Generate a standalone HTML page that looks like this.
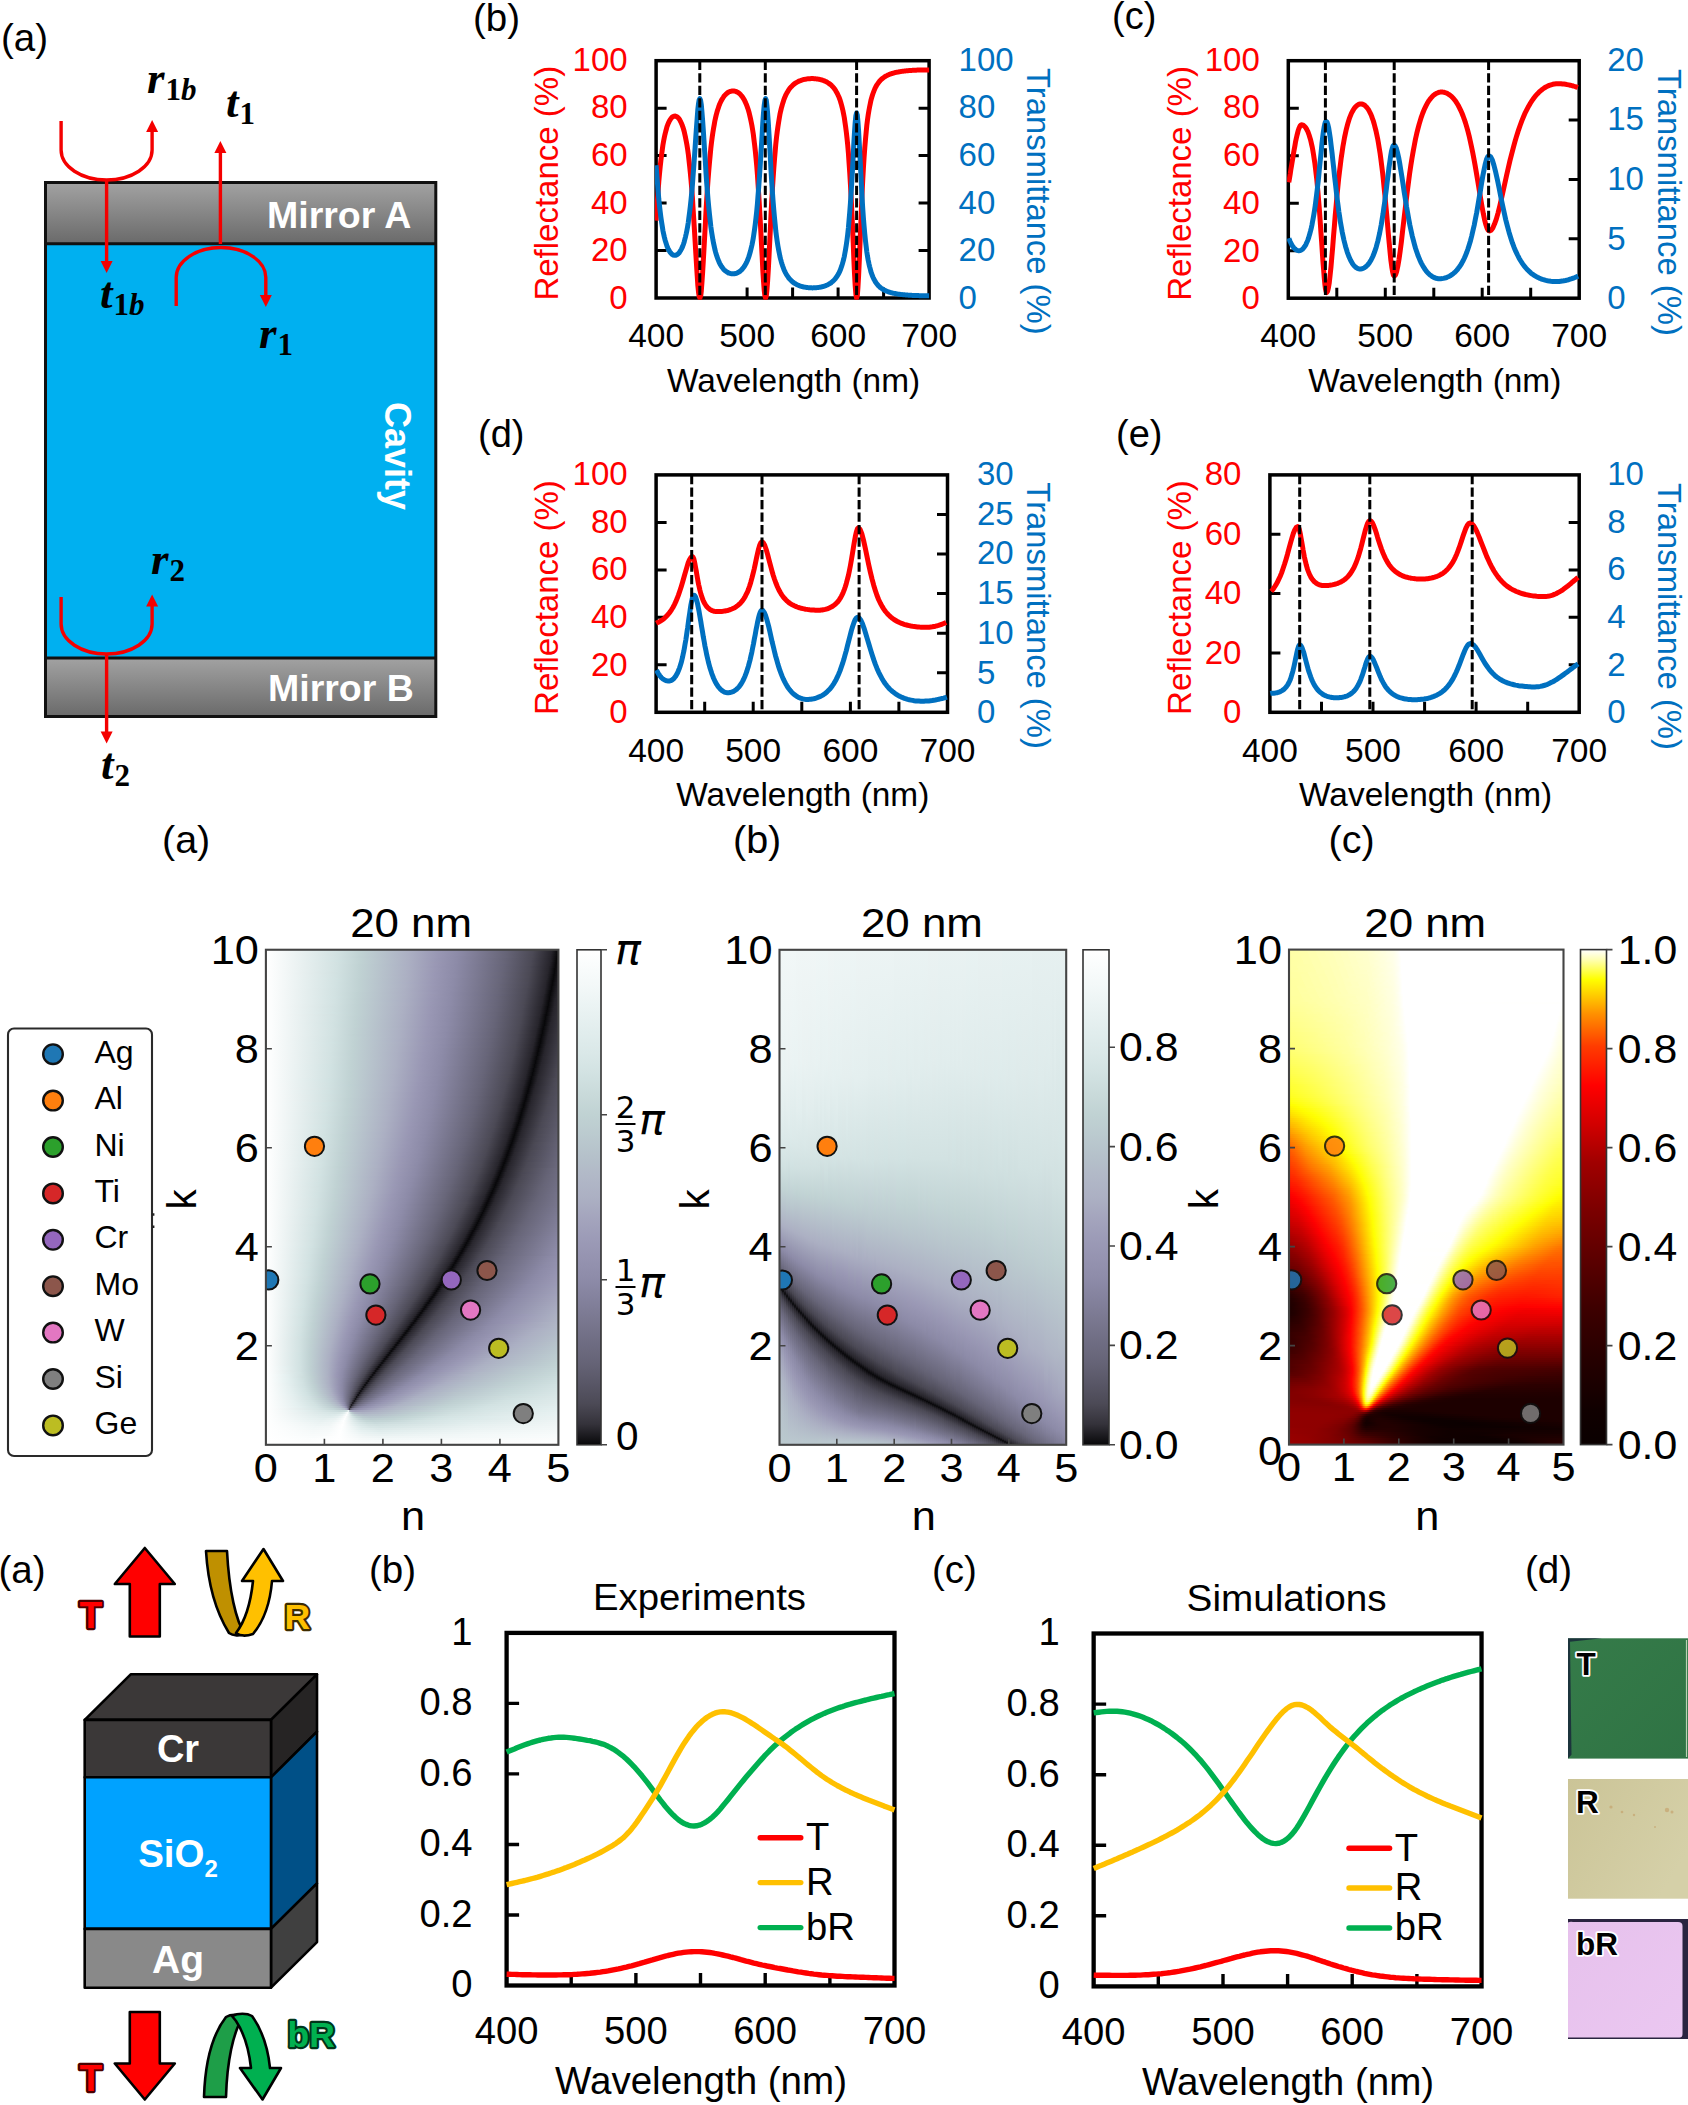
<!DOCTYPE html>
<html><head><meta charset="utf-8"><title>Figure</title>
<style>
html,body{margin:0;padding:0;background:#fff}
#pg{position:relative;width:1688px;height:2105px;overflow:hidden;background:#fff;font-family:"Liberation Sans", sans-serif}
#pg svg{position:absolute;left:0;top:0}
.hm{position:absolute;overflow:hidden}
.hm i{display:block;position:absolute}
.hr i{left:0;width:100%}
.vr i{top:0;height:100%}
svg text{font-family:"Liberation Sans", sans-serif}
</style></head><body><div id="pg">
<div class="hm hr" style="left:266px;top:950px;width:292px;height:495px"><i style="top:0px;height:2px;background:linear-gradient(90deg,#ffffff 0.2%,#d2e2e2 24.5%,#c0d2d3 32.4%,#acb0c3 48.8%,#9997b4 58.7%,#8d8ba8 65.6%,#676579 82%,#4b4954 91.6%,#27252c 97.8%,#0a090c 99.8%)"></i><i style="top:2px;height:2px;background:linear-gradient(90deg,#ffffff 0.2%,#d1e1e1 24.8%,#c0d2d3 32.4%,#acb0c3 48.8%,#9a99b5 58%,#8d8ba8 65.6%,#666477 82.4%,#4c4a56 91.3%,#26242b 97.8%,#08080a 99.8%)"></i><i style="top:4px;height:2px;background:linear-gradient(90deg,#ffffff 0.2%,#d0e0e0 25.2%,#c0d2d3 32.4%,#abafc3 49.1%,#9997b4 58.7%,#8d8ba8 65.6%,#676578 82%,#4b4955 91.3%,#28262d 97.4%,#08080a 99.8%)"></i><i style="top:6px;height:2px;background:linear-gradient(90deg,#ffffff 0.2%,#d2e2e2 24.1%,#c0d2d3 32%,#acb0c3 48.8%,#9997b4 58.7%,#8d8ba8 65.2%,#666477 82.4%,#4b4954 91.3%,#27252c 97.4%,#0a090c 99.5%,#08080a 99.8%)"></i><i style="top:8px;height:2px;background:linear-gradient(90deg,#ffffff 0.2%,#d2e2e2 24.1%,#c0d2d3 32.4%,#acb0c3 48.8%,#9997b4 58.4%,#8d8ba8 65.2%,#666477 82%,#4c4a56 90.9%,#26242b 97.4%,#08080a 99.5%,#0b0b0d 99.8%)"></i><i style="top:10px;height:2px;background:linear-gradient(90deg,#ffffff 0.2%,#d1e2e2 24.5%,#c0d2d3 32.4%,#acb0c3 48.5%,#9a99b5 57.7%,#8d8ba8 65.2%,#686679 81.3%,#4c4a57 90.6%,#2a2830 96.7%,#201f25 97.8%,#0b0b0d 99.1%,#08080a 99.5%,#0d0c0f 99.8%)"></i><i style="top:12px;height:2px;background:linear-gradient(90deg,#ffffff 0.2%,#d1e1e1 24.8%,#c0d2d3 32.4%,#acb0c3 48.5%,#9a98b4 58%,#8d8ba8 65.2%,#676578 81.7%,#4b4955 90.9%,#27252c 97.1%,#0a090c 99.1%,#08080a 99.5%,#0e0e11 99.8%)"></i><i style="top:14px;height:2px;background:linear-gradient(90deg,#ffffff 0.2%,#d2e2e2 24.1%,#c0d2d3 32%,#abafc3 48.8%,#9997b4 58.4%,#8d8ba8 64.9%,#676579 81.3%,#4c4a56 90.6%,#26242b 97.1%,#08080a 99.1%,#100f12 99.8%)"></i><i style="top:16px;height:2px;background:linear-gradient(90deg,#ffffff 0.2%,#d2e2e2 24.1%,#c0d2d3 32%,#acb0c3 48.5%,#9997b4 58%,#8d8ba8 64.9%,#686679 81%,#4c4a57 90.2%,#28262d 96.7%,#08080a 99.1%,#111114 99.8%)"></i><i style="top:18px;height:2px;background:linear-gradient(90deg,#ffffff 0.2%,#d2e2e2 24.1%,#c0d2d3 32%,#acb0c3 48.5%,#9997b4 58.4%,#8d8ba8 64.9%,#676578 81.3%,#4b4955 90.6%,#27252c 96.7%,#08080a 98.8%,#0a090c 99.1%,#141317 99.8%)"></i><i style="top:20px;height:2px;background:linear-gradient(90deg,#ffffff 0.2%,#d1e1e1 24.5%,#c0d2d3 32%,#acb0c3 48.1%,#9a98b4 57.7%,#8d8ba8 64.6%,#676579 81%,#4c4a56 90.2%,#26242b 96.7%,#08080a 98.8%,#141317 99.8%)"></i><i style="top:22px;height:2px;background:linear-gradient(90deg,#ffffff 0.2%,#d0e0e0 24.8%,#c0d2d3 32%,#acb0c3 48.1%,#9997b4 58%,#8c8aa7 64.9%,#69677a 80.3%,#4b4955 90.2%,#28262d 96.4%,#08080a 98.8%,#17161b 99.8%)"></i><i style="top:24px;height:2px;background:linear-gradient(90deg,#ffffff 0.2%,#d2e2e2 23.8%,#c0d2d3 32%,#abaec2 48.8%,#9a98b5 57.4%,#8d8ba8 64.6%,#676578 81%,#4b4954 90.2%,#29272e 96.1%,#1d1c21 97.1%,#08080a 98.5%,#0a090c 98.8%,#19181c 99.8%)"></i><i style="top:26px;height:2px;background:linear-gradient(90deg,#ffffff 0.2%,#d2e2e2 23.8%,#c0d2d3 32%,#acb0c3 48.1%,#9997b4 58%,#8d8ba8 64.6%,#676579 80.7%,#4c4a56 89.9%,#26242b 96.4%,#1a191e 97.1%,#08080a 98.5%,#1a191e 99.8%)"></i><i style="top:28px;height:2px;background:linear-gradient(90deg,#ffffff 0.2%,#d1e2e2 24.1%,#c0d2d3 31.7%,#abafc2 48.5%,#9a98b4 57.4%,#8d8ba8 64.2%,#69677a 80%,#4b4955 89.9%,#28262d 96.1%,#0e0e11 97.8%,#08080a 98.5%,#1d1c21 99.8%)"></i><i style="top:30px;height:2px;background:linear-gradient(90deg,#ffffff 0.2%,#d1e1e1 24.5%,#c0d2d3 31.7%,#acb0c3 47.8%,#9997b4 57.7%,#8d8ba8 64.2%,#676578 80.7%,#4b4954 89.9%,#29272e 95.7%,#1d1c21 96.7%,#08080a 98.1%,#0a090c 98.5%,#1f1d23 99.8%)"></i><i style="top:32px;height:2px;background:linear-gradient(90deg,#ffffff 0.2%,#d2e2e2 23.8%,#c0d2d3 31.7%,#abafc3 48.1%,#9a98b5 57%,#8d8ba8 64.2%,#68667a 80%,#4c4a56 89.6%,#28262d 95.7%,#08080a 98.1%,#201f25 99.8%)"></i><i style="top:34px;height:2px;background:linear-gradient(90deg,#ffffff 0.2%,#d2e2e2 23.8%,#c0d2d3 31.7%,#acb0c3 47.8%,#9997b4 57.7%,#8d8ba8 64.2%,#69677a 79.6%,#4b4955 89.6%,#27252c 95.7%,#0a090c 97.8%,#08080a 98.1%,#222026 99.8%)"></i><i style="top:36px;height:2px;background:linear-gradient(90deg,#ffffff 0.2%,#d2e2e2 23.8%,#c0d2d3 31.7%,#acb0c3 47.8%,#9a98b4 57%,#8d8ba8 63.9%,#676578 80.3%,#4b4954 89.6%,#26242b 95.7%,#08080a 97.8%,#232228 99.8%)"></i><i style="top:38px;height:2px;background:linear-gradient(90deg,#ffffff 0.2%,#d1e1e1 24.1%,#c0d2d3 31.7%,#acb0c3 47.4%,#9997b4 57.4%,#8e8ca9 63.5%,#68667a 79.6%,#4b4955 89.2%,#28262d 95.4%,#08080a 97.8%,#26242b 99.8%)"></i><i style="top:40px;height:2px;background:linear-gradient(90deg,#ffffff 0.2%,#d2e2e2 23.5%,#c0d2d3 31.7%,#acb0c3 47.4%,#9997b4 57%,#8d8ba8 63.9%,#69677a 79.3%,#4b4955 89.2%,#27252c 95.4%,#08080a 97.4%,#0a090c 97.8%,#27252c 99.8%)"></i><i style="top:42px;height:2px;background:linear-gradient(90deg,#ffffff 0.2%,#d2e2e2 23.5%,#c0d2d3 31.3%,#abaec2 48.1%,#9997b4 57.4%,#8d8ba8 63.5%,#676578 80%,#4c4a56 88.9%,#26242b 95.4%,#0b0b0d 97.1%,#08080a 97.4%,#28262d 99.8%)"></i><i style="top:44px;height:2px;background:linear-gradient(90deg,#ffffff 0.2%,#d2e2e2 23.5%,#c0d2d3 31.3%,#acb0c3 47.4%,#9a98b4 56.7%,#8d8ba8 63.5%,#676579 79.6%,#4b4955 88.9%,#28262d 95%,#0e0e11 96.7%,#08080a 97.4%,#1d1c21 98.8%,#29272e 99.8%)"></i><i style="top:46px;height:2px;background:linear-gradient(90deg,#ffffff 0.2%,#d1e2e2 23.8%,#c0d2d3 31.3%,#abafc2 47.8%,#9997b4 57%,#8e8ca9 63.2%,#69677a 78.9%,#4b4955 88.9%,#26242b 95%,#08080a 97.1%,#28262d 99.5%,#2a282f 99.8%)"></i><i style="top:48px;height:2px;background:linear-gradient(90deg,#ffffff 0.2%,#d2e2e2 23.5%,#c0d2d3 31%,#acb0c3 47.1%,#9997b4 56.7%,#8d8ba8 63.5%,#676578 79.6%,#4c4a56 88.5%,#28262d 94.7%,#08080a 97.1%,#26242b 99.1%,#2a2830 99.8%)"></i><i style="top:50px;height:2px;background:linear-gradient(90deg,#ffffff 0.2%,#d2e2e2 23.5%,#c0d2d3 31.3%,#abafc3 47.4%,#9a99b5 56%,#8d8ba8 63.2%,#676579 79.3%,#4b4955 88.5%,#27252c 94.7%,#0a090c 96.7%,#0a090c 97.1%,#232228 98.8%,#2b2931 99.8%)"></i><i style="top:52px;height:2px;background:linear-gradient(90deg,#ffffff 0.2%,#d2e2e2 23.5%,#c0d2d3 31.3%,#acb0c3 47.1%,#9997b4 56.7%,#8d8ba8 63.2%,#666477 79.6%,#4b4954 88.5%,#26242b 94.7%,#08080a 96.7%,#25232a 98.8%,#2c2a32 99.8%)"></i><i style="top:54px;height:2px;background:linear-gradient(90deg,#ffffff 0.2%,#d1e1e1 23.8%,#c0d2d3 31%,#acb0c3 47.1%,#9998b4 56.3%,#8d8ba8 63.2%,#676578 79.3%,#4b4955 88.2%,#28262d 94.3%,#08080a 96.7%,#26242b 98.8%,#2d2b32 99.8%)"></i><i style="top:56px;height:2px;background:linear-gradient(90deg,#ffffff 0.2%,#d0e0e0 24.1%,#c0d2d3 31%,#acb0c3 46.7%,#9997b4 56.3%,#8d8ba8 62.8%,#676579 78.9%,#4b4955 88.2%,#26242b 94.3%,#08080a 96.4%,#0a090c 96.7%,#28262d 98.8%,#2e2c34 99.8%)"></i><i style="top:58px;height:2px;background:linear-gradient(90deg,#ffffff 0.2%,#d2e2e2 23.1%,#c0d2d3 31%,#acb0c3 46.7%,#9997b4 56.3%,#8d8ba8 62.8%,#686679 78.6%,#4c4a56 87.8%,#28262d 94%,#08080a 96.4%,#26242b 98.5%,#2e2c34 99.8%)"></i><i style="top:60px;height:2px;background:linear-gradient(90deg,#ffffff 0.2%,#d2e2e2 23.1%,#c0d2d3 31%,#acb0c3 46.7%,#9997b4 56.3%,#8d8ba8 62.8%,#666477 79.3%,#4b4955 87.8%,#27252c 94%,#0a090c 96.1%,#0a090c 96.4%,#27252c 98.5%,#2f2d35 99.8%)"></i><i style="top:62px;height:2px;background:linear-gradient(90deg,#ffffff 0.2%,#d1e2e2 23.5%,#c0d2d3 31%,#acb0c3 46.7%,#9997b4 56.3%,#8d8ba8 62.5%,#666477 78.9%,#4b4955 87.8%,#26242b 94%,#08080a 96.1%,#25232a 98.1%,#302e36 99.8%)"></i><i style="top:64px;height:2px;background:linear-gradient(90deg,#ffffff 0.2%,#d0e0e0 24.1%,#c0d2d3 31%,#acb0c3 46.4%,#9997b4 56%,#8c8aa7 62.8%,#676578 78.6%,#4c4a56 87.5%,#28262d 93.7%,#0a090c 95.7%,#08080a 96.1%,#26242b 98.1%,#312f37 99.8%)"></i><i style="top:66px;height:2px;background:linear-gradient(90deg,#ffffff 0.2%,#d2e2e2 23.1%,#c0d2d3 30.7%,#acb0c3 46.4%,#9997b4 56%,#8d8ba8 62.5%,#676579 78.3%,#4b4955 87.5%,#26242b 93.7%,#08080a 95.7%,#28262d 98.1%,#323038 99.8%)"></i><i style="top:68px;height:2px;background:linear-gradient(90deg,#ffffff 0.2%,#d2e2e2 23.1%,#c0d2d3 30.7%,#abafc2 46.7%,#9997b4 56%,#8d8ba8 62.2%,#676578 78.3%,#4b4954 87.5%,#28262d 93.3%,#08080a 95.7%,#26242b 97.8%,#323039 99.8%)"></i><i style="top:70px;height:2px;background:linear-gradient(90deg,#ffffff 0.2%,#d1e1e1 23.5%,#c0d2d3 30.7%,#acb0c3 46.4%,#9997b4 55.7%,#8c8aa7 62.5%,#676578 78.3%,#4b4955 87.2%,#27252c 93.3%,#08080a 95.4%,#0a090c 95.7%,#27252c 97.8%,#34323a 99.8%)"></i><i style="top:72px;height:2px;background:linear-gradient(90deg,#ffffff 0.2%,#cfe0e0 24.1%,#c0d2d3 30.7%,#acb0c3 46.1%,#9997b4 55.7%,#8d8ba8 62.2%,#676579 77.9%,#4b4955 87.2%,#26242b 93.3%,#1a191e 94%,#08080a 95.4%,#0b0b0d 95.7%,#26242b 97.4%,#34323b 99.8%)"></i><i style="top:74px;height:2px;background:linear-gradient(90deg,#ffffff 0.2%,#d2e2e2 22.8%,#c0d2d3 30.7%,#acb0c3 46.1%,#9997b4 55.7%,#8d8ba8 62.2%,#666477 78.3%,#4c4a56 86.8%,#28262d 93%,#0e0e11 94.7%,#08080a 95.4%,#27252c 97.4%,#35333c 99.8%)"></i><i style="top:76px;height:2px;background:linear-gradient(90deg,#ffffff 0.2%,#d2e2e2 22.8%,#c0d2d3 30.7%,#abafc2 46.4%,#9997b4 55.3%,#8c8aa7 62.2%,#666477 78.3%,#4b4955 86.8%,#26242b 93%,#08080a 95%,#25232a 97.1%,#36343d 99.8%)"></i><i style="top:78px;height:2px;background:linear-gradient(90deg,#ffffff 0.2%,#d1e1e1 23.5%,#c0d1d3 30.7%,#acb0c3 46.1%,#9a98b5 55%,#8d8ba8 61.8%,#666477 77.9%,#4c4a56 86.5%,#28262d 92.6%,#0a090c 94.7%,#08080a 95%,#26242b 97.1%,#37353e 99.8%)"></i><i style="top:80px;height:2px;background:linear-gradient(90deg,#ffffff 0.2%,#d2e2e2 22.8%,#c0d2d3 30.3%,#acb0c3 45.7%,#9997b4 55.3%,#8d8ba8 61.8%,#676578 77.6%,#4b4955 86.5%,#26242b 92.6%,#08080a 94.7%,#28262d 97.1%,#38363f 99.8%)"></i><i style="top:82px;height:2px;background:linear-gradient(90deg,#ffffff 0.2%,#d2e2e2 22.8%,#c0d2d3 30.3%,#acb0c3 45.7%,#9a98b5 54.6%,#8c8aa7 61.8%,#676579 77.2%,#4b4954 86.5%,#28262d 92.3%,#08080a 94.7%,#26242b 96.7%,#393740 99.8%)"></i><i style="top:84px;height:2px;background:linear-gradient(90deg,#ffffff 0.2%,#d2e2e2 22.8%,#c0d2d3 30%,#acb0c3 45.7%,#9997b4 55%,#8d8ba8 61.5%,#656376 77.9%,#4b4955 86.1%,#27252c 92.3%,#08080a 94.3%,#0e0e11 95%,#28262d 96.7%,#3a3841 99.8%)"></i><i style="top:86px;height:2px;background:linear-gradient(90deg,#ffffff 0.2%,#d1e1e1 23.1%,#c0d2d3 30.3%,#acb0c3 45.7%,#9a98b4 54.6%,#8d8ba8 61.5%,#666477 77.6%,#4b4955 86.1%,#29272e 92%,#08080a 94.3%,#26242b 96.4%,#3b3942 99.8%)"></i><i style="top:88px;height:2px;background:linear-gradient(90deg,#ffffff 0.2%,#d2e2e2 22.4%,#c0d2d3 30.3%,#acb0c3 45.4%,#9998b4 54.6%,#8c8aa7 61.5%,#666477 77.2%,#4c4a56 85.8%,#27252c 92%,#08080a 94%,#0a090c 94.3%,#27252c 96.4%,#3b3943 99.8%)"></i><i style="top:90px;height:2px;background:linear-gradient(90deg,#ffffff 0.2%,#d2e2e2 22.4%,#c0d2d3 30%,#abafc3 45.7%,#9997b4 54.6%,#8d8ba8 61.1%,#676578 76.9%,#4b4955 85.8%,#26242b 92%,#0b0b0d 93.7%,#08080a 94%,#0b0b0d 94.3%,#26242b 96.1%,#3c3a44 99.8%)"></i><i style="top:92px;height:2px;background:linear-gradient(90deg,#ffffff 0.2%,#d1e2e2 22.8%,#c0d2d3 30%,#acb0c3 45.4%,#9a98b4 54.3%,#8d8ba8 61.1%,#676579 76.5%,#4c4a56 85.4%,#28262d 91.6%,#0e0e11 93.3%,#08080a 94%,#27252c 96.1%,#3d3b45 99.8%)"></i><i style="top:94px;height:2px;background:linear-gradient(90deg,#ffffff 0.2%,#d2e2e2 22.4%,#c0d2d3 30%,#abafc2 45.7%,#9997b4 54.6%,#8c8aa7 61.1%,#666477 76.9%,#4b4955 85.4%,#26242b 91.6%,#08080a 93.7%,#29272e 96.1%,#3e3c46 99.8%)"></i><i style="top:96px;height:2px;background:linear-gradient(90deg,#ffffff 0.2%,#d2e2e2 22.4%,#c0d2d3 30%,#acb0c3 45%,#9997b4 54.3%,#8d8ba8 60.8%,#676578 76.5%,#4b4954 85.4%,#28262d 91.3%,#0a090c 93.3%,#08080a 93.7%,#27252c 95.7%,#3f3d48 99.8%)"></i><i style="top:98px;height:2px;background:linear-gradient(90deg,#ffffff 0.2%,#d2e2e2 22.4%,#c0d2d3 30%,#acb0c3 45%,#9997b4 54.3%,#8d8ba8 60.4%,#666477 76.5%,#4a4854 85.4%,#26242b 91.3%,#08080a 93.3%,#28262d 95.7%,#403e48 99.8%)"></i><i style="top:100px;height:2px;background:linear-gradient(90deg,#ffffff 0.2%,#d2e2e2 22.4%,#c0d2d3 29.6%,#acb0c3 45%,#9997b4 54.3%,#8d8ba8 60.4%,#676578 76.2%,#4c4a56 84.8%,#28262d 90.9%,#25232a 91.3%,#0a090c 93%,#08080a 93.3%,#27252c 95.4%,#413f4a 99.8%)"></i><i style="top:102px;height:2px;background:linear-gradient(90deg,#ffffff 0.2%,#d2e2e2 22.1%,#c0d2d3 29.6%,#acb0c3 44.7%,#9997b4 53.9%,#8d8ba8 60.4%,#676579 75.9%,#4a4854 85.1%,#26242b 90.9%,#08080a 93%,#28262d 95.4%,#42404b 99.8%)"></i><i style="top:104px;height:2px;background:linear-gradient(90deg,#ffffff 0.2%,#d2e2e2 22.1%,#c0d2d3 29.6%,#acb0c3 44.7%,#9997b4 53.9%,#8d8ba8 60.1%,#676578 75.9%,#4b4955 84.8%,#28262d 90.6%,#08080a 93%,#26242b 95%,#43414c 99.8%)"></i><i style="top:106px;height:2px;background:linear-gradient(90deg,#ffffff 0.2%,#d1e1e1 22.8%,#c0d2d3 29.6%,#acb0c3 44.7%,#9997b4 53.9%,#8c8aa7 60.4%,#676579 75.5%,#4c4a56 84.4%,#27252c 90.6%,#08080a 92.6%,#28262d 95%,#44424d 99.8%)"></i><i style="top:108px;height:2px;background:linear-gradient(90deg,#ffffff 0.2%,#d2e2e2 22.1%,#c0d2d3 29.6%,#acb0c3 44.7%,#9997b4 53.6%,#8c8aa7 60.4%,#666477 75.9%,#4b4955 84.4%,#28262d 90.2%,#08080a 92.6%,#26242b 94.7%,#45434e 99.8%)"></i><i style="top:110px;height:2px;background:linear-gradient(90deg,#ffffff 0.2%,#d2e2e2 22.1%,#c0d2d3 29.3%,#acb0c3 44.3%,#9997b4 53.6%,#8d8ba8 59.8%,#676578 75.5%,#4c4a56 84.1%,#27252c 90.2%,#08080a 92.3%,#28262d 94.7%,#464450 99.8%)"></i><i style="top:112px;height:2px;background:linear-gradient(90deg,#ffffff 0.2%,#d2e2e2 22.1%,#c0d2d3 29.3%,#acb0c3 44.3%,#9997b4 53.6%,#8d8ba8 59.8%,#676578 75.2%,#4b4955 84.1%,#28262d 89.9%,#08080a 92.3%,#26242b 94.3%,#474550 99.8%)"></i><i style="top:114px;height:2px;background:linear-gradient(90deg,#ffffff 0.2%,#d1e2e2 22.1%,#c0d2d3 29.3%,#acb0c3 44.3%,#9997b4 53.3%,#8d8ba8 59.8%,#686679 74.8%,#4c4a56 83.7%,#27252c 89.9%,#08080a 92%,#28262d 94.3%,#484652 99.8%)"></i><i style="top:116px;height:2px;background:linear-gradient(90deg,#ffffff 0.2%,#d1e2e2 22.1%,#c0d2d3 29.3%,#abafc2 44.7%,#9997b4 53.3%,#8d8ba8 59.4%,#666477 75.2%,#4b4955 83.7%,#28262d 89.6%,#08080a 92%,#27252c 94%,#494753 99.8%)"></i><i style="top:118px;height:2px;background:linear-gradient(90deg,#ffffff 0.2%,#d1e2e2 22.1%,#c0d2d3 29.3%,#acb0c3 44%,#9997b4 53.3%,#8d8ba8 59.4%,#676578 74.8%,#4c4a56 83.4%,#27252c 89.6%,#08080a 91.6%,#28262d 94%,#4b4954 99.8%)"></i><i style="top:120px;height:2px;background:linear-gradient(90deg,#ffffff 0.2%,#d2e2e2 21.7%,#c0d2d3 28.9%,#acb0c3 44%,#9997b4 52.9%,#8d8ba8 59.1%,#676579 74.5%,#4b4955 83.4%,#28262d 89.2%,#08080a 91.6%,#27252c 93.7%,#4b4955 99.8%)"></i><i style="top:122px;height:2px;background:linear-gradient(90deg,#ffffff 0.2%,#d2e2e2 21.7%,#c0d2d3 28.9%,#acb0c3 44%,#9a98b4 52.6%,#8c8aa7 59.4%,#676578 74.5%,#4b4954 83.4%,#27252c 89.2%,#08080a 91.3%,#28262d 93.7%,#4c4a56 99.8%)"></i><i style="top:124px;height:2px;background:linear-gradient(90deg,#ffffff 0.2%,#d2e2e2 21.7%,#c0d2d3 28.9%,#acb0c3 43.7%,#9998b4 52.6%,#8d8ba8 59.1%,#676579 74.1%,#4b4955 83%,#28262d 88.9%,#08080a 91.3%,#27252c 93.3%,#4c4a57 99.8%)"></i><i style="top:126px;height:2px;background:linear-gradient(90deg,#ffffff 0.2%,#d2e2e2 21.7%,#c0d2d3 28.9%,#acb0c3 43.7%,#9997b4 52.6%,#8c8aa7 59.1%,#676578 74.1%,#4b4954 83%,#27252c 88.9%,#08080a 90.9%,#29272e 93.3%,#4d4b57 99.8%)"></i><i style="top:128px;height:2px;background:linear-gradient(90deg,#ffffff 0.2%,#d1e2e2 21.7%,#c0d2d3 28.9%,#acb0c3 43.7%,#9997b4 52.6%,#8d8ba8 58.7%,#676579 73.8%,#4b4955 82.7%,#28262d 88.5%,#25232a 88.9%,#0a090c 90.6%,#08080a 90.9%,#27252c 93%,#4a4854 98.8%,#4e4c58 99.8%)"></i><i style="top:130px;height:2px;background:linear-gradient(90deg,#ffffff 0.2%,#d1e2e2 21.7%,#c0d2d3 28.6%,#acb0c3 43.3%,#9997b4 52.6%,#8d8ba8 58.4%,#666477 74.1%,#4b4954 82.7%,#26242b 88.5%,#08080a 90.6%,#29272e 93%,#474550 98.1%,#4e4c59 99.8%)"></i><i style="top:132px;height:2px;background:linear-gradient(90deg,#ffffff 0.2%,#d2e2e2 21.4%,#c0d2d3 28.6%,#acb0c3 43.3%,#9997b4 52.2%,#8c8aa7 58.7%,#676578 73.8%,#4b4955 82.4%,#28262d 88.2%,#25232a 88.5%,#0e0e11 89.9%,#08080a 90.6%,#27252c 92.6%,#4a4854 98.5%,#4f4d5a 99.8%)"></i><i style="top:134px;height:2px;background:linear-gradient(90deg,#ffffff 0.2%,#d2e2e2 21.4%,#bfd1d3 28.9%,#acb0c3 43.3%,#9997b4 52.2%,#8d8ba8 58.4%,#676578 73.5%,#4c4a56 82%,#26242b 88.2%,#08080a 90.2%,#0b0b0d 90.6%,#26242b 92.3%,#4b4955 98.5%,#4f4d5a 99.8%)"></i><i style="top:136px;height:2px;background:linear-gradient(90deg,#ffffff 0.2%,#d2e2e2 21.4%,#c0d2d3 28.6%,#acb0c3 43%,#9997b4 51.9%,#8c8aa7 58.4%,#676578 73.5%,#4b4955 82%,#28262d 87.8%,#0a090c 89.9%,#0a090c 90.2%,#28262d 92.3%,#464450 97.4%,#504e5b 99.8%)"></i><i style="top:138px;height:2px;background:linear-gradient(90deg,#ffffff 0.2%,#d3e2e2 21.1%,#c0d2d3 28.6%,#acb0c3 43%,#9997b4 51.9%,#8d8ba8 58%,#676578 73.1%,#4c4a56 81.7%,#26242b 87.8%,#0b0b0d 89.6%,#08080a 89.9%,#222026 91.6%,#29272e 92.3%,#494753 97.8%,#504e5c 99.8%)"></i><i style="top:140px;height:2px;background:linear-gradient(90deg,#ffffff 0.2%,#d1e2e2 21.4%,#c0d2d3 28.3%,#acb0c3 43%,#9997b4 51.9%,#8d8ba8 57.7%,#676578 73.1%,#4b4955 81.7%,#27252c 87.5%,#08080a 89.6%,#0a090c 89.9%,#25232a 91.6%,#28262d 92%,#4b4954 97.8%,#514f5c 99.8%)"></i><i style="top:142px;height:2px;background:linear-gradient(90deg,#ffffff 0.2%,#d1e2e2 21.4%,#c0d2d3 28.3%,#acb0c3 42.6%,#9997b4 51.5%,#8d8ba8 57.7%,#676578 72.8%,#4c4a56 81.3%,#26242b 87.5%,#100f12 88.9%,#08080a 89.6%,#27252c 91.6%,#4b4955 97.8%,#514f5d 99.8%)"></i><i style="top:144px;height:2px;background:linear-gradient(90deg,#ffffff 0.2%,#d2e2e2 21.1%,#c0d2d3 28.3%,#acb0c3 42.6%,#9997b4 51.5%,#8d8ba8 57.7%,#676578 72.8%,#4b4955 81.3%,#27252c 87.2%,#08080a 89.2%,#29272e 91.6%,#494752 97.1%,#52505e 99.8%)"></i><i style="top:146px;height:2px;background:linear-gradient(90deg,#ffffff 0.2%,#d2e2e2 21.1%,#c0d2d3 28.3%,#acb0c3 42.6%,#9997b4 51.5%,#8d8ba8 57.4%,#676578 72.4%,#4a4854 81.3%,#29272e 86.8%,#201f25 87.5%,#0a090c 88.9%,#08080a 89.2%,#232228 90.9%,#2a282f 91.6%,#4a4854 97.1%,#53515f 99.8%)"></i><i style="top:148px;height:2px;background:linear-gradient(90deg,#ffffff 0.2%,#d2e2e2 21.1%,#c0d2d3 27.9%,#acb0c3 42.3%,#9997b4 51.2%,#8d8ba8 57.4%,#676578 72.4%,#4c4a56 80.7%,#27252c 86.8%,#08080a 88.9%,#0b0b0d 89.2%,#26242b 90.9%,#494753 96.7%,#53515f 99.8%)"></i><i style="top:150px;height:2px;background:linear-gradient(90deg,#ffffff 0.2%,#d3e2e2 20.7%,#c0d2d3 27.9%,#acb0c3 42.3%,#9997b4 51.2%,#8d8ba8 57%,#676578 72.1%,#4b4955 80.7%,#28262d 86.5%,#25232a 86.8%,#0a090c 88.5%,#0a090c 88.9%,#28262d 90.9%,#4b4954 96.7%,#545261 99.8%)"></i><i style="top:152px;height:2px;background:linear-gradient(90deg,#ffffff 0.2%,#d1e2e2 21.1%,#c0d2d3 27.9%,#acb0c3 42.3%,#9997b4 50.9%,#8d8ba8 57%,#676578 72.1%,#4c4a56 80.3%,#26242b 86.5%,#0b0b0d 88.2%,#08080a 88.5%,#222026 90.2%,#29272e 90.9%,#4b4955 96.7%,#555361 99.8%)"></i><i style="top:154px;height:2px;background:linear-gradient(90deg,#ffffff 0.2%,#d1e2e2 21.1%,#c0d2d3 27.9%,#acb0c3 42%,#9997b4 50.9%,#8d8ba8 56.7%,#666477 72.1%,#4b4955 80.3%,#27252c 86.1%,#08080a 88.2%,#0a090c 88.5%,#25232a 90.2%,#2a2830 90.9%,#4b4954 96.4%,#555362 99.8%)"></i><i style="top:156px;height:2px;background:linear-gradient(90deg,#ffffff 0.2%,#d2e2e2 20.7%,#c0d2d3 27.9%,#acb0c3 42%,#9998b4 50.5%,#8d8ba8 56.7%,#676579 71.4%,#4b4954 80.3%,#29272e 85.8%,#08080a 88.2%,#27252c 90.2%,#2a282f 90.6%,#4c4a56 96.4%,#565463 99.8%)"></i><i style="top:158px;height:2px;background:linear-gradient(90deg,#ffffff 0.2%,#d2e2e2 20.7%,#c0d2d3 27.6%,#acb0c3 42%,#9997b4 50.5%,#8c8aa6 57%,#676578 71.4%,#4b4955 80%,#27252c 85.8%,#08080a 87.8%,#100f12 88.5%,#26242b 89.9%,#2b2930 90.6%,#4b4955 96.1%,#575564 99.8%)"></i><i style="top:160px;height:2px;background:linear-gradient(90deg,#ffffff 0.2%,#d2e2e2 20.7%,#c0d2d3 27.6%,#acb0c3 41.6%,#9997b4 50.5%,#8d8ba8 56.3%,#676579 71.1%,#4c4a56 79.6%,#28262d 85.4%,#25232a 85.8%,#0a090c 87.5%,#0a090c 87.8%,#28262d 89.9%,#4b4954 95.7%,#575564 99.8%)"></i><i style="top:162px;height:2px;background:linear-gradient(90deg,#ffffff 0.2%,#d2e2e2 20.4%,#c0d2d3 27.6%,#acb0c3 41.6%,#9997b4 50.2%,#8d8ba8 56.3%,#676578 71.1%,#4c4a56 79.3%,#26242b 85.4%,#0b0b0d 87.2%,#08080a 87.5%,#222026 89.2%,#29272e 89.9%,#4a4854 95.4%,#585665 99.8%)"></i><i style="top:164px;height:2px;background:linear-gradient(90deg,#ffffff 0.2%,#d1e2e2 20.7%,#c0d2d3 27.6%,#acb0c3 41.6%,#9997b4 50.2%,#8d8ba8 56%,#676579 70.7%,#4b4955 79.3%,#27252c 85.1%,#08080a 87.2%,#0a090c 87.5%,#201f25 88.9%,#29272e 89.6%,#4b4955 95.4%,#595766 99.8%)"></i><i style="top:166px;height:2px;background:linear-gradient(90deg,#ffffff 0.2%,#d2e2e2 20.4%,#c0d2d3 27.2%,#acb0c3 41.3%,#9998b4 49.8%,#8d8ba8 56%,#666477 71.1%,#4c4a56 78.9%,#29272e 84.8%,#201f25 85.4%,#0a090c 86.8%,#08080a 87.2%,#232228 88.9%,#2a282f 89.6%,#4b4954 95%,#595767 99.8%)"></i><i style="top:168px;height:2px;background:linear-gradient(90deg,#ffffff 0.2%,#d2e2e2 20.4%,#c0d2d3 27.2%,#acb0c3 41.3%,#9997b4 49.8%,#8d8ba8 55.7%,#676578 70.4%,#4b4955 78.9%,#27252c 84.8%,#08080a 86.8%,#0b0b0d 87.2%,#222026 88.5%,#29272e 89.2%,#4a4854 94.7%,#5a5868 99.8%)"></i><i style="top:170px;height:2px;background:linear-gradient(90deg,#ffffff 0.2%,#d2e2e2 20.4%,#c0d2d3 27.2%,#acb0c3 41.3%,#9998b4 49.5%,#8d8ba8 55.7%,#676578 70.4%,#4c4a56 78.6%,#28262d 84.4%,#25232a 84.8%,#0a090c 86.5%,#0a090c 86.8%,#25232a 88.5%,#312f37 90.2%,#4b4955 94.7%,#5b5968 99.8%)"></i><i style="top:172px;height:2px;background:linear-gradient(90deg,#ffffff 0.2%,#d3e2e2 20%,#c0d2d3 27.2%,#acb0c3 40.9%,#9997b4 49.5%,#8d8ba8 55.3%,#676578 70%,#4c4a56 78.3%,#26242b 84.4%,#100f12 85.8%,#08080a 86.5%,#27252c 88.5%,#2a282f 88.9%,#4b4954 94.3%,#5c5a6a 99.8%)"></i><i style="top:174px;height:2px;background:linear-gradient(90deg,#ffffff 0.2%,#d1e2e2 20.4%,#c0d1d3 27.2%,#acb0c3 40.9%,#9997b4 49.5%,#8d8ba8 55.3%,#676578 70%,#4b4955 78.3%,#27252c 84.1%,#08080a 86.1%,#0b0b0d 86.5%,#26242b 88.2%,#2d2b33 89.2%,#4b4955 94.3%,#5c5a6a 99.8%)"></i><i style="top:176px;height:2px;background:linear-gradient(90deg,#ffffff 0.2%,#d1e2e2 20.4%,#c0d2d3 26.9%,#acb0c3 40.9%,#9997b4 49.1%,#8d8ba8 55%,#676578 69.7%,#4b4954 78.3%,#28262d 83.7%,#25232a 84.1%,#0a090c 85.8%,#0a090c 86.1%,#25232a 87.8%,#28262d 88.2%,#494753 93.7%,#5d5b6b 99.8%)"></i><i style="top:178px;height:2px;background:linear-gradient(90deg,#ffffff 0.2%,#d2e2e2 20%,#c0d2d3 26.9%,#acb0c3 40.6%,#9997b4 49.1%,#8d8ba8 55%,#676579 69.3%,#4b4955 77.9%,#26242b 83.7%,#0b0b0d 85.4%,#08080a 85.8%,#27252c 87.8%,#2a282f 88.2%,#4b4954 93.7%,#5e5c6c 99.8%)"></i><i style="top:180px;height:2px;background:linear-gradient(90deg,#ffffff 0.2%,#d2e2e2 20%,#c0d2d3 26.9%,#acb0c3 40.6%,#9997b4 49.1%,#8c8aa7 55%,#666477 69.7%,#4a4854 77.9%,#27252c 83.4%,#08080a 85.4%,#100f12 86.1%,#26242b 87.5%,#2d2b33 88.5%,#4a4854 93.3%,#5e5c6d 99.8%)"></i><i style="top:182px;height:2px;background:linear-gradient(90deg,#ffffff 0.2%,#d2e2e2 20%,#c0d1d3 26.9%,#abafc3 40.6%,#9997b4 48.8%,#8d8ba8 54.6%,#676578 69%,#4c4a56 77.2%,#29272e 83%,#0a090c 85.1%,#0a090c 85.4%,#25232a 87.2%,#28262d 87.5%,#494753 93%,#5f5d6e 99.8%)"></i><i style="top:184px;height:2px;background:linear-gradient(90deg,#ffffff 0.2%,#d2e2e2 19.7%,#c0d2d3 26.5%,#acb0c3 40.2%,#9998b4 48.5%,#8c8aa7 54.6%,#676578 69%,#4b4955 77.2%,#26242b 83%,#100f12 84.4%,#08080a 85.1%,#27252c 87.2%,#34323b 89.2%,#4c4a56 93.3%,#605e6f 99.8%)"></i><i style="top:186px;height:2px;background:linear-gradient(90deg,#ffffff 0.2%,#d1e2e2 20%,#c0d2d3 26.5%,#acb0c3 40.2%,#9997b4 48.5%,#8d8ba8 54.3%,#666477 69%,#4c4a56 76.9%,#27252c 82.7%,#08080a 84.8%,#0b0b0d 85.1%,#26242b 86.8%,#484652 92.3%,#615f70 99.8%)"></i><i style="top:188px;height:2px;background:linear-gradient(90deg,#ffffff 0.2%,#d2e2e2 19.7%,#c0d2d3 26.5%,#abafc3 40.2%,#9998b4 48.1%,#8c8aa7 54.3%,#676579 68.3%,#4c4a56 76.5%,#29272e 82.4%,#0a090c 84.4%,#0a090c 84.8%,#29272e 86.8%,#4b4955 92.6%,#615f71 99.8%)"></i><i style="top:190px;height:2px;background:linear-gradient(90deg,#ffffff 0.2%,#d2e2e2 19.7%,#c0d2d3 26.2%,#acb0c3 39.9%,#9896b3 48.5%,#8d8ba8 53.9%,#666477 68.7%,#4b4955 76.5%,#26242b 82.4%,#100f12 83.7%,#08080a 84.4%,#27252c 86.5%,#474550 91.6%,#626072 99.8%)"></i><i style="top:192px;height:2px;background:linear-gradient(90deg,#ffffff 0.2%,#d2e2e2 19.7%,#c0d2d3 26.2%,#acb0c3 39.6%,#9997b4 48.1%,#8c8aa7 53.9%,#676578 68%,#4c4a56 76.2%,#27252c 82%,#08080a 84.1%,#0b0b0d 84.4%,#27252c 86.1%,#4b4954 92%,#636173 99.8%)"></i><i style="top:194px;height:2px;background:linear-gradient(90deg,#ffffff 0.2%,#d2e2e2 19.3%,#c0d2d3 26.2%,#acb0c3 39.6%,#9997b4 47.8%,#8d8ba8 53.6%,#676578 68%,#4b4954 76.2%,#28262d 81.7%,#25232a 82%,#08080a 83.7%,#0a090c 84.1%,#201f25 85.4%,#29272e 86.1%,#4a4854 91.6%,#646274 99.8%)"></i><i style="top:196px;height:2px;background:linear-gradient(90deg,#ffffff 0.2%,#d1e2e2 19.7%,#c0d1d3 26.2%,#acb1c3 39.2%,#9997b4 47.8%,#8d8ba8 53.3%,#676578 67.6%,#4b4955 75.9%,#29272e 81.3%,#201f25 82%,#0a090c 83.4%,#08080a 83.7%,#28262d 85.8%,#494753 91.3%,#646275 99.8%)"></i><i style="top:198px;height:2px;background:linear-gradient(90deg,#ffffff 0.2%,#d2e2e2 19.3%,#c0d2d3 25.9%,#abafc3 39.6%,#9997b4 47.4%,#8e8ca9 52.9%,#666477 67.6%,#4c4a56 75.5%,#27252c 81.3%,#08080a 83.4%,#27252c 85.4%,#474550 90.6%,#656376 99.8%)"></i><i style="top:200px;height:2px;background:linear-gradient(90deg,#ffffff 0.2%,#d2e2e2 19.3%,#c0d2d3 25.9%,#acb0c3 39.2%,#9997b4 47.4%,#8d8ba8 52.9%,#676578 67.3%,#4b4954 75.5%,#28262d 81%,#08080a 83%,#100f12 83.7%,#26242b 85.1%,#4b4954 90.9%,#666477 99.8%)"></i><i style="top:202px;height:2px;background:linear-gradient(90deg,#ffffff 0.2%,#d2e2e2 19.3%,#c0d2d3 25.5%,#acb0c3 38.9%,#9997b4 47.1%,#8d8ba8 52.9%,#676578 67%,#4b4955 75.2%,#29272e 80.7%,#0a090c 82.7%,#0a090c 83%,#29272e 85.1%,#4a4854 90.6%,#676578 99.8%)"></i><i style="top:204px;height:2px;background:linear-gradient(90deg,#ffffff 0.2%,#d2e2e2 19%,#c0d1d3 25.9%,#acb0c3 38.9%,#9997b4 47.1%,#8d8ba8 52.6%,#676579 66.6%,#4a4854 75.2%,#26242b 80.7%,#0a090c 82.4%,#08080a 82.7%,#28262d 84.8%,#4b4955 90.6%,#676579 99.8%)"></i><i style="top:206px;height:2px;background:linear-gradient(90deg,#ffffff 0.2%,#d1e2e2 19.3%,#c0d2d3 25.5%,#acb1c3 38.5%,#9997b4 46.7%,#8d8ba8 52.6%,#676578 66.6%,#4b4954 74.8%,#27252c 80.3%,#08080a 82.4%,#27252c 84.4%,#4b4955 90.2%,#686679 99.8%)"></i><i style="top:208px;height:2px;background:linear-gradient(90deg,#ffffff 0.2%,#d2e2e2 19%,#c0d2d3 25.5%,#acb0c3 38.5%,#9a98b4 46.4%,#8d8ba8 52.2%,#676578 66.3%,#4b4955 74.5%,#28262d 80%,#08080a 82%,#100f12 82.7%,#26242b 84.1%,#4b4954 89.9%,#69677a 99.8%)"></i><i style="top:210px;height:2px;background:linear-gradient(90deg,#ffffff 0.2%,#d1e1e1 19.3%,#c0d1d3 25.5%,#acb0c3 38.5%,#9997b4 46.4%,#8d8ba8 52.2%,#676579 65.9%,#4b4955 74.1%,#29272e 79.6%,#0a090c 81.7%,#0a090c 82%,#29272e 84.1%,#484652 89.2%,#69677b 99.8%)"></i><i style="top:212px;height:2px;background:linear-gradient(90deg,#ffffff 0.2%,#d2e2e2 19%,#c0d2d3 25.2%,#abafc3 38.5%,#9a98b4 46.1%,#8d8ba8 51.9%,#676578 65.9%,#4c4a56 73.8%,#26242b 79.6%,#0a090c 81.3%,#08080a 81.7%,#25232a 83.4%,#46444f 88.5%,#4d4b57 89.9%,#6a687c 99.8%)"></i><i style="top:214px;height:2px;background:linear-gradient(90deg,#ffffff 0.2%,#d1e1e1 19.3%,#c0d2d3 25.2%,#acb0c3 38.2%,#9997b4 46.1%,#8c8aa7 51.9%,#676578 65.6%,#4b4954 73.8%,#27252c 79.3%,#08080a 81.3%,#27252c 83.4%,#4b4955 89.2%,#6a687c 99.8%)"></i><i style="top:216px;height:2px;background:linear-gradient(90deg,#ffffff 0.2%,#d2e2e2 18.7%,#c0d2d3 24.8%,#acb0c3 38.2%,#9a98b4 45.7%,#8d8ba8 51.5%,#676579 65.2%,#4b4955 73.5%,#28262d 78.9%,#08080a 81%,#0b0b0d 81.3%,#27252c 83%,#4b4955 88.9%,#6b697d 99.8%)"></i><i style="top:218px;height:2px;background:linear-gradient(90deg,#ffffff 0.2%,#d0e0e0 19.3%,#c0d1d3 25.2%,#abafc2 38.2%,#9997b4 45.7%,#8d8ba8 51.2%,#676578 65.2%,#4b4955 73.1%,#29272e 78.6%,#0a090c 80.7%,#0a090c 81%,#26242b 82.7%,#4b4954 88.5%,#666476 97.1%,#6c6a7e 99.8%)"></i><i style="top:220px;height:2px;background:linear-gradient(90deg,#ffffff 0.2%,#d2e2e2 18.7%,#c0d2d3 24.8%,#acb0c3 37.8%,#9a98b4 45.4%,#8d8ba8 51.2%,#676578 64.9%,#4b4954 73.1%,#29272e 78.3%,#201f25 78.9%,#0a090c 80.3%,#0a090c 80.7%,#29272e 82.7%,#4b4954 88.2%,#646275 96.4%,#6d6b7f 99.8%)"></i><i style="top:222px;height:2px;background:linear-gradient(90deg,#ffffff 0.2%,#d1e1e1 19%,#c0d2d3 24.8%,#acb0c3 37.5%,#9997b4 45.4%,#8d8ba8 50.9%,#676578 64.6%,#4b4954 72.8%,#27252c 78.3%,#100f12 79.6%,#08080a 80.3%,#25232a 82%,#28262d 82.4%,#484652 87.5%,#636173 95.7%,#6d6b80 99.8%)"></i><i style="top:224px;height:2px;background:linear-gradient(90deg,#ffffff 0.2%,#d1e2e2 18.7%,#c0d1d3 24.8%,#acb0c3 37.5%,#9a98b4 45%,#8d8ba8 50.9%,#676578 64.6%,#4b4955 72.4%,#27252c 77.9%,#08080a 80%,#27252c 82%,#4b4955 87.8%,#666477 96.4%,#6e6c81 99.8%)"></i><i style="top:226px;height:2px;background:linear-gradient(90deg,#ffffff 0.2%,#d2e2e2 18.3%,#c0d2d3 24.5%,#abafc3 37.5%,#9896b3 45.4%,#8d8ba8 50.5%,#676578 64.2%,#4b4955 72.1%,#28262d 77.6%,#08080a 79.6%,#161519 80.7%,#27252c 81.7%,#4b4955 87.5%,#656375 95.7%,#6e6c81 99.8%)"></i><i style="top:228px;height:2px;background:linear-gradient(90deg,#ffffff 0.2%,#d1e1e1 18.7%,#c0d2d3 24.5%,#acb0c3 37.2%,#9997b4 45%,#8c8aa7 50.5%,#676578 63.9%,#4c4a56 71.7%,#29272e 77.2%,#08080a 79.3%,#0a090c 79.6%,#27252c 81.3%,#494753 86.8%,#656375 95.4%,#6f6d82 99.8%)"></i><i style="top:230px;height:2px;background:linear-gradient(90deg,#ffffff 0.2%,#d2e2e2 18.3%,#c0d2d3 24.1%,#acb0c3 36.8%,#9997b4 44.7%,#8d8ba8 50.2%,#666477 63.9%,#4b4954 71.7%,#29272e 76.9%,#0a090c 78.9%,#0a090c 79.3%,#1c1a20 80.3%,#29272e 81.3%,#4b4954 86.8%,#676578 95.7%,#706e83 99.8%)"></i><i style="top:232px;height:2px;background:linear-gradient(90deg,#ffffff 0.2%,#d1e2e2 18.3%,#c0d2d3 24.1%,#acb0c3 36.8%,#9998b4 44.3%,#8d8ba8 49.8%,#676578 63.5%,#4b4954 71.4%,#26242b 76.9%,#0a090c 78.6%,#0a090c 78.9%,#29272e 81%,#4b4954 86.5%,#676578 95.4%,#716f84 99.8%)"></i><i style="top:234px;height:2px;background:linear-gradient(90deg,#ffffff 0.2%,#d2e2e2 18%,#c0d2d3 24.1%,#acb0c3 36.8%,#9a98b5 44%,#8d8ba8 49.8%,#686679 62.8%,#4b4955 71.1%,#27252c 76.5%,#100f12 77.9%,#08080a 78.6%,#29272e 80.7%,#4b4954 86.1%,#676578 95%,#716f85 99.8%)"></i><i style="top:236px;height:2px;background:linear-gradient(90deg,#ffffff 0.2%,#d1e1e1 18.3%,#c0d2d3 24.1%,#acb0c3 36.5%,#9998b4 44%,#8d8ba8 49.5%,#676578 62.8%,#4b4955 70.7%,#27252c 76.2%,#08080a 78.3%,#28262d 80.3%,#4b4954 85.8%,#666476 94.3%,#727086 99.8%)"></i><i style="top:238px;height:2px;background:linear-gradient(90deg,#ffffff 0.2%,#d2e2e2 18%,#c0d2d3 23.8%,#acb0c3 36.5%,#9a98b5 43.7%,#8d8ba8 49.1%,#686679 62.5%,#4c4a56 70.4%,#28262d 75.9%,#08080a 77.9%,#27252c 80%,#4a4854 85.4%,#666476 94%,#737187 99.8%)"></i><i style="top:240px;height:2px;background:linear-gradient(90deg,#ffffff 0.2%,#d1e1e1 18.3%,#c0d2d3 23.8%,#abafc2 36.5%,#9997b4 44%,#8d8ba8 49.1%,#676578 62.5%,#4b4954 70.4%,#29272e 75.5%,#08080a 77.6%,#161519 78.6%,#27252c 79.6%,#4a4854 85.1%,#666476 93.7%,#737188 99.8%)"></i><i style="top:242px;height:2px;background:linear-gradient(90deg,#ffffff 0.2%,#d2e2e2 17.6%,#c0d2d3 23.8%,#abafc2 36.5%,#9997b4 43.7%,#8c8aa7 49.1%,#686679 61.8%,#4b4954 70%,#29272e 75.2%,#08080a 77.2%,#0a090c 77.6%,#27252c 79.3%,#4b4955 85.1%,#676578 94%,#747289 99.8%)"></i><i style="top:244px;height:2px;background:linear-gradient(90deg,#ffffff 0.2%,#d2e2e2 17.6%,#c0d1d3 23.8%,#acb0c3 35.8%,#9997b4 43.3%,#8d8ba8 48.5%,#676578 61.8%,#4b4955 69.7%,#29272e 74.8%,#0a090c 76.9%,#0a090c 77.2%,#27252c 78.9%,#4b4955 84.8%,#676578 93.7%,#75738a 99.8%)"></i><i style="top:246px;height:2px;background:linear-gradient(90deg,#ffffff 0.2%,#d2e2e2 17.6%,#c0d2d3 23.5%,#abafc2 36.1%,#9997b4 43.3%,#8d8ba8 48.5%,#69677a 61.1%,#4b4955 69.3%,#26242b 74.8%,#0a090c 76.5%,#0a090c 76.9%,#26242b 78.6%,#4b4955 84.4%,#676578 93.3%,#75738a 99.8%)"></i><i style="top:248px;height:2px;background:linear-gradient(90deg,#ffffff 0.2%,#d3e2e2 17.3%,#c0d2d3 23.5%,#acb0c3 35.4%,#9997b4 43%,#8c8aa7 48.5%,#676578 61.5%,#4b4955 69%,#27252c 74.5%,#0a090c 76.2%,#0a090c 76.5%,#1c1a20 77.6%,#29272e 78.6%,#4b4955 84.1%,#676578 93%,#76748b 99.8%)"></i><i style="top:250px;height:2px;background:linear-gradient(90deg,#ffffff 0.2%,#d2e2e2 17.3%,#c0d1d3 23.5%,#abafc2 35.8%,#9998b4 42.6%,#8d8ba8 48.1%,#686679 60.8%,#4b4955 68.7%,#27252c 74.1%,#0a090c 75.9%,#0a090c 76.2%,#29272e 78.3%,#4b4955 83.7%,#676578 92.6%,#77758c 99.8%)"></i><i style="top:252px;height:2px;background:linear-gradient(90deg,#ffffff 0.2%,#d2e2e2 17.3%,#c0d2d3 23.1%,#acb0c3 35.1%,#9a98b5 42.3%,#8d8ba8 47.8%,#676578 60.8%,#4b4954 68.7%,#27252c 73.8%,#0a090c 75.5%,#0a090c 75.9%,#29272e 77.9%,#4b4955 83.4%,#666476 91.6%,#78768d 99.8%)"></i><i style="top:254px;height:2px;background:linear-gradient(90deg,#ffffff 0.2%,#d2e2e2 17.3%,#c0d2d3 23.1%,#acb0c3 35.1%,#9a99b5 42%,#8d8ba8 47.4%,#676578 60.4%,#4b4954 68.3%,#27252c 73.5%,#100f12 74.8%,#08080a 75.5%,#29272e 77.6%,#4b4955 83%,#666476 91.3%,#78768e 99.8%)"></i><i style="top:256px;height:2px;background:linear-gradient(90deg,#ffffff 0.2%,#d1e1e1 17.6%,#c0d1d3 23.1%,#acb0c3 34.8%,#9997b4 42.3%,#8d8ba8 47.4%,#686679 60.1%,#4b4954 68%,#27252c 73.1%,#161519 74.1%,#08080a 75.2%,#29272e 77.2%,#4b4955 82.7%,#666476 90.9%,#79778f 99.8%)"></i><i style="top:258px;height:2px;background:linear-gradient(90deg,#ffffff 0.2%,#d1e2e2 17.3%,#c0d2d3 22.8%,#acb0c3 34.8%,#9997b4 42%,#8d8ba8 47.1%,#676578 60.1%,#4b4954 67.6%,#27252c 72.8%,#08080a 74.8%,#29272e 76.9%,#4b4955 82.4%,#666476 90.6%,#7a7891 99.8%)"></i><i style="top:260px;height:2px;background:linear-gradient(90deg,#ffffff 0.2%,#d2e2e2 17%,#c0d2d3 22.8%,#acb0c3 34.4%,#9998b4 41.6%,#8d8ba8 46.7%,#676578 59.8%,#4b4955 67.3%,#25232a 72.8%,#08080a 74.5%,#29272e 76.5%,#4b4955 82%,#676578 90.6%,#7b7991 99.8%)"></i><i style="top:262px;height:2px;background:linear-gradient(90deg,#ffffff 0.2%,#d2e2e2 17%,#c0d1d3 22.8%,#acb0c3 34.4%,#9a98b5 41.3%,#8d8ba8 46.7%,#676578 59.4%,#4b4955 67%,#29272e 72.1%,#08080a 74.1%,#29272e 76.2%,#4b4955 81.7%,#676578 90.2%,#7c7a92 99.8%)"></i><i style="top:264px;height:2px;background:linear-gradient(90deg,#ffffff 0.2%,#d1e1e1 17.3%,#c0d2d3 22.4%,#acb0c3 34.1%,#9a99b5 40.9%,#8d8ba8 46.4%,#666477 59.4%,#4b4955 66.6%,#29272e 71.7%,#08080a 73.8%,#29272e 75.9%,#4b4955 81.3%,#686679 90.2%,#7d7b94 99.8%)"></i><i style="top:266px;height:2px;background:linear-gradient(90deg,#ffffff 0.2%,#d1e1e1 17%,#c0d2d3 22.4%,#acb0c3 34.1%,#9997b4 41.3%,#8d8ba8 46.1%,#666477 59.1%,#4b4955 66.3%,#29272e 71.4%,#08080a 73.5%,#29272e 75.5%,#4b4955 81%,#686679 89.9%,#7e7c95 99.8%)"></i><i style="top:268px;height:2px;background:linear-gradient(90deg,#ffffff 0.2%,#d2e2e2 16.6%,#c0d1d3 22.4%,#acb0c3 33.7%,#9997b4 40.9%,#8d8ba8 46.1%,#686679 58.4%,#4b4955 65.9%,#29272e 71.1%,#08080a 73.1%,#29272e 75.2%,#4b4955 80.7%,#666477 88.9%,#7f7d96 99.8%)"></i><i style="top:270px;height:2px;background:linear-gradient(90deg,#ffffff 0.2%,#d2e2e2 16.6%,#c0d2d3 22.1%,#abafc2 34.1%,#9998b4 40.6%,#8d8ba8 45.7%,#676578 58.4%,#4b4955 65.6%,#29272e 70.7%,#08080a 72.8%,#29272e 74.8%,#4b4955 80.3%,#676578 88.9%,#7f7d97 99.8%)"></i><i style="top:272px;height:2px;background:linear-gradient(90deg,#ffffff 0.2%,#d3e2e2 16.3%,#c0d2d3 22.1%,#acb0c3 33.4%,#9a98b5 40.2%,#8c8aa7 45.7%,#676578 58%,#4b4955 65.2%,#29272e 70.4%,#08080a 72.4%,#29272e 74.5%,#4b4954 79.6%,#676578 88.5%,#807e98 99.8%)"></i><i style="top:274px;height:2px;background:linear-gradient(90deg,#ffffff 0.2%,#d1e1e1 16.6%,#c0d1d3 22.1%,#abafc2 33.7%,#9896b3 40.6%,#8d8ba8 45.4%,#686679 57.4%,#4d4b58 64.6%,#29272e 70%,#08080a 72.1%,#29272e 74.1%,#4c4a56 79.6%,#666476 87.5%,#817f99 99.8%)"></i><i style="top:276px;height:2px;background:linear-gradient(90deg,#ffffff 0.2%,#d2e2e2 16.3%,#c0d2d3 21.7%,#acb0c3 33%,#9997b4 40.2%,#8e8ca9 44.7%,#676578 57.4%,#4c4a56 64.6%,#29272e 69.7%,#08080a 71.7%,#29272e 73.8%,#4c4a56 79.3%,#676578 87.5%,#82809a 99.8%)"></i><i style="top:278px;height:2px;background:linear-gradient(90deg,#ffffff 0.2%,#d2e2e2 16.3%,#c0d2d3 21.7%,#acb0c3 33%,#9997b4 39.9%,#8c8aa7 45%,#666477 57.4%,#4c4a56 64.2%,#29272e 69.3%,#08080a 71.4%,#29272e 73.5%,#4c4a56 78.9%,#686679 87.5%,#83819b 99.8%)"></i><i style="top:280px;height:2px;background:linear-gradient(90deg,#ffffff 0.2%,#d3e2e2 15.9%,#c0d2d3 21.4%,#abafc2 33%,#9998b4 39.6%,#8d8ba8 44.3%,#666477 57%,#4c4a56 63.9%,#28262d 69%,#0a090c 70.7%,#0a090c 71.1%,#1c1a20 72.1%,#29272e 73.1%,#494753 77.9%,#686679 87.2%,#84829c 99.8%)"></i><i style="top:282px;height:2px;background:linear-gradient(90deg,#ffffff 0.2%,#d1e1e1 16.3%,#c0d2d3 21.4%,#acb0c3 32.7%,#9997b4 39.6%,#8c8aa6 44.7%,#69677a 56%,#4c4a56 63.5%,#27252c 68.7%,#0a090c 70.4%,#0a090c 70.7%,#27252c 72.4%,#4b4955 77.9%,#676578 86.5%,#85839e 99.8%)"></i><i style="top:284px;height:2px;background:linear-gradient(90deg,#ffffff 0.2%,#d1e1e1 16.3%,#c0d2d3 21.4%,#acb0c3 32.4%,#9997b4 39.2%,#8d8ba8 44%,#686679 56%,#4c4a56 63.2%,#27252c 68.3%,#0a090c 70%,#0a090c 70.4%,#27252c 72.1%,#4b4955 77.6%,#676578 86.1%,#86849f 99.8%)"></i><i style="top:286px;height:2px;background:linear-gradient(90deg,#ffffff 0.2%,#d2e2e2 15.9%,#c0d1d3 21.4%,#acb0c3 32.4%,#9998b4 38.9%,#8c8aa7 44%,#676578 56%,#4c4a56 62.8%,#27252c 68%,#0a090c 69.7%,#0a090c 70%,#27252c 71.7%,#4b4955 77.2%,#676578 85.4%,#8785a1 99.8%)"></i><i style="top:288px;height:2px;background:linear-gradient(90deg,#ffffff 0.2%,#d3e2e2 15.6%,#c0d2d3 21.1%,#acb0c3 32%,#9997b4 38.9%,#8d8ba8 43.7%,#676578 55.7%,#4c4a56 62.5%,#27252c 67.6%,#0a090c 69.3%,#0a090c 69.7%,#27252c 71.4%,#4c4a56 76.9%,#686679 85.4%,#8886a2 99.8%)"></i><i style="top:290px;height:2px;background:linear-gradient(90deg,#ffffff 0.2%,#d1e1e1 15.9%,#c0d2d3 21.1%,#abafc3 32%,#9997b4 38.5%,#8c8aa6 43.7%,#676578 55.3%,#4c4a56 62.2%,#27252c 67.3%,#0a090c 69%,#0b0b0d 69.3%,#25232a 70.7%,#29272e 71.1%,#4c4a56 76.5%,#666477 84.4%,#8987a3 99.8%)"></i><i style="top:292px;height:2px;background:linear-gradient(90deg,#ffffff 0.2%,#d2e2e2 15.6%,#c0d1d3 21.1%,#acb0c3 31.7%,#9998b4 38.2%,#8d8ba8 43%,#676578 55%,#4c4a56 61.8%,#27252c 67%,#131216 68%,#08080a 68.7%,#29272e 70.7%,#4c4a57 76.2%,#69677b 85.1%,#8a88a4 99.8%)"></i><i style="top:294px;height:2px;background:linear-gradient(90deg,#ffffff 0.2%,#d2e2e2 15.6%,#c0d2d3 20.7%,#acb0c3 31.3%,#9997b4 38.2%,#8d8ba8 42.6%,#686679 54.3%,#4d4b58 61.1%,#29272e 66.3%,#08080a 68.3%,#29272e 70.4%,#4b4955 75.5%,#676578 83.7%,#8b89a5 99.8%)"></i><i style="top:296px;height:2px;background:linear-gradient(90deg,#ffffff 0.2%,#d1e2e2 15.6%,#c0d2d3 20.7%,#acb0c3 31.3%,#9997b4 37.8%,#8d8ba8 42.6%,#686679 53.9%,#4b4955 61.1%,#29272e 65.9%,#08080a 68%,#201f25 69.3%,#29272e 70%,#4b4955 75.2%,#69677b 84.4%,#8c8aa6 99.8%)"></i><i style="top:298px;height:2px;background:linear-gradient(90deg,#ffffff 0.2%,#d2e2e2 15.2%,#c0d2d3 20.4%,#acb0c3 31%,#9998b4 37.5%,#8c8aa6 42.6%,#676578 53.9%,#4b4955 60.8%,#29272e 65.6%,#25232a 65.9%,#0b0b0d 67.3%,#0a090c 67.6%,#27252c 69.3%,#4c4a56 74.8%,#686679 83.4%,#8d8ba8 99.8%)"></i><i style="top:300px;height:2px;background:linear-gradient(90deg,#ffffff 0.2%,#d1e1e1 15.6%,#c0d2d3 20.4%,#acb0c3 31%,#9997b4 37.5%,#8d8ba8 42%,#676578 53.6%,#4b4955 60.4%,#29272e 65.2%,#0a090c 67%,#0a090c 67.3%,#27252c 69%,#4c4a56 74.5%,#676578 82.4%,#8e8ca9 99.8%)"></i><i style="top:302px;height:2px;background:linear-gradient(90deg,#ffffff 0.2%,#d2e2e2 15.2%,#c0d1d3 20.4%,#abafc2 31%,#9997b4 37.2%,#8c8aa7 42%,#676578 53.3%,#4b4955 60.1%,#27252c 64.9%,#0a090c 66.6%,#0a090c 67%,#25232a 68.3%,#29272e 68.7%,#4b4955 73.8%,#69677b 83%,#8f8daa 99.8%)"></i><i style="top:304px;height:2px;background:linear-gradient(90deg,#ffffff 0.2%,#d2e2e2 14.9%,#c0d2d3 20%,#acb0c3 30.7%,#9998b4 36.8%,#8d8ba8 41.6%,#676578 52.9%,#4b4955 59.8%,#27252c 64.6%,#0a090c 66.3%,#0d0c0f 66.6%,#25232a 68%,#29272e 68.3%,#4c4a56 73.5%,#686679 82%,#8f8daa 99.8%)"></i><i style="top:306px;height:2px;background:linear-gradient(90deg,#ffffff 0.2%,#d2e2e2 14.9%,#c0d2d3 20%,#acb0c3 30.3%,#9997b4 36.8%,#8c8aa6 41.6%,#676578 52.6%,#4b4955 59.4%,#27252c 64.2%,#19181c 64.9%,#08080a 65.9%,#201f25 67.3%,#29272e 68%,#4c4a56 73.1%,#676578 81%,#8a88a4 96.4%,#908eab 99.8%)"></i><i style="top:308px;height:2px;background:linear-gradient(90deg,#ffffff 0.2%,#d2e2e2 14.9%,#c0d2d3 19.7%,#abafc3 30.3%,#9997b4 36.5%,#8d8ba8 40.9%,#676578 52.2%,#4b4954 59.1%,#29272e 63.5%,#0d0c0f 65.2%,#0a090c 65.6%,#27252c 67.3%,#4c4a57 72.8%,#666477 80.3%,#8c8aa6 96.7%,#918fac 99.8%)"></i><i style="top:310px;height:2px;background:linear-gradient(90deg,#ffffff 0.2%,#d1e2e2 14.9%,#c0d2d3 19.7%,#acb0c3 30%,#9896b3 36.5%,#8c8aa7 40.9%,#676578 51.9%,#4b4954 58.7%,#29272e 63.2%,#1f1d23 63.9%,#0a090c 64.9%,#0a090c 65.2%,#28262d 67%,#4b4955 72.1%,#6a687c 81.3%,#8a88a4 95.4%,#9290ad 99.8%)"></i><i style="top:312px;height:2px;background:linear-gradient(90deg,#ffffff 0.2%,#d1e1e1 14.9%,#c0d2d3 19.7%,#acb0c3 29.6%,#9997b4 36.1%,#8d8ba8 40.2%,#676578 51.5%,#4b4954 58.4%,#28262d 62.8%,#0a090c 64.6%,#0b0b0d 64.9%,#25232a 66.3%,#29272e 66.6%,#4c4a56 71.7%,#69677b 80.7%,#8c8aa6 95.7%,#9391ae 99.8%)"></i><i style="top:314px;height:2px;background:linear-gradient(90deg,#ffffff 0.2%,#d2e2e2 14.6%,#c0d1d3 19.7%,#acb0c3 29.6%,#9997b4 35.8%,#8d8ba8 40.2%,#676578 51.2%,#4c4a56 57.7%,#27252c 62.5%,#08080a 64.2%,#201f25 65.6%,#29272e 66.3%,#4c4a57 71.4%,#69677b 80%,#8c8aa7 95.4%,#9391ae 99.8%)"></i><i style="top:316px;height:2px;background:linear-gradient(90deg,#ffffff 0.2%,#d2e2e2 14.6%,#c0d2d3 19.3%,#acb0c3 29.3%,#9998b4 35.4%,#8c8aa6 40.2%,#676578 50.9%,#4c4a56 57.4%,#2a282f 61.8%,#08080a 63.9%,#27252c 65.6%,#4b4955 70.7%,#69677a 79.3%,#8a88a5 94%,#9492af 99.8%)"></i><i style="top:318px;height:2px;background:linear-gradient(90deg,#ffffff 0.2%,#d1e2e2 14.6%,#c0d2d3 19.3%,#acb0c3 29.3%,#9997b4 35.4%,#8d8ba8 39.6%,#676578 50.5%,#4b4955 57%,#29272e 61.5%,#0b0b0d 63.2%,#0a090c 63.5%,#28262d 65.2%,#4c4a56 70.4%,#686679 78.6%,#8c8aa7 94.3%,#9593b0 99.8%)"></i><i style="top:320px;height:2px;background:linear-gradient(90deg,#ffffff 0.2%,#d2e2e2 14.2%,#c0d2d3 19%,#acb0c3 28.9%,#9b99b5 34.4%,#8c8aa7 39.6%,#676578 50.2%,#4b4955 56.7%,#29272e 61.1%,#0a090c 62.8%,#0b0b0d 63.2%,#29272e 64.9%,#4b4955 69.7%,#676578 77.6%,#6d6b80 80.3%,#8d8ba8 94%,#9694b1 99.8%)"></i><i style="top:322px;height:2px;background:linear-gradient(90deg,#ffffff 0.2%,#d2e2e2 14.2%,#c0d2d3 19%,#acb0c3 28.9%,#9a99b5 34.4%,#8b89a6 39.6%,#676578 49.8%,#4b4954 56.3%,#27252c 60.8%,#08080a 62.5%,#27252c 64.2%,#4a4854 69%,#52505e 71.1%,#676578 77.2%,#7f7d96 87.2%,#8d8ba8 93.7%,#9795b2 99.8%)"></i><i style="top:324px;height:2px;background:linear-gradient(90deg,#ffffff 0.2%,#d2e2e2 14.2%,#c0d1d3 19%,#acb0c3 28.6%,#9998b4 34.4%,#8d8ba8 38.9%,#676578 49.5%,#4b4954 56%,#2a282f 60.1%,#201f25 60.8%,#0b0b0d 61.8%,#0a090c 62.2%,#28262d 63.9%,#4b4955 68.7%,#615f70 74.8%,#6b697d 78.3%,#8c8aa7 92.6%,#9896b3 99.8%)"></i><i style="top:326px;height:2px;background:linear-gradient(90deg,#ffffff 0.2%,#d3e2e2 13.9%,#c0d2d3 18.7%,#abafc2 28.6%,#9997b4 34.4%,#8c8aa6 38.9%,#676578 49.1%,#4c4a56 55.3%,#29272e 59.8%,#1f1d23 60.4%,#0a090c 61.5%,#0a090c 61.8%,#1f1d23 62.8%,#29272e 63.5%,#494753 68%,#636173 74.8%,#8b89a6 91.6%,#9997b4 99.8%)"></i><i style="top:328px;height:2px;background:linear-gradient(90deg,#ffffff 0.2%,#d1e1e1 14.2%,#c0d2d3 18.7%,#acb0c3 28.3%,#9997b4 34.1%,#8d8ba8 38.2%,#666476 49.1%,#4c4a56 55%,#28262d 59.4%,#0a090c 61.1%,#0d0c0f 61.5%,#27252c 62.8%,#484652 67.3%,#636174 74.5%,#8c8aa7 91.6%,#9a98b4 99.8%)"></i><i style="top:330px;height:2px;background:linear-gradient(90deg,#ffffff 0.2%,#d2e2e2 13.9%,#c0d1d3 18.7%,#abafc2 28.3%,#9998b4 33.7%,#8c8aa7 38.2%,#686679 48.1%,#4b4955 54.6%,#27252c 59.1%,#0d0c0f 60.4%,#0a090c 60.8%,#28262d 62.5%,#494753 67%,#656376 74.5%,#8c8aa7 90.9%,#9b99b5 99.8%)"></i><i style="top:332px;height:2px;background:linear-gradient(90deg,#ffffff 0.2%,#d2e2e2 13.9%,#c0d2d3 18.3%,#acb0c3 27.9%,#9997b4 33.7%,#8d8ba8 37.5%,#676578 48.1%,#4b4955 54.3%,#26242a 58.7%,#0a090c 60.1%,#0a090c 60.4%,#1f1d23 61.5%,#29272e 62.2%,#4b4954 66.6%,#666477 74.1%,#8d8ba8 90.9%,#9c9ab6 99.8%)"></i><i style="top:334px;height:2px;background:linear-gradient(90deg,#ffffff 0.2%,#d1e1e1 13.9%,#c0d2d3 18.3%,#acb0c3 27.6%,#9997b4 33.4%,#8d8ba8 37.5%,#676578 47.8%,#4b4954 53.9%,#29272e 58%,#0a090c 59.8%,#0d0c0f 60.1%,#27252c 61.5%,#494752 65.9%,#666477 73.8%,#8d8ba8 89.9%,#9c9bb7 99.8%)"></i><i style="top:336px;height:2px;background:linear-gradient(90deg,#ffffff 0.2%,#d2e2e2 13.5%,#c0d2d3 18%,#acb1c3 27.2%,#9998b4 33%,#8d8ba8 37.2%,#666477 47.4%,#4c4a56 53.3%,#28262d 57.7%,#0d0c0f 59.1%,#0a090c 59.4%,#29272e 61.1%,#45434e 64.9%,#4c4a56 65.9%,#666477 73.1%,#8c8aa7 89.2%,#9d9db8 99.8%)"></i><i style="top:338px;height:2px;background:linear-gradient(90deg,#ffffff 0.2%,#d2e2e2 13.5%,#c0d2d3 18%,#acb0c3 27.2%,#9997b4 33%,#8d8ba8 36.8%,#666477 47.1%,#4c4a56 52.9%,#2a282f 57%,#26242a 57.4%,#0a090c 58.7%,#0b0b0d 59.1%,#201f25 60.1%,#2a282f 60.8%,#494752 64.9%,#676578 72.8%,#8c8aa7 88.5%,#9f9eb8 99.8%)"></i><i style="top:340px;height:2px;background:linear-gradient(90deg,#ffffff 0.2%,#d1e2e2 13.5%,#c0d2d3 18%,#abafc2 27.2%,#9997b4 32.7%,#8d8ba8 36.5%,#686679 46.4%,#4b4955 52.6%,#29272e 56.7%,#08080a 58.4%,#232228 59.8%,#28262d 60.1%,#45434e 63.9%,#4c4a56 64.9%,#666477 72.1%,#8c8aa7 87.8%,#a0a0b9 99.8%)"></i><i style="top:342px;height:2px;background:linear-gradient(90deg,#ffffff 0.2%,#d2e2e2 13.2%,#bfd1d3 18%,#acb0c3 26.9%,#9997b4 32.4%,#8d8ba8 36.1%,#666477 46.4%,#4b4954 52.2%,#28262d 56.3%,#0b0b0d 57.7%,#0a090c 58%,#26242a 59.4%,#44424d 63.2%,#4e4c59 64.9%,#666477 71.4%,#8c8aa7 87.2%,#a0a1ba 99.8%)"></i><i style="top:344px;height:2px;background:linear-gradient(90deg,#ffffff 0.2%,#d1e1e1 13.5%,#c0d2d3 17.6%,#acb0c3 26.5%,#9998b4 32%,#8c8aa7 36.1%,#676579 45.7%,#4a4854 51.9%,#26242a 56%,#0a090c 57.4%,#0b0b0d 57.7%,#28262d 59.1%,#45434e 62.8%,#4e4c58 64.2%,#676578 71.1%,#8d8ba8 86.8%,#a2a2bb 99.8%)"></i><i style="top:346px;height:2px;background:linear-gradient(90deg,#ffffff 0.2%,#d2e2e2 13.2%,#c0d1d3 17.6%,#acb0c3 26.5%,#9a98b5 31.7%,#8d8ba8 35.8%,#666477 45.7%,#4c4a56 51.2%,#29272e 55.3%,#0d0c0f 56.7%,#0a090c 57%,#0e0e11 57.4%,#25232a 58.4%,#29272e 58.7%,#4b4955 63.2%,#666477 70.4%,#8d8ba8 86.5%,#a3a4bc 99.8%)"></i><i style="top:348px;height:2px;background:linear-gradient(90deg,#ffffff 0.2%,#d1e2e2 13.2%,#c0d2d3 17.3%,#acb0c3 26.2%,#9997b4 31.7%,#8d8ba8 35.4%,#666476 45.4%,#4b4955 50.9%,#27252c 55%,#0a090c 56.3%,#0b0b0d 56.7%,#27252c 58%,#4b4954 62.5%,#676578 70%,#8d8ba8 85.4%,#a4a5bc 99.8%)"></i><i style="top:350px;height:2px;background:linear-gradient(90deg,#ffffff 0.2%,#d2e2e2 12.8%,#c0d2d3 17.3%,#acb1c3 25.9%,#9998b4 31.3%,#8d8ba8 35.1%,#676578 44.7%,#4b4954 50.5%,#29272e 54.3%,#25232a 54.6%,#08080a 56%,#29272e 57.7%,#494753 61.8%,#676578 69.3%,#8d8ba8 84.8%,#a5a6bd 99.8%)"></i><i style="top:352px;height:2px;background:linear-gradient(90deg,#ffffff 0.2%,#d2e2e2 12.8%,#c0d1d3 17.3%,#acb0c3 25.9%,#9896b3 31.3%,#8d8ba8 34.8%,#676578 44.3%,#4c4a56 49.8%,#28262d 53.9%,#0b0b0d 55.3%,#0a090c 55.7%,#201f25 56.7%,#2a2830 57.4%,#494752 61.1%,#686679 69%,#8d8ba8 84.1%,#a6a8be 99.8%)"></i><i style="top:354px;height:2px;background:linear-gradient(90deg,#ffffff 0.2%,#d2e2e2 12.8%,#c0d2d3 17%,#abafc2 25.9%,#9997b4 31%,#8c8aa7 34.8%,#656375 44.3%,#4b4955 49.5%,#26242a 53.6%,#0e0e11 54.6%,#0a090c 55%,#29272e 56.7%,#484651 60.4%,#666477 68%,#8d8ba8 83.4%,#a7a9bf 99.8%)"></i><i style="top:356px;height:2px;background:linear-gradient(90deg,#ffffff 0.2%,#d1e2e2 12.8%,#c0d2d3 17%,#acb0c3 25.5%,#9997b4 30.7%,#8c8aa7 34.4%,#666477 43.7%,#4b4955 49.1%,#29272e 52.9%,#232228 53.3%,#0b0b0d 54.3%,#0a090c 54.6%,#201f25 55.7%,#2a2830 56.3%,#464450 59.8%,#514f5d 61.8%,#68667a 68%,#8d8ba8 82.7%,#a8abc0 99.8%)"></i><i style="top:358px;height:2px;background:linear-gradient(90deg,#ffffff 0.2%,#d1e1e1 12.8%,#c0d1d3 17%,#acb0c3 25.2%,#9998b4 30.3%,#8d8ba8 34.1%,#686679 43%,#4c4a57 48.5%,#27252c 52.6%,#0a090c 53.9%,#0d0c0f 54.3%,#29272e 55.7%,#4b4954 59.8%,#676578 67%,#8d8ba8 82%,#a9acc1 99.8%)"></i><i style="top:360px;height:2px;background:linear-gradient(90deg,#ffffff 0.2%,#d2e2e2 12.5%,#c0d2d3 16.6%,#acb0c3 25.2%,#9a98b5 30%,#8d8ba8 33.7%,#676579 42.6%,#4c4a56 48.1%,#29272e 51.9%,#1d1c21 52.6%,#0d0c0f 53.3%,#0a090c 53.6%,#201f25 54.6%,#2a2830 55.3%,#4a4854 59.1%,#676578 66.3%,#8e8ca9 81.7%,#aaaec2 99.8%)"></i><i style="top:362px;height:2px;background:linear-gradient(90deg,#ffffff 0.2%,#d2e2e2 12.5%,#c0d2d3 16.6%,#acb0c3 24.8%,#9a99b5 29.6%,#8d8ba8 33.4%,#676579 42.3%,#4b4955 47.8%,#28262d 51.5%,#0a090c 52.9%,#0b0b0d 53.3%,#1d1c21 53.9%,#29272e 54.6%,#494752 58.4%,#686679 65.9%,#8e8ca9 81%,#abafc3 99.8%)"></i><i style="top:364px;height:2px;background:linear-gradient(90deg,#ffffff 0.2%,#d1e2e2 12.5%,#c0d1d3 16.6%,#acb0c3 24.8%,#9896b3 30%,#8d8ba8 33%,#676578 42%,#4c4a57 47.1%,#26242a 51.2%,#141317 51.9%,#0a090c 52.6%,#201f25 53.6%,#2a2830 54.3%,#45434e 57.4%,#4f4d5a 59.1%,#666477 64.9%,#8d8ba8 80%,#9b9ab6 88.5%,#acb1c3 99.8%)"></i><i style="top:366px;height:2px;background:linear-gradient(90deg,#ffffff 0.2%,#d1e1e1 12.5%,#c0d2d3 16.3%,#abafc2 24.8%,#9b99b5 28.9%,#8e8ca9 32.7%,#676578 41.6%,#4c4a56 46.7%,#28262d 50.5%,#0a090c 51.9%,#0b0b0d 52.2%,#1d1c21 52.9%,#29272e 53.6%,#4a4854 57.4%,#666477 64.2%,#8d8ba8 79.3%,#9b9ab6 87.5%,#adb2c4 99.8%)"></i><i style="top:368px;height:2px;background:linear-gradient(90deg,#ffffff 0.2%,#d2e2e2 12.2%,#c0d2d3 16.3%,#aaaec2 24.8%,#9997b4 29.3%,#8c8aa7 32.7%,#676578 41.3%,#4b4955 46.4%,#2a2830 49.8%,#26242a 50.2%,#141317 50.9%,#0a090c 51.5%,#28262d 52.9%,#494752 56.7%,#676579 63.9%,#8d8ba8 78.3%,#9b99b5 86.5%,#aeb3c4 99.8%)"></i><i style="top:370px;height:2px;background:linear-gradient(90deg,#ffffff 0.2%,#d2e2e2 12.2%,#c0d1d3 16.3%,#acb0c3 24.1%,#9997b4 28.9%,#8d8ba8 32.4%,#666477 40.9%,#4a4854 46.1%,#232228 49.8%,#0a090c 50.9%,#0b0b0d 51.2%,#26242a 52.2%,#4a4854 56.3%,#68667a 63.5%,#8e8ca9 77.9%,#9a99b5 85.4%,#aeb4c5 99.8%)"></i><i style="top:372px;height:2px;background:linear-gradient(90deg,#ffffff 0.2%,#d2e2e2 12.2%,#c0d2d3 15.9%,#acb1c3 23.8%,#9896b3 28.9%,#8d8ba8 32%,#666477 40.6%,#4c4a56 45.4%,#2a2830 48.8%,#26242a 49.1%,#141317 49.8%,#0a090c 50.5%,#28262d 51.9%,#4a4854 55.7%,#68667a 62.8%,#8c8aa7 76.5%,#9a98b5 84.4%,#abafc2 95.4%,#afb5c5 99.8%)"></i><i style="top:374px;height:2px;background:linear-gradient(90deg,#ffffff 0.2%,#d1e2e2 12.2%,#c0d2d3 15.9%,#acb0c3 23.8%,#9997b4 28.6%,#8d8ba8 31.7%,#686679 39.9%,#4b4955 45%,#28262d 48.5%,#232228 48.8%,#0a090c 49.8%,#0e0e11 50.2%,#26242a 51.2%,#2a2830 51.5%,#4c4a56 55.3%,#69677b 62.5%,#8e8ca9 76.5%,#a1a2ba 87.8%,#b0b7c6 99.8%)"></i><i style="top:376px;height:2px;background:linear-gradient(90deg,#ffffff 0.2%,#d3e2e2 11.8%,#c0d2d3 15.9%,#abafc2 23.8%,#9997b4 28.3%,#8c8aa7 31.7%,#666477 39.9%,#4a4854 44.7%,#2a2830 47.8%,#26242a 48.1%,#0d0c0f 49.1%,#0a090c 49.5%,#232228 50.5%,#28262d 50.9%,#4b4955 54.6%,#69677b 61.8%,#8e8ca9 75.5%,#a4a5bd 88.9%,#b1b8c7 99.8%)"></i><i style="top:378px;height:2px;background:linear-gradient(90deg,#ffffff 0.2%,#d1e1e1 12.2%,#c0d1d3 15.9%,#acb0c3 23.5%,#9896b3 28.3%,#8c8aa7 31.3%,#676579 39.2%,#4c4a56 44%,#29272e 47.4%,#232228 47.8%,#0a090c 48.8%,#0e0e11 49.1%,#26242b 50.2%,#484651 53.6%,#626071 59.1%,#6d6b80 62.5%,#8f8daa 75.5%,#abafc3 93%,#b1b9c7 99.8%)"></i><i style="top:380px;height:2px;background:linear-gradient(90deg,#ffffff 0.2%,#d1e1e1 12.2%,#bfd1d2 15.9%,#abafc2 23.5%,#9997b4 27.9%,#8d8ba8 31%,#69677a 38.5%,#4b4955 43.7%,#26242a 47.1%,#0b0b0d 48.1%,#0b0b0d 48.5%,#29272e 49.8%,#4c4a56 53.6%,#666477 59.4%,#716f85 63.2%,#8f8daa 74.5%,#acb0c3 92.3%,#b2bbc8 99.8%)"></i><i style="top:382px;height:2px;background:linear-gradient(90deg,#ffffff 0.2%,#d2e2e2 11.8%,#c0d2d3 15.6%,#acb0c3 23.1%,#9997b4 27.6%,#8d8ba8 30.7%,#676578 38.5%,#4a4854 43.3%,#29272e 46.4%,#232228 46.7%,#100f12 47.4%,#0a090c 47.8%,#0e0e11 48.1%,#28262d 49.1%,#494752 52.6%,#636173 58%,#706e84 62.2%,#8b89a5 71.7%,#918fac 75.2%,#acb0c3 91.3%,#b3bcc8 99.8%)"></i><i style="top:384px;height:2px;background:linear-gradient(90deg,#ffffff 0.2%,#d1e2e2 11.8%,#c0d2d3 15.6%,#abafc2 23.1%,#9896b3 27.6%,#8d8ba8 30.3%,#68667a 37.8%,#4c4a56 42.6%,#26242a 46.1%,#0b0b0d 47.1%,#0b0b0d 47.4%,#26242a 48.5%,#2a2830 48.8%,#4d4b57 52.6%,#676578 58.4%,#7a7890 64.9%,#8d8ba8 72.1%,#9997b4 78.6%,#acb0c3 90.6%,#b3bdc9 99.8%)"></i><i style="top:386px;height:2px;background:linear-gradient(90deg,#ffffff 0.2%,#d0e0e0 12.2%,#c0d1d3 15.6%,#acb0c3 22.8%,#9a99b5 26.9%,#8e8ca9 30%,#666477 37.8%,#4b4955 42.3%,#29272e 45.4%,#100f12 46.4%,#0a090c 46.7%,#232228 47.8%,#29272e 48.1%,#4a4854 51.5%,#676578 57.7%,#7e7c96 65.6%,#8d8ba8 71.1%,#9997b4 77.9%,#abafc2 88.9%,#b4bfc9 99.8%)"></i><i style="top:388px;height:2px;background:linear-gradient(90deg,#ffffff 0.2%,#d1e1e1 11.8%,#bfd1d2 15.6%,#abafc2 22.8%,#9998b4 26.9%,#8d8ba8 30%,#686679 37.2%,#4c4a57 41.6%,#26242a 45%,#0b0b0d 46.1%,#0d0c0f 46.4%,#1f1d23 47.1%,#2b2930 47.8%,#4a4854 50.9%,#676578 57%,#7e7c95 64.6%,#8d8ba8 70.4%,#9997b4 76.5%,#abafc3 88.2%,#b5c0ca 99.8%)"></i><i style="top:390px;height:2px;background:linear-gradient(90deg,#ffffff 0.2%,#d2e2e2 11.5%,#c0d2d3 15.2%,#abafc2 22.8%,#9a98b5 26.5%,#8d8ba8 29.6%,#686679 36.8%,#4c4a56 41.3%,#28262d 44.3%,#222026 44.7%,#0e0e11 45.4%,#0a090c 45.7%,#242229 46.7%,#2a282f 47.1%,#4c4a56 50.5%,#676578 56.3%,#807e98 64.6%,#8e8ca9 69.7%,#9b99b5 76.9%,#abafc3 87.2%,#b6c1cb 99.8%)"></i><i style="top:392px;height:2px;background:linear-gradient(90deg,#ffffff 0.2%,#d2e2e2 11.5%,#c0d2d3 15.2%,#acb0c3 22.4%,#9997b4 26.5%,#8d8ba8 29.3%,#676579 36.5%,#4a4854 40.9%,#26242a 44%,#0a090c 45%,#0e0e11 45.4%,#222026 46.1%,#28262d 46.4%,#42404a 48.8%,#4d4b58 50.2%,#69677a 56%,#817f99 64.2%,#8d8ba8 68.3%,#9c9bb6 76.5%,#abafc3 86.1%,#b7c3cb 99.8%)"></i><i style="top:394px;height:2px;background:linear-gradient(90deg,#ffffff 0.2%,#d2e2e2 11.5%,#c0d1d3 15.2%,#acb1c3 22.1%,#9a98b5 26.2%,#8c8aa7 29.3%,#676579 36.1%,#4c4a57 40.2%,#28262d 43.3%,#222026 43.7%,#0d0c0f 44.3%,#0b0b0d 44.7%,#26242b 45.7%,#4b4955 49.1%,#676579 55%,#82809a 63.5%,#8e8ca9 68%,#9d9cb7 76.2%,#abafc3 85.1%,#b8c4cc 99.8%)"></i><i style="top:396px;height:2px;background:linear-gradient(90deg,#ffffff 0.2%,#d2e2e2 11.5%,#c0d1d3 15.2%,#acb0c3 22.1%,#9997b4 26.2%,#8d8ba8 28.9%,#656375 36.1%,#4b4955 39.9%,#26242a 43%,#111114 43.7%,#0b0b0d 44%,#100f12 44.3%,#242229 45%,#2a282f 45.4%,#4d4b57 48.8%,#686679 54.3%,#8c8aa6 66.3%,#9997b4 72.8%,#abafc3 84.1%,#b8c6cd 99.8%)"></i><i style="top:398px;height:2px;background:linear-gradient(90deg,#ffffff 0.2%,#d2e2e2 11.5%,#bfd1d3 15.2%,#abafc2 22.1%,#9998b4 25.9%,#8d8ba8 28.6%,#676578 35.4%,#4a4854 39.6%,#28262d 42.3%,#0b0b0d 43.3%,#0d0c0f 43.7%,#28262d 44.7%,#4d4b57 48.1%,#69677b 53.9%,#8c8aa7 65.6%,#9997b4 72.1%,#abafc2 82.7%,#b9c7ce 99.8%)"></i><i style="top:400px;height:2px;background:linear-gradient(90deg,#ffffff 0.2%,#d2e2e2 11.5%,#c0d2d3 14.9%,#abafc2 22.1%,#9997b4 25.9%,#8e8ca9 28.3%,#676578 35.1%,#4c4a57 38.9%,#2b2930 41.6%,#242229 42%,#100f12 42.6%,#0a090c 43%,#26242b 44%,#4c4a56 47.4%,#676578 52.6%,#8c8aa7 64.6%,#9a98b4 71.4%,#acb0c3 82.4%,#bac9ce 99.8%)"></i><i style="top:402px;height:2px;background:linear-gradient(90deg,#ffffff 0.2%,#d1e2e2 11.5%,#c0d2d3 14.9%,#acb0c3 21.7%,#9998b4 25.5%,#8d8ba8 28.3%,#666477 34.8%,#4b4955 38.5%,#28262d 41.3%,#0b0b0d 42.3%,#0e0e11 42.6%,#232228 43.3%,#2a282f 43.7%,#4c4a56 46.7%,#69677b 52.6%,#8c8aa6 63.5%,#9896b3 69.7%,#acb0c3 81.3%,#bbcacf 99.8%)"></i><i style="top:404px;height:2px;background:linear-gradient(90deg,#ffffff 0.2%,#d1e2e2 11.5%,#c0d2d3 14.9%,#abafc3 21.7%,#9997b4 25.5%,#8d8ba8 27.9%,#666477 34.4%,#4a4854 38.2%,#2b2930 40.6%,#242229 40.9%,#100f12 41.6%,#0b0b0d 42%,#28262d 43%,#45434e 45.4%,#504e5b 46.7%,#676578 51.2%,#8c8aa6 62.5%,#9896b3 68.7%,#acb0c3 80%,#bcccd0 99.8%)"></i><i style="top:406px;height:2px;background:linear-gradient(90deg,#ffffff 0.2%,#d1e2e2 11.5%,#c0d2d3 14.9%,#abafc2 21.7%,#9998b4 25.2%,#8c8aa7 27.9%,#666477 34.1%,#4c4a57 37.5%,#28262d 40.2%,#0a090c 41.3%,#100f12 41.6%,#26242b 42.3%,#4b4955 45.4%,#514f5d 46.4%,#6b697d 51.5%,#8c8aa7 61.8%,#9896b3 67.6%,#acb1c3 79.3%,#bdcdd1 99.8%)"></i><i style="top:408px;height:2px;background:linear-gradient(90deg,#ffffff 0.2%,#d1e2e2 11.5%,#c0d2d3 14.9%,#acb0c3 21.4%,#9997b4 25.2%,#8d8ba8 27.6%,#666477 33.7%,#4b4955 37.2%,#2b2930 39.6%,#242229 39.9%,#0d0c0f 40.6%,#0d0c0f 40.9%,#2a282f 42%,#4d4b58 45%,#686679 49.8%,#8c8aa7 60.8%,#9997b4 67%,#acb0c3 77.6%,#beced1 99.8%)"></i><i style="top:410px;height:2px;background:linear-gradient(90deg,#ffffff 0.2%,#d2e2e2 11.5%,#c0d2d3 14.9%,#acb0c3 21.4%,#9a98b5 24.8%,#8e8ca9 27.2%,#666477 33.4%,#4a4854 36.8%,#28262d 39.2%,#131216 39.9%,#0b0b0d 40.2%,#131216 40.6%,#28262d 41.3%,#4a4854 44%,#4f4d5a 44.7%,#686679 49.1%,#8d8ba8 60.1%,#9a98b5 66.3%,#acb1c3 76.9%,#bfd0d2 99.8%)"></i><i style="top:412px;height:2px;background:linear-gradient(90deg,#ffffff 0.2%,#d2e2e2 11.5%,#c0d2d3 14.9%,#abafc3 21.4%,#9997b4 24.8%,#8d8ba8 27.2%,#68667a 32.7%,#494753 36.5%,#242229 38.9%,#0d0c0f 39.6%,#0e0e11 39.9%,#242229 40.6%,#2b2930 40.9%,#4d4b57 43.7%,#686679 48.5%,#8c8aa6 58.7%,#9b9ab6 65.9%,#acb0c3 75.5%,#c0d2d3 99.8%)"></i><i style="top:414px;height:2px;background:linear-gradient(90deg,#ffffff 0.2%,#d2e2e2 11.5%,#c0d2d3 14.9%,#abafc2 21.4%,#9896b3 24.8%,#8e8ca9 26.9%,#68667a 32.4%,#4c4a56 35.8%,#28262d 38.2%,#1f1d23 38.5%,#111114 38.9%,#0b0b0d 39.2%,#222026 39.9%,#2a282f 40.2%,#494753 42.6%,#514f5c 43.7%,#6a687c 48.1%,#8c8aa6 57.7%,#9a98b5 64.2%,#acb1c3 74.5%,#c1d3d4 99.8%)"></i><i style="top:416px;height:2px;background:linear-gradient(90deg,#ffffff 0.2%,#e4efef 7%,#d1e1e1 11.8%,#bfd0d2 15.2%,#abafc2 21.4%,#9a98b5 24.5%,#8d8ba8 26.9%,#666477 32.4%,#4b4955 35.4%,#242229 37.8%,#0b0b0d 38.5%,#100f12 38.9%,#1d1c21 39.2%,#2d2b32 39.9%,#494752 42%,#4e4c59 42.6%,#676579 46.7%,#8d8ba8 57%,#9a99b5 63.2%,#acb0c3 72.8%,#b8c5cd 86.8%,#c3d4d5 99.8%)"></i><i style="top:418px;height:2px;background:linear-gradient(90deg,#ffffff 0.2%,#e5efef 7%,#d1e1e1 11.8%,#c0d2d3 14.9%,#acb1c3 21.1%,#9997b4 24.5%,#8e8ca9 26.5%,#69677a 31.7%,#4d4b58 34.8%,#28262d 37.2%,#100f12 37.8%,#0d0c0f 38.2%,#242229 38.9%,#2b2931 39.2%,#44424c 40.9%,#514f5c 42.3%,#686679 46.1%,#8d8ba8 56.3%,#9a99b5 62.2%,#acb0c3 71.7%,#b8c5cc 85.1%,#c4d6d7 99.8%)"></i><i style="top:420px;height:2px;background:linear-gradient(90deg,#ffffff 0.2%,#d1e1e1 11.8%,#bfd1d3 15.2%,#acb1c3 21.1%,#9997b4 24.5%,#8f8daa 26.2%,#666477 31.7%,#4d4b57 34.4%,#2b2931 36.5%,#242229 36.8%,#0d0c0f 37.5%,#131216 37.8%,#201f25 38.2%,#29272e 38.5%,#484651 40.6%,#514f5c 41.6%,#68667a 45.4%,#8d8ba8 55.3%,#9a98b5 60.8%,#acafc3 70%,#bac8ce 85.8%,#c6d7d8 99.8%)"></i><i style="top:422px;height:2px;background:linear-gradient(90deg,#ffffff 0.2%,#d2e2e2 11.8%,#c0d1d3 15.2%,#acb1c3 21.1%,#9896b3 24.5%,#8e8ca9 26.2%,#676578 31.3%,#4c4a56 34.1%,#29272e 36.1%,#100f12 36.8%,#0d0c0f 37.2%,#27252c 37.8%,#42404a 39.6%,#4e4c58 40.6%,#69677a 44.7%,#8d8ba8 54.3%,#a2a3bb 63.5%,#b0b7c6 72.8%,#bbcacf 86.5%,#c8d9d9 99.8%)"></i><i style="top:424px;height:2px;background:linear-gradient(90deg,#ffffff 0.2%,#e5f0f0 7%,#cfdfdf 12.5%,#c0d2d3 15.2%,#acb1c3 21.1%,#9a98b5 24.1%,#8d8ba8 26.2%,#676578 31%,#4b4955 33.7%,#2d2b32 35.4%,#252329 35.8%,#0d0c0f 36.5%,#141317 36.8%,#232127 37.2%,#2b2931 37.5%,#4b4955 39.6%,#555362 40.9%,#69677b 44%,#8e8ca9 53.3%,#a0a1ba 61.5%,#acb0c3 67.6%,#b0b7c6 71.4%,#bccbcf 85.4%,#c9dadb 99.8%)"></i><i style="top:426px;height:2px;background:linear-gradient(90deg,#ffffff 0.2%,#e3eeee 7.7%,#cadbdb 13.5%,#bfd1d2 15.6%,#adb1c3 21.1%,#9a98b4 24.1%,#8d8ba8 26.2%,#676579 30.7%,#4a4854 33.4%,#2a2830 35.1%,#1f1d23 35.4%,#0e0e11 35.8%,#0e0e11 36.1%,#29272e 36.8%,#45434e 38.5%,#4e4c58 39.2%,#585665 40.6%,#6a687b 43.3%,#8e8ca9 52.2%,#a5a7bd 62.5%,#b1b9c7 71.4%,#becfd1 86.8%,#cbdcdc 99.8%)"></i><i style="top:428px;height:2px;background:linear-gradient(90deg,#ffffff 0.2%,#e3efef 7.7%,#cedfdf 12.8%,#c0d1d3 15.6%,#abafc2 21.4%,#8e8ca9 25.9%,#686679 30.3%,#494753 33%,#27252c 34.8%,#17161b 35.1%,#0d0c0f 35.4%,#252329 36.1%,#2d2b32 36.5%,#44424d 37.8%,#504e5b 38.9%,#69677a 42.3%,#8d8ba8 50.9%,#9a99b5 56.3%,#a7a9bf 62.2%,#b2bbc8 71.4%,#bdccd0 83.4%,#cdddde 99.8%)"></i><i style="top:430px;height:2px;background:linear-gradient(90deg,#ffffff 0.2%,#e5f0f0 7.4%,#d1e1e1 12.5%,#c0d2d3 15.6%,#b1b9c7 20%,#acb0c3 21.4%,#9593b0 24.8%,#8b89a6 26.2%,#69677a 30%,#4d4b58 32.4%,#2b2931 34.1%,#201f25 34.4%,#100f12 34.8%,#0e0e11 35.1%,#1f1d23 35.4%,#2a2830 35.8%,#494752 37.5%,#53515f 38.5%,#656375 40.9%,#6e6c81 42.6%,#8e8ca9 50.2%,#9a98b5 55%,#abaec2 62.8%,#b3bcc8 70.4%,#c0d1d3 85.8%,#cedfdf 99.8%)"></i><i style="top:432px;height:2px;background:linear-gradient(90deg,#ffffff 0.2%,#e4efef 7.7%,#d2e2e2 12.5%,#c0d1d3 15.9%,#b1b9c7 20%,#acb0c3 21.4%,#9593b0 24.8%,#8d8ba8 25.9%,#69677b 29.6%,#4d4b57 32%,#29272e 33.7%,#0d0c0f 34.4%,#17161b 34.8%,#27252c 35.1%,#2e2c34 35.4%,#484651 36.8%,#53515f 37.8%,#686679 40.6%,#7e7c95 45%,#8e8ca9 49.1%,#9a98b4 53.6%,#abafc3 61.8%,#b3bdc9 69.3%,#c0d2d3 84.4%,#d0e0e0 99.8%)"></i><i style="top:434px;height:2px;background:linear-gradient(90deg,#ffffff 0.2%,#e5efef 7.7%,#d1e1e1 12.8%,#bfd1d2 16.3%,#b1b8c7 20.4%,#abafc2 21.7%,#9795b2 24.5%,#8a88a4 26.2%,#676578 29.6%,#4d4b57 31.7%,#2e2c34 33%,#232128 33.4%,#111114 33.7%,#0e0e11 34.1%,#211f26 34.4%,#2c2a32 34.8%,#33313a 35.1%,#474550 36.1%,#595766 37.8%,#676578 39.6%,#747288 42%,#8e8ca9 48.1%,#9997b4 52.2%,#a9acc1 59.1%,#b2bbc8 66.6%,#c0d1d3 82.4%,#d2e2e2 99.8%)"></i><i style="top:436px;height:2px;background:linear-gradient(90deg,#ffffff 0.2%,#e6f0f0 7.7%,#d0e1e1 13.2%,#c0d2d3 16.3%,#b0b7c6 20.7%,#acb0c3 21.7%,#9896b3 24.5%,#8a88a4 26.2%,#646275 29.6%,#4c4a57 31.3%,#2b2931 32.7%,#1f1d23 33%,#0e0e11 33.4%,#19181c 33.7%,#27252c 34.1%,#38363f 34.8%,#4b4955 35.8%,#565462 36.8%,#656375 38.5%,#6d6b80 39.9%,#84829c 44.3%,#8f8daa 47.1%,#9b99b5 51.5%,#abafc2 58.7%,#b6c2cb 69.3%,#c5d6d7 85.1%,#d3e3e3 99.8%)"></i><i style="top:438px;height:2px;background:linear-gradient(90deg,#ffffff 0.2%,#e4efef 8.4%,#d2e2e2 13.2%,#c0d2d3 16.6%,#b1b9c7 20.7%,#abafc2 22.1%,#9896b3 24.5%,#8a88a4 26.2%,#666477 29.3%,#4c4a57 31%,#29272e 32.4%,#161519 32.7%,#0e0e11 33%,#211f26 33.4%,#2d2b33 33.7%,#44424d 34.8%,#4f4d5a 35.4%,#605e6f 37.2%,#68667a 38.2%,#747289 40.2%,#8e8ca9 45.7%,#9b99b5 50.2%,#abafc2 57.4%,#b6c1ca 67%,#c2d4d5 80.7%,#d5e4e4 99.8%)"></i><i style="top:440px;height:2px;background:linear-gradient(90deg,#ffffff 0.2%,#e4efef 8.4%,#d1e2e2 13.5%,#c0d1d3 17%,#b3bdc9 20.4%,#acb1c3 22.1%,#9998b4 24.5%,#8a88a4 26.2%,#686679 28.9%,#4d4b57 30.7%,#302e36 31.7%,#232128 32%,#100f12 32.4%,#17161b 32.7%,#28262d 33%,#323038 33.4%,#494753 34.4%,#646274 36.8%,#6e6c81 38.2%,#7f7d96 41.3%,#908eab 45%,#9b9ab6 49.1%,#abafc3 56%,#b8c5cd 68%,#c7d8d9 83%,#d6e5e5 99.8%)"></i><i style="top:442px;height:2px;background:linear-gradient(90deg,#ffffff 0.2%,#e4efef 8.7%,#d1e2e2 13.9%,#c0d2d3 17.3%,#b0b8c6 21.4%,#acb0c3 22.4%,#9896b3 24.8%,#8a88a5 26.2%,#6a687c 28.6%,#4d4b57 30.3%,#2e2c34 31.3%,#100f12 32%,#2e2c34 32.7%,#484652 33.7%,#656375 36.1%,#7b7992 39.6%,#8f8daa 43.7%,#9d9cb7 48.5%,#abafc2 54.3%,#b7c3cb 64.6%,#c7d8d9 81%,#d8e6e6 99.8%)"></i><i style="top:444px;height:2px;background:linear-gradient(90deg,#ffffff 0.2%,#e4efef 9.1%,#d1e2e2 14.2%,#bfd0d2 18%,#b6c1cb 20.4%,#acafc3 22.8%,#9d9cb7 24.5%,#8b89a6 26.2%,#686679 28.6%,#4e4c59 30%,#2c2a32 31%,#17161b 31.3%,#131216 31.7%,#29272e 32%,#474550 33%,#4e4c59 33.4%,#5f5d6e 34.8%,#69677b 35.8%,#75738a 37.5%,#8a88a4 41.3%,#908eab 42.6%,#9a99b5 46.1%,#abafc3 52.9%,#bac8ce 66.3%,#cddede 84.8%,#d9e7e7 99.8%)"></i><i style="top:446px;height:2px;background:linear-gradient(90deg,#ffffff 0.2%,#e5efef 9.1%,#d2e2e2 14.6%,#b9c7cd 20%,#afb6c5 22.4%,#a6a8be 23.8%,#8d8ba8 26.2%,#666476 28.6%,#4f4d5a 29.6%,#45434e 30%,#2a282f 30.7%,#100f12 31%,#302e36 31.7%,#45434e 32.4%,#52505e 33%,#686679 34.8%,#84829c 38.9%,#8b89a6 40.2%,#9391ae 42.3%,#abafc2 51.2%,#bbc9cf 64.9%,#cddddd 81.7%,#dbe8e8 99.8%)"></i><i style="top:448px;height:2px;background:linear-gradient(90deg,#ffffff 0.2%,#e5efef 9.4%,#d2e2e2 14.9%,#c2d4d4 18.3%,#b8c6cd 20.7%,#b0b7c6 22.8%,#a6a8be 24.1%,#8f8daa 26.2%,#6a687c 28.3%,#464450 29.6%,#37353e 30%,#131216 30.7%,#27252c 31%,#36343d 31.3%,#4c4a56 32%,#666477 33.7%,#747289 35.4%,#8785a0 38.2%,#8e8ca9 39.6%,#9795b2 42.3%,#adb2c4 50.5%,#bdcdd1 65.6%,#d1e1e1 84.1%,#dce9e9 99.8%)"></i><i style="top:450px;height:2px;background:linear-gradient(90deg,#ffffff 0.2%,#e7f1f1 9.1%,#d2e2e2 15.6%,#bbcacf 20.7%,#abafc2 24.1%,#9b9ab6 25.5%,#8d8ba8 26.5%,#78768d 27.6%,#69677a 28.3%,#494753 29.3%,#38363f 29.6%,#211f25 30%,#161519 30.3%,#302e36 30.7%,#4b4955 31.3%,#585666 32%,#686679 33%,#7a7890 35.1%,#8a88a4 37.5%,#9896b3 40.9%,#adb2c4 49.1%,#becfd1 64.6%,#d2e2e2 82%,#deeaea 99.8%)"></i><i style="top:452px;height:2px;background:linear-gradient(90deg,#ffffff 0.2%,#e5f0f0 10.1%,#d2e2e2 16.3%,#bbcacf 21.4%,#b2bbc8 23.5%,#aaadc1 24.8%,#9795b2 26.2%,#8c8aa6 26.9%,#716f85 27.9%,#676579 28.3%,#4e4c59 28.9%,#3a3841 29.3%,#1c1a20 29.6%,#201f25 30%,#383640 30.3%,#494752 30.7%,#53515f 31%,#615f70 31.7%,#6b697d 32.4%,#79778e 33.7%,#8a88a4 36.1%,#9998b4 39.9%,#adb3c4 47.4%,#bfd0d2 63.5%,#d2e2e2 80%,#dfebeb 99.8%)"></i><i style="top:454px;height:2px;background:linear-gradient(90deg,#ffffff 0.2%,#e5f0f0 10.4%,#d2e2e2 17%,#bcccd0 22.1%,#b5bfca 23.8%,#adb2c4 25.2%,#9998b4 26.5%,#8a88a5 27.2%,#666477 28.3%,#555362 28.6%,#3e3c46 28.9%,#19181d 29.3%,#2e2c34 29.6%,#45434f 30%,#53515f 30.3%,#656375 31%,#6b697d 31.3%,#7b7991 32.7%,#8b89a6 34.8%,#9897b3 37.8%,#adb2c4 45.4%,#c0d1d3 61.8%,#d2e2e2 76.9%,#e1ecec 99.8%)"></i><i style="top:456px;height:2px;background:linear-gradient(90deg,#ffffff 0.2%,#e5f0f0 11.1%,#d3e3e3 17.6%,#beced1 22.8%,#b5c0ca 24.8%,#afb5c5 25.9%,#9f9fb9 26.9%,#9694b1 27.2%,#8b89a5 27.6%,#666477 28.3%,#4a4854 28.6%,#252329 28.9%,#3f3d48 29.3%,#555362 29.6%,#6b697d 30.3%,#77758c 31%,#83819b 32%,#8d8ba8 33.4%,#9a99b5 36.5%,#abaec2 42%,#afb5c5 44.3%,#b8c5cc 51.9%,#c2d4d5 61.5%,#d3e3e3 75.5%,#e2eeee 99.8%)"></i><i style="top:458px;height:2px;background:linear-gradient(90deg,#ffffff 0.2%,#d5e4e4 18%,#c3d5d6 23.1%,#bac8ce 25.5%,#b2bac7 26.9%,#acb2c3 27.2%,#a4a6bd 27.6%,#9392ad 27.9%,#6c6a7f 28.3%,#3a3842 28.6%,#5e5c6c 28.9%,#706e83 29.3%,#7a7890 29.6%,#86849f 30.3%,#9290ad 32%,#9f9fb9 35.4%,#abafc2 39.9%,#b2bac8 44.7%,#c4d6d7 60.4%,#d3e3e3 73.1%,#e4efef 99.8%)"></i><i style="top:460px;height:2px;background:linear-gradient(90deg,#ffffff 0.2%,#e2eeee 13.9%,#c8d9da 25.5%,#c9dadb 26.9%,#d0dfdf 27.6%,#dae6e6 27.9%,#ebf3f3 28.3%,#b5becb 28.6%,#a8adc0 28.9%,#a2a3bb 29.6%,#a0a0b9 30.7%,#adb2c4 38.5%,#b8c4cc 47.1%,#cbdbdc 62.5%,#d7e6e6 75.5%,#e5f0f0 99.8%)"></i><i style="top:462px;height:2px;background:linear-gradient(90deg,#ffffff 0.2%,#dce9e9 18%,#d5e4e4 23.5%,#d7e5e5 25.2%,#dce9e9 26.2%,#e4efef 26.9%,#fcfdfd 27.9%,#edf4f4 28.3%,#cbdbdc 28.9%,#bfcfd2 29.3%,#b9c7cd 29.6%,#b3bcc8 30.3%,#b0b7c6 31%,#adb2c4 33%,#b1b8c7 38.2%,#c0d2d3 52.6%,#d0e0e0 64.2%,#dce9e9 78.9%,#e7f1f1 99.8%)"></i><i style="top:464px;height:2px;background:linear-gradient(90deg,#ffffff 0.2%,#e2eded 16.3%,#dbe9e9 21.7%,#ddeaea 23.8%,#e1eded 25.2%,#e9f2f2 26.2%,#fdfefe 27.6%,#ecf4f4 28.3%,#c9dada 29.6%,#becfd2 30.3%,#b7c3cb 31.7%,#b3bdc9 33.7%,#b5bfca 38.2%,#bfd0d2 48.5%,#d3e2e2 63.5%,#dfebeb 80.7%,#e8f2f2 99.8%)"></i><i style="top:466px;height:2px;background:linear-gradient(90deg,#ffffff 0.2%,#e6f0f0 15.2%,#e0ecec 20.4%,#e1eded 22.8%,#e6f0f0 24.5%,#eff6f6 25.9%,#fefefe 27.2%,#d5e4e4 29.6%,#c3d5d5 31%,#bac9ce 33%,#b8c5cd 35.4%,#b9c7ce 38.9%,#c0d2d3 46.4%,#d3e3e3 60.4%,#dfecec 77.6%,#eaf2f2 99.8%)"></i><i style="top:468px;height:2px;background:linear-gradient(90deg,#ffffff 0.2%,#e9f2f2 14.6%,#e4efef 19.7%,#eaf2f2 23.8%,#f3f8f8 25.5%,#feffff 26.9%,#dce9e9 29.6%,#c8d9da 31.7%,#c0d1d3 33.4%,#bdcdd1 36.1%,#c1d3d4 43.7%,#d1e1e1 55.3%,#d8e7e7 63.2%,#ebf3f3 99.8%)"></i><i style="top:470px;height:2px;background:linear-gradient(90deg,#ffffff 0.2%,#ecf4f4 14.2%,#e8f1f1 19%,#ecf4f4 23.1%,#f3f8f8 24.8%,#feffff 26.5%,#dbe8e8 30.3%,#cdddde 32.4%,#c5d7d7 34.4%,#c2d4d5 36.8%,#c5d6d7 42%,#d2e2e2 52.2%,#ddeaea 65.9%,#edf4f4 99.8%)"></i><i style="top:472px;height:2px;background:linear-gradient(90deg,#ffffff 0.2%,#ebf3f3 18%,#eff5f5 22.4%,#fefefe 26.5%,#e5efef 29.6%,#d6e5e5 32%,#cddede 34.4%,#c9dadb 37.5%,#e1eded 68.3%,#eff5f5 99.8%)"></i><i style="top:474px;height:2px;background:linear-gradient(90deg,#ffffff 0.2%,#eef5f5 17.6%,#f0f6f6 21.7%,#ffffff 26.2%,#e4efef 30.3%,#dae8e8 32.4%,#d3e2e2 35.1%,#d0e0e0 38.2%,#e6f0f0 71.4%,#f0f6f6 99.8%)"></i><i style="top:476px;height:2px;background:linear-gradient(90deg,#ffffff 0.2%,#f1f7f7 16.6%,#f4f8f8 22.1%,#ffffff 25.9%,#deebeb 32.7%,#d8e6e6 35.4%,#d5e4e4 39.2%,#e8f1f1 69.7%,#f2f7f7 99.8%)"></i><i style="top:478px;height:2px;background:linear-gradient(90deg,#ffffff 0.2%,#f3f8f8 16.3%,#f5f9f9 21.4%,#feffff 25.9%,#e2eeee 32.7%,#dbe8e8 38.5%,#ebf3f3 71.1%,#f3f8f8 99.8%)"></i><i style="top:480px;height:2px;background:linear-gradient(90deg,#ffffff 0.2%,#f5f9f9 16.3%,#f7fafa 21.7%,#ffffff 25.5%,#e7f1f1 32.7%,#dfecec 38.5%,#eef5f5 71.7%,#f5f9f9 99.8%)"></i><i style="top:482px;height:2px;background:linear-gradient(90deg,#ffffff 0.2%,#f6fafa 16.3%,#f8fbfb 21.1%,#ffffff 25.5%,#eaf3f3 33%,#e4efef 39.6%,#f1f7f7 72.8%,#f6fafa 99.8%)"></i><i style="top:484px;height:2px;background:linear-gradient(90deg,#ffffff 0.2%,#f8fbfb 15.2%,#f9fbfb 20.4%,#ffffff 25.2%,#edf4f4 34.1%,#e9f2f2 39.2%,#f3f8f8 71.1%,#f8fbfb 99.8%)"></i><i style="top:486px;height:2px;background:linear-gradient(90deg,#ffffff 0.2%,#f9fcfc 16.3%,#ffffff 25.2%,#f2f7f7 33%,#eef5f5 39.2%,#f9fcfc 99.8%)"></i><i style="top:488px;height:2px;background:linear-gradient(90deg,#ffffff 0.2%,#fbfdfd 14.2%,#ffffff 25.2%,#f5f9f9 33.4%,#f2f8f8 40.6%,#fbfcfc 99.8%)"></i><i style="top:490px;height:2px;background:linear-gradient(90deg,#ffffff 0.2%,#fcfdfd 14.6%,#ffffff 25.2%,#f8fbfb 33.4%,#f7fafa 40.9%,#fcfdfd 99.8%)"></i><i style="top:492px;height:2px;background:linear-gradient(90deg,#ffffff 0.2%,#ffffff 25.5%,#fbfdfd 37.5%,#fefefe 99.8%)"></i><i style="top:494px;height:1px;background:linear-gradient(90deg,#ffffff 0.2%,#ffffff 99.8%)"></i></div>
<div class="hm vr" style="left:780px;top:950px;width:287px;height:495px"><i style="left:0px;width:2px;background:linear-gradient(180deg,#f1f7f7 0.1%,#eaf2f2 25.8%,#e1eded 34.6%,#d8e7e7 40.5%,#d1e2e2 43.5%,#c4d5d6 47.6%,#b9c6cd 51.2%,#acb1c3 55.3%,#9a99b5 58.3%,#8d8ba8 60.3%,#676578 64.3%,#484652 66.6%,#2e2c34 67.6%,#1d1c21 68%,#100f12 68.2%,#100f12 68.4%,#2d2b32 69%,#464450 70%,#53515f 70.8%,#69677b 72.6%,#8f8daa 77.3%,#a5a7be 82.1%,#b0b8c6 86.4%,#b8c5cc 93.2%,#bbc9cf 99.9%)"></i><i style="left:2px;width:2px;background:linear-gradient(180deg,#f1f7f7 0.1%,#eaf3f3 24.9%,#e3eeee 33%,#d8e7e7 40.5%,#d1e1e1 43.7%,#c1d3d4 48.4%,#acb0c3 55.7%,#8e8ca9 60.5%,#676579 64.7%,#4a4854 67%,#2b2931 68.2%,#100f12 68.8%,#100f12 69%,#1d1c21 69.2%,#323039 69.8%,#464450 70.6%,#504e5c 71.2%,#6a687c 73.4%,#8e8ca9 78.1%,#a3a4bc 82.5%,#afb5c5 87%,#b7c2cb 93.2%,#bac9ce 99.9%)"></i><i style="left:4px;width:2px;background:linear-gradient(180deg,#f1f7f7 0.1%,#e9f2f2 26.4%,#d9e7e7 40.3%,#d1e1e1 43.9%,#c1d3d4 48.4%,#acb0c3 55.9%,#8d8ba8 60.9%,#686679 65.2%,#484651 67.6%,#29272f 68.8%,#141317 69.2%,#100f12 69.4%,#131216 69.6%,#201e24 69.8%,#2e2c34 70.2%,#464450 71.2%,#4e4c58 71.6%,#676578 73.8%,#8d8ba8 78.9%,#9b9ab6 81.9%,#adb2c4 87%,#b5c0ca 93.4%,#bac9ce 99.9%)"></i><i style="left:6px;width:2px;background:linear-gradient(180deg,#f1f7f7 0.1%,#ebf3f3 23.1%,#e5efef 31.4%,#d9e7e7 39.9%,#d2e2e2 43.3%,#c2d4d4 48.4%,#b7c4cc 52.2%,#acb0c3 56.1%,#8e8ca9 61.1%,#686679 65.6%,#494753 68%,#2c2a32 69.2%,#25232a 69.4%,#100f12 69.8%,#0e0e11 70%,#2a282f 70.6%,#4e4c58 72.2%,#676578 74.4%,#8d8ba8 79.7%,#9a98b5 82.5%,#acb0c3 87.8%,#b4bfc9 93.6%,#bac9ce 99.9%)"></i><i style="left:8px;width:2px;background:linear-gradient(180deg,#f1f7f7 0.1%,#eaf2f2 24.7%,#e1eded 34.8%,#d5e4e4 41.9%,#bfd1d3 49.2%,#acb0c3 56.3%,#8e8ca9 61.5%,#686679 66%,#464450 68.6%,#29272f 69.8%,#0e0e11 70.4%,#100f12 70.6%,#25232a 71%,#2c2a32 71.2%,#4e4c59 72.8%,#6a687b 75.5%,#8c8aa6 80.3%,#9b99b5 83.7%,#abafc3 88.6%,#bbc9cf 99.9%)"></i><i style="left:10px;width:2px;background:linear-gradient(180deg,#f1f7f7 0.1%,#ebf3f3 22.5%,#dceaea 37.9%,#d1e2e2 43.7%,#c7d8d9 47.2%,#bac8ce 51.6%,#acb0c3 56.5%,#8d8ba8 61.9%,#686679 66.4%,#484651 69%,#2c2a32 70.2%,#25232a 70.4%,#100f12 70.8%,#0e0e11 71%,#27252c 71.6%,#2d2b33 71.8%,#4c4a56 73.2%,#686679 75.9%,#8c8aa6 81.1%,#9896b3 83.9%,#abafc3 89.6%,#bbc9cf 99.9%)"></i><i style="left:12px;width:2px;background:linear-gradient(180deg,#f1f7f7 0.1%,#eaf3f3 23.5%,#dce9e9 38.3%,#d1e2e2 43.7%,#c6d8d8 47.4%,#b8c6cd 52.2%,#acb0c3 56.7%,#8e8ca9 62.1%,#686679 66.8%,#494752 69.4%,#29272f 70.8%,#0e0e11 71.4%,#0e0e11 71.6%,#232128 72%,#2b2930 72.2%,#494753 73.6%,#514f5c 74.2%,#686679 76.5%,#8d8ba8 82.1%,#9997b4 85.2%,#acb0c3 90.8%,#bbc9cf 99.9%)"></i><i style="left:14px;width:2px;background:linear-gradient(180deg,#f1f7f7 0.1%,#eaf3f3 22.5%,#dbe9e9 38.7%,#d1e1e1 43.9%,#c1d3d4 49%,#abafc2 57.1%,#8d8ba8 62.5%,#666477 67.4%,#4a4854 69.8%,#2b2930 71.2%,#252329 71.4%,#100f12 71.8%,#0e0e11 72%,#141317 72.2%,#201f25 72.4%,#2d2b32 72.8%,#4d4b57 74.4%,#69677b 77.3%,#8c8aa7 82.7%,#9b99b5 86.4%,#acb0c3 91.6%,#bbc9cf 99.9%)"></i><i style="left:16px;width:2px;background:linear-gradient(180deg,#f0f6f6 0.1%,#eaf3f3 22.9%,#e3eeee 32.4%,#dae8e8 39.3%,#d1e1e1 43.9%,#c0d2d3 49.2%,#abafc2 57.3%,#8c8aa7 62.9%,#686679 67.6%,#4b4955 70.2%,#2d2b32 71.6%,#27252c 71.8%,#0d0c0f 72.4%,#100f12 72.6%,#252329 73%,#2b2930 73.2%,#4e4c58 75.1%,#676579 77.7%,#8a88a4 83.1%,#9997b4 86.8%,#abafc2 91.8%,#bbc9cf 99.9%)"></i><i style="left:18px;width:2px;background:linear-gradient(180deg,#f0f6f6 0.1%,#eaf2f2 23.3%,#e2eeee 32.6%,#d9e7e7 39.9%,#d1e1e1 43.9%,#c0d2d3 49.4%,#abafc2 57.5%,#8d8ba8 63.1%,#666476 68.2%,#4d4b58 70.4%,#43414c 71%,#29272e 72.2%,#0d0c0f 72.8%,#0d0c0f 73%,#29272e 73.6%,#4c4a57 75.5%,#676579 78.3%,#8b89a5 83.9%,#9896b3 87.2%,#a9adc1 92%,#bbc9cf 99.9%)"></i><i style="left:20px;width:2px;background:linear-gradient(180deg,#f0f6f6 0.1%,#eaf3f3 22.3%,#e2eeee 32.8%,#d8e6e6 40.3%,#d1e1e1 44.1%,#c0d2d3 49.6%,#acb0c3 57.5%,#8d8ba8 63.3%,#676578 68.4%,#474550 71.2%,#2a2830 72.6%,#1a191e 73%,#0e0e11 73.2%,#0d0c0f 73.4%,#27252c 74%,#484651 75.7%,#4f4d5a 76.3%,#686679 78.9%,#8785a0 83.9%,#8f8daa 85.6%,#9b99b5 88.6%,#acb0c3 93.4%,#bbc9cf 99.9%)"></i><i style="left:22px;width:2px;background:linear-gradient(180deg,#f0f6f6 0.1%,#eaf2f2 22.7%,#dae8e8 38.9%,#d1e1e1 44.1%,#c3d5d6 48.6%,#b7c2cb 53.6%,#acb0c3 57.7%,#8e8ca9 63.5%,#676578 68.8%,#484651 71.6%,#2b2930 73%,#252329 73.2%,#111114 73.6%,#0d0c0f 73.8%,#111114 74%,#252329 74.4%,#2a2830 74.6%,#4c4a57 76.5%,#686679 79.5%,#817f99 83.5%,#8e8ca9 86%,#9997b4 88.8%,#acb0c3 93.8%,#bbcacf 99.9%)"></i><i style="left:24px;width:2px;background:linear-gradient(180deg,#f0f6f6 0.1%,#e9f2f2 23.7%,#dae8e8 39.3%,#d1e1e1 44.1%,#c1d3d4 49.4%,#acb0c3 57.9%,#8e8ca9 63.7%,#666477 69.2%,#4d4b58 71.6%,#44424c 72.2%,#26242b 73.6%,#0b0b0d 74.2%,#0e0e11 74.4%,#232127 74.8%,#29272e 75.1%,#4b4955 76.9%,#656376 79.7%,#706e83 81.3%,#8f8daa 86.8%,#9a99b5 89.8%,#abafc3 94%,#bbcacf 99.9%)"></i><i style="left:26px;width:2px;background:linear-gradient(180deg,#f0f6f6 0.1%,#eaf2f2 22.1%,#e2eeee 32.4%,#d9e7e7 39.7%,#d1e1e1 44.1%,#c2d4d4 49.2%,#acb0c3 58.1%,#8d8ba8 64.1%,#676579 69.4%,#4d4b58 72%,#44424c 72.6%,#27252c 74%,#0d0c0f 74.6%,#0d0c0f 74.8%,#201f25 75.3%,#2c2a32 75.7%,#4a4854 77.3%,#666477 80.3%,#6e6c81 81.5%,#8f8daa 87.4%,#9997b4 90%,#abaec2 94.2%,#bbcacf 99.9%)"></i><i style="left:28px;width:2px;background:linear-gradient(180deg,#f0f6f6 0.1%,#e9f2f2 22.5%,#e2eded 32.6%,#d8e6e6 40.3%,#d1e1e1 44.1%,#c1d3d4 49.4%,#abafc2 58.5%,#8c8aa7 64.5%,#656375 70%,#4d4b57 72.4%,#44424c 73%,#27252c 74.4%,#0d0c0f 75.1%,#0d0c0f 75.3%,#1f1d23 75.7%,#2b2931 76.1%,#494752 77.7%,#686679 81.1%,#8e8ca9 87.8%,#9997b4 90.6%,#abafc2 94.6%,#bbcacf 99.9%)"></i><i style="left:30px;width:2px;background:linear-gradient(180deg,#f0f6f6 0.1%,#e8f1f1 24.7%,#e0ecec 33.8%,#d7e5e5 40.9%,#d1e1e1 44.1%,#bfd1d2 50.2%,#acb0c3 58.5%,#8d8ba8 64.7%,#686679 70%,#474550 73.2%,#28262d 74.8%,#0d0c0f 75.5%,#0b0b0d 75.7%,#26242b 76.3%,#484651 78.1%,#68667a 81.7%,#8e8ca9 88.4%,#9b99b5 91.4%,#abafc3 95.1%,#bbcacf 99.9%)"></i><i style="left:32px;width:2px;background:linear-gradient(180deg,#f0f6f6 0.1%,#e9f2f2 21.9%,#e3eeee 30.8%,#d9e7e7 39.3%,#d1e1e1 44.1%,#c2d4d4 49.4%,#acb0c3 58.5%,#8d8ba8 64.9%,#666476 70.6%,#494753 73.4%,#28262d 75.3%,#0d0c0f 75.9%,#0b0b0d 76.1%,#2a2830 76.9%,#4a4854 78.7%,#69677b 82.3%,#8f8daa 89%,#9a98b4 91.6%,#acb0c3 95.5%,#bbcacf 99.9%)"></i><i style="left:34px;width:2px;background:linear-gradient(180deg,#f0f6f6 0.1%,#e9f2f2 22.9%,#d9e7e7 39.7%,#d1e1e1 44.1%,#c0d2d3 49.8%,#abaec2 59.1%,#8c8aa7 65.4%,#676578 70.8%,#494753 73.8%,#28262d 75.7%,#0d0c0f 76.3%,#0b0b0d 76.5%,#242229 77.1%,#2a282f 77.3%,#494753 79.1%,#676578 82.5%,#8e8ca9 89.4%,#9a98b4 92%,#acb0c3 95.7%,#bbcacf 99.9%)"></i><i style="left:36px;width:2px;background:linear-gradient(180deg,#eff6f6 0.1%,#e8f2f2 23.3%,#d8e6e6 40.1%,#d1e1e1 43.9%,#c0d2d3 50%,#acb0c3 58.9%,#8e8ca9 65.4%,#676579 71%,#484652 74.2%,#26242b 76.1%,#0d0c0f 76.7%,#0b0b0d 76.9%,#242229 77.5%,#2a282f 77.7%,#494753 79.5%,#676578 82.9%,#8d8ba8 89.6%,#9b99b5 92.6%,#acb0c3 95.9%,#bbcacf 99.9%)"></i><i style="left:38px;width:2px;background:linear-gradient(180deg,#eff6f6 0.1%,#e9f2f2 21.7%,#e1eded 32.2%,#d7e5e5 40.7%,#d1e1e1 43.9%,#c0d2d3 50.2%,#aaaec2 59.5%,#8d8ba8 65.8%,#676578 71.4%,#4b4955 74.4%,#2b2930 76.3%,#1f1d23 76.7%,#0d0c0f 77.1%,#0b0b0d 77.3%,#242229 77.9%,#2a282f 78.1%,#484652 79.9%,#686679 83.5%,#8e8ca9 90.2%,#9b9ab6 93%,#acb0c3 96.1%,#bccbcf 99.9%)"></i><i style="left:40px;width:2px;background:linear-gradient(180deg,#eff6f6 0.1%,#e6f0f0 25.8%,#d6e5e5 41.1%,#c2d4d4 49.6%,#acb0c3 59.3%,#8d8ba8 66%,#666477 71.8%,#4a4854 74.8%,#2a2830 76.7%,#26242a 76.9%,#0d0c0f 77.5%,#0b0b0d 77.7%,#242229 78.3%,#2a282f 78.5%,#484652 80.3%,#676578 83.9%,#8e8ca9 90.6%,#9a98b4 93%,#abafc2 96.1%,#bccbcf 99.9%)"></i><i style="left:42px;width:2px;background:linear-gradient(180deg,#eff6f6 0.1%,#e7f1f1 24.9%,#dfecec 34%,#d5e4e4 41.9%,#becfd1 51.2%,#abaec2 59.7%,#8d8ba8 66.2%,#676578 72%,#494753 75.3%,#2a282f 77.1%,#242229 77.3%,#0b0b0d 77.9%,#0d0c0f 78.1%,#1d1c21 78.5%,#2a282f 78.9%,#484652 80.7%,#666476 84.1%,#8d8ba8 90.8%,#9997b4 93.2%,#abafc3 96.3%,#bccbd0 99.9%)"></i><i style="left:44px;width:2px;background:linear-gradient(180deg,#eff6f6 0.1%,#e7f1f1 24.1%,#d7e6e6 40.3%,#cedfdf 45.2%,#c0d2d3 50.2%,#acb0c3 59.5%,#8d8ba8 66.4%,#676579 72.2%,#484652 75.7%,#29272e 77.5%,#0b0b0d 78.3%,#0d0c0f 78.5%,#1f1d23 78.9%,#2a2830 79.3%,#484652 81.1%,#676578 84.7%,#8e8ca9 91.4%,#9997b4 93.4%,#acb0c3 96.5%,#bccbd0 99.9%)"></i><i style="left:46px;width:2px;background:linear-gradient(180deg,#eff6f6 0.1%,#e8f2f2 21.9%,#e1eded 31.6%,#d7e5e5 40.5%,#cedfdf 45.2%,#c1d3d4 50%,#aaaec2 60.1%,#9997b4 63.9%,#8d8ba8 66.6%,#676578 72.6%,#474550 76.1%,#28262d 77.9%,#0a090c 78.7%,#0e0e11 78.9%,#26242b 79.5%,#2b2930 79.7%,#484652 81.5%,#676578 85.2%,#8d8ba8 91.6%,#9b99b5 94%,#acb0c3 96.7%,#bccbd0 99.9%)"></i><i style="left:48px;width:2px;background:linear-gradient(180deg,#eff5f5 0.1%,#e8f1f1 22.3%,#e1eded 32.2%,#d6e5e5 40.9%,#c2d4d5 49.6%,#acb0c3 59.7%,#8d8ba8 66.8%,#676579 72.8%,#4c4a56 76.1%,#46444f 76.5%,#2b2930 78.1%,#201f25 78.5%,#0e0e11 78.9%,#0b0b0d 79.1%,#100f12 79.3%,#28262d 79.9%,#484652 81.9%,#666477 85.6%,#8d8ba8 91.8%,#9997b4 94%,#acb0c3 96.7%,#bcccd0 99.9%)"></i><i style="left:50px;width:2px;background:linear-gradient(180deg,#eff5f5 0.1%,#e6f0f0 25.2%,#d5e4e4 41.5%,#c0d2d3 50.2%,#abaec2 60.3%,#9a98b5 64.1%,#8d8ba8 67%,#656376 73.4%,#4b4955 76.5%,#2a2830 78.5%,#26242a 78.7%,#0d0c0f 79.3%,#0b0b0d 79.5%,#28262d 80.3%,#42404b 81.9%,#4b4955 82.5%,#626072 85.4%,#8d8ba8 92.2%,#9896b3 94%,#acb0c3 96.9%,#bcccd0 99.9%)"></i><i style="left:52px;width:2px;background:linear-gradient(180deg,#eff5f5 0.1%,#e5f0f0 26.6%,#d4e4e4 41.9%,#c0d2d3 50.4%,#b5bfca 56.1%,#a9acc0 60.9%,#8c8aa7 67.4%,#666477 73.6%,#4a4854 76.9%,#29272e 78.9%,#0b0b0d 79.7%,#0b0b0d 79.9%,#242229 80.5%,#29272e 80.7%,#4c4a56 82.9%,#656376 86.2%,#8d8ba8 92.4%,#9997b4 94.4%,#adb1c4 97.1%,#bcccd0 99.9%)"></i><i style="left:54px;width:2px;background:linear-gradient(180deg,#eef5f5 0.1%,#e5f0f0 25.8%,#ddeaea 35.3%,#d3e3e3 42.5%,#c0d2d3 50.4%,#acb0c3 60.3%,#8d8ba8 67.4%,#686679 73.6%,#494752 77.3%,#28262d 79.3%,#0a090c 80.1%,#0e0e11 80.3%,#26242a 80.9%,#2a2830 81.1%,#494753 83.1%,#52505e 84.1%,#686679 87%,#7b7992 90.2%,#8c8aa7 92.6%,#9997b4 94.6%,#acb0c3 97.1%,#bcccd0 99.9%)"></i><i style="left:56px;width:2px;background:linear-gradient(180deg,#eef5f5 0.1%,#e7f1f1 22.5%,#e1eded 31.6%,#d6e5e5 40.9%,#c0d2d3 50.6%,#abafc2 60.5%,#9997b4 64.9%,#8d8ba8 67.8%,#676578 74%,#4e4c59 77.1%,#44424d 77.9%,#2a2830 79.5%,#26242a 79.7%,#0e0e11 80.3%,#0a090c 80.5%,#28262d 81.3%,#4c4a57 83.7%,#68667a 87.4%,#7b7992 90.6%,#8c8aa7 92.8%,#9997b4 94.8%,#abafc2 97.1%,#bcccd0 99.9%)"></i><i style="left:58px;width:2px;background:linear-gradient(180deg,#eef5f5 0.1%,#e5f0f0 25.4%,#d5e4e4 41.3%,#bfd0d2 51.2%,#acb0c3 60.5%,#9998b4 64.9%,#8d8ba8 68%,#676579 74.2%,#4c4a56 77.7%,#29272e 79.9%,#0b0b0d 80.7%,#0b0b0d 80.9%,#232228 81.5%,#28262d 81.7%,#4b4955 83.9%,#676579 87.6%,#7b7991 90.8%,#8d8ba8 93.2%,#9a98b4 95.1%,#acb0c3 97.3%,#bdccd0 99.9%)"></i><i style="left:60px;width:2px;background:linear-gradient(180deg,#eef5f5 0.1%,#e6f0f0 24.5%,#d4e4e4 41.7%,#c0d2d3 50.4%,#acb0c3 60.5%,#9a99b5 64.9%,#8d8ba8 68.2%,#686679 74.4%,#484651 78.3%,#28262d 80.3%,#0a090c 81.1%,#141317 81.5%,#26242a 81.9%,#494752 84.1%,#4f4d5a 84.7%,#666477 87.8%,#79778f 90.8%,#8d8ba8 93.4%,#9896b3 95.1%,#acb0c3 97.3%,#bdccd0 99.9%)"></i><i style="left:62px;width:2px;background:linear-gradient(180deg,#eef5f5 0.1%,#e5efef 26%,#d4e3e3 42.1%,#bfd1d2 51%,#abafc2 60.9%,#9896b3 65.6%,#8d8ba8 68.4%,#676578 74.8%,#4c4a56 78.3%,#26242a 80.7%,#141317 81.1%,#0a090c 81.5%,#28262d 82.3%,#4e4c58 84.9%,#676578 88.2%,#7b7991 91.4%,#8d8ba8 93.6%,#9997b4 95.3%,#abafc2 97.3%,#bdccd0 99.9%)"></i><i style="left:64px;width:2px;background:linear-gradient(180deg,#eef5f5 0.1%,#e5efef 25.8%,#d3e3e3 42.5%,#bfd0d2 51.2%,#acb0c3 60.9%,#9997b4 65.6%,#8d8ba8 68.6%,#676579 75.1%,#484651 78.9%,#28262d 80.9%,#0b0b0d 81.7%,#0b0b0d 81.9%,#29272e 82.7%,#484651 84.7%,#4e4c59 85.4%,#676579 88.6%,#7b7992 91.8%,#8c8aa7 93.8%,#9997b4 95.5%,#acb0c3 97.5%,#bdccd0 99.9%)"></i><i style="left:66px;width:2px;background:linear-gradient(180deg,#eef5f5 0.1%,#e5efef 25.6%,#dceaea 35.3%,#d2e2e2 42.9%,#c0d2d3 50.8%,#abafc3 61.1%,#9a98b5 65.6%,#8d8ba8 68.8%,#686679 75.3%,#494752 79.1%,#2a2830 81.1%,#26242a 81.3%,#0e0e11 81.9%,#0a090c 82.1%,#0e0e11 82.3%,#1f1d23 82.7%,#2a2830 83.1%,#4b4955 85.4%,#686679 89%,#7b7992 92%,#8e8ca9 94.2%,#9a98b4 95.7%,#abafc2 97.5%,#bdcdd0 99.9%)"></i><i style="left:68px;width:2px;background:linear-gradient(180deg,#eef5f5 0.1%,#e5efef 25.4%,#d4e4e4 41.5%,#c0d2d3 50.8%,#abafc2 61.3%,#8d8ba8 69%,#676578 75.7%,#4a4854 79.3%,#28262d 81.5%,#232228 81.7%,#111114 82.1%,#0b0b0d 82.3%,#0b0b0d 82.5%,#111114 82.7%,#232228 83.1%,#28262d 83.3%,#4c4a57 85.8%,#666477 89%,#7c7a93 92.4%,#8d8ba8 94.2%,#9997b4 95.7%,#acb1c3 97.7%,#bdcdd0 99.9%)"></i><i style="left:70px;width:2px;background:linear-gradient(180deg,#edf5f5 0.1%,#e5efef 25.2%,#d4e3e3 41.7%,#c0d1d3 51%,#acb0c3 61.3%,#9997b4 66.2%,#8d8ba8 69.2%,#676578 75.9%,#494752 79.7%,#2a2830 81.7%,#26242a 81.9%,#0e0e11 82.5%,#0a090c 82.7%,#0e0e11 82.9%,#26242a 83.5%,#2a282f 83.7%,#4d4b57 86.2%,#686679 89.6%,#7b7992 92.6%,#8d8ba8 94.4%,#9997b4 95.9%,#acb0c3 97.7%,#bdcdd0 99.9%)"></i><i style="left:72px;width:2px;background:linear-gradient(180deg,#edf5f5 0.1%,#e5f0f0 24.3%,#d3e3e3 42.1%,#bfd1d2 51.2%,#abaec2 61.7%,#9998b4 66.2%,#8d8ba8 69.4%,#666477 76.3%,#4a4854 79.9%,#28262d 82.1%,#232228 82.3%,#111114 82.7%,#0b0b0d 82.9%,#0b0b0d 83.1%,#111114 83.3%,#232228 83.7%,#28262d 83.9%,#4a4854 86.2%,#666477 89.6%,#78768d 92.4%,#83819b 93.6%,#8d8ba8 94.6%,#9896b3 95.9%,#abafc3 97.7%,#bdccd0 99.9%)"></i><i style="left:74px;width:2px;background:linear-gradient(180deg,#edf5f5 0.1%,#e4efef 26.4%,#d3e3e3 42.3%,#bdced1 52.4%,#a9acc1 62.3%,#8d8ba8 69.6%,#676578 76.5%,#4b4955 80.1%,#45434e 80.5%,#26242a 82.5%,#08080a 83.3%,#26242a 84.1%,#2a282f 84.3%,#4d4b57 86.8%,#7d7b94 93.2%,#8c8aa7 94.6%,#9997b4 96.1%,#abafc2 97.7%,#bdccd0 99.9%)"></i><i style="left:76px;width:2px;background:linear-gradient(180deg,#edf4f4 0.1%,#e4efef 26.2%,#d2e2e2 42.7%,#bfd0d2 51.4%,#acb0c3 61.7%,#9896b3 66.8%,#8d8ba8 69.8%,#676578 76.7%,#4c4a56 80.3%,#464450 80.7%,#28262d 82.7%,#0b0b0d 83.5%,#0b0b0d 83.7%,#232228 84.3%,#28262d 84.5%,#4c4a56 87%,#7c7a93 93.4%,#8d8ba8 94.8%,#9896b3 96.1%,#acb0c3 97.9%,#bdccd0 99.9%)"></i><i style="left:78px;width:2px;background:linear-gradient(180deg,#edf4f4 0.1%,#e4efef 26%,#d2e2e2 42.9%,#beced1 52.2%,#a8abc0 62.7%,#9997b4 66.8%,#8d8ba8 70%,#666477 77.1%,#4a4854 80.7%,#29272e 82.9%,#25232a 83.1%,#141317 83.5%,#0a090c 83.9%,#201f25 84.5%,#2a2830 84.9%,#4b4955 87.2%,#676578 90.6%,#78768e 93.2%,#8e8ca9 95.1%,#9998b4 96.3%,#acb0c3 97.9%,#bcccd0 99.9%)"></i><i style="left:80px;width:2px;background:linear-gradient(180deg,#edf4f4 0.1%,#e4efef 25.8%,#d4e3e3 41.7%,#bfd0d2 51.8%,#a8abc0 62.9%,#9997b4 67%,#8d8ba8 70.2%,#666477 77.3%,#484652 81.1%,#27252c 83.3%,#0a090c 84.1%,#0d0c0f 84.3%,#1d1c21 84.7%,#29272e 85.2%,#4b4954 87.4%,#636174 90.4%,#77758c 93.2%,#8f8daa 95.3%,#9b99b5 96.5%,#abafc2 97.9%,#bcccd0 99.9%)"></i><i style="left:82px;width:2px;background:linear-gradient(180deg,#edf4f4 0.1%,#e4efef 25.6%,#d3e3e3 41.9%,#c0d1d3 51.2%,#aaaec2 62.5%,#8d8ba8 70.4%,#676578 77.5%,#494753 81.3%,#29272e 83.5%,#232228 83.7%,#0b0b0d 84.3%,#0a090c 84.5%,#28262d 85.4%,#4a4854 87.6%,#78768d 93.4%,#8e8ca9 95.3%,#9a98b5 96.5%,#adb1c4 98.1%,#bcccd0 99.9%)"></i><i style="left:84px;width:2px;background:linear-gradient(180deg,#edf4f4 0.1%,#e4efef 25.4%,#d3e3e3 42.1%,#bbcacf 53.8%,#adb1c4 61.7%,#a5a7bd 64.1%,#8d8ba8 70.4%,#636173 78.3%,#4a4854 81.5%,#26242a 83.9%,#08080a 84.7%,#26242a 85.6%,#4b4955 88%,#79778f 93.6%,#8f8daa 95.5%,#9997b4 96.5%,#acb0c3 98.1%,#bcccd0 99.9%)"></i><i style="left:86px;width:2px;background:linear-gradient(180deg,#edf4f4 0.1%,#e4efef 25.2%,#d3e2e2 42.3%,#bfd0d2 51.6%,#b4bec9 58.1%,#a8abc0 63.3%,#8d8ba8 70.6%,#666477 78.1%,#484652 81.9%,#27252c 84.1%,#0a090c 84.9%,#0d0c0f 85.2%,#29272e 86%,#4b4955 88.2%,#78768e 93.6%,#8e8ca9 95.5%,#9b99b5 96.7%,#acb0c3 98.1%,#bccbd0 99.9%)"></i><i style="left:88px;width:2px;background:linear-gradient(180deg,#edf4f4 0.1%,#e3eeee 25.6%,#d2e2e2 42.5%,#bbcacf 54.2%,#acb1c3 62.1%,#a4a5bd 64.7%,#8d8ba8 70.8%,#666477 78.3%,#494752 82.1%,#28262d 84.3%,#232228 84.5%,#0b0b0d 85.2%,#0a090c 85.4%,#28262d 86.2%,#4b4954 88.4%,#79778f 93.8%,#8d8ba8 95.5%,#9a98b5 96.7%,#abafc2 98.1%,#bccbcf 99.9%)"></i><i style="left:90px;width:2px;background:linear-gradient(180deg,#ecf4f4 0.1%,#e3eeee 25.4%,#d2e2e2 42.7%,#bbc9cf 54.4%,#adb2c4 61.9%,#a6a9bf 64.1%,#9997b4 67.8%,#8d8ba8 71%,#676578 78.5%,#4a4854 82.3%,#29272e 84.5%,#25232a 84.7%,#0d0c0f 85.4%,#0a090c 85.6%,#27252c 86.4%,#4c4a57 88.8%,#7d7b94 94.2%,#8f8daa 95.7%,#9997b4 96.7%,#adb1c4 98.3%,#bbcacf 99.9%)"></i><i style="left:92px;width:2px;background:linear-gradient(180deg,#ecf4f4 0.1%,#e3eeee 25.2%,#d1e2e2 42.9%,#bac9ce 54.6%,#acb0c3 62.5%,#a3a4bc 65.4%,#8d8ba8 71.2%,#676578 78.7%,#4b4954 82.5%,#26242a 84.9%,#08080a 85.8%,#26242a 86.6%,#4c4a57 89%,#76748b 93.6%,#8e8ca9 95.7%,#9896b3 96.7%,#acb1c3 98.3%,#bbcacf 99.9%)"></i><i style="left:94px;width:2px;background:linear-gradient(180deg,#ecf4f4 0.1%,#e3eeee 24.9%,#d3e2e2 42.1%,#becfd1 52.4%,#b0b7c6 60.5%,#a5a7be 64.7%,#8e8ca9 71.2%,#676578 78.9%,#484652 82.9%,#27252c 85.2%,#0a090c 86%,#0d0c0f 86.2%,#25232a 86.8%,#4a4854 89%,#77758d 93.8%,#8d8ba8 95.7%,#9896b3 96.7%,#acb0c3 98.3%,#bbc9cf 99.9%)"></i><i style="left:96px;width:2px;background:linear-gradient(180deg,#ecf4f4 0.1%,#e3eeee 25.4%,#d3e2e2 42.1%,#c5d6d7 49.2%,#bbc9cf 54.6%,#acb0c3 62.9%,#a2a3bb 65.8%,#8d8ba8 71.6%,#666477 79.3%,#494753 83.1%,#28262d 85.4%,#0a090c 86.2%,#0b0b0d 86.4%,#29272e 87.2%,#4a4854 89.2%,#76748b 93.8%,#8c8aa7 95.7%,#9795b2 96.7%,#abafc2 98.3%,#bac9ce 99.9%)"></i><i style="left:98px;width:2px;background:linear-gradient(180deg,#ecf4f4 0.1%,#e3eeee 25.2%,#d2e2e2 42.3%,#bcccd0 53.6%,#acb0c3 62.9%,#a5a7bd 65.2%,#8d8ba8 71.8%,#666477 79.5%,#4a4854 83.3%,#29272e 85.6%,#232228 85.8%,#0b0b0d 86.4%,#0a090c 86.6%,#232228 87.2%,#29272e 87.4%,#4d4b57 89.6%,#78768d 94%,#8e8ca9 95.9%,#9997b4 96.9%,#adb2c4 98.5%,#bac8ce 99.9%)"></i><i style="left:100px;width:2px;background:linear-gradient(180deg,#ecf4f4 0.1%,#e2eeee 25.6%,#d2e2e2 42.5%,#bcccd0 53.8%,#acb0c3 63.1%,#a3a4bc 66%,#8d8ba8 72%,#676578 79.7%,#4b4954 83.5%,#29272e 85.8%,#25232a 86%,#0d0c0f 86.6%,#0a090c 86.8%,#29272e 87.6%,#4b4954 89.6%,#77758c 94%,#8d8ba8 95.9%,#9896b3 96.9%,#acb1c3 98.5%,#b9c7ce 99.9%)"></i><i style="left:102px;width:2px;background:linear-gradient(180deg,#ecf4f4 0.1%,#e2eeee 25.4%,#d2e2e2 42.5%,#c3d5d6 50%,#b8c5cc 56.5%,#acb0c3 63.1%,#a0a1ba 66.8%,#8d8ba8 72.2%,#666476 80.1%,#484652 83.9%,#2a282f 86%,#25232a 86.2%,#0d0c0f 86.8%,#0a090c 87%,#29272e 87.8%,#4b4955 89.8%,#76748b 94%,#8c8aa7 95.9%,#9795b2 96.9%,#acb0c3 98.5%,#b9c7cd 99.9%)"></i><i style="left:104px;width:2px;background:linear-gradient(180deg,#ecf4f4 0.1%,#e2eeee 25.8%,#d1e2e2 42.7%,#c3d4d5 50.2%,#b9c7ce 55.7%,#acb0c3 63.3%,#9e9eb8 67.6%,#8d8ba8 72.4%,#626071 80.9%,#4b4955 83.9%,#26242a 86.4%,#0e0e11 87%,#0a090c 87.2%,#29272e 88%,#4b4955 90%,#77758d 94.2%,#8d8ba8 96.1%,#9997b4 97.1%,#abafc2 98.5%,#b8c6cd 99.9%)"></i><i style="left:106px;width:2px;background:linear-gradient(180deg,#ecf4f4 0.1%,#e2eeee 25.6%,#d1e2e2 42.7%,#bbcacf 54.6%,#acb1c3 63.3%,#a1a1ba 67%,#8d8ba8 72.6%,#666477 80.5%,#494752 84.3%,#27252c 86.6%,#0e0e11 87.2%,#0a090c 87.4%,#29272e 88.2%,#4c4a56 90.2%,#78768e 94.4%,#8d8ba8 96.1%,#9896b3 97.1%,#adb1c4 98.7%,#b8c5cc 99.9%)"></i><i style="left:108px;width:2px;background:linear-gradient(180deg,#ecf4f4 0.1%,#e2eded 26%,#d3e2e2 41.9%,#c1d3d4 51%,#bac8ce 55.7%,#acb0c3 63.5%,#9f9fb9 67.6%,#8d8ba8 72.8%,#656375 80.9%,#494753 84.5%,#27252c 86.8%,#08080a 87.6%,#29272e 88.4%,#494753 90.2%,#79778f 94.6%,#8c8aa6 96.1%,#9997b4 97.3%,#acb0c3 98.7%,#b8c4cc 99.9%)"></i><i style="left:110px;width:2px;background:linear-gradient(180deg,#ecf4f4 0.1%,#e2eded 25.8%,#d2e2e2 42.1%,#bac9ce 55.3%,#acb1c3 63.5%,#9e9db8 68.2%,#8d8ba8 73%,#6e6c81 79.5%,#5f5d6f 81.9%,#474550 84.9%,#27252c 87%,#08080a 87.8%,#29272e 88.6%,#4a4854 90.4%,#78768e 94.6%,#8d8ba8 96.3%,#9896b3 97.3%,#abafc2 98.7%,#b7c3cc 99.9%)"></i><i style="left:112px;width:2px;background:linear-gradient(180deg,#ecf4f4 0.1%,#e1eded 26.2%,#d2e2e2 42.1%,#bbcacf 54.8%,#acb0c3 63.9%,#a0a1ba 67.6%,#8d8ba8 73.2%,#666476 81.3%,#4b4954 84.9%,#27252c 87.2%,#08080a 88%,#29272e 88.8%,#4d4b58 90.8%,#7a7890 94.8%,#8c8aa7 96.3%,#9795b2 97.3%,#adb1c4 98.9%,#b6c2cb 99.9%)"></i><i style="left:114px;width:2px;background:linear-gradient(180deg,#ebf3f3 0.1%,#e1eded 26.6%,#d2e2e2 42.3%,#bbc9cf 55.3%,#acb0c3 63.9%,#9c9ab6 69.2%,#8d8ba8 73.4%,#646275 81.7%,#4b4954 85.2%,#27252c 87.4%,#0e0e11 88%,#0a090c 88.2%,#232228 88.8%,#29272e 89%,#4b4955 90.8%,#7b7991 95.1%,#8d8ba8 96.5%,#9997b4 97.5%,#acb0c3 98.9%,#b6c1cb 99.9%)"></i><i style="left:116px;width:2px;background:linear-gradient(180deg,#ebf3f3 0.1%,#e2eeee 24.1%,#d2e2e2 42.3%,#c2d4d5 50.6%,#b9c7cd 56.3%,#acb0c3 64.1%,#9e9eb8 68.6%,#8d8ba8 73.6%,#636173 82.1%,#4b4955 85.4%,#28262d 87.6%,#0e0e11 88.2%,#0a090c 88.4%,#2a282f 89.2%,#4c4a56 91%,#7a7890 95.1%,#8c8aa7 96.5%,#9b99b5 97.7%,#abafc2 98.9%,#b5c0ca 99.9%)"></i><i style="left:118px;width:2px;background:linear-gradient(180deg,#ebf3f3 0.1%,#e2eeee 24.5%,#d1e2e2 42.5%,#c1d3d4 51.2%,#b9c6cd 56.7%,#acb0c3 64.3%,#9d9db8 69%,#8d8ba8 73.8%,#666477 81.9%,#484652 85.8%,#28262d 87.8%,#0e0e11 88.4%,#0a090c 88.6%,#25232a 89.2%,#4d4b57 91.2%,#7b7991 95.3%,#8e8ca9 96.7%,#9998b4 97.7%,#aaaec2 98.9%,#b4bfca 99.9%)"></i><i style="left:120px;width:2px;background:linear-gradient(180deg,#ebf3f3 0.1%,#e1eded 25.6%,#d1e2e2 42.5%,#c0d2d3 51.8%,#b7c3cc 57.7%,#acb0c3 64.5%,#9d9cb7 69.4%,#8b89a5 74.6%,#6c6a7e 81.1%,#615f70 82.9%,#4b4955 85.8%,#42404b 86.4%,#28262d 88%,#0e0e11 88.6%,#0a090c 88.8%,#25232a 89.4%,#2a2830 89.6%,#4b4954 91.2%,#77758d 95.1%,#8d8ba8 96.7%,#9b99b5 97.9%,#acb0c3 99.1%,#b4bec9 99.9%)"></i><i style="left:122px;width:2px;background:linear-gradient(180deg,#ebf3f3 0.1%,#e1eded 26%,#d1e2e2 42.5%,#c0d2d3 51.8%,#b7c3cb 58.1%,#acb0c3 64.5%,#9c9bb6 69.8%,#8d8ba8 74.4%,#6b697d 81.5%,#5f5d6f 83.3%,#494752 86.2%,#27252c 88.2%,#0d0c0f 88.8%,#0a090c 89%,#26242a 89.6%,#4b4955 91.4%,#76748b 95.1%,#8e8ca9 96.9%,#9a98b5 97.9%,#abafc2 99.1%,#b3bdc9 99.9%)"></i><i style="left:124px;width:2px;background:linear-gradient(180deg,#ebf3f3 0.1%,#e1eded 26.4%,#d1e2e2 42.5%,#c0d2d3 51.6%,#b8c6cd 57.1%,#acb0c3 64.7%,#9b9ab6 70.2%,#8d8ba8 74.6%,#6d6b80 81.3%,#5e5c6d 83.7%,#4d4b58 86%,#46444f 86.6%,#27252c 88.4%,#0d0c0f 89%,#0a090c 89.2%,#27252c 89.8%,#4c4a56 91.6%,#79778f 95.5%,#8d8ba8 96.9%,#9997b4 97.9%,#b2bcc8 99.9%)"></i><i style="left:126px;width:2px;background:linear-gradient(180deg,#ebf3f3 0.1%,#e0ecec 26.8%,#d2e2e2 41.9%,#c2d4d4 51%,#b8c5cc 57.5%,#acb0c3 64.9%,#9b99b5 70.6%,#8d8ba8 74.8%,#6c6a7f 81.7%,#615f71 83.5%,#494753 86.6%,#27252c 88.6%,#0d0c0f 89.2%,#0b0b0d 89.4%,#27252c 90%,#4c4a57 91.8%,#78768d 95.5%,#8e8ca9 97.1%,#9a99b5 98.1%,#b2bac8 99.9%)"></i><i style="left:128px;width:2px;background:linear-gradient(180deg,#ebf3f3 0.1%,#e2eded 24.3%,#d2e2e2 41.9%,#c0d2d3 51.8%,#b8c6cd 57.3%,#acb0c3 64.9%,#9b99b5 70.8%,#8d8ba8 75.1%,#6e6c81 81.5%,#605e6f 83.9%,#494753 86.8%,#27252c 88.8%,#0b0b0d 89.4%,#0b0b0d 89.6%,#201f25 90%,#28262d 90.2%,#4d4b57 92%,#79778f 95.7%,#8d8ba8 97.1%,#9997b4 98.1%,#b1b9c7 99.9%)"></i><i style="left:130px;width:2px;background:linear-gradient(180deg,#eaf3f3 0.1%,#e2eeee 22.9%,#d2e2e2 41.9%,#c0d2d3 51.8%,#b8c5cc 57.7%,#acb0c3 65.2%,#9b99b5 71%,#8d8ba8 75.3%,#666477 83.3%,#4f4d5a 86.4%,#464450 87.2%,#27252c 89%,#0b0b0d 89.6%,#0d0c0f 89.8%,#29272e 90.4%,#4b4955 92%,#77758d 95.7%,#8e8ca9 97.3%,#9a99b5 98.3%,#b0b8c6 99.9%)"></i><i style="left:132px;width:2px;background:linear-gradient(180deg,#eaf3f3 0.1%,#e1eded 25.8%,#d1e1e1 42.7%,#c0d2d3 51.8%,#b6c2cb 58.9%,#acb0c3 65.4%,#9a98b5 71.4%,#8d8ba8 75.5%,#656375 83.7%,#4a4854 87.2%,#27252c 89.2%,#0a090c 89.8%,#0d0c0f 90%,#222026 90.4%,#29272e 90.6%,#4b4955 92.2%,#7b7992 96.1%,#8c8aa7 97.3%,#9997b4 98.3%,#afb6c6 99.9%)"></i><i style="left:134px;width:2px;background:linear-gradient(180deg,#eaf3f3 0.1%,#e0ecec 26.8%,#d1e1e1 42.7%,#c0d2d3 51.8%,#b7c3cb 58.7%,#acb0c3 65.6%,#9a98b5 71.6%,#8b89a6 76.1%,#646274 84.1%,#4a4854 87.4%,#2b2930 89.2%,#26242a 89.4%,#0a090c 90%,#0e0e11 90.2%,#29272e 90.8%,#4c4a56 92.4%,#8b89a6 97.3%,#9896b3 98.3%,#afb5c5 99.9%)"></i><i style="left:136px;width:2px;background:linear-gradient(180deg,#eaf3f3 0.1%,#e0ecec 27.2%,#d1e1e1 42.7%,#c0d2d3 52%,#b5c0ca 59.9%,#acb0c3 65.8%,#9a98b5 71.8%,#8d8ba8 75.9%,#716f85 81.9%,#636172 84.5%,#4e4c59 87.2%,#474550 87.8%,#2b2930 89.4%,#26242a 89.6%,#0a090c 90.2%,#0e0e11 90.4%,#232228 90.8%,#2a282f 91%,#4c4a57 92.6%,#78768d 96.1%,#8c8aa7 97.5%,#9997b4 98.5%,#aeb3c4 99.9%)"></i><i style="left:138px;width:2px;background:linear-gradient(180deg,#eaf3f3 0.1%,#e1eded 25.4%,#d1e1e1 42.7%,#c6d7d8 49.4%,#b8c5cc 58.1%,#acb0c3 65.8%,#9a98b5 72%,#8c8aa7 76.3%,#6f6d82 82.5%,#5e5c6d 85.4%,#4b4954 87.8%,#413f49 88.4%,#26242a 89.8%,#0a090c 90.4%,#0e0e11 90.6%,#1a191e 90.8%,#2a2830 91.2%,#4a4854 92.6%,#79778f 96.3%,#8e8ca9 97.7%,#9896b3 98.5%,#adb2c4 99.9%)"></i><i style="left:140px;width:2px;background:linear-gradient(180deg,#eaf3f3 0.1%,#e2eeee 22.1%,#d2e2e2 42.1%,#c0d2d3 52%,#b7c3cc 58.7%,#acb0c3 66%,#9a98b5 72.2%,#8d8ba8 76.3%,#666477 84.5%,#484651 88.2%,#2b2930 89.8%,#26242a 90%,#0a090c 90.6%,#100f12 90.8%,#25232a 91.2%,#4b4954 92.8%,#7a7890 96.5%,#8c8aa7 97.7%,#9997b4 98.7%,#acb0c3 99.9%)"></i><i style="left:142px;width:2px;background:linear-gradient(180deg,#eaf3f3 0.1%,#e2eeee 21.9%,#d2e2e2 42.1%,#c3d4d5 51%,#b6c2cb 59.3%,#acb0c3 66.2%,#9a98b5 72.4%,#8c8aa6 76.9%,#666477 84.7%,#4b4955 88.2%,#26242a 90.2%,#0a090c 90.8%,#1a191e 91.2%,#26242a 91.4%,#4b4955 93%,#7b7991 96.7%,#8d8ba8 97.9%,#9795b2 98.7%,#abaec2 99.9%)"></i><i style="left:144px;width:2px;background:linear-gradient(180deg,#eaf3f3 0.1%,#e1eded 23.7%,#d2e2e2 42.1%,#c4d6d7 50.2%,#b6c1cb 59.9%,#acb0c3 66.4%,#9a98b5 72.6%,#8d8ba8 76.9%,#656375 85.2%,#4b4955 88.4%,#26242a 90.4%,#0a090c 91%,#26242a 91.6%,#4c4a56 93.2%,#79778f 96.7%,#8e8ca9 98.1%,#9997b4 98.9%,#a9acc1 99.9%)"></i><i style="left:146px;width:2px;background:linear-gradient(180deg,#eaf3f3 0.1%,#e2eded 22.9%,#d2e2e2 42.1%,#c0d1d3 52.6%,#b6c2cb 59.7%,#acb0c3 66.6%,#9997b4 73.2%,#8886a2 78.1%,#6a687c 84.5%,#5e5c6c 86.4%,#4b4955 88.6%,#3e3c46 89.4%,#26242a 90.6%,#08080a 91.2%,#26242a 91.8%,#4c4a56 93.4%,#666477 95.3%,#77758c 96.7%,#8c8aa7 98.1%,#9a99b5 99.1%,#a7aabf 99.9%)"></i><i style="left:148px;width:2px;background:linear-gradient(180deg,#eaf2f2 0.1%,#e2eeee 22.1%,#d2e2e2 42.1%,#c2d4d4 51.6%,#b8c6cd 58.3%,#acb0c3 66.8%,#9997b4 73.4%,#8b89a6 77.7%,#6f6d82 83.7%,#5f5d6f 86.4%,#4b4955 88.8%,#3a3842 89.8%,#26242a 90.8%,#08080a 91.4%,#27252c 92%,#494752 93.4%,#666477 95.5%,#78768d 96.9%,#8e8ca9 98.3%,#9997b4 99.1%,#a6a8be 99.9%)"></i><i style="left:150px;width:2px;background:linear-gradient(180deg,#eaf2f2 0.1%,#e1eded 23.9%,#d2e2e2 42.1%,#c3d5d6 50.8%,#b7c4cc 59.1%,#acb0c3 66.8%,#9997b4 73.6%,#8d8ba8 77.5%,#8785a1 78.9%,#6a687c 84.9%,#595767 87.4%,#4c4a56 89%,#2f2d35 90.6%,#26242a 91%,#08080a 91.6%,#28262d 92.2%,#4d4b57 93.8%,#79778f 97.1%,#8c8aa7 98.3%,#9a98b5 99.3%,#a4a5bd 99.9%)"></i><i style="left:152px;width:2px;background:linear-gradient(180deg,#eaf2f2 0.1%,#e2eded 22.5%,#d2e2e2 42.1%,#c5d6d7 50.2%,#b6c2cb 59.9%,#acb0c3 67%,#9998b4 73.6%,#8a88a4 78.5%,#666477 86%,#494752 89.4%,#26242a 91.2%,#0a090c 91.8%,#111114 92%,#28262d 92.4%,#4a4854 93.8%,#7a7890 97.3%,#8d8ba8 98.5%,#9997b4 99.3%,#a2a3bb 99.9%)"></i><i style="left:154px;width:2px;background:linear-gradient(180deg,#eaf2f2 0.1%,#e2eded 22.3%,#d2e2e2 42.1%,#c2d4d4 51.8%,#b5c1ca 60.7%,#acb0c3 67.4%,#9998b4 73.8%,#8c8aa6 78.3%,#666477 86.2%,#494753 89.6%,#2b2931 91.2%,#1d1c21 91.6%,#111114 91.8%,#0a090c 92%,#111114 92.2%,#28262d 92.6%,#4a4854 94%,#7b7991 97.5%,#8e8ca9 98.7%,#a0a1ba 99.9%)"></i><i style="left:156px;width:2px;background:linear-gradient(180deg,#eaf2f2 0.1%,#e1eded 23.5%,#d2e2e2 42.1%,#c3d5d6 51.2%,#b8c4cc 59.3%,#acb0c3 67.6%,#9a99b5 73.8%,#8d8ba8 78.3%,#666477 86.4%,#4a4854 89.8%,#2b2931 91.4%,#1d1c21 91.8%,#111114 92%,#0a090c 92.2%,#28262d 92.8%,#4b4955 94.2%,#79778f 97.5%,#8c8aa7 98.7%,#9f9eb8 99.9%)"></i><i style="left:158px;width:2px;background:linear-gradient(180deg,#e9f2f2 0.1%,#e1eded 22.7%,#d2e2e2 42.1%,#c4d6d7 50.6%,#b8c6cd 58.9%,#acb0c3 67.6%,#9997b4 74.4%,#8b89a6 78.9%,#666476 86.8%,#4a4854 90%,#2b2931 91.6%,#1d1c21 92%,#111114 92.2%,#0a090c 92.4%,#28262d 93%,#4b4955 94.4%,#76748c 97.5%,#8e8ca9 98.9%,#9d9cb7 99.9%)"></i><i style="left:160px;width:2px;background:linear-gradient(180deg,#e9f2f2 0.1%,#e0ecec 24.5%,#d2e2e2 42.1%,#c2d4d5 51.8%,#b7c3cc 59.9%,#acb0c3 67.8%,#9997b4 74.6%,#8d8ba8 78.7%,#666477 87%,#4b4954 90.2%,#27252c 92%,#111114 92.4%,#0a090c 92.6%,#28262d 93.2%,#4c4a56 94.6%,#77758d 97.7%,#8c8aa6 98.9%,#9b99b5 99.9%)"></i><i style="left:162px;width:2px;background:linear-gradient(180deg,#e9f2f2 0.1%,#e1eded 23.1%,#d2e2e2 42.1%,#c3d5d6 51.2%,#b8c5cc 59.5%,#acb0c3 68%,#9a98b5 74.6%,#8c8aa6 79.3%,#666477 87.2%,#565463 89.2%,#484651 90.6%,#28262d 92.2%,#111114 92.6%,#0a090c 92.8%,#111114 93%,#28262d 93.4%,#4c4a56 94.8%,#78768e 97.9%,#8d8ba8 99.1%,#9997b4 99.9%)"></i><i style="left:164px;width:2px;background:linear-gradient(180deg,#e9f2f2 0.1%,#e1eded 22.3%,#d2e2e2 42.1%,#c1d3d4 52.4%,#b9c6cd 59.1%,#acb0c3 68.2%,#9b99b5 74.6%,#8d8ba8 79.3%,#666477 87.4%,#555361 89.6%,#484651 90.8%,#28262d 92.4%,#111114 92.8%,#0a090c 93%,#111114 93.2%,#28262d 93.6%,#4c4a56 95.1%,#76748b 97.9%,#8e8ca9 99.3%,#9795b2 99.9%)"></i><i style="left:166px;width:2px;background:linear-gradient(180deg,#e9f2f2 0.1%,#e1eded 23.5%,#d2e2e2 42.1%,#c3d4d5 51.8%,#b7c3cc 60.3%,#acb0c3 68.4%,#9896b3 75.7%,#8c8aa7 79.7%,#6f6d83 86%,#5f5d6e 88.6%,#494752 91%,#28262d 92.6%,#0a090c 93.2%,#111114 93.4%,#28262d 93.8%,#4c4a57 95.3%,#7a7890 98.3%,#8c8aa7 99.3%,#9593b0 99.9%)"></i><i style="left:168px;width:2px;background:linear-gradient(180deg,#e9f2f2 0.1%,#e1eded 22.7%,#d0e0e0 43.7%,#c0d2d3 53%,#b6c1cb 61.5%,#acb0c3 68.6%,#9a99b5 75.3%,#8b89a5 80.3%,#666477 88%,#494752 91.2%,#28262d 92.8%,#201f25 93%,#0a090c 93.4%,#111114 93.6%,#28262d 94%,#484652 95.3%,#9391ae 99.9%)"></i><i style="left:170px;width:2px;background:linear-gradient(180deg,#e9f2f2 0.1%,#e0ecec 23.9%,#d1e1e1 43.1%,#c2d4d5 52.2%,#b6c2cb 61.3%,#acb0c3 68.8%,#9997b4 75.9%,#8d8ba8 80.1%,#747289 85.6%,#626071 88.8%,#4a4854 91.4%,#29272e 93%,#0a090c 93.6%,#111114 93.8%,#28262d 94.2%,#494752 95.5%,#918fac 99.9%)"></i><i style="left:172px;width:2px;background:linear-gradient(180deg,#e9f2f2 0.1%,#e1eded 22.5%,#d1e2e2 42.5%,#c0d2d3 53.4%,#b7c3cb 61.1%,#acb0c3 69%,#9997b4 76.3%,#8d8ba8 80.1%,#8785a1 81.7%,#6e6c81 87%,#605e70 89.2%,#514f5c 91%,#464450 91.8%,#29272e 93.2%,#0a090c 93.8%,#111114 94%,#28262d 94.4%,#494752 95.7%,#908eab 99.9%)"></i><i style="left:174px;width:2px;background:linear-gradient(180deg,#e9f2f2 0.1%,#e0ecec 23.7%,#d1e2e2 42.5%,#c2d4d4 52.6%,#b7c4cc 60.7%,#acb0c3 69.2%,#9998b4 76.3%,#8b89a5 81.1%,#737187 86.4%,#646274 89%,#4b4955 91.8%,#29272e 93.4%,#0a090c 94%,#111114 94.2%,#28262d 94.6%,#494753 95.9%,#77758d 98.7%,#8d8ba8 99.9%)"></i><i style="left:176px;width:2px;background:linear-gradient(180deg,#e9f2f2 0.1%,#e1eded 22.9%,#d0e0e0 43.5%,#c0d2d3 53.6%,#b7c3cb 61.3%,#acb0c3 69.4%,#9a99b5 76.3%,#8d8ba8 80.9%,#676579 88.8%,#4f4d5a 91.6%,#484651 92.2%,#2a282f 93.6%,#232228 93.8%,#0b0b0d 94.2%,#111114 94.4%,#28262d 94.8%,#4a4854 96.1%,#78768e 98.9%,#8b89a5 99.9%)"></i><i style="left:178px;width:2px;background:linear-gradient(180deg,#e9f2f2 0.1%,#e0ecec 24.1%,#d1e1e1 42.9%,#c1d3d4 53%,#b6c1cb 62.3%,#acb0c3 69.8%,#9b99b5 76.3%,#8c8aa7 81.3%,#666477 89.2%,#4c4a56 92.2%,#2a2830 93.8%,#232228 94%,#0b0b0d 94.4%,#100f12 94.6%,#28262d 95.1%,#4a4854 96.3%,#8886a2 99.9%)"></i><i style="left:180px;width:2px;background:linear-gradient(180deg,#e9f2f2 0.1%,#e1eded 22.7%,#cfdfdf 44.5%,#c0d2d3 53.8%,#b3bdc8 64.5%,#acb0c3 70%,#9997b4 77.3%,#8c8aa6 81.7%,#676578 89.4%,#494752 92.6%,#2a2830 94%,#232228 94.2%,#0b0b0d 94.6%,#100f12 94.8%,#28262d 95.3%,#4a4854 96.5%,#86849f 99.9%)"></i><i style="left:182px;width:2px;background:linear-gradient(180deg,#e9f2f2 0.1%,#e0ecec 23.9%,#d0e0e0 43.9%,#bfd1d2 54.6%,#b5c0ca 62.9%,#abafc2 70.4%,#9998b4 77.3%,#8a88a5 82.3%,#75738a 87%,#666477 89.8%,#4a4854 92.8%,#2b2930 94.2%,#242229 94.4%,#0b0b0d 94.8%,#0e0e11 95.1%,#28262d 95.5%,#4b4955 96.7%,#83819b 99.9%)"></i><i style="left:184px;width:2px;background:linear-gradient(180deg,#e9f2f2 0.1%,#dfecec 25.2%,#d1e1e1 43.3%,#c0d2d3 53.8%,#b6c1cb 62.7%,#acb0c3 70.2%,#9997b4 77.7%,#8d8ba8 81.9%,#79778f 86.4%,#666477 90%,#53515f 92.2%,#464450 93.2%,#26242a 94.6%,#0d0c0f 95.1%,#0e0e11 95.3%,#28262d 95.7%,#4b4955 96.9%,#807e98 99.9%)"></i><i style="left:186px;width:2px;background:linear-gradient(180deg,#e8f2f2 0.1%,#e0ecec 23.7%,#cfe0e0 44.3%,#c0d1d3 54.6%,#b3bdc9 64.7%,#acb0c3 70.4%,#9997b4 78.1%,#8d8ba8 82.3%,#77758c 87.2%,#656376 90.4%,#4b4955 93.2%,#2c2a32 94.6%,#26242a 94.8%,#0e0e11 95.3%,#0e0e11 95.5%,#28262d 95.9%,#4b4955 97.1%,#7d7b94 99.9%)"></i><i style="left:188px;width:2px;background:linear-gradient(180deg,#e8f2f2 0.1%,#dfecec 24.9%,#d0e0e0 43.7%,#c0d2d3 54%,#b3bdc9 64.9%,#acb0c3 70.6%,#9997b4 78.3%,#8c8aa7 82.7%,#737188 88.2%,#666477 90.6%,#52505d 92.8%,#484651 93.6%,#2d2b32 94.8%,#26242b 95.1%,#0e0e11 95.5%,#0d0c0f 95.7%,#28262d 96.1%,#46444f 97.1%,#7a7891 99.9%)"></i><i style="left:190px;width:2px;background:linear-gradient(180deg,#e8f2f2 0.1%,#e0ecec 23.5%,#cfdfdf 44.7%,#c0d2d3 54.6%,#b3bdc9 65.2%,#acb0c3 71%,#9997b4 78.7%,#8d8ba8 82.9%,#79778f 87.4%,#666477 90.8%,#545261 92.8%,#484652 93.8%,#28262d 95.3%,#0e0e11 95.7%,#0d0c0f 95.9%,#28262d 96.3%,#4c4a56 97.5%,#77758d 99.9%)"></i><i style="left:192px;width:2px;background:linear-gradient(180deg,#e8f2f2 0.1%,#e0ecec 24.1%,#d0e0e0 44.1%,#bfd1d2 55.3%,#b4bec9 65.2%,#acb0c3 71.4%,#9998b4 78.7%,#8c8aa7 83.3%,#79778f 87.6%,#676578 91%,#555361 93%,#494752 94%,#28262d 95.5%,#100f12 95.9%,#0b0b0d 96.1%,#26242b 96.5%,#464450 97.5%,#676578 99.1%,#747289 99.9%)"></i><i style="left:194px;width:2px;background:linear-gradient(180deg,#e8f2f2 0.1%,#dfebeb 25.4%,#cfe0e0 44.5%,#c0d2d3 54.6%,#b4bec9 65.4%,#abafc2 71.8%,#9997b4 79.1%,#8c8aa6 83.7%,#7a7890 87.8%,#666477 91.4%,#4a4854 94.2%,#29272e 95.7%,#111114 96.1%,#0b0b0d 96.3%,#26242b 96.7%,#4c4a57 97.9%,#727086 99.9%)"></i><i style="left:196px;width:2px;background:linear-gradient(180deg,#e8f2f2 0.1%,#e0ecec 23.9%,#d0e0e0 43.9%,#c0d1d3 55.3%,#b3bdc9 65.8%,#acb0c3 71.6%,#9998b4 79.3%,#8c8aa7 83.9%,#7a7890 88%,#666477 91.6%,#545260 93.6%,#464450 94.6%,#29272e 95.9%,#201f25 96.1%,#111114 96.3%,#0b0b0d 96.5%,#26242b 96.9%,#474550 97.9%,#6f6d82 99.9%)"></i><i style="left:198px;width:2px;background:linear-gradient(180deg,#e8f1f1 0.1%,#dfecec 24.5%,#cedede 46%,#bfd0d2 55.9%,#b2bbc8 67.2%,#acb0c3 71.8%,#9997b4 79.7%,#8d8ba8 84.1%,#7b7991 88.2%,#676578 91.8%,#545261 93.8%,#474550 94.8%,#2a282f 96.1%,#201f25 96.3%,#131216 96.5%,#0b0b0d 96.7%,#26242b 97.1%,#474550 98.1%,#6c6a7f 99.9%)"></i><i style="left:200px;width:2px;background:linear-gradient(180deg,#e8f1f1 0.1%,#dfebeb 25.8%,#cedfdf 45.4%,#bfd0d2 56.3%,#b3bdc9 66.4%,#acb0c3 72.4%,#9896b3 80.3%,#8c8aa7 84.5%,#7b7992 88.4%,#676579 92%,#4c4a56 94.8%,#2a2830 96.3%,#222026 96.5%,#131216 96.7%,#0a090c 96.9%,#26242b 97.3%,#484652 98.3%,#69677b 99.9%)"></i><i style="left:202px;width:2px;background:linear-gradient(180deg,#e8f1f1 0.1%,#dfecec 24.3%,#cedfdf 45.8%,#c0d1d3 55.7%,#b3bcc8 67%,#abafc2 73%,#9997b4 80.3%,#8d8ba8 84.7%,#7b7991 88.8%,#666477 92.4%,#575564 94%,#494752 95.3%,#2b2930 96.5%,#232228 96.7%,#141317 96.9%,#0a090c 97.1%,#26242a 97.5%,#2d2b33 97.7%,#484652 98.5%,#676578 99.9%)"></i><i style="left:204px;width:2px;background:linear-gradient(180deg,#e8f1f1 0.1%,#dfebeb 24.9%,#d0e0e0 44.1%,#c0d2d3 55.1%,#b2bbc8 67.6%,#acb0c3 72.6%,#9998b4 80.5%,#8c8aa6 85.4%,#7b7992 89%,#676578 92.6%,#585665 94.2%,#494753 95.5%,#2b2931 96.7%,#232228 96.9%,#0b0b0d 97.3%,#161519 97.5%,#26242a 97.7%,#2d2b33 97.9%,#4e4c59 98.9%,#636172 99.9%)"></i><i style="left:206px;width:2px;background:linear-gradient(180deg,#e8f1f1 0.1%,#dfebeb 25.6%,#d0e0e0 44.5%,#c0d2d3 55.7%,#b2bac7 68.4%,#acb0c3 73.2%,#9997b4 80.9%,#8c8aa7 85.6%,#7b7991 89.4%,#676579 92.8%,#4a4854 95.7%,#2c2a32 96.9%,#242229 97.1%,#161519 97.3%,#0b0b0d 97.5%,#161519 97.7%,#26242a 97.9%,#2d2b33 98.1%,#494753 98.9%,#5f5d6e 99.9%)"></i><i style="left:208px;width:2px;background:linear-gradient(180deg,#e8f1f1 0.1%,#deebeb 26.8%,#cfe0e0 44.9%,#c1d3d4 55.1%,#b4bfca 66.2%,#acb0c3 73.4%,#9998b4 81.1%,#8c8aa7 85.8%,#7a7890 89.8%,#666477 93.2%,#4b4955 95.9%,#26242a 97.3%,#0a090c 97.7%,#242229 98.1%,#2d2b33 98.3%,#494753 99.1%,#5b5969 99.9%)"></i><i style="left:210px;width:2px;background:linear-gradient(180deg,#e8f1f1 0.1%,#dfebeb 24.7%,#cfdfdf 45.4%,#c0d2d3 55.5%,#b3bcc8 67.8%,#acb0c3 73.4%,#9997b4 81.7%,#8b89a6 86.4%,#76748c 90.8%,#676578 93.4%,#4c4a56 96.1%,#26242b 97.5%,#0a090c 97.9%,#242229 98.3%,#2d2b33 98.5%,#494753 99.3%,#575564 99.9%)"></i><i style="left:212px;width:2px;background:linear-gradient(180deg,#e8f1f1 0.1%,#dfebeb 25.4%,#d0e0e0 44.7%,#c0d2d3 55.9%,#b2bac8 69%,#abafc2 74.2%,#9997b4 81.9%,#8d8ba8 86.4%,#7a7890 90.4%,#666477 93.8%,#585665 95.3%,#484652 96.5%,#26242b 97.7%,#0b0b0d 98.1%,#141317 98.3%,#242229 98.5%,#2d2b33 98.7%,#4a4854 99.5%,#53515f 99.9%)"></i><i style="left:214px;width:2px;background:linear-gradient(180deg,#e8f1f1 0.1%,#deebeb 26%,#cfe0e0 45.2%,#c0d2d3 56.3%,#b3bdc9 68%,#acb0c3 74%,#9896b3 82.5%,#8a88a4 87.4%,#7a7890 90.8%,#666477 94%,#585666 95.5%,#494752 96.7%,#28262d 97.9%,#0b0b0d 98.3%,#131216 98.5%,#242229 98.7%,#2d2b33 98.9%,#44424c 99.5%,#4f4d5a 99.9%)"></i><i style="left:216px;width:2px;background:linear-gradient(180deg,#e8f1f1 0.1%,#deebeb 26.6%,#cddede 47%,#bfd0d2 57.5%,#b1b9c7 70.4%,#acb0c3 74.6%,#9896b3 83.1%,#8e8ca9 86.6%,#8886a1 88.2%,#737187 92.4%,#656376 94.4%,#494753 96.9%,#28262d 98.1%,#1c1a20 98.3%,#0b0b0d 98.5%,#131216 98.7%,#242229 98.9%,#4b4955 99.9%)"></i><i style="left:218px;width:2px;background:linear-gradient(180deg,#e8f1f1 0.1%,#dfebeb 25.2%,#d2e2e2 42.7%,#bfd0d2 57.9%,#aaaec2 75.7%,#9998b4 82.7%,#8d8ba8 87.2%,#716f84 93%,#626072 95.1%,#4a4854 97.1%,#28262d 98.3%,#0d0c0f 98.7%,#131216 98.9%,#242229 99.1%,#44424c 99.9%)"></i><i style="left:220px;width:2px;background:linear-gradient(180deg,#e8f1f1 0.1%,#dfecec 23.7%,#d2e2e2 43.1%,#bcccd0 60.3%,#a9acc0 76.7%,#9a98b5 82.9%,#8d8ba8 87.6%,#7d7b94 91%,#6c6a7f 94%,#636173 95.3%,#4b4955 97.3%,#2a282f 98.5%,#0d0c0f 98.9%,#131216 99.1%,#242229 99.3%,#3c3a44 99.9%)"></i><i style="left:222px;width:2px;background:linear-gradient(180deg,#e7f1f1 0.1%,#deebeb 25.8%,#d0e0e0 44.7%,#c2d4d5 55.3%,#b8c5cc 64.7%,#acb1c3 75.1%,#a1a2ba 80.3%,#8d8ba8 88%,#7d7b94 91.4%,#6a687c 94.6%,#5f5d6e 95.9%,#4c4a56 97.5%,#2a282f 98.7%,#1f1d23 98.9%,#0d0c0f 99.1%,#131216 99.3%,#242229 99.5%,#34323b 99.9%)"></i><i style="left:224px;width:2px;background:linear-gradient(180deg,#e7f1f1 0.1%,#deebeb 26.4%,#cfe0e0 45.6%,#b8c5cd 64.7%,#acb0c3 75.7%,#a0a0ba 81.1%,#8d8ba8 88.2%,#7c7a93 91.8%,#69677b 95.1%,#5b5969 96.5%,#484651 97.9%,#2b2930 98.9%,#1f1d23 99.1%,#0d0c0f 99.3%,#111114 99.5%,#242229 99.7%,#2d2b33 99.9%)"></i><i style="left:226px;width:2px;background:linear-gradient(180deg,#e7f1f1 0.1%,#dfebeb 24.9%,#d1e1e1 44.5%,#c0d2d3 56.7%,#b5c0ca 67.6%,#adb1c4 75.5%,#9c9bb6 83.1%,#8c8aa6 89%,#7c7a93 92.2%,#6a687b 95.3%,#605e70 96.3%,#4d4b57 97.9%,#3e3c46 98.5%,#2b2930 99.1%,#100f12 99.5%,#100f12 99.7%,#232127 99.9%)"></i><i style="left:228px;width:2px;background:linear-gradient(180deg,#e7f1f1 0.1%,#ddeaea 27.6%,#cedede 47.2%,#c0d1d3 57.7%,#b3bcc8 70.2%,#acb0c3 76.5%,#9a98b5 84.3%,#8a88a5 89.6%,#7b7992 92.6%,#676578 95.9%,#555362 97.5%,#494753 98.3%,#2b2930 99.3%,#222026 99.5%,#100f12 99.7%,#100f12 99.9%)"></i><i style="left:230px;width:2px;background:linear-gradient(180deg,#e7f1f1 0.1%,#deebeb 25.6%,#cedfdf 46.6%,#c0d1d3 57.9%,#b4bec9 69.4%,#acb0c3 76.5%,#9997b4 84.9%,#8c8aa6 89.6%,#79778f 93.4%,#686679 96.1%,#4a4854 98.5%,#2c2a32 99.5%,#222026 99.7%,#100f12 99.9%)"></i><i style="left:232px;width:2px;background:linear-gradient(180deg,#e7f1f1 0.1%,#deebeb 26.2%,#d0e0e0 45.6%,#c0d2d3 57.5%,#b7c3cb 67%,#acb0c3 76.9%,#9d9cb7 83.7%,#8d8ba8 89.6%,#7e7c95 92.8%,#6e6c81 95.5%,#626072 96.9%,#4b4955 98.7%,#33313a 99.5%,#232127 99.9%)"></i><i style="left:234px;width:2px;background:linear-gradient(180deg,#e7f1f1 0.1%,#deebeb 26.2%,#cedfdf 46.8%,#c0d2d3 57.7%,#b7c4cc 66.8%,#acb0c3 77.3%,#9f9fb9 83.3%,#8e8ca9 89.8%,#75738a 94.6%,#656376 96.9%,#514f5d 98.5%,#4b4955 98.9%,#2d2b33 99.9%)"></i><i style="left:236px;width:2px;background:linear-gradient(180deg,#e7f1f1 0.1%,#deeaea 26.8%,#d0e0e0 45.4%,#c1d3d4 57.3%,#b8c4cc 66.8%,#acb0c3 77.5%,#9f9fb9 83.5%,#8d8ba8 90.4%,#77758c 94.6%,#686679 96.9%,#5a5868 98.1%,#4c4a56 99.1%,#34323b 99.9%)"></i><i style="left:238px;width:2px;background:linear-gradient(180deg,#e7f1f1 0.1%,#dfebeb 23.9%,#d2e2e2 43.7%,#bccbcf 62.9%,#acb0c3 77.7%,#a6a8be 80.9%,#9391ae 88.8%,#8d8ba8 90.6%,#84829d 92.6%,#79778f 94.6%,#666477 97.3%,#4d4b57 99.3%,#3b3943 99.9%)"></i><i style="left:240px;width:2px;background:linear-gradient(180deg,#e7f1f1 0.1%,#deebeb 25.4%,#d2e2e2 43.9%,#bdccd0 62.1%,#b2bac7 73%,#a7a9bf 80.9%,#9492af 88.8%,#8886a1 92.2%,#76748b 95.5%,#69677a 97.3%,#4d4b58 99.5%,#42404b 99.9%)"></i><i style="left:242px;width:2px;background:linear-gradient(180deg,#e7f1f1 0.1%,#dfebeb 24.5%,#d2e2e2 43.9%,#bccbd0 63.1%,#b0b7c6 74.8%,#a7aabf 81.1%,#9997b4 87.2%,#8c8aa7 91.6%,#7b7992 94.8%,#69677b 97.5%,#5c5a6a 98.7%,#494753 99.9%)"></i><i style="left:244px;width:2px;background:linear-gradient(180deg,#e7f1f1 0.1%,#dfebeb 24.5%,#d2e2e2 43.9%,#becfd1 60.9%,#b2bbc8 73.4%,#a8abc0 81.1%,#9998b4 87.4%,#8c8aa7 91.8%,#7d7b94 94.8%,#686679 97.9%,#4e4c59 99.9%)"></i><i style="left:246px;width:2px;background:linear-gradient(180deg,#e7f1f1 0.1%,#dfebeb 23.7%,#d2e2e2 44.1%,#bdcdd0 62.5%,#a9acc0 81.1%,#9896b3 88.2%,#8d8ba8 92%,#817f99 94.4%,#6f6d82 97.3%,#676578 98.3%,#514f5d 99.9%)"></i><i style="left:248px;width:2px;background:linear-gradient(180deg,#e7f1f1 0.1%,#deebeb 25.2%,#d1e1e1 45.6%,#beced1 61.9%,#acb0c3 79.9%,#9b99b5 87.6%,#8d8ba8 92.4%,#7d7b94 95.5%,#6f6d83 97.5%,#676579 98.5%,#555362 99.9%)"></i><i style="left:250px;width:2px;background:linear-gradient(180deg,#e7f1f1 0.1%,#deebeb 25.2%,#d2e2e2 44.3%,#bfd0d2 60.7%,#acb0c3 80.3%,#9a98b5 88.4%,#8d8ba8 92.6%,#83819c 94.6%,#737187 97.3%,#686679 98.7%,#595766 99.9%)"></i><i style="left:252px;width:2px;background:linear-gradient(180deg,#e6f0f0 0.1%,#deebeb 25.2%,#d1e1e1 45.4%,#becfd2 61.5%,#acb0c3 80.7%,#9b9ab6 88.2%,#8d8ba8 93%,#7e7c96 95.9%,#727086 97.7%,#676578 99.1%,#5c5a6a 99.9%)"></i><i style="left:254px;width:2px;background:linear-gradient(180deg,#e6f0f0 0.1%,#dfebeb 24.3%,#d2e2e2 44.5%,#beced1 62.3%,#acb0c3 80.7%,#9a99b5 89%,#8d8ba8 93.4%,#76748b 97.5%,#676578 99.3%,#5f5d6f 99.9%)"></i><i style="left:256px;width:2px;background:linear-gradient(180deg,#e6f0f0 0.1%,#deeaea 26.6%,#d1e1e1 45.6%,#bdcdd0 63.7%,#acb0c3 81.1%,#9d9cb7 88.4%,#8d8ba8 93.6%,#7e7c96 96.5%,#6d6b80 98.9%,#636173 99.9%)"></i><i style="left:258px;width:2px;background:linear-gradient(180deg,#e6f0f0 0.1%,#deebeb 25.8%,#d2e2e2 44.3%,#bcccd0 64.5%,#acb0c3 81.5%,#9896b3 90.4%,#8c8aa7 94.2%,#7c7a93 97.1%,#666477 99.9%)"></i><i style="left:260px;width:2px;background:linear-gradient(180deg,#e6f0f0 0.1%,#deebeb 25.8%,#d3e3e3 43.5%,#bdcdd1 63.9%,#acb0c3 81.7%,#9997b4 90.6%,#8a88a4 95.1%,#77758d 98.1%,#69677a 99.9%)"></i><i style="left:262px;width:2px;background:linear-gradient(180deg,#e6f0f0 0.1%,#deebeb 25.8%,#d4e3e3 42.7%,#bdcdd1 64.3%,#acb0c3 82.1%,#9997b4 90.8%,#8d8ba8 94.8%,#82809a 96.9%,#6b697d 99.9%)"></i><i style="left:264px;width:2px;background:linear-gradient(180deg,#e6f0f0 0.1%,#e0ecec 20.9%,#d5e4e4 40.9%,#bfd1d2 61.7%,#afb5c5 80.1%,#a7aabf 85.4%,#9c9bb6 90.2%,#8c8aa7 95.3%,#7e7c96 97.7%,#6d6b80 99.9%)"></i><i style="left:266px;width:2px;background:linear-gradient(180deg,#e6f0f0 0.1%,#deebeb 24.9%,#d4e3e3 42.9%,#beced1 64.1%,#afb5c5 80.7%,#a7aabf 85.8%,#9c9bb6 90.6%,#8c8aa7 95.7%,#82809a 97.5%,#706e83 99.9%)"></i><i style="left:268px;width:2px;background:linear-gradient(180deg,#e6f0f0 0.1%,#dfecec 22.5%,#d4e3e3 42.5%,#bfd0d2 62.5%,#afb5c5 81.1%,#9d9db8 90.4%,#8d8ba8 95.7%,#83819c 97.5%,#727086 99.9%)"></i><i style="left:270px;width:2px;background:linear-gradient(180deg,#e6f0f0 0.1%,#dfebeb 23.3%,#d4e3e3 43.1%,#becfd2 63.7%,#afb5c5 81.5%,#9d9db8 90.8%,#8d8ba8 96.1%,#83819c 97.9%,#747289 99.9%)"></i><i style="left:272px;width:2px;background:linear-gradient(180deg,#e6f0f0 0.1%,#d8e6e6 37.5%,#d1e1e1 47%,#bfd1d2 62.7%,#afb5c5 81.9%,#a2a3bb 89.4%,#9896b3 93.2%,#8d8ba8 96.5%,#76748c 99.9%)"></i><i style="left:274px;width:2px;background:linear-gradient(180deg,#e6f0f0 0.1%,#e0ecec 21.5%,#d7e5e5 38.7%,#d0e0e0 48%,#c0d2d3 62.3%,#afb5c5 82.3%,#a2a3bb 89.8%,#9896b3 93.4%,#8d8ba8 96.7%,#79778f 99.9%)"></i><i style="left:276px;width:2px;background:linear-gradient(180deg,#e6f0f0 0.1%,#d8e6e6 37.1%,#d1e1e1 46.8%,#c0d1d3 62.9%,#afb5c5 82.5%,#a2a3bb 90.2%,#9998b4 93.4%,#8d8ba8 97.1%,#7b7992 99.9%)"></i><i style="left:278px;width:2px;background:linear-gradient(180deg,#e6f0f0 0.1%,#d7e6e6 38.3%,#d1e1e1 47.4%,#c0d2d3 62.5%,#b2bac7 80.1%,#a6a9bf 88.6%,#9b99b5 93.4%,#8f8daa 96.9%,#7d7b94 99.9%)"></i><i style="left:280px;width:2px;background:linear-gradient(180deg,#e6f0f0 0.1%,#dfecec 22.3%,#d6e5e5 39.5%,#d0e0e0 48%,#c0d2d3 62.7%,#b2bac7 80.5%,#a6a8be 89.2%,#9997b4 94.2%,#8e8ca9 97.5%,#7f7d97 99.9%)"></i><i style="left:282px;width:2px;background:linear-gradient(180deg,#e6f0f0 0.1%,#d8e6e6 37.9%,#d0e0e0 48.6%,#c0d1d3 63.7%,#b4bec9 78.1%,#aaadc1 87.8%,#9694b1 95.7%,#8e8ca9 97.9%,#82809a 99.9%)"></i><i style="left:284px;width:2px;background:linear-gradient(180deg,#e6f0f0 0.1%,#d7e5e5 39.1%,#d2e2e2 46.4%,#c2d4d4 61.9%,#b4bec9 78.5%,#a9acc1 88.6%,#9896b3 95.5%,#8e8ca9 98.3%,#84829c 99.9%)"></i><i style="left:286px;width:1px;background:linear-gradient(180deg,#e6f0f0 0.1%,#e0ecec 19.5%,#d6e5e5 40.3%,#d1e1e1 48%,#c0d2d3 63.9%,#b3bdc9 79.5%,#a8abc0 89.2%,#9795b2 95.9%,#8d8ba8 98.7%,#85839e 99.9%)"></i></div>
<div class="hm hr" style="left:1289px;top:950px;width:274px;height:495px"><i style="top:0px;height:2px;background:linear-gradient(90deg,#ffffa8 0.2%,#ffffa8 3.5%,#ffffac 3.8%,#ffffac 6.4%,#ffffb0 6.8%,#ffffb0 9.7%,#ffffb4 10%,#ffffb8 15.9%,#ffffbc 16.2%,#ffffbc 18.4%,#ffffc0 18.8%,#ffffc0 21%,#ffffc4 21.4%,#ffffcc 28.3%,#ffffd0 28.6%,#ffffd4 31.2%,#ffffd8 31.6%,#ffffd8 32.7%,#ffffdf 34.1%,#ffffdf 35.2%,#ffffe3 35.6%,#ffffe7 37.4%,#fffff3 39.6%,#ffffff 40.7%,#ffffff 99.8%)"></i><i style="top:2px;height:2px;background:linear-gradient(90deg,#ffffa6 0.2%,#ffffac 6.8%,#ffffb0 7.1%,#ffffb0 9.7%,#ffffb4 10.4%,#ffffb4 13%,#ffffb8 13.3%,#ffffb8 15.9%,#ffffbc 16.2%,#ffffbc 18.4%,#ffffc0 19.2%,#ffffc0 21%,#ffffc4 21.7%,#ffffc4 23.5%,#ffffc8 24.3%,#ffffd0 30.1%,#ffffd8 31.6%,#ffffd8 32.7%,#ffffdf 34.1%,#ffffdf 35.2%,#ffffe3 35.6%,#ffffeb 38.5%,#ffffff 40.7%,#ffffff 99.8%)"></i><i style="top:4px;height:2px;background:linear-gradient(90deg,#ffffa4 0.2%,#ffffa8 0.9%,#ffffac 7.1%,#ffffb0 7.5%,#ffffb0 10%,#ffffb4 10.4%,#ffffb4 13.3%,#ffffb8 13.7%,#ffffb8 16.2%,#ffffbc 16.6%,#ffffbc 18.8%,#ffffc0 19.2%,#ffffc0 21.4%,#ffffc4 21.7%,#ffffcc 28.6%,#ffffd0 29%,#ffffd4 31.6%,#ffffdc 33%,#ffffdc 34.1%,#ffffe3 35.6%,#ffffe7 37.8%,#fffff3 39.6%,#ffffff 40.7%,#ffffff 99.8%)"></i><i style="top:6px;height:2px;background:linear-gradient(90deg,#ffffa4 0.2%,#ffffa4 0.9%,#ffffa8 1.3%,#ffffa8 4.2%,#ffffac 4.6%,#ffffac 7.1%,#ffffb0 7.8%,#ffffb0 10.4%,#ffffb4 10.8%,#ffffb8 16.6%,#ffffbc 17%,#ffffbc 19.2%,#ffffc0 19.5%,#ffffc0 21.7%,#ffffc4 22.1%,#ffffc4 24.3%,#ffffc8 24.6%,#ffffcc 28.6%,#ffffe7 37.8%,#ffffef 39.2%,#ffffff 41.1%,#ffffff 99.8%)"></i><i style="top:8px;height:2px;background:linear-gradient(90deg,#ffffa4 0.2%,#ffffa4 1.3%,#ffffa8 1.6%,#ffffa8 4.6%,#ffffac 4.9%,#ffffac 7.5%,#ffffb0 8.2%,#ffffb0 10.8%,#ffffb4 11.1%,#ffffb8 16.6%,#ffffbc 17.3%,#ffffc8 26.8%,#ffffcc 27.2%,#ffffcc 29%,#ffffd0 29.4%,#ffffd0 30.5%,#ffffd8 31.9%,#ffffd8 33%,#ffffdf 34.5%,#ffffdf 35.6%,#ffffe3 35.9%,#ffffe7 37.8%,#ffffef 39.2%,#ffffff 41.1%,#ffffff 99.8%)"></i><i style="top:10px;height:2px;background:linear-gradient(90deg,#ffffa4 0.2%,#ffffa8 4.9%,#ffffac 5.3%,#ffffac 7.8%,#ffffb0 8.6%,#ffffb0 11.1%,#ffffb4 11.5%,#ffffb4 14.1%,#ffffb8 14.8%,#ffffb8 17%,#ffffbc 17.3%,#ffffbc 19.5%,#ffffc0 19.9%,#ffffc0 22.1%,#ffffc4 22.4%,#ffffc4 24.6%,#ffffc8 25%,#ffffcc 29%,#ffffd0 29.4%,#ffffd4 31.9%,#ffffdc 33.4%,#ffffdc 34.5%,#ffffe3 35.9%,#ffffe7 37.8%,#fffff7 40.3%,#ffffff 41.1%,#ffffff 99.8%)"></i><i style="top:12px;height:2px;background:linear-gradient(90deg,#ffffa4 0.2%,#ffffa8 4.9%,#ffffac 5.7%,#ffffac 8.2%,#ffffb0 8.6%,#ffffb0 11.5%,#ffffb4 11.9%,#ffffb4 14.4%,#ffffb8 15.1%,#ffffb8 17.3%,#ffffbc 17.7%,#ffffbc 19.9%,#ffffc0 20.3%,#ffffc0 22.4%,#ffffc4 22.8%,#ffffc4 25%,#ffffc8 25.4%,#ffffcc 29.4%,#ffffd0 29.7%,#ffffe3 37%,#ffffef 39.2%,#ffffff 41.1%,#ffffff 99.8%)"></i><i style="top:14px;height:2px;background:linear-gradient(90deg,#ffffa4 0.2%,#ffffac 8.6%,#ffffb0 8.9%,#ffffb0 11.5%,#ffffb4 12.2%,#ffffb4 14.8%,#ffffb8 15.1%,#ffffb8 17.3%,#ffffbc 18.1%,#ffffbc 19.9%,#ffffc0 20.6%,#ffffcc 29.4%,#ffffd0 29.7%,#ffffd0 30.8%,#ffffd4 31.2%,#ffffe7 38.1%,#ffffff 41.1%,#ffffff 99.8%)"></i><i style="top:16px;height:2px;background:linear-gradient(90deg,#ffffa4 0.2%,#ffffa4 2.7%,#ffffa8 3.1%,#ffffac 8.9%,#ffffb0 9.3%,#ffffb0 11.9%,#ffffb4 12.6%,#ffffb4 15.1%,#ffffb8 15.5%,#ffffb8 17.7%,#ffffc0 21%,#ffffc0 22.8%,#ffffc4 23.2%,#ffffc4 25.4%,#ffffc8 25.7%,#ffffcc 29.7%,#ffffd4 31.2%,#ffffd4 32.3%,#ffffdc 33.8%,#ffffdc 34.9%,#ffffe3 36.3%,#ffffe7 38.1%,#fffff3 40%,#ffffff 41.1%,#ffffff 99.8%)"></i><i style="top:18px;height:2px;background:linear-gradient(90deg,#ffffa4 0.2%,#ffffa4 3.1%,#ffffa8 3.5%,#ffffac 9.3%,#ffffb0 9.7%,#ffffb4 15.5%,#ffffb8 15.9%,#ffffb8 18.1%,#ffffbc 18.4%,#ffffbc 20.6%,#ffffc0 21%,#ffffc0 23.2%,#ffffc4 23.5%,#ffffc4 25.7%,#ffffc8 26.1%,#ffffcc 29.7%,#ffffd0 30.1%,#ffffd0 31.2%,#ffffd8 32.7%,#ffffd8 33.8%,#ffffdf 35.2%,#ffffe3 37.4%,#fffff3 40%,#ffffff 41.1%,#ffffff 99.8%)"></i><i style="top:20px;height:2px;background:linear-gradient(90deg,#ffffa4 0.2%,#ffffac 9.7%,#ffffb0 10%,#ffffb0 12.6%,#ffffb4 13.3%,#ffffb4 15.5%,#ffffb8 16.2%,#ffffb8 18.4%,#ffffbc 18.8%,#ffffbc 21%,#ffffc0 21.4%,#ffffc0 23.5%,#ffffc4 23.9%,#ffffc8 28.3%,#ffffcc 28.6%,#ffffcc 29.7%,#ffffe3 37.4%,#ffffef 39.6%,#ffffff 41.1%,#ffffff 99.8%)"></i><i style="top:22px;height:2px;background:linear-gradient(90deg,#ffffa2 0.2%,#ffffa8 6.8%,#ffffac 7.1%,#ffffac 9.7%,#ffffb0 10.4%,#ffffb0 13%,#ffffb4 13.3%,#ffffb4 15.9%,#ffffb8 16.6%,#ffffb8 18.4%,#ffffbc 19.2%,#ffffbc 21%,#ffffc0 21.7%,#ffffc0 23.5%,#ffffc4 24.3%,#ffffcc 30.1%,#ffffd0 30.5%,#ffffd4 32.7%,#ffffdc 34.1%,#ffffdc 35.2%,#ffffe3 36.7%,#ffffe7 38.5%,#ffffff 41.1%,#ffffff 99.8%)"></i><i style="top:24px;height:2px;background:linear-gradient(90deg,#ffffa0 0.2%,#ffffa4 0.9%,#ffffa4 3.8%,#ffffa8 4.6%,#ffffa8 7.1%,#ffffac 7.5%,#ffffb0 13.3%,#ffffb4 13.7%,#ffffb4 16.2%,#ffffb8 16.6%,#ffffb8 18.8%,#ffffbc 19.2%,#ffffbc 21.4%,#ffffc0 21.7%,#ffffc8 28.6%,#ffffcc 29%,#ffffcc 30.1%,#ffffd0 30.5%,#ffffd0 31.6%,#ffffd8 33%,#ffffd8 34.1%,#ffffdf 35.6%,#ffffe3 37.8%,#ffffff 41.4%,#ffffff 99.8%)"></i><i style="top:26px;height:2px;background:linear-gradient(90deg,#ffffa0 0.2%,#ffffa4 1.6%,#ffffa4 4.2%,#ffffa8 4.9%,#ffffa8 7.5%,#ffffac 7.8%,#ffffac 10.4%,#ffffb0 11.1%,#ffffb0 13.7%,#ffffb4 14.1%,#ffffb4 16.6%,#ffffb8 17%,#ffffb8 19.2%,#ffffbc 19.5%,#ffffbc 21.7%,#ffffc0 22.1%,#ffffc0 24.3%,#ffffc4 24.6%,#ffffc8 28.6%,#ffffe3 37.8%,#ffffeb 39.2%,#fffffb 40.7%,#ffffff 41.4%,#ffffff 99.8%)"></i><i style="top:28px;height:2px;background:linear-gradient(90deg,#ffffa0 0.2%,#ffffa4 4.6%,#ffffa8 4.9%,#ffffa8 7.8%,#ffffac 8.2%,#ffffac 10.8%,#ffffb0 11.5%,#ffffb0 14.1%,#ffffb4 14.4%,#ffffb4 17%,#ffffb8 17.3%,#ffffb8 19.5%,#ffffbc 19.9%,#ffffc8 29%,#ffffcc 29.4%,#ffffcc 30.5%,#ffffd0 30.8%,#ffffe3 37.8%,#ffffeb 39.2%,#ffffff 41.4%,#ffffff 99.8%)"></i><i style="top:30px;height:2px;background:linear-gradient(90deg,#ffffa0 0.2%,#ffffa4 4.9%,#ffffa8 5.3%,#ffffa8 7.8%,#ffffac 8.6%,#ffffac 11.1%,#ffffb0 11.5%,#ffffb0 14.4%,#ffffb4 14.8%,#ffffb4 17%,#ffffb8 17.7%,#ffffb8 19.5%,#ffffbc 20.3%,#ffffc8 29%,#ffffd0 30.8%,#ffffd4 33%,#ffffd8 33.4%,#ffffd8 34.5%,#ffffdf 35.9%,#ffffdf 37%,#ffffeb 39.2%,#ffffff 41.4%,#ffffff 99.8%)"></i><i style="top:32px;height:2px;background:linear-gradient(90deg,#ffffa0 0.2%,#ffffa4 5.3%,#ffffa8 5.7%,#ffffa8 8.2%,#ffffac 8.9%,#ffffac 11.5%,#ffffb0 11.9%,#ffffb0 14.4%,#ffffb4 15.1%,#ffffb4 17.3%,#ffffb8 17.7%,#ffffb8 19.9%,#ffffbc 20.3%,#ffffbc 22.4%,#ffffc0 22.8%,#ffffc0 25%,#ffffc4 25.4%,#ffffc8 29.4%,#ffffcc 29.7%,#ffffcc 30.8%,#ffffd4 32.3%,#ffffd4 33.4%,#ffffdc 34.9%,#ffffdc 35.9%,#ffffdf 36.3%,#ffffe3 38.1%,#fffff3 40%,#fffff3 40.3%,#ffffff 41.4%,#ffffff 99.8%)"></i><i style="top:34px;height:2px;background:linear-gradient(90deg,#ffffa0 0.2%,#ffffa4 5.7%,#ffffa8 6%,#ffffa8 8.6%,#ffffac 9.3%,#ffffac 11.9%,#ffffb0 12.2%,#ffffb4 17.7%,#ffffb8 18.1%,#ffffb8 20.3%,#ffffbc 20.6%,#ffffbc 22.8%,#ffffc0 23.2%,#ffffc0 25.4%,#ffffc4 25.7%,#ffffc8 29.4%,#ffffcc 29.7%,#ffffcc 30.8%,#ffffd0 31.2%,#ffffe3 38.1%,#fffff3 40.3%,#ffffff 41.4%,#ffffff 99.8%)"></i><i style="top:36px;height:2px;background:linear-gradient(90deg,#ffffa0 0.2%,#ffffa0 2.7%,#ffffa4 3.1%,#ffffa4 6%,#ffffa8 6.4%,#ffffac 12.2%,#ffffb0 12.6%,#ffffb0 15.1%,#ffffb4 15.5%,#ffffb4 17.7%,#ffffb8 18.4%,#ffffb8 20.3%,#ffffbc 21%,#ffffc8 29.7%,#ffffcc 30.1%,#ffffdf 37.4%,#ffffef 40%,#ffffff 41.4%,#ffffff 99.8%)"></i><i style="top:38px;height:2px;background:linear-gradient(90deg,#ffffa0 0.2%,#ffffa0 3.1%,#ffffa4 3.5%,#ffffa8 9.3%,#ffffac 9.7%,#ffffac 12.6%,#ffffb0 13%,#ffffb0 15.5%,#ffffb4 15.9%,#ffffb8 20.6%,#ffffbc 21%,#ffffc0 25.7%,#ffffc4 26.1%,#ffffc4 28.3%,#ffffc8 28.6%,#ffffcc 31.2%,#ffffd4 32.7%,#ffffd4 33.8%,#ffffdc 35.2%,#ffffdf 37.4%,#ffffef 40%,#ffffff 41.4%,#ffffff 99.8%)"></i><i style="top:40px;height:2px;background:linear-gradient(90deg,#ffffa0 0.2%,#ffffa0 3.5%,#ffffa4 3.8%,#ffffa4 6.4%,#ffffa8 7.1%,#ffffa8 9.7%,#ffffac 10%,#ffffb0 15.9%,#ffffb4 16.2%,#ffffb4 18.4%,#ffffb8 18.8%,#ffffb8 21%,#ffffbc 21.4%,#ffffc4 28.3%,#ffffc8 28.6%,#ffffcc 31.2%,#ffffd0 31.6%,#ffffd0 32.7%,#ffffd8 34.1%,#ffffd8 35.2%,#ffffdc 35.6%,#ffffdf 37.4%,#ffffeb 39.6%,#ffffff 41.4%,#ffffff 99.8%)"></i><i style="top:42px;height:2px;background:linear-gradient(90deg,#ffff9d 0.2%,#ffffa0 0.9%,#ffffa0 3.8%,#ffffa4 4.2%,#ffffa8 10%,#ffffac 10.4%,#ffffac 13%,#ffffb0 13.7%,#ffffb0 15.9%,#ffffb4 16.6%,#ffffb4 18.8%,#ffffb8 19.2%,#ffffb8 21.4%,#ffffbc 21.7%,#ffffc4 28.6%,#ffffc8 29%,#ffffc8 30.1%,#ffffcc 30.5%,#ffffd0 32.7%,#ffffd4 33%,#ffffe3 38.5%,#ffffff 41.4%,#ffffff 99.8%)"></i><i style="top:44px;height:2px;background:linear-gradient(90deg,#ffff9d 0.2%,#ffffa0 1.3%,#ffffa0 4.2%,#ffffa4 4.6%,#ffffa4 7.1%,#ffffa8 7.8%,#ffffa8 10.4%,#ffffac 10.8%,#ffffb0 16.2%,#ffffb4 17%,#ffffc4 28.6%,#ffffc8 29%,#ffffcc 31.6%,#ffffd4 33%,#ffffd4 34.1%,#ffffdc 35.6%,#ffffdf 37.8%,#ffffeb 39.6%,#fffffb 41.1%,#ffffff 41.8%,#ffffff 99.8%)"></i><i style="top:46px;height:2px;background:linear-gradient(90deg,#ffff9d 0.2%,#ffffa0 4.6%,#ffffa4 4.9%,#ffffa4 7.5%,#ffffa8 8.2%,#ffffa8 10.8%,#ffffac 11.1%,#ffffac 13.7%,#ffffb0 14.4%,#ffffb0 16.6%,#ffffb4 17.3%,#ffffbc 24.3%,#ffffc0 24.6%,#ffffc4 29%,#ffffc8 29.4%,#ffffc8 30.5%,#ffffd0 31.9%,#ffffd0 33%,#ffffd8 34.5%,#ffffd8 35.6%,#ffffdc 35.9%,#ffffdf 37.8%,#ffffe7 39.2%,#ffffff 41.8%,#ffffff 99.8%)"></i><i style="top:48px;height:2px;background:linear-gradient(90deg,#ffff9d 0.2%,#ffffa0 4.9%,#ffffa4 5.7%,#ffffa4 8.2%,#ffffa8 8.6%,#ffffa8 11.1%,#ffffb0 14.8%,#ffffb0 17%,#ffffb4 17.7%,#ffffb4 19.5%,#ffffbc 22.8%,#ffffbc 24.6%,#ffffc0 25%,#ffffc4 29%,#ffffc8 29.4%,#ffffcc 31.9%,#ffffd4 33.4%,#ffffd4 34.5%,#ffffd8 34.9%,#ffffdf 37.8%,#ffffe7 39.2%,#ffffff 41.8%,#ffffff 99.8%)"></i><i style="top:50px;height:2px;background:linear-gradient(90deg,#ffff9d 0.2%,#ffff9d 2.7%,#ffffa4 6.4%,#ffffa8 11.9%,#ffffac 12.6%,#ffffac 14.8%,#ffffb0 15.5%,#ffffb0 17.3%,#ffffb4 18.1%,#ffffb4 19.9%,#ffffbc 23.2%,#ffffbc 25%,#ffffc0 25.4%,#ffffc4 29.4%,#ffffd0 32.3%,#ffffd4 34.5%,#ffffdc 35.9%,#ffffdc 37%,#ffffe7 39.2%,#ffffff 41.8%,#ffffff 99.8%)"></i><i style="top:52px;height:2px;background:linear-gradient(90deg,#ffff99 0.2%,#ffff9d 1.3%,#ffffa0 6.8%,#ffffa4 7.5%,#ffffa4 9.7%,#ffffa8 10.4%,#ffffa8 12.6%,#ffffac 13.3%,#ffffac 15.5%,#ffffb0 16.2%,#ffffb0 18.1%,#ffffb4 18.8%,#ffffb4 20.6%,#ffffb8 21%,#ffffb8 22.8%,#ffffbc 23.5%,#ffffc4 29.4%,#ffffd0 32.3%,#ffffd0 33.4%,#ffffd8 34.9%,#ffffdc 37%,#ffffef 40.3%,#ffffff 41.8%,#fffffd 99.8%)"></i><i style="top:54px;height:2px;background:linear-gradient(90deg,#ffff99 0.2%,#ffffa4 10.4%,#ffffa8 11.1%,#ffffa8 13.3%,#ffffac 14.1%,#ffffac 16.2%,#ffffb4 19.2%,#ffffbc 25.7%,#ffffc0 26.1%,#ffffc0 27.9%,#ffffc4 28.3%,#ffffcc 32.3%,#ffffd4 33.8%,#ffffd4 34.9%,#ffffd8 35.2%,#ffffdf 38.1%,#ffffef 40%,#ffffef 40.3%,#ffffff 41.8%,#ffffff 99.5%,#fffffb 99.8%)"></i><i style="top:56px;height:2px;background:linear-gradient(90deg,#ffff97 0.2%,#ffff9d 5.7%,#ffffa0 6.4%,#ffffa0 8.6%,#ffffa4 9.3%,#ffffa4 11.5%,#ffffa8 12.2%,#ffffb0 19.2%,#ffffb4 19.9%,#ffffc4 29.7%,#ffffc8 30.1%,#ffffcc 32.3%,#ffffd0 32.7%,#ffffdf 38.1%,#ffffeb 40%,#fffffb 41.4%,#ffffff 42.2%,#ffffff 99.1%,#fffffb 99.8%)"></i><i style="top:58px;height:2px;background:linear-gradient(90deg,#ffff95 0.2%,#ffffa8 14.8%,#ffffac 15.5%,#ffffac 17.3%,#ffffb4 20.3%,#ffffb4 22.1%,#ffffb8 22.4%,#ffffc0 28.3%,#ffffc4 28.6%,#ffffc4 29.7%,#ffffd0 32.7%,#ffffd0 33.8%,#ffffd8 35.2%,#ffffdc 37.4%,#ffffeb 40%,#ffffff 42.2%,#ffffff 99.1%,#fffff7 99.8%)"></i><i style="top:60px;height:2px;background:linear-gradient(90deg,#ffff95 0.2%,#ffff9d 7.8%,#ffffa0 8.6%,#ffffac 18.1%,#ffffb0 18.4%,#ffffb0 20.3%,#ffffb4 21%,#ffffb8 24.6%,#ffffbc 25%,#ffffc0 28.6%,#ffffc4 29%,#ffffc4 30.1%,#ffffcc 31.6%,#ffffcc 32.7%,#ffffd4 34.1%,#ffffd4 35.2%,#ffffd8 35.6%,#ffffdc 37.4%,#ffffeb 40%,#ffffff 42.2%,#ffffff 98.7%,#fffff7 99.8%)"></i><i style="top:62px;height:2px;background:linear-gradient(90deg,#ffff91 0.2%,#ffff99 6%,#ffff9d 6.8%,#ffff9d 8.6%,#ffffa0 9.3%,#ffffa0 11.1%,#ffffa4 11.9%,#ffffa4 13.7%,#ffffa8 14.4%,#ffffa8 16.2%,#ffffac 17%,#ffffb8 25%,#ffffbc 25.4%,#ffffbc 26.8%,#ffffc0 27.2%,#ffffc0 28.6%,#ffffc4 29%,#ffffc8 31.6%,#ffffd0 33%,#ffffdc 37.4%,#ffffe7 39.6%,#ffffff 42.2%,#ffffff 98.4%,#fffff7 99.8%)"></i><i style="top:64px;height:2px;background:linear-gradient(90deg,#ffff91 0.2%,#ffffa0 11.9%,#ffffa4 12.6%,#ffffa4 14.4%,#ffffa8 15.1%,#ffffa8 17%,#ffffac 17.3%,#ffffac 19.2%,#ffffb0 19.5%,#ffffb0 21.4%,#ffffb4 21.7%,#ffffc0 29%,#ffffc4 29.4%,#ffffc8 31.6%,#ffffcc 31.9%,#ffffdc 37.4%,#ffffe7 39.6%,#ffffff 42.2%,#ffffff 98.4%,#fffff7 99.8%)"></i><i style="top:66px;height:2px;background:linear-gradient(90deg,#ffff8f 0.2%,#ffff9d 10.4%,#ffffa4 13.3%,#ffffa4 15.1%,#ffffc0 29%,#ffffc4 29.4%,#ffffc4 30.5%,#ffffcc 31.9%,#ffffcc 33%,#ffffd4 34.5%,#ffffd8 36.7%,#ffffe7 39.6%,#ffffff 42.5%,#ffffff 98%,#fffff3 99.8%)"></i><i style="top:68px;height:2px;background:linear-gradient(90deg,#ffff8d 0.2%,#ffff99 8.6%,#ffff9d 9.3%,#ffff9d 11.1%,#ffffa4 14.1%,#ffffa4 15.9%,#ffffa8 16.2%,#ffffa8 17.7%,#ffffbc 27.6%,#ffffc0 27.9%,#ffffc8 31.9%,#ffffd0 33.4%,#ffffd4 35.6%,#ffffdf 38.5%,#ffffff 42.5%,#ffffff 98%,#fffff3 99.8%)"></i><i style="top:70px;height:2px;background:linear-gradient(90deg,#ffff8d 0.2%,#ffff99 9.7%,#ffff9d 10.4%,#ffffac 20.6%,#ffffb0 21%,#ffffb0 22.4%,#ffffb4 24.3%,#ffffb8 24.6%,#ffffb8 26.1%,#ffffbc 26.5%,#ffffbc 27.9%,#ffffc0 28.3%,#ffffc0 29.4%,#ffffc4 29.7%,#ffffc8 31.9%,#ffffcc 32.3%,#ffffdc 37.8%,#ffffeb 40.3%,#ffffff 42.5%,#ffffff 97.6%,#fffff3 99.8%)"></i><i style="top:72px;height:2px;background:linear-gradient(90deg,#ffff89 0.2%,#ffffa4 17%,#ffffa8 17.3%,#ffffac 21%,#ffffb0 21.4%,#ffffb0 22.8%,#ffffb4 24.6%,#ffffb8 25%,#ffffbc 27.9%,#ffffc0 28.3%,#ffffc0 29.4%,#ffffc4 29.7%,#ffffc4 30.8%,#ffffcc 32.3%,#ffffcc 33.4%,#ffffd0 33.8%,#ffffdc 37.8%,#fffff3 41.4%,#ffffff 42.5%,#ffffff 97.6%,#fffff7 98.4%,#fffff1 99.8%)"></i><i style="top:74px;height:2px;background:linear-gradient(90deg,#ffff89 0.2%,#ffff9d 13.3%,#ffffa0 13.7%,#ffffa8 19.5%,#ffffac 19.9%,#ffffac 21.4%,#ffffb0 23.2%,#ffffb4 23.5%,#ffffb4 25%,#ffffb8 25.4%,#ffffc0 29.7%,#ffffc8 31.2%,#ffffc8 32.3%,#ffffcc 32.7%,#ffffdc 37.8%,#ffffff 42.9%,#ffffff 97.3%,#fffff3 98.7%,#ffffef 99.8%)"></i><i style="top:76px;height:2px;background:linear-gradient(90deg,#ffff87 0.2%,#ffffa8 19.9%,#ffffac 20.3%,#ffffac 21.7%,#ffffb0 23.5%,#ffffb4 23.9%,#ffffbc 28.3%,#ffffc0 28.6%,#ffffc0 29.7%,#ffffc4 30.1%,#ffffc4 31.2%,#ffffcc 32.7%,#ffffd8 37%,#ffffe7 40%,#ffffff 42.9%,#ffffff 97.3%,#fffff7 98%,#ffffef 99.8%)"></i><i style="top:78px;height:2px;background:linear-gradient(90deg,#ffff85 0.2%,#ffff95 10.4%,#ffffbc 28.6%,#ffffc0 29%,#ffffc4 31.2%,#ffffc8 31.6%,#ffffd8 37%,#ffffe7 40%,#ffffff 42.9%,#ffffff 96.9%,#fffff3 98.4%,#ffffef 99.8%)"></i><i style="top:80px;height:2px;background:linear-gradient(90deg,#ffff85 0.2%,#ffff85 2%,#ffff89 2.7%,#ffff99 13%,#ffffa0 15.5%,#ffffa0 17%,#ffffa4 17.3%,#ffffa8 20.6%,#ffffb0 24.3%,#ffffb4 24.6%,#ffffb4 25.7%,#ffffb8 26.1%,#ffffb8 27.2%,#ffffbc 27.6%,#ffffbc 28.6%,#ffffc0 29%,#ffffc0 30.1%,#ffffc8 31.6%,#ffffc8 32.7%,#ffffd0 34.1%,#ffffd8 37%,#ffffeb 40.7%,#ffffff 42.9%,#ffffff 96.9%,#ffffef 98.7%,#ffffeb 99.8%)"></i><i style="top:82px;height:2px;background:linear-gradient(90deg,#ffff81 0.2%,#ffff91 9.7%,#ffff99 12.2%,#ffff99 13.7%,#ffff9d 14.1%,#ffff9d 15.5%,#ffffac 22.8%,#ffffb0 23.2%,#ffffb0 24.3%,#ffffb8 26.5%,#ffffb8 27.6%,#ffffbc 27.9%,#ffffbc 29%,#ffffc4 30.5%,#ffffc4 31.6%,#ffffc8 31.9%,#ffffd0 35.2%,#ffffdc 37.4%,#ffffdc 38.1%,#ffffff 43.2%,#ffffff 96.5%,#fffff3 98%,#ffffeb 99.8%)"></i><i style="top:84px;height:2px;background:linear-gradient(90deg,#ffff81 0.2%,#ffff91 10.4%,#ffff95 10.8%,#ffff95 12.2%,#ffffac 23.2%,#ffffb0 23.5%,#ffffb8 27.6%,#ffffbc 27.9%,#ffffbc 29%,#ffffc0 29.4%,#ffffcc 34.1%,#ffffd0 34.5%,#ffffd4 36.3%,#ffffdc 37.4%,#ffffdc 38.1%,#ffffef 41.4%,#ffffff 43.2%,#ffffff 96.5%,#ffffef 98.4%,#ffffe9 99.8%)"></i><i style="top:86px;height:2px;background:linear-gradient(90deg,#ffff7f 0.2%,#ffff8d 8.9%,#ffff99 13.3%,#ffff99 14.8%,#ffff9d 15.1%,#ffff9d 16.6%,#ffffa0 17%,#ffffa0 18.4%,#ffffa4 18.8%,#ffffa4 20.3%,#ffffa8 20.6%,#ffffb8 27.9%,#ffffc0 29.4%,#ffffc0 30.5%,#ffffc8 31.9%,#ffffc8 33%,#ffffd0 34.5%,#ffffd8 37.4%,#ffffe7 40.3%,#ffffff 43.2%,#ffffff 96.2%,#ffffeb 98.7%,#ffffe7 99.8%)"></i><i style="top:88px;height:2px;background:linear-gradient(90deg,#ffff7d 0.2%,#ffff95 13.3%,#ffffa0 18.8%,#ffffa4 19.2%,#ffffa4 20.6%,#ffffa8 21%,#ffffb8 27.9%,#ffffbc 28.3%,#ffffbc 29.4%,#ffffc4 30.8%,#ffffc4 31.9%,#ffffcc 33.4%,#ffffd8 37.4%,#ffffeb 41.1%,#ffffff 43.2%,#ffffff 95.8%,#ffffef 98%,#ffffe7 99.8%)"></i><i style="top:90px;height:2px;background:linear-gradient(90deg,#ffff7d 0.2%,#ffff7d 2%,#ffff8d 8.9%,#ffff8d 10.4%,#ffff91 10.8%,#ffff91 12.2%,#ffff95 12.6%,#ffffa4 21%,#ffffa8 21.4%,#ffffa8 22.4%,#ffffbc 29.4%,#ffffc0 29.7%,#ffffc0 30.8%,#ffffc4 31.2%,#ffffcc 34.5%,#ffffd8 37.4%,#ffffeb 41.1%,#ffffff 43.2%,#ffffff 95.8%,#ffffef 97.6%,#ffffe3 99.8%)"></i><i style="top:92px;height:2px;background:linear-gradient(90deg,#ffff79 0.2%,#ffff99 16.2%,#ffff9d 16.6%,#ffffa4 21.4%,#ffffa8 21.7%,#ffffa8 22.8%,#ffffac 23.2%,#ffffac 24.3%,#ffffb0 24.6%,#ffffb8 28.3%,#ffffbc 28.6%,#ffffc0 30.8%,#ffffc4 31.2%,#ffffd4 36.7%,#ffffdf 38.5%,#ffffe3 40%,#ffffff 43.6%,#ffffff 95.4%,#ffffeb 98%,#ffffe3 99.8%)"></i><i style="top:94px;height:2px;background:linear-gradient(90deg,#ffff79 0.2%,#ffff79 1.6%,#ffff91 13.3%,#ffff95 13.7%,#ffffa4 21.7%,#ffffa8 22.1%,#ffffac 24.6%,#ffffb4 26.1%,#ffffbc 29.7%,#ffffc4 31.2%,#ffffc4 32.3%,#ffffc8 32.7%,#ffffd4 36.7%,#ffffdc 37.8%,#ffffdc 38.5%,#ffffeb 41.4%,#ffffff 43.6%,#ffffff 95.4%,#ffffe7 98.4%,#ffffe1 99.8%)"></i><i style="top:96px;height:2px;background:linear-gradient(90deg,#ffff75 0.2%,#ffffa4 22.1%,#ffffa8 22.4%,#ffffa8 23.5%,#ffffac 23.9%,#ffffc0 31.2%,#ffffc8 32.7%,#ffffc8 33.8%,#ffffeb 41.4%,#ffffff 43.6%,#ffffff 95.1%,#ffffe3 98.7%,#ffffdf 99.8%)"></i><i style="top:98px;height:2px;background:linear-gradient(90deg,#ffff75 0.2%,#ffff7d 5.7%,#ffffa0 19.9%,#ffffa0 21%,#ffffb0 26.5%,#ffffb8 27.9%,#ffffbc 30.1%,#ffffc0 30.5%,#ffffc4 32.7%,#ffffc8 33%,#ffffd0 35.9%,#ffffd8 37%,#ffffd8 37.8%,#ffffeb 41.4%,#ffffff 43.6%,#ffffff 94.7%,#ffffdf 99.1%,#ffffde 99.8%)"></i><i style="top:100px;height:2px;background:linear-gradient(90deg,#ffff71 0.2%,#ffff99 18.4%,#ffffa8 24.3%,#ffffac 24.6%,#ffffb4 27.9%,#ffffb8 28.3%,#ffffbc 30.5%,#ffffc4 31.9%,#ffffc8 34.1%,#ffffe7 41.1%,#ffffff 43.6%,#ffffff 94.7%,#ffffdf 98.7%,#ffffdc 99.8%)"></i><i style="top:102px;height:2px;background:linear-gradient(90deg,#ffff6d 0.2%,#ffff99 19.2%,#ffff9d 19.5%,#ffffa0 22.1%,#ffffac 25%,#ffffb4 28.3%,#ffffb8 28.6%,#ffffc0 31.9%,#ffffdc 38.9%,#ffffef 42.2%,#ffffff 43.6%,#ffffff 94.3%,#ffffdf 98.4%,#ffffda 99.8%)"></i><i style="top:104px;height:2px;background:linear-gradient(90deg,#ffff6b 0.2%,#ffff81 10.8%,#ffffa4 23.9%,#ffffa8 24.3%,#ffffb8 29.7%,#ffffbc 30.1%,#ffffc4 33.4%,#ffffd8 38.1%,#ffffeb 41.8%,#ffffff 43.6%,#ffffff 94%,#ffffdc 98.7%,#ffffd8 99.8%)"></i><i style="top:106px;height:2px;background:linear-gradient(90deg,#ffff67 0.2%,#ffff81 11.9%,#ffffb0 27.9%,#ffffb4 28.3%,#ffffd0 36.7%,#ffffdf 39.2%,#ffffdf 40%,#ffffeb 41.8%,#ffffff 43.6%,#ffffff 93.6%,#ffffdc 98.4%,#ffffd6 99.8%)"></i><i style="top:108px;height:2px;background:linear-gradient(90deg,#ffff63 0.2%,#ffff89 15.5%,#ffffb0 28.3%,#ffffb4 28.6%,#ffffcc 35.9%,#ffffd8 37.8%,#ffffdc 39.2%,#ffffeb 41.8%,#ffffff 43.6%,#ffffff 93.2%,#ffffdc 98%,#ffffd4 99.8%)"></i><i style="top:110px;height:2px;background:linear-gradient(90deg,#ffff60 0.2%,#ffff71 7.8%,#ffff99 21.7%,#ffff9d 22.1%,#ffffc8 35.2%,#ffffe7 41.4%,#ffffff 44%,#ffffff 92.9%,#ffffdc 97.6%,#ffffd4 99.1%,#ffffd4 99.8%)"></i><i style="top:112px;height:2px;background:linear-gradient(90deg,#ffff5e 0.2%,#ffff69 6%,#ffff95 21%,#ffff99 21.4%,#ffffc4 34.5%,#ffffe7 41.4%,#ffffff 44%,#ffffff 92.5%,#ffffd8 98%,#ffffd0 99.8%)"></i><i style="top:114px;height:2px;background:linear-gradient(90deg,#ffff5a 0.2%,#ffff6d 8.6%,#ffff89 17.7%,#ffff8d 18.1%,#ffff91 20.3%,#ffff95 20.6%,#ffff9d 23.9%,#ffffa0 24.3%,#ffffa0 25%,#ffffa4 25.4%,#ffffa4 26.1%,#ffffa8 26.5%,#ffffc4 34.5%,#ffffc8 34.9%,#ffffc8 35.6%,#ffffd4 37.4%,#ffffdf 40.3%,#ffffef 42.2%,#ffffef 42.5%,#ffffff 44%,#ffffff 92.2%,#ffffd8 97.6%,#ffffd0 99.1%,#ffffd0 99.8%)"></i><i style="top:116px;height:2px;background:linear-gradient(90deg,#ffff56 0.2%,#ffff69 8.2%,#ffff95 22.1%,#ffffc0 33%,#ffffc4 34.9%,#ffffe3 41.1%,#ffffff 44%,#ffffff 91.8%,#ffffd8 97.3%,#ffffce 99.8%)"></i><i style="top:118px;height:2px;background:linear-gradient(90deg,#ffff52 0.2%,#ffff65 7.8%,#ffff91 21.4%,#ffffb8 31.2%,#ffffc0 34.1%,#ffffe3 41.1%,#ffffff 44%,#ffffff 91.4%,#ffffd8 96.9%,#ffffcc 99.8%)"></i><i style="top:120px;height:2px;background:linear-gradient(90deg,#ffff4e 0.2%,#ffff69 10%,#ffff95 22.8%,#ffffa4 26.5%,#ffffa4 27.2%,#ffffbc 32.7%,#ffffbc 33.4%,#ffffe3 41.1%,#ffffff 44%,#ffffff 91.1%,#ffffd8 96.5%,#ffffcc 98.7%,#ffffca 99.8%)"></i><i style="top:122px;height:2px;background:linear-gradient(90deg,#ffff4c 0.2%,#ffff65 9.7%,#ffff9d 25.4%,#ffffa0 25.7%,#ffffa0 26.5%,#ffffc0 33.8%,#ffffc0 34.5%,#ffffdf 40.7%,#ffffe7 41.4%,#ffffe7 41.8%,#ffffff 44%,#ffffff 90.7%,#ffffd8 96.2%,#ffffc8 99.8%)"></i><i style="top:124px;height:2px;background:linear-gradient(90deg,#ffff48 0.2%,#ffff61 9.3%,#ffff85 18.8%,#ffff85 19.5%,#ffff89 19.9%,#ffff89 20.6%,#ffff8d 21%,#ffff8d 21.7%,#ffff91 22.1%,#ffff91 22.8%,#ffffb0 30.1%,#ffffb0 30.8%,#ffffbc 33%,#ffffbc 33.8%,#ffffdf 40.7%,#ffffe7 41.4%,#ffffe7 41.8%,#ffffff 44%,#ffffff 90.3%,#ffffd4 96.5%,#ffffc8 98.7%,#ffffc8 99.8%)"></i><i style="top:126px;height:2px;background:linear-gradient(90deg,#ffff44 0.2%,#ffff5a 7.8%,#ffff91 23.2%,#ffffb8 32.3%,#ffffb8 33%,#ffffe3 41.4%,#ffffff 44%,#ffffff 90%,#ffffd4 96.2%,#ffffc4 99.8%)"></i><i style="top:128px;height:2px;background:linear-gradient(90deg,#ffff40 0.2%,#ffff52 6.4%,#ffff75 16.2%,#ffff79 16.6%,#ffff79 17.3%,#ffffc4 35.9%,#ffffe3 41.4%,#ffffff 44%,#ffffff 89.6%,#ffffd4 95.8%,#ffffc8 98%,#ffffc4 99.8%)"></i><i style="top:130px;height:2px;background:linear-gradient(90deg,#ffff3c 0.2%,#ffff6d 14.8%,#ffff95 24.3%,#ffff95 25%,#ffffbc 33.8%,#ffffbc 34.5%,#ffffdc 40.3%,#ffffe3 41.1%,#ffffe3 41.4%,#ffffff 44%,#ffffff 89.2%,#ffffd4 95.4%,#ffffc4 98.4%,#ffffc0 99.8%)"></i><i style="top:132px;height:2px;background:linear-gradient(90deg,#ffff38 0.2%,#ffff65 13.3%,#ffff9d 27.2%,#ffffb8 33%,#ffffb8 33.8%,#ffffdf 41.1%,#ffffff 44%,#ffffff 88.9%,#ffffd4 95.1%,#ffffbe 99.8%)"></i><i style="top:134px;height:2px;background:linear-gradient(90deg,#ffff36 0.2%,#ffff3a 2.4%,#ffff56 10%,#ffff71 16.2%,#ffff89 22.8%,#ffffa4 28.6%,#ffffa4 29.4%,#ffffbc 34.1%,#ffffbc 34.9%,#ffffdf 41.1%,#ffffff 44.3%,#ffffff 88.5%,#ffffd4 94.7%,#ffffc0 98.4%,#ffffbc 99.8%)"></i><i style="top:136px;height:2px;background:linear-gradient(90deg,#ffff32 0.2%,#ffff38 2.7%,#ffff52 9.7%,#ffffb8 34.1%,#ffffd8 40%,#ffffdf 40.7%,#ffffe7 42.2%,#ffffff 44.3%,#ffffff 88.1%,#ffffd4 94.3%,#ffffbc 98.7%,#ffffba 99.8%)"></i><i style="top:138px;height:2px;background:linear-gradient(90deg,#ffff2e 0.2%,#ffff52 10.4%,#ffffc0 35.9%,#ffffd0 38.1%,#ffffdc 40.7%,#ffffff 44.3%,#ffffff 88.1%,#ffffe7 91.1%,#ffffd0 94.7%,#ffffb8 99.1%,#ffffb8 99.8%)"></i><i style="top:140px;height:2px;background:linear-gradient(90deg,#ffff2a 0.2%,#ffff46 8.2%,#ffffb8 34.5%,#ffffdc 40.7%,#ffffe3 41.4%,#ffffe3 41.8%,#ffffff 44.3%,#ffffff 87.8%,#ffffdf 91.8%,#ffffb4 99.8%)"></i><i style="top:142px;height:2px;background:linear-gradient(90deg,#ffff26 0.2%,#ffff46 8.9%,#ffff85 22.8%,#ffff91 26.1%,#ffffa4 29.7%,#ffffb0 33%,#ffffd4 39.6%,#ffffdc 40.3%,#ffffe3 41.8%,#ffffff 44.3%,#ffffff 87.4%,#ffffdf 91.4%,#ffffc0 96.5%,#ffffb2 99.8%)"></i><i style="top:144px;height:2px;background:linear-gradient(90deg,#ffff22 0.2%,#ffff3e 7.8%,#ffff95 27.2%,#ffffb4 33.4%,#ffffb8 34.9%,#ffffdf 41.4%,#ffffff 44.3%,#ffffff 87%,#ffffdf 91.1%,#ffffb8 97.6%,#ffffb0 99.8%)"></i><i style="top:146px;height:2px;background:linear-gradient(90deg,#ffff1d 0.2%,#ffff44 10%,#ffffb0 33.4%,#ffffd8 40.3%,#ffffdf 41.1%,#ffffdf 41.4%,#ffffff 44.3%,#ffffff 86.7%,#ffffd4 92.5%,#ffffac 99.8%)"></i><i style="top:148px;height:2px;background:linear-gradient(90deg,#ffff15 0.2%,#ffff38 8.6%,#ffff9d 29%,#ffffa4 31.2%,#ffffac 32.3%,#ffffb4 34.5%,#ffffdf 41.4%,#ffffff 44.3%,#ffffff 86.3%,#ffffd4 92.2%,#ffffa8 99.8%)"></i><i style="top:150px;height:2px;background:linear-gradient(90deg,#ffff0d 0.2%,#ffff44 12.2%,#ffffc4 37.4%,#ffffdc 41.1%,#ffffff 44.3%,#ffffff 85.9%,#ffffd4 91.8%,#ffffb4 96.9%,#ffffa6 99.8%)"></i><i style="top:152px;height:2px;background:linear-gradient(90deg,#ffff05 0.2%,#ffff38 11.1%,#ffff60 18.1%,#ffffbc 36.3%,#ffffdc 41.1%,#ffffff 44.3%,#ffffff 85.6%,#ffffd8 90.7%,#ffffb8 95.8%,#ffffa4 99.8%)"></i><i style="top:154px;height:2px;background:linear-gradient(90deg,#fffd00 0.2%,#ffff01 1.6%,#ffff1d 6.4%,#ffff21 7.8%,#ffff91 27.9%,#ffffb4 35.2%,#ffffd8 40.7%,#ffffff 44.3%,#ffffff 85.2%,#ffffd8 90.3%,#ffffac 97.3%,#ffffa0 99.8%)"></i><i style="top:156px;height:2px;background:linear-gradient(90deg,#fff500 0.2%,#ffff01 3.5%,#ffff09 4.2%,#ffff40 14.8%,#ffff91 28.3%,#ffffbc 36.7%,#ffffc4 37.4%,#ffffc8 38.5%,#ffffe3 42.2%,#ffffff 44.3%,#ffffff 84.9%,#ffffd0 91.1%,#ffffb0 96.2%,#ffffa0 99.1%,#ffffa0 99.8%)"></i><i style="top:158px;height:2px;background:linear-gradient(90deg,#fff000 0.2%,#fffd00 4.2%,#ffff24 11.1%,#ffff63 21%,#ffff95 29.4%,#ffffb4 35.6%,#ffffcc 39.2%,#ffffdf 41.4%,#ffffdf 41.8%,#ffffff 44.3%,#ffffff 84.5%,#ffffc4 92.5%,#ffffa8 96.9%,#ffff9d 99.8%)"></i><i style="top:160px;height:2px;background:linear-gradient(90deg,#ffe800 0.2%,#fffd00 5.3%,#ffff11 8.9%,#ffff81 26.5%,#ffffbc 37%,#ffffc4 37.8%,#ffffdc 41.4%,#ffffff 44.3%,#ffffff 84.1%,#ffffda 88.9%,#ffffac 95.8%,#ffff9d 98.7%,#ffff9b 99.8%)"></i><i style="top:162px;height:2px;background:linear-gradient(90deg,#ffe100 0.2%,#fffa00 5.7%,#ffff01 7.5%,#ffff2c 14.4%,#ffff75 25%,#ffffc0 37.8%,#ffffdc 41.4%,#fffff3 43.6%,#ffffff 44.3%,#ffffff 83.8%,#ffffd4 89.2%,#ffffb0 94.7%,#ffff9d 98%,#ffff99 99.8%)"></i><i style="top:164px;height:2px;background:linear-gradient(90deg,#ffdb00 0.2%,#fff800 6.4%,#ffff05 9.3%,#ffff61 22.4%,#ffff91 29.7%,#ffffb0 35.6%,#ffffd8 40.7%,#ffffd8 41.1%,#fffff3 43.6%,#ffffff 44.3%,#ffffff 83.4%,#ffffdc 87.8%,#ffffc0 91.8%,#ffffa4 96.2%,#ffff95 99.8%)"></i><i style="top:166px;height:2px;background:linear-gradient(90deg,#ffd400 0.2%,#fff800 7.5%,#fffe00 9.3%,#ffff05 10.4%,#ffff5c 22.1%,#ffff91 30.1%,#ffffa8 34.5%,#ffffd4 40.3%,#ffffd4 40.7%,#fffff7 44%,#ffffff 44.3%,#ffffff 83%,#ffffd4 88.5%,#ffffa8 95.1%,#ffff95 98.7%,#ffff95 99.8%)"></i><i style="top:168px;height:2px;background:linear-gradient(90deg,#ffce00 0.2%,#ffd000 1.3%,#fff300 7.5%,#ffff01 10.8%,#ffff79 26.8%,#ffffa0 33%,#ffffa4 34.1%,#ffffc8 38.9%,#ffffc8 39.2%,#ffffd4 40.7%,#ffffff 44.7%,#ffffff 82.7%,#ffffd4 88.1%,#ffffa0 95.8%,#ffff95 98%,#ffff91 99.8%)"></i><i style="top:170px;height:2px;background:linear-gradient(90deg,#ffc600 0.2%,#fff300 8.6%,#fffd00 11.1%,#ffff05 12.2%,#ffff1d 15.1%,#ffff1d 15.5%,#ffff52 21.7%,#ffff81 28.3%,#ffffb4 36.7%,#ffffd0 40%,#ffffd0 40.3%,#ffffff 44.7%,#ffffff 82.7%,#ffffdc 86.7%,#ffffb0 92.9%,#ffff91 98.4%,#ffff8d 99.8%)"></i><i style="top:172px;height:2px;background:linear-gradient(90deg,#ffbf00 0.2%,#ffcb00 2.7%,#ffe300 6.4%,#ffff01 12.6%,#ffff69 25.4%,#ffffcc 40%,#ffffff 44.7%,#ffffff 82.3%,#ffffdc 86.3%,#ffffa8 93.6%,#ffff91 97.6%,#ffff8b 99.8%)"></i><i style="top:174px;height:2px;background:linear-gradient(90deg,#ffb900 0.2%,#ffbe00 1.6%,#ffde00 6.4%,#ffff01 13.3%,#ffff15 15.9%,#ffff3e 20.3%,#ffff69 25.7%,#ffffc0 38.5%,#ffffcc 39.6%,#ffffcc 40%,#ffffdc 41.8%,#ffffff 44.7%,#ffffff 81.9%,#ffffdc 85.9%,#ffffb4 91.4%,#ffff8d 98%,#ffff89 99.8%)"></i><i style="top:176px;height:2px;background:linear-gradient(90deg,#ffb100 0.2%,#ffd800 6.4%,#ffff01 14.1%,#ffff1d 17.3%,#ffff40 21%,#ffff69 26.1%,#ffff85 29.7%,#ffff9d 33.8%,#ffffc8 39.2%,#ffffc8 39.6%,#ffffd8 41.4%,#ffffff 44.7%,#ffffff 81.6%,#ffffd0 87%,#ffffac 92.2%,#ffff8d 97.3%,#ffff85 99.8%)"></i><i style="top:178px;height:2px;background:linear-gradient(90deg,#ffaa00 0.2%,#ffae00 1.3%,#ffd000 6%,#ffff01 14.8%,#ffff09 15.9%,#ffff46 22.1%,#ffff75 27.9%,#ffff99 33.4%,#ffffc4 38.9%,#ffffc4 39.2%,#ffffd4 40.7%,#ffffd4 41.1%,#ffffff 44.7%,#ffffff 81.2%,#ffffd0 86.7%,#ffffa4 92.9%,#ffff89 97.6%,#ffff81 99.8%)"></i><i style="top:180px;height:2px;background:linear-gradient(90deg,#ffa200 0.2%,#ffc900 5.7%,#ffff01 15.5%,#ffff52 23.9%,#ffff81 29.7%,#ffff95 33%,#ffff9d 33.8%,#ffffac 36.3%,#ffffd0 40.3%,#ffffd0 40.7%,#ffffff 44.7%,#ffffff 80.8%,#ffffd0 86.3%,#ffffb0 90.7%,#ffff91 95.4%,#ffff7f 99.8%)"></i><i style="top:182px;height:2px;background:linear-gradient(90deg,#ff9c00 0.2%,#ffd000 7.8%,#ffff01 16.2%,#ffff34 21%,#ffff6d 27.6%,#ffffa0 34.9%,#ffffa8 35.6%,#ffffa8 35.9%,#ffffcc 40%,#ffffcc 40.3%,#ffffff 44.7%,#ffffff 80.5%,#ffffd0 85.9%,#ffffa8 91.4%,#ffff95 94.3%,#ffff81 98%,#ffff7b 99.8%)"></i><i style="top:184px;height:2px;background:linear-gradient(90deg,#ff9400 0.2%,#ff9900 1.3%,#ffcb00 7.8%,#ffff01 16.6%,#ffff30 21%,#ffff71 28.3%,#ffffa4 35.2%,#ffffa4 35.6%,#ffffcc 40.3%,#ffffeb 43.2%,#fffff3 43.6%,#ffffff 44.7%,#ffffff 80.1%,#ffffd0 85.6%,#ffffa0 92.2%,#ffff85 96.5%,#ffff77 99.8%)"></i><i style="top:186px;height:2px;background:linear-gradient(90deg,#ff8c00 0.2%,#ffc600 7.8%,#ffe300 13%,#fffe00 17%,#ffff2c 21%,#ffff65 27.2%,#ffffa0 34.9%,#ffffa0 35.2%,#ffffc8 40%,#ffffeb 43.2%,#fffff3 43.6%,#ffffff 44.7%,#ffffff 79.7%,#ffffd0 85.2%,#ffff91 94%,#ffff73 99.8%)"></i><i style="top:188px;height:2px;background:linear-gradient(90deg,#ff8400 0.2%,#ffc100 7.8%,#ffff01 17.7%,#ffff2c 21.4%,#ffff6d 28.3%,#ffff9d 34.9%,#ffffb4 37.4%,#ffffb4 37.8%,#ffffc4 39.2%,#ffffc4 39.6%,#ffffeb 43.2%,#fffff3 43.6%,#ffffff 44.7%,#ffffff 79.4%,#ffffd8 83.8%,#ffff9d 91.8%,#ffff85 95.4%,#ffff6f 99.8%)"></i><i style="top:190px;height:2px;background:linear-gradient(90deg,#ff7c00 0.2%,#ff8c00 2.4%,#ffae00 6%,#ffff01 18.1%,#ffff24 21%,#ffff71 29%,#ffff99 34.5%,#ffffb0 37.4%,#ffffc0 38.9%,#ffffc0 39.2%,#ffffeb 43.2%,#fffff3 43.6%,#ffffff 44.7%,#ffffff 79%,#fffffb 79.7%,#ffffd8 83.4%,#ffff95 92.5%,#ffff7d 96.2%,#ffff6b 99.8%)"></i><i style="top:192px;height:2px;background:linear-gradient(90deg,#ff7500 0.2%,#ff8200 2%,#ffae00 6.8%,#ffd300 12.6%,#ffff01 18.4%,#ffff3e 23.9%,#ffff61 27.6%,#ffff75 29.7%,#ffff89 32.7%,#ffff9d 34.9%,#ffff9d 35.2%,#ffffbc 38.5%,#ffffbc 38.9%,#ffffda 41.8%,#ffffff 44.7%,#ffffff 79%,#ffffd8 83%,#ffffc4 85.6%,#ffff85 94.3%,#ffff65 99.8%)"></i><i style="top:194px;height:2px;background:linear-gradient(90deg,#ff6d00 0.2%,#ffaa00 7.1%,#ffe300 15.5%,#fffe00 18.8%,#ffff3e 24.3%,#ffff69 28.6%,#ffff99 34.9%,#ffffb8 38.5%,#ffffcc 40.3%,#ffffd0 41.1%,#ffffff 44.7%,#ffffff 78.6%,#ffffd8 82.7%,#ffffa8 88.9%,#ffff73 96.5%,#ffff61 99.8%)"></i><i style="top:196px;height:2px;background:linear-gradient(90deg,#ff6600 0.2%,#ff7700 2.4%,#ff9900 5.7%,#ffed00 17.3%,#fffe00 19.2%,#ffff36 23.9%,#ffff6d 29.4%,#ffffa0 35.9%,#ffffc8 40%,#ffffc8 40.3%,#ffffdc 42.2%,#ffffe3 42.5%,#ffffff 44.7%,#ffffff 78.3%,#ffffd8 82.3%,#ffffb8 86.3%,#ffff6f 96.5%,#ffff5e 99.8%)"></i><i style="top:198px;height:2px;background:linear-gradient(90deg,#ff6000 0.2%,#ff6a00 1.6%,#ff9700 6%,#ffe500 17%,#ffff01 19.9%,#ffff0d 20.6%,#ffff60 28.3%,#ffff99 35.2%,#ffffc0 39.2%,#ffffc4 40%,#ffffdc 42.2%,#ffffff 44.7%,#ffffff 77.9%,#ffffe1 80.8%,#ffffc0 84.9%,#ffff61 98%,#ffff5a 99.8%)"></i><i style="top:200px;height:2px;background:linear-gradient(90deg,#ff5a00 0.2%,#ff6700 2%,#ff9100 6%,#ffde00 16.6%,#ffff01 20.3%,#ffff5c 28.3%,#ffffbc 39.2%,#ffffdf 42.5%,#ffffe7 42.9%,#ffffff 44.7%,#ffffff 77.6%,#ffffc8 83.4%,#ffff6f 95.4%,#ffff5e 98%,#ffff56 99.8%)"></i><i style="top:202px;height:2px;background:linear-gradient(90deg,#ff5500 0.2%,#ff6200 2%,#ff8f00 6.4%,#ffd800 16.6%,#fff800 19.9%,#ffff01 21%,#ffff11 22.1%,#ffff65 29.7%,#ffffb4 38.5%,#ffffdf 42.5%,#ffffe7 42.9%,#ffffff 44.7%,#ffffff 77.2%,#ffffde 80.5%,#ffffbc 84.5%,#ffff61 96.9%,#ffff52 99.8%)"></i><i style="top:204px;height:2px;background:linear-gradient(90deg,#ff5200 0.2%,#ff5a00 1.6%,#ff8a00 6.4%,#ffd300 16.6%,#fffd00 21.4%,#ffff65 30.1%,#ffffa4 37%,#ffffdf 42.5%,#fffff7 44%,#ffffff 44.7%,#ffffff 76.8%,#ffffd0 81.6%,#ffff9d 88.1%,#ffff5e 96.9%,#ffff50 99.8%)"></i><i style="top:206px;height:2px;background:linear-gradient(90deg,#ff4d00 0.2%,#ff5200 1.3%,#ff8700 6.8%,#ffce00 16.6%,#ffff01 22.1%,#ffff61 30.1%,#ffffcc 41.1%,#ffffff 44.7%,#ffffff 76.5%,#ffffcc 81.6%,#ffff91 89.2%,#ffff5a 96.9%,#ffff4e 99.8%)"></i><i style="top:208px;height:2px;background:linear-gradient(90deg,#ff4900 0.2%,#ff5a00 2.7%,#ff8200 6.8%,#ffcb00 17%,#fff500 21.4%,#ffff01 22.8%,#ffff56 29.4%,#ffffd4 41.8%,#ffffff 44.7%,#ffffff 76.1%,#ffffcc 81.2%,#ffffa0 86.7%,#ffff5e 95.8%,#ffff52 97.6%,#ffff4a 99.8%)"></i><i style="top:210px;height:2px;background:linear-gradient(90deg,#ff4500 0.2%,#ff5500 2.7%,#ff7f00 7.1%,#ffc600 17%,#ffff01 23.2%,#ffff5a 30.1%,#ffffd4 41.8%,#ffffff 44.7%,#ffffff 75.7%,#ffffc8 81.2%,#ffff87 89.6%,#ffff58 96.2%,#ffff4a 98.7%,#ffff4a 99.8%)"></i><i style="top:212px;height:2px;background:linear-gradient(90deg,#ff4100 0.2%,#ff4d00 2.4%,#ff7a00 7.1%,#ffc100 17%,#fffd00 23.5%,#ffff56 30.1%,#ffffd8 42.2%,#ffffeb 43.2%,#ffffff 44.7%,#ffffff 75.4%,#ffffc4 81.2%,#ffff91 87.8%,#ffff54 96.2%,#ffff4a 98%,#ffff46 99.8%)"></i><i style="top:214px;height:2px;background:linear-gradient(90deg,#ff3d00 0.2%,#ff4900 2.4%,#ff7700 7.5%,#ffa600 14.4%,#ffff01 24.3%,#ffff40 28.6%,#ffffd8 42.2%,#ffffff 44.7%,#ffffff 75%,#ffffca 80.1%,#ffff85 88.9%,#ffff4e 96.5%,#ffff42 99.8%)"></i><i style="top:216px;height:2px;background:linear-gradient(90deg,#ff3a00 0.2%,#ff3b00 0.9%,#ff5000 3.8%,#ff7500 7.8%,#ffa400 14.8%,#ffff01 24.6%,#ffff4e 30.1%,#ffffc4 40.7%,#ffffff 44.7%,#ffffff 74.6%,#ffffca 79.7%,#ffff95 86.3%,#ffff54 95.1%,#ffff44 98%,#ffff40 99.8%)"></i><i style="top:218px;height:2px;background:linear-gradient(90deg,#ff3600 0.2%,#ff3b00 1.6%,#ff4b00 3.8%,#ff6f00 7.8%,#ffa100 15.1%,#ffff01 25%,#ffff4a 30.1%,#ffff91 35.9%,#ffffc8 41.1%,#ffffff 44.7%,#ffffff 74.3%,#ffffbc 80.8%,#ffff75 90%,#ffff4e 95.4%,#ffff42 97.6%,#ffff3e 99.8%)"></i><i style="top:220px;height:2px;background:linear-gradient(90deg,#ff3200 0.2%,#ff3800 2%,#ff6f00 8.6%,#ff9f00 15.5%,#ffe300 22.8%,#fffe00 25.4%,#ffff46 30.1%,#ffffa4 37.8%,#ffffcc 41.4%,#ffffff 44.7%,#ffffff 73.9%,#ffffc2 79.7%,#ffff85 87.4%,#ffff4a 95.4%,#ffff42 96.9%,#ffff3a 99.8%)"></i><i style="top:222px;height:2px;background:linear-gradient(90deg,#ff2e00 0.2%,#ff3700 2.4%,#ff5500 6%,#ff9900 15.5%,#ffd300 21.7%,#fffe00 25.7%,#ffff4c 30.8%,#ffff89 35.6%,#ffffcc 41.4%,#ffffff 44.7%,#ffffff 73.5%,#ffffbe 79.7%,#ffff87 86.7%,#ffff4e 94.3%,#ffff3c 97.6%,#ffff36 99.8%)"></i><i style="top:224px;height:2px;background:linear-gradient(90deg,#ff2a00 0.2%,#ff2e00 1.6%,#ff9400 15.5%,#ffce00 21.7%,#fffe00 26.1%,#ffff34 29.4%,#ffff79 34.5%,#ffffcc 41.4%,#ffffff 44.7%,#ffffff 73.2%,#ffffc8 78.3%,#ffff75 88.5%,#ffff4a 94.3%,#ffff3a 97.3%,#ffff32 99.8%)"></i><i style="top:226px;height:2px;background:linear-gradient(90deg,#ff2600 0.2%,#ff2b00 2%,#ff9100 15.9%,#ffc900 21.7%,#ffff01 26.5%,#ffff2a 29%,#ffff81 35.2%,#ffffd0 41.8%,#ffffff 44.7%,#ffffff 72.8%,#ffffc4 78.3%,#ffff85 85.9%,#ffff46 94.3%,#ffff2e 99.8%)"></i><i style="top:228px;height:2px;background:linear-gradient(90deg,#ff2100 0.2%,#ff2b00 2.7%,#ff8c00 15.9%,#ffcb00 22.4%,#ffff01 26.8%,#ffff3c 30.5%,#ffff6d 34.1%,#ffff75 34.5%,#ffff9d 37.8%,#ffffa8 38.5%,#ffffc0 40.7%,#ffffff 44.7%,#ffffff 72.4%,#ffffc0 78.3%,#ffff73 87.8%,#ffff3e 95.1%,#ffff2a 99.8%)"></i><i style="top:230px;height:2px;background:linear-gradient(90deg,#ff1e00 0.2%,#ff2b00 3.5%,#ff8a00 16.2%,#ffd300 23.5%,#fffd00 26.8%,#ffff7d 35.2%,#ffffc0 40.7%,#ffffff 44.7%,#ffffff 72.1%,#ffffbc 78.3%,#ffff6f 87.8%,#ffff46 93.2%,#ffff28 98.7%,#ffff26 99.8%)"></i><i style="top:232px;height:2px;background:linear-gradient(90deg,#ff1900 0.2%,#ff2100 2.4%,#ff2e00 4.6%,#ff8400 16.2%,#ffc600 22.8%,#fffd00 27.2%,#ffff71 34.5%,#ffff99 37.4%,#ffffc4 41.1%,#ffffff 44.7%,#ffffff 72.1%,#ffffd4 75.7%,#ffffa8 80.1%,#ffff40 93.6%,#ffff21 99.8%)"></i><i style="top:234px;height:2px;background:linear-gradient(90deg,#ff1600 0.2%,#ff1e00 2.7%,#ff7f00 16.2%,#ffc100 22.8%,#fffe00 27.6%,#ffff69 34.1%,#ffff89 36.3%,#ffffc4 41.1%,#ffffff 44.7%,#ffffff 71.7%,#ffffb4 78.3%,#ffff6d 87%,#ffff3c 93.6%,#ffff1d 99.8%)"></i><i style="top:236px;height:2px;background:linear-gradient(90deg,#ff1100 0.2%,#ff1b00 3.1%,#ff7a00 16.2%,#ffb400 22.1%,#ffff01 27.9%,#ffff6d 34.5%,#ffff8d 36.7%,#ffffb4 40%,#ffffcc 41.4%,#ffffd4 42.2%,#fffff7 44%,#ffffff 44.7%,#ffffff 71.4%,#ffffd4 75%,#ffffaa 79%,#ffff40 92.5%,#ffff24 96.9%,#ffff17 99.8%)"></i><i style="top:238px;height:2px;background:linear-gradient(90deg,#ff0c00 0.2%,#ff1b00 3.8%,#ff7700 16.6%,#ffae00 22.1%,#fffd00 27.9%,#ffff09 28.6%,#ffff71 34.9%,#ffff89 36.7%,#ffff91 37%,#ffffa0 38.5%,#ffffa8 38.9%,#ffffc8 41.4%,#fffff7 44%,#ffffff 44.7%,#ffffff 71%,#ffffd0 75%,#ffffa6 79%,#ffff4c 90.3%,#ffff19 98%,#ffff11 99.8%)"></i><i style="top:240px;height:2px;background:linear-gradient(90deg,#ff0800 0.2%,#ff1b00 4.6%,#ff7200 16.6%,#ffa900 22.1%,#fffd00 28.3%,#ffff75 35.2%,#ffffc8 41.4%,#fffff7 44%,#ffffff 44.7%,#ffffff 70.6%,#ffffbe 76.1%,#ffff9d 79.7%,#ffff48 90.3%,#ffff11 98.4%,#ffff0b 99.8%)"></i><i style="top:242px;height:2px;background:linear-gradient(90deg,#ff0400 0.2%,#ff0900 2%,#ff1900 4.9%,#ff6d00 16.6%,#ffa900 22.4%,#ffff01 28.6%,#ffff79 35.6%,#ffffc8 41.4%,#ffffff 44.3%,#ffffff 70.3%,#fffff9 71%,#ffffc2 75.4%,#ffffa8 77.9%,#ffff44 90.3%,#ffff15 96.9%,#ffff05 99.8%)"></i><i style="top:244px;height:2px;background:linear-gradient(90deg,#fd0000 0.2%,#ff0400 1.6%,#ff1900 5.7%,#ff6700 16.6%,#ffa400 22.4%,#fffd00 28.6%,#ffff03 29%,#ffff5a 33.8%,#ffff7d 35.9%,#ffffa8 39.2%,#ffffb0 39.6%,#ffffbc 40.7%,#ffffd4 42.2%,#ffffff 44.3%,#ffffff 69.9%,#fffff9 70.6%,#ffffca 74.3%,#ffff9b 79%,#ffff34 91.8%,#ffff05 98.4%,#fffd00 99.8%)"></i><i style="top:246px;height:2px;background:linear-gradient(90deg,#f90000 0.2%,#ff0100 2%,#ff1900 6.4%,#ff6000 16.2%,#ff9700 21.7%,#fffe00 29%,#ffff71 35.2%,#ffffc8 41.4%,#ffffff 44.3%,#ffffff 69.5%,#ffffb8 75.4%,#ffff9f 77.9%,#ffff48 88.5%,#ffff05 97.3%,#fffd00 98.4%,#fff900 99.8%)"></i><i style="top:248px;height:2px;background:linear-gradient(90deg,#f60000 0.2%,#fd0000 2.4%,#ff0e00 5.3%,#ff5500 15.5%,#ff9c00 22.4%,#fffd00 29%,#ffff03 29.4%,#ffff69 34.9%,#ffffb0 39.6%,#ffffb8 40.3%,#ffffd0 41.8%,#fffffb 44%,#ffffff 44.3%,#ffffff 68.8%,#ffffed 70.6%,#ffffc6 73.5%,#ffff9f 77.2%,#ffff73 82.7%,#ffff67 83.8%,#ffff67 84.1%,#ffff44 88.1%,#ffff44 88.5%,#ffff01 96.9%,#fff500 99.8%)"></i><i style="top:250px;height:2px;background:linear-gradient(90deg,#f00000 0.2%,#fd0000 3.1%,#ff0600 4.6%,#ff5800 16.2%,#ff9900 22.4%,#ffe700 27.6%,#ffff01 29.4%,#ffff61 34.5%,#ffff91 37.4%,#ffffb8 40.3%,#ffffd8 42.2%,#fffff7 43.6%,#ffffff 44.3%,#ffffff 68.4%,#ffffe1 71%,#ffffda 71.4%,#ffffca 72.8%,#ffffc2 73.2%,#ffff9b 76.8%,#ffff9b 77.2%,#ffff8b 78.6%,#ffff7f 80.5%,#ffff6f 81.9%,#ffff6f 82.3%,#ffff63 83.4%,#ffff63 83.8%,#ffff58 84.9%,#ffff58 85.2%,#ffff4c 86.3%,#ffff40 88.1%,#ffff21 91.8%,#ffff21 92.2%,#ffff15 93.2%,#ffff0d 94.7%,#ffff01 95.8%,#fff000 99.8%)"></i><i style="top:252px;height:2px;background:linear-gradient(90deg,#ee0000 0.2%,#fd0000 3.8%,#ff0500 4.9%,#ff5800 16.6%,#ff9100 22.1%,#fffe00 29.4%,#ffff6d 35.2%,#ffffcc 41.4%,#ffffff 44%,#ffffff 67.7%,#fffff5 68.8%,#ffffed 69.2%,#ffffde 70.6%,#ffffd6 71%,#ffffc6 72.4%,#ffffbe 72.8%,#ffff93 76.8%,#ffff93 77.2%,#ffff83 78.6%,#ffff83 79%,#ffff6b 81.6%,#ffff6b 81.9%,#ffff5c 83.4%,#ffff5c 83.8%,#ffff21 90.7%,#ffff19 92.2%,#ffff05 94.3%,#fffd00 95.4%,#fff000 98%,#ffec00 99.8%)"></i><i style="top:254px;height:2px;background:linear-gradient(90deg,#ea0000 0.2%,#ee0000 1.6%,#ff0100 4.9%,#ff5100 16.2%,#ff6600 18.4%,#ff9800 22.8%,#fffc00 29.4%,#ffff03 29.7%,#ffff36 32.3%,#ffff79 35.9%,#ffff8d 37.4%,#ffffc8 41.1%,#fffffb 43.6%,#ffffff 44%,#ffffff 67%,#fffff1 68.4%,#ffffba 72.4%,#ffff8b 76.8%,#ffff7f 78.6%,#ffff6f 80.1%,#ffff6f 80.5%,#ffff54 83.4%,#ffff54 83.8%,#ffff30 87.8%,#ffff30 88.1%,#ffff19 90.7%,#fffd00 94.3%,#fff000 96.9%,#ffe800 99.8%)"></i><i style="top:256px;height:2px;background:linear-gradient(90deg,#e60000 0.2%,#ff0100 5.7%,#ff4b00 15.9%,#ff6200 18.4%,#ff9500 22.8%,#ffe000 27.6%,#ffff01 29.7%,#ffff65 34.9%,#ffffbc 40.3%,#ffffef 42.9%,#ffffff 44%,#ffffff 66.2%,#ffffe9 68.4%,#ffffe1 68.8%,#ffffc2 71.4%,#ffffba 71.7%,#ffff83 76.8%,#ffff77 78.6%,#ffff58 81.9%,#ffff4c 83.8%,#ffff3c 85.2%,#ffff3c 85.6%,#ffff1d 89.2%,#ffff1d 89.6%,#ffff05 92.2%,#fffd00 93.2%,#ffed00 96.2%,#ffe400 99.8%)"></i><i style="top:258px;height:2px;background:linear-gradient(90deg,#e30000 0.2%,#e60000 1.6%,#ff0100 6%,#ff4d00 16.6%,#ff6f00 19.9%,#ff9300 22.8%,#fffe00 29.7%,#ffff5e 34.5%,#ffffc4 40.7%,#ffffff 43.6%,#ffffff 65.5%,#ffffe5 68.1%,#ffffca 69.9%,#ffff97 73.9%,#ffff93 74.6%,#ffff7b 76.8%,#ffff7b 77.2%,#ffff50 81.9%,#ffff50 82.3%,#ffff11 89.6%,#fffd00 92.2%,#ffe800 96.2%,#ffe000 99.8%)"></i><i style="top:260px;height:2px;background:linear-gradient(90deg,#df0000 0.2%,#e10000 1.3%,#eb0000 3.5%,#ff0100 6.8%,#ff4d00 17%,#ff6000 18.8%,#ff9000 22.8%,#fffc00 29.7%,#ffff03 30.1%,#ffff56 34.1%,#ffffb8 40%,#fffffb 43.2%,#ffffff 43.6%,#ffffff 64.8%,#ffffde 68.1%,#ffffb2 71%,#ffff87 74.6%,#ffff87 75%,#ffff63 78.6%,#ffff58 80.5%,#ffff38 83.8%,#ffff38 84.1%,#ffff09 89.6%,#fffd00 91.1%,#ffe300 96.2%,#ffdc00 99.8%)"></i><i style="top:262px;height:2px;background:linear-gradient(90deg,#db0000 0.2%,#e30000 2.7%,#ff0100 7.1%,#ff4d00 17.3%,#ff8800 22.4%,#ffd400 27.2%,#ffff01 30.1%,#ffff69 35.2%,#ffffac 39.2%,#ffffe7 42.2%,#ffffff 43.6%,#ffffff 64.1%,#ffffed 66.2%,#ffffe5 66.6%,#ffffda 67.7%,#ffffb2 70.3%,#ffff7f 74.6%,#ffff7f 75%,#ffff6b 76.8%,#ffff6b 77.2%,#ffff4c 80.5%,#ffff40 82.3%,#ffff30 83.8%,#ffff30 84.1%,#ffff01 89.6%,#ffe300 95.1%,#ffdb00 97.3%,#ffd800 99.8%)"></i><i style="top:264px;height:2px;background:linear-gradient(90deg,#d90000 0.2%,#e30000 3.5%,#ff0000 7.5%,#ff4700 17%,#ff5d00 19.2%,#ff8600 22.4%,#fffe00 30.1%,#ffff61 34.9%,#ffffb4 39.6%,#ffffff 43.2%,#ffffff 63.7%,#ffffe5 66.2%,#ffffde 66.6%,#ffff9b 71.4%,#ffff77 74.6%,#ffff77 75%,#ffff63 76.8%,#ffff63 77.2%,#ffff54 78.6%,#ffff54 79%,#ffff44 80.5%,#ffff44 80.8%,#ffff34 82.3%,#ffff28 84.1%,#ffff19 85.6%,#ffff19 85.9%,#ffff01 88.5%,#ffde00 95.1%,#ffd300 99.8%)"></i><i style="top:266px;height:2px;background:linear-gradient(90deg,#d30000 0.2%,#e30000 4.2%,#ff0100 8.2%,#ff4000 16.6%,#ff5500 18.8%,#ff8300 22.4%,#fffd00 30.1%,#ffff13 31.2%,#ffff5a 34.5%,#ffff5e 34.9%,#ffff75 35.9%,#ffff79 36.3%,#ffff9d 38.1%,#ffffa0 38.5%,#ffffbc 40%,#fffffb 42.9%,#ffffff 43.2%,#ffffff 63.3%,#ffffde 66.2%,#ffff97 71%,#ffff6f 74.6%,#ffff6f 75%,#ffff5c 76.8%,#ffff5c 77.2%,#ffff4c 78.6%,#ffff4c 79%,#ffff3c 80.5%,#ffff3c 80.8%,#ffff2c 82.3%,#ffff2c 82.7%,#ffff1d 84.1%,#ffff1d 84.5%,#ffff05 87%,#fffd00 88.1%,#ffd800 95.1%,#ffcf00 99.8%)"></i><i style="top:268px;height:2px;background:linear-gradient(90deg,#d10000 0.2%,#d90000 3.1%,#ff0100 8.6%,#ff4000 17%,#ff5a00 19.5%,#ff7b00 22.1%,#fffc00 30.1%,#ffff03 30.5%,#ffff4a 33.8%,#ffff6d 35.6%,#ffff8d 37.4%,#ffffa4 38.5%,#ffffa8 38.9%,#fffff5 42.5%,#ffffff 43.2%,#ffffff 63%,#ffffd6 66.2%,#ffffc2 67.3%,#ffff97 70.3%,#ffff67 74.6%,#ffff67 75%,#ffff54 76.8%,#ffff54 77.2%,#ffff44 78.6%,#ffff44 79%,#ffff34 80.5%,#ffff24 82.3%,#ffff24 82.7%,#ffff09 85.6%,#fffd00 87%,#ffd800 94%,#ffce00 97.3%,#ffcb00 99.8%)"></i><i style="top:270px;height:2px;background:linear-gradient(90deg,#cd0000 0.2%,#d90000 3.8%,#ff0000 8.9%,#ff4000 17.3%,#ff5200 19.2%,#ff8e00 23.5%,#ffd200 27.6%,#fffe00 30.5%,#ffff6d 35.6%,#ffff71 35.9%,#ffff89 37%,#ffff8d 37.4%,#ffffb0 39.2%,#ffffff 42.9%,#ffffff 62.6%,#ffffde 65.1%,#ffff93 69.9%,#ffff60 74.6%,#ffff60 75%,#ffff4c 76.8%,#ffff4c 77.2%,#ffff28 80.8%,#ffff28 81.2%,#ffff19 82.7%,#ffff19 83%,#ffff01 85.6%,#ffd300 94%,#ffc600 99.8%)"></i><i style="top:272px;height:2px;background:linear-gradient(90deg,#c90000 0.2%,#d10000 3.1%,#db0000 4.9%,#fd0000 9.3%,#ff3a00 17%,#ff5400 19.5%,#ff8b00 23.5%,#fffe00 30.5%,#ffff65 35.2%,#ffff95 37.8%,#fffffb 42.5%,#ffffff 42.9%,#ffffff 62.2%,#ffffca 65.9%,#ffff9f 68.4%,#ffff77 71.4%,#ffff6f 72.1%,#ffff6f 72.4%,#ffff54 75%,#ffff54 75.4%,#ffff44 76.8%,#ffff40 77.6%,#ffff30 79%,#ffff30 79.4%,#ffff21 80.8%,#ffff21 81.2%,#ffff11 82.7%,#ffff11 83%,#ffff01 84.5%,#ffd000 93.2%,#ffc600 96.5%,#ffc100 99.8%)"></i><i style="top:274px;height:2px;background:linear-gradient(90deg,#c50000 0.2%,#d10000 3.8%,#fd0000 9.7%,#ff3300 16.6%,#ff4c00 19.2%,#ff8800 23.5%,#fffc00 30.5%,#ffff03 30.8%,#ffff26 32.3%,#ffff5e 34.9%,#ffff69 35.6%,#ffff91 37.4%,#ffff95 37.8%,#fffff5 42.2%,#ffffff 42.9%,#ffffff 61.9%,#ffff9b 68.1%,#ffff77 70.6%,#ffff4c 75%,#ffff4c 75.4%,#ffff38 77.2%,#ffff38 77.6%,#ffff28 79%,#ffff28 79.4%,#ffff05 83%,#fffd00 84.1%,#ffc900 94%,#ffbb00 99.8%)"></i><i style="top:276px;height:2px;background:linear-gradient(90deg,#c10000 0.2%,#c40000 1.6%,#d10000 4.6%,#fd0000 10%,#ff3600 17.3%,#ff4800 19.2%,#ff8600 23.5%,#fffc00 30.5%,#ffff03 30.8%,#ffffff 42.5%,#ffffff 61.5%,#ffffe9 63%,#ffffda 63.7%,#ffffbe 65.5%,#ffff97 67.7%,#ffff77 69.9%,#ffff44 75%,#ffff44 75.4%,#ffff30 77.2%,#ffff30 77.6%,#ffff1d 79.4%,#ffff1d 79.7%,#ffff01 82.7%,#ffcb00 92.2%,#ffbe00 95.8%,#ffb600 99.8%)"></i><i style="top:278px;height:2px;background:linear-gradient(90deg,#bc0000 0.2%,#c60000 3.5%,#d50000 5.7%,#fc0000 10.4%,#ff0100 10.8%,#ff3600 17.7%,#ff5800 20.6%,#ff7200 22.4%,#ffef00 29.7%,#fffe00 30.8%,#ffff13 31.6%,#ffffff 42.5%,#ffffff 61.1%,#fffff5 61.9%,#ffffbe 64.8%,#ffff77 69.2%,#ffff54 72.4%,#ffff50 73.2%,#ffff15 79.4%,#ffff15 79.7%,#ffff01 81.6%,#ffc600 92.2%,#ffb600 96.9%,#ffb100 99.8%)"></i><i style="top:280px;height:2px;background:linear-gradient(90deg,#b90000 0.2%,#c60000 4.2%,#d90000 6.8%,#fc0000 10.8%,#ff0100 11.1%,#ff2c00 17%,#ff4b00 19.9%,#ff7500 22.8%,#fffe00 30.8%,#ffffc0 39.6%,#ffffdc 40.7%,#fffffb 42.2%,#ffffff 42.5%,#ffffff 60.8%,#fffff5 61.5%,#ffffc2 64.1%,#ffff73 68.8%,#ffff48 72.8%,#ffff48 73.2%,#ffff30 75.4%,#ffff30 75.7%,#ffff1d 77.6%,#ffff1d 77.9%,#ffff09 79.7%,#ffff01 80.8%,#ffc100 92.2%,#ffa900 99.8%)"></i><i style="top:282px;height:2px;background:linear-gradient(90deg,#b40000 0.2%,#c60000 4.9%,#ff0000 11.5%,#ff2600 16.6%,#ff4300 19.5%,#ff7200 22.8%,#fffc00 30.8%,#ffff05 31.2%,#ffff3a 33.4%,#ffffa8 38.5%,#ffffff 42.2%,#fffffd 60.8%,#ffffb2 64.4%,#ffff6f 68.4%,#ffff40 72.8%,#ffff3c 73.5%,#ffff01 79.7%,#ffbb00 92.2%,#ffa400 99.8%)"></i><i style="top:284px;height:2px;background:linear-gradient(90deg,#af0000 0.2%,#be0000 4.2%,#d30000 7.1%,#ff0000 11.9%,#ff2800 17.3%,#ff4400 19.9%,#ff7500 23.2%,#fffc00 30.8%,#ffff0b 31.6%,#ffff17 31.9%,#ffff36 33.4%,#ffff4a 34.1%,#ffff91 37.4%,#fffff1 41.4%,#ffffff 42.2%,#fffffd 60.4%,#ffffb6 63.7%,#ffff6b 68.1%,#ffff34 73.2%,#ffff34 73.5%,#ffff1d 75.7%,#ffff1d 76.1%,#ffff09 77.9%,#ffff01 79%,#ffce00 87.4%,#ffb600 92.2%,#ffa400 97.3%,#ff9f00 99.8%)"></i><i style="top:286px;height:2px;background:linear-gradient(90deg,#ac0000 0.2%,#ac0000 0.9%,#bc0000 4.6%,#cc0000 6.8%,#fd0000 12.2%,#ff2800 17.7%,#ff4000 19.9%,#ff7200 23.2%,#fffa00 30.8%,#ffff03 31.2%,#ffff13 31.9%,#ffff26 32.7%,#ffff46 34.1%,#ffff52 34.5%,#ffff89 37%,#ffff95 37.4%,#ffffac 38.5%,#ffffe3 40.7%,#fffffb 41.8%,#ffffff 42.2%,#fffffd 60%,#ffffa6 64.1%,#ffff67 67.7%,#ffff4c 69.9%,#ffff4c 70.3%,#ffff28 73.5%,#ffff28 73.9%,#ffff01 77.9%,#ffb400 91.4%,#ff9700 99.8%)"></i><i style="top:288px;height:2px;background:linear-gradient(90deg,#a70000 0.2%,#ac0000 2%,#be0000 5.7%,#fd0000 12.6%,#ff1f00 17%,#ff3800 19.5%,#ff5800 21.7%,#ff7b00 23.9%,#ffcc00 28.3%,#fffe00 31.2%,#ffff22 32.7%,#ffff2e 33%,#ffff4e 34.5%,#ffff5a 34.9%,#ffff81 36.7%,#ffff8d 37%,#ffffa4 38.1%,#ffffff 41.8%,#fffffd 59.7%,#ffffaa 63.3%,#ffff67 67%,#ffff40 70.3%,#ffff40 70.6%,#ffff21 73.5%,#ffff01 77.2%,#ffb900 89.2%,#ffa600 93.2%,#ff9000 99.8%)"></i><i style="top:290px;height:2px;background:linear-gradient(90deg,#a20000 0.2%,#b70000 4.9%,#c60000 7.1%,#fd0000 13%,#ff2200 17.7%,#ff3a00 19.9%,#ff5a00 22.1%,#ff7900 23.9%,#fffe00 31.2%,#ffff9d 37.8%,#ffffdf 40.3%,#ffffff 41.8%,#ffffff 59.3%,#ffffa0 63.3%,#ffff63 66.6%,#ffff54 67.7%,#ffff34 70.6%,#ffff30 71.4%,#ffff01 76.1%,#ffb100 89.6%,#ff8800 99.8%)"></i><i style="top:292px;height:2px;background:linear-gradient(90deg,#9c0000 0.2%,#b10000 4.9%,#be0000 6.8%,#fd0000 13.3%,#ff1b00 17.3%,#ff3600 19.9%,#ff4c00 21.4%,#ff6f00 23.5%,#ffe400 29.7%,#fffc00 31.2%,#ffff07 31.6%,#ffff32 33.4%,#ffff3e 33.8%,#ffff56 34.9%,#ffff61 35.2%,#ffff79 36.3%,#ffffeb 40.7%,#fffffb 41.4%,#ffffff 41.8%,#ffffff 58.9%,#fffff9 59.3%,#ffffbe 61.5%,#ffff87 64.1%,#ffff60 66.2%,#ffff50 67.3%,#ffff24 71.4%,#ffff01 75.4%,#ffb100 88.5%,#ff9400 94.7%,#ff8200 99.8%)"></i><i style="top:294px;height:2px;background:linear-gradient(90deg,#970000 0.2%,#a90000 4.2%,#b80000 6.4%,#ff0000 14.1%,#ff1b00 17.7%,#ff2e00 19.5%,#ff5a00 22.4%,#ff8e00 25.4%,#ffc700 28.3%,#fffc00 31.2%,#ffff03 31.6%,#ffff46 34.1%,#ffff8d 37%,#ffffed 40.7%,#fffffd 41.4%,#ffffff 41.8%,#ffffff 58.6%,#fffff9 58.9%,#ffffaa 61.9%,#ffff67 65.1%,#ffff50 66.6%,#ffff15 72.1%,#ffff01 74.3%,#ffa100 90.3%,#ff7a00 99.8%)"></i><i style="top:296px;height:2px;background:linear-gradient(90deg,#940000 0.2%,#9a0000 2%,#a90000 4.9%,#bc0000 7.5%,#e60000 11.5%,#ff0000 14.4%,#ff1b00 18.1%,#ff2f00 19.9%,#ff5d00 22.8%,#fffa00 31.2%,#ffff0b 31.9%,#ffff17 32.3%,#ffff71 35.9%,#ffffe7 40.3%,#ffffff 41.4%,#ffffff 58.2%,#fffff9 58.6%,#ffffa8 61.5%,#ffff63 64.8%,#ffff3c 67.3%,#ffff01 73.2%,#ff9f00 89.6%,#ff7a00 97.6%,#ff7300 99.8%)"></i><i style="top:298px;height:2px;background:linear-gradient(90deg,#8f0000 0.2%,#970000 2.4%,#b10000 6.8%,#f30000 13.3%,#fd0000 14.8%,#ff1b00 18.4%,#ff3c00 21%,#ff6d00 23.9%,#ffca00 28.6%,#fffe00 31.6%,#ffff4e 34.5%,#ffff5e 35.2%,#ffffd8 39.6%,#fffffb 41.1%,#ffffff 41.4%,#fffffd 57.8%,#ffffed 58.6%,#ffff9d 61.5%,#ffff58 64.8%,#ffff40 66.2%,#ffff2e 67.7%,#ffff01 72.1%,#ffcc00 80.1%,#ff9900 89.2%,#ff7500 97.3%,#ff6d00 99.8%)"></i><i style="top:300px;height:2px;background:linear-gradient(90deg,#8a0000 0.2%,#9f0000 4.6%,#b70000 7.8%,#e80000 12.6%,#fd0000 15.1%,#ff1000 17.3%,#ff2800 19.9%,#ff4b00 22.1%,#ff7700 24.6%,#fffe00 31.6%,#ffff07 31.9%,#ffff85 36.7%,#ffffe3 40%,#fffffd 41.1%,#ffffff 41.4%,#fffffd 57.5%,#ffffe3 58.6%,#ffffa2 60.8%,#ffff5a 64.1%,#ffff30 66.6%,#ffff01 71%,#ffcf00 78.3%,#ff9500 88.5%,#ff6f00 96.9%,#ff6900 99.8%)"></i><i style="top:302px;height:2px;background:linear-gradient(90deg,#870000 0.2%,#8d0000 2%,#9f0000 5.3%,#af0000 7.5%,#f80000 14.8%,#ff0100 15.9%,#ff0d00 17.3%,#ff2600 19.9%,#ff4d00 22.4%,#ff7b00 25%,#ffcc00 29%,#fffc00 31.6%,#ffff0f 32.3%,#ffff85 36.7%,#ffffc8 38.9%,#ffffef 40.3%,#ffffff 41.1%,#ffffff 56.8%,#fffffb 57.1%,#ffffeb 57.8%,#ffffb4 59.7%,#ffff8d 61.1%,#ffff4e 64.1%,#ffff34 65.5%,#ffff21 67%,#fffd01 69.9%,#ffc200 79%,#ff9700 86.7%,#ff7200 94.7%,#ff6700 97.6%,#ff6500 99.8%)"></i><i style="top:304px;height:2px;background:linear-gradient(90deg,#830000 0.2%,#8a0000 2.4%,#a80000 7.1%,#bc0000 9.3%,#eb0000 13.7%,#fd0000 15.9%,#ff0400 16.6%,#ff2300 19.9%,#ff5000 22.8%,#ff7f00 25.4%,#fffa00 31.6%,#ffff03 31.9%,#ffff65 35.6%,#ffff89 36.7%,#ffff91 37%,#ffffb4 38.1%,#fffff3 40.3%,#ffffff 41.1%,#ffffff 56.4%,#ffffe9 57.5%,#ffff9d 60%,#ffff58 63%,#ffff42 64.1%,#ffff1f 66.2%,#fffd01 68.8%,#ffc500 77.2%,#ff8b00 87.4%,#ff6500 96.5%,#ff6100 99.8%)"></i><i style="top:306px;height:2px;background:linear-gradient(90deg,#7f0000 0.2%,#8a0000 3.1%,#a90000 7.8%,#e30000 13.3%,#ff0100 16.6%,#ff2100 19.9%,#ff4700 22.4%,#ff6e00 24.6%,#ffcf00 29.4%,#ffff01 31.9%,#ffff65 35.6%,#ffffd8 39.2%,#fffffd 40.7%,#ffffff 41.1%,#fffffd 56%,#fffff1 56.8%,#ffffd4 57.8%,#ffffa4 59.3%,#ffff7d 60.8%,#ffff44 63.3%,#ffff13 66.2%,#ffff01 67.7%,#ffc500 75.7%,#ff8800 86.3%,#ff6200 95.4%,#ff5d00 99.8%)"></i><i style="top:308px;height:2px;background:linear-gradient(90deg,#7b0000 0.2%,#870000 3.5%,#9f0000 7.1%,#b70000 9.7%,#e30000 13.7%,#ff0100 17%,#ff2200 20.3%,#ff5000 23.2%,#fffe00 31.9%,#ffff65 35.6%,#ffffc4 38.5%,#ffffef 40%,#ffffff 40.7%,#fffffd 55.7%,#ffffef 56.4%,#ffff99 59.3%,#ffff60 61.5%,#ffff30 63.7%,#ffff07 66.2%,#fffd00 67%,#ffc700 73.9%,#ff8600 85.2%,#ff5d00 95.4%,#ff5a00 99.8%)"></i><i style="top:310px;height:2px;background:linear-gradient(90deg,#780000 0.2%,#7a0000 1.6%,#870000 4.2%,#a70000 8.6%,#e30000 14.1%,#fb0000 16.6%,#ff0500 17.7%,#ff1600 19.5%,#ff4000 22.4%,#ff6700 24.6%,#fffd00 31.9%,#ffff1b 33%,#ffff52 34.9%,#ffff5a 35.2%,#ffffe7 39.6%,#fffffb 40.3%,#ffffff 40.7%,#fffffd 55.3%,#ffffe5 56.4%,#ffff8b 59.3%,#ffff4a 61.9%,#ffff17 64.4%,#ffff01 65.9%,#ffdf00 69.5%,#ffb700 75%,#ff8300 84.1%,#ff5a00 94.3%,#ff5600 99.8%)"></i><i style="top:312px;height:2px;background:linear-gradient(90deg,#750000 0.2%,#750000 1.3%,#7d0000 3.1%,#9c0000 7.8%,#ee0000 15.5%,#fd0000 17.3%,#ff0500 18.1%,#ff2100 20.6%,#ff4300 22.8%,#ff5d00 24.3%,#fffc00 31.9%,#ffff05 32.3%,#ffff46 34.5%,#ffff4e 34.9%,#ffffeb 39.6%,#fffffd 40.3%,#ffffff 40.7%,#fffffd 54.9%,#ffffda 56.4%,#ffff9f 58.2%,#ffff69 60%,#ffff1f 63.3%,#fffd01 65.1%,#ffdc00 68.8%,#ffb700 73.5%,#ff8000 83%,#ff5800 93.2%,#ff5200 96.5%,#ff5200 99.8%)"></i><i style="top:314px;height:2px;background:linear-gradient(90deg,#700000 0.2%,#7a0000 3.5%,#a20000 8.9%,#db0000 14.1%,#ff0000 17.7%,#ff0200 18.1%,#ff1e00 20.6%,#ff4500 23.2%,#fff900 31.9%,#ffff03 32.3%,#ffff3a 34.1%,#ffff42 34.5%,#ffffe3 39.2%,#ffffff 40.3%,#fffffd 54.6%,#ffffed 55.3%,#ffff85 58.6%,#ffff4a 60.8%,#ffff21 62.6%,#ffff0b 63.7%,#fffd01 64.4%,#ffca00 69.9%,#ffaa00 74.3%,#ff7e00 81.9%,#ff6a00 86.3%,#ff5200 93.2%,#ff5000 99.8%)"></i><i style="top:316px;height:2px;background:linear-gradient(90deg,#6d0000 0.2%,#6d0000 1.3%,#780000 3.8%,#9a0000 8.6%,#db0000 14.4%,#ff0000 18.1%,#ff1600 20.3%,#ff3600 22.4%,#ff7500 25.7%,#ffb500 28.6%,#ffff01 32.3%,#ffff36 34.1%,#ffff65 35.6%,#ffff75 35.9%,#ffffe5 39.2%,#fffffb 40%,#ffffff 40.3%,#fffffd 54.2%,#ffffd8 55.7%,#ffff8f 57.8%,#ffff46 60.4%,#ffff0d 63%,#fffd01 63.7%,#ffd700 67.3%,#ffb700 71%,#ff7200 82.7%,#ff5000 92.2%,#ff4c00 99.8%)"></i><i style="top:318px;height:2px;background:linear-gradient(90deg,#680000 0.2%,#700000 3.1%,#8d0000 7.5%,#a80000 10.4%,#db0000 14.8%,#fc0000 18.1%,#ff0400 18.8%,#ff1d00 21%,#ff4500 23.5%,#fffe00 32.3%,#ffff5a 35.2%,#ffffb8 37.8%,#ffffe9 39.2%,#fffffd 40%,#ffffff 40.3%,#fffffd 53.8%,#ffffe1 54.9%,#ffff75 58.2%,#ffff56 59.3%,#ffff26 61.1%,#fffd01 63%,#ffdc00 65.9%,#ffba00 69.5%,#ff9d00 73.5%,#ff6f00 81.6%,#ff4b00 92.2%,#ff4800 99.8%)"></i><i style="top:320px;height:2px;background:linear-gradient(90deg,#640000 0.2%,#6d0000 3.5%,#940000 8.9%,#db0000 15.1%,#ff0100 18.8%,#ff1a00 21%,#ff4900 23.9%,#fffd00 32.3%,#ffff13 33%,#ffff5a 35.2%,#ffffc8 38.1%,#fffff7 39.6%,#ffffff 40%,#fffffd 53.5%,#ffffe1 54.6%,#ffff97 56.8%,#ffff52 58.9%,#ffff2a 60.4%,#ffff03 62.2%,#fffc00 62.6%,#ffcf00 66.2%,#ffaa00 70.3%,#ff6700 81.6%,#ff4800 91.1%,#ff4500 99.8%)"></i><i style="top:322px;height:2px;background:linear-gradient(90deg,#600000 0.2%,#630000 2%,#6a0000 3.8%,#8a0000 8.2%,#af0000 11.9%,#eb0000 17%,#ff0200 19.2%,#ff2100 21.7%,#ff3800 23.2%,#fffc00 32.3%,#ffff07 32.7%,#ffff5a 35.2%,#ffffd8 38.5%,#ffffef 39.2%,#ffffff 40%,#fffffd 53.1%,#ffffeb 53.8%,#ffff5a 58.2%,#ffff26 60%,#ffff03 61.5%,#fffc00 61.9%,#ffda00 64.4%,#ffaa00 69.2%,#ff9000 72.8%,#ff6500 80.5%,#ff5500 84.5%,#ff4300 91.4%,#ff4300 99.8%)"></i><i style="top:324px;height:2px;background:linear-gradient(90deg,#5b0000 0.2%,#680000 4.2%,#8f0000 9.3%,#ff0000 19.2%,#ff1900 21.4%,#ff4300 23.9%,#fffc00 32.3%,#ffff11 33%,#ffff4e 34.9%,#ffffdc 38.5%,#fffff3 39.2%,#ffffff 40%,#fffffd 52.7%,#ffffeb 53.5%,#ffffc8 54.6%,#ffff79 56.8%,#ffff56 57.8%,#ffff0f 60.4%,#fffd01 61.1%,#ffd400 64.1%,#ff9d00 69.5%,#ff5e00 80.1%,#ff5000 84.1%,#ff4000 90.3%,#ff3f00 99.8%)"></i><i style="top:326px;height:2px;background:linear-gradient(90deg,#550000 0.2%,#5b0000 2.4%,#650000 4.6%,#870000 8.9%,#a90000 12.2%,#d30000 15.5%,#ff0000 19.5%,#ff1100 21%,#ff3800 23.5%,#fff900 32.3%,#ffff03 32.7%,#ffff26 33.8%,#ffff4e 34.9%,#ffffdf 38.5%,#ffffff 39.6%,#fffffd 52.4%,#ffffeb 53.1%,#ffffc8 54.2%,#ffff91 55.7%,#ffff32 58.6%,#ffff0b 60%,#fffa00 60.8%,#ffcf00 63.7%,#ff9d00 68.4%,#ff8300 72.1%,#ff5c00 79%,#ff5000 81.9%,#ff3d00 88.9%,#ff3c00 99.8%)"></i><i style="top:328px;height:2px;background:linear-gradient(90deg,#530000 0.2%,#5b0000 3.5%,#630000 4.9%,#7f0000 8.6%,#9c0000 11.5%,#e10000 17%,#ff0100 19.9%,#ff2800 22.8%,#ff4300 24.3%,#fff900 32.3%,#ffff03 32.7%,#ffff32 34.1%,#ffffd6 38.1%,#ffffef 38.9%,#ffffff 39.6%,#fffffd 52%,#ffffeb 52.7%,#ffffd4 53.5%,#ffff81 55.7%,#ffff22 58.6%,#fffc00 60%,#ffca00 63.3%,#ff9000 68.8%,#ff5900 77.9%,#ff4800 82.3%,#ff3800 89.6%,#ff3a00 99.8%)"></i><i style="top:330px;height:2px;background:linear-gradient(90deg,#4e0000 0.2%,#580000 3.8%,#850000 9.7%,#a40000 12.6%,#d90000 16.6%,#ff0200 20.3%,#ff1f00 22.4%,#ff3800 23.9%,#ffff01 32.7%,#ffff32 34.1%,#ffffda 38.1%,#fffffb 39.2%,#ffffff 39.6%,#fffffd 51.6%,#ffffeb 52.4%,#ffffd4 53.1%,#ffff65 56%,#ffff1f 58.2%,#fffd01 59.3%,#ffc500 63%,#ff9000 67.7%,#ff7f00 69.9%,#ff5600 76.8%,#ff4800 80.1%,#ff3600 88.1%,#ff3300 94.7%,#ff3700 99.8%)"></i><i style="top:332px;height:2px;background:linear-gradient(90deg,#480000 0.2%,#530000 3.8%,#7d0000 9.3%,#970000 11.9%,#de0000 17.3%,#ff0000 20.3%,#ff2200 22.8%,#ff3600 23.9%,#ff6500 26.1%,#fffe00 32.7%,#ffff32 34.1%,#ffffde 38.1%,#ffffff 39.2%,#fffffd 51.3%,#ffffeb 52%,#ffffd4 52.7%,#ffff99 54.2%,#ffff56 56%,#ffff0f 58.2%,#fffc00 58.9%,#ffba00 63%,#ff8600 67.7%,#ff6900 72.1%,#ff4b00 77.6%,#ff3b00 82.7%,#ff3000 89.2%,#ff3400 99.8%)"></i><i style="top:334px;height:2px;background:linear-gradient(90deg,#430000 0.2%,#500000 4.2%,#750000 8.9%,#920000 11.9%,#d10000 16.6%,#ff0100 20.6%,#ff1e00 22.8%,#ff3a00 24.3%,#fffe00 32.7%,#ffff17 33.4%,#ffff42 34.5%,#ffffa4 36.7%,#ffffe1 38.1%,#fffff9 38.9%,#ffffff 39.2%,#ffffff 50.9%,#ffffdf 52%,#ffffa8 53.5%,#ffff89 54.2%,#ffff46 56%,#fffd01 58.2%,#ffc500 61.5%,#ffb000 63%,#ff8600 66.6%,#ff6900 70.6%,#ff4800 76.5%,#ff3b00 80.1%,#ff2e00 87.8%,#ff2c00 93.2%,#ff3200 99.8%)"></i><i style="top:336px;height:2px;background:linear-gradient(90deg,#3e0000 0.2%,#4b0000 4.2%,#600000 7.1%,#7a0000 10%,#9f0000 13.3%,#e80000 18.8%,#ff0200 21%,#ff1b00 22.8%,#ff3600 24.3%,#ff6700 26.5%,#fffe00 32.7%,#ffff17 33.4%,#ffff44 34.5%,#ffffd8 37.8%,#fffff1 38.5%,#fffffb 38.9%,#ffffff 39.2%,#ffffff 50.5%,#ffffdf 51.6%,#ffff42 55.7%,#ffff07 57.5%,#fffc00 57.8%,#ffbf00 61.1%,#ffa500 63%,#ff8300 65.9%,#ff6900 69.2%,#ff4000 76.5%,#ff3300 81.2%,#ff2800 89.2%,#ff2f00 99.8%)"></i><i style="top:338px;height:2px;background:linear-gradient(90deg,#390000 0.2%,#3b0000 1.6%,#480000 4.6%,#680000 8.6%,#8d0000 12.2%,#e10000 18.4%,#ff0000 21%,#ff2b00 23.9%,#ff4b00 25.4%,#fffc00 32.7%,#ffff17 33.4%,#ffff65 35.2%,#ffffac 36.7%,#ffffdc 37.8%,#ffffff 38.9%,#ffffff 50.2%,#fffff7 50.5%,#ffffdf 51.3%,#ffff95 53.1%,#ffff32 55.7%,#ffff03 57.1%,#fff900 57.5%,#ffe100 58.6%,#ffba00 60.8%,#ff9500 63.3%,#ff7900 65.9%,#ff5c00 69.9%,#ff3d00 75.4%,#ff3300 78.3%,#ff2600 87.4%,#ff2600 92.5%,#ff2c00 99.8%)"></i><i style="top:340px;height:2px;background:linear-gradient(90deg,#310000 0.2%,#430000 4.6%,#550000 7.1%,#7f0000 11.5%,#9f0000 14.1%,#d30000 17.7%,#ff0100 21.4%,#ff2100 23.5%,#ff3700 24.6%,#fffc00 32.7%,#ffff17 33.4%,#ffff46 34.5%,#ffffd2 37.4%,#fffff9 38.5%,#ffffff 38.9%,#ffffff 49.8%,#fffff7 50.2%,#ffffdf 50.9%,#ffff4a 54.6%,#ffff09 56.4%,#fffc00 56.8%,#ffb500 60.4%,#ff7e00 64.4%,#ff6e00 65.9%,#ff5c00 68.4%,#ff3b00 74.3%,#ff3000 76.8%,#ff2300 85.6%,#ff2200 90.7%,#ff2a00 99.8%)"></i><i style="top:342px;height:2px;background:linear-gradient(90deg,#2b0000 0.2%,#400000 4.9%,#500000 7.1%,#700000 10.4%,#870000 12.6%,#de0000 18.8%,#fd0000 21.4%,#ff1700 23.2%,#ff3c00 25%,#fffc00 32.7%,#ffff17 33.4%,#ffff36 34.1%,#ffffd6 37.4%,#fffff1 38.1%,#fffffb 38.5%,#ffffff 38.9%,#ffffff 49.5%,#fffff7 49.8%,#ffffdf 50.5%,#ffff2a 54.9%,#ffff03 56%,#fff900 56.4%,#ffd200 58.2%,#ffb000 60%,#ff9300 61.9%,#ff7b00 63.7%,#ff6b00 65.1%,#ff5800 67.7%,#ff3300 74.3%,#ff2800 77.9%,#ff1e00 87%,#ff2700 99.8%)"></i><i style="top:344px;height:2px;background:linear-gradient(90deg,#260000 0.2%,#400000 5.7%,#680000 10%,#870000 13%,#c10000 17%,#ff0000 21.7%,#ff1500 23.2%,#ff3a00 25%,#fffc00 32.7%,#ffff19 33.4%,#ffff3a 34.1%,#ffffba 36.7%,#ffffe9 37.8%,#ffffff 38.5%,#ffffff 49.1%,#fffff7 49.5%,#ffffdf 50.2%,#ffff61 53.1%,#ffff26 54.6%,#fffd01 55.7%,#ffaa00 59.7%,#ff8800 61.9%,#ff6900 64.4%,#ff5900 66.2%,#ff3300 72.8%,#ff2600 76.5%,#ff1b00 84.9%,#ff1b00 90.3%,#ff2500 99.8%)"></i><i style="top:346px;height:2px;background:linear-gradient(90deg,#240000 0.2%,#3b0000 5.3%,#550000 8.6%,#8d0000 13.7%,#e10000 19.5%,#ff0200 22.1%,#ff1200 23.2%,#ff3700 25%,#ff7600 27.6%,#fffc00 32.7%,#ffff0b 33%,#ffff2a 33.8%,#ffffd2 37%,#ffffe1 37.4%,#fffff9 38.1%,#ffffff 38.5%,#ffffff 48.7%,#fffff7 49.1%,#ffffdf 49.8%,#ffff32 53.8%,#fffc00 55.3%,#ffa000 59.7%,#ff6d00 63.3%,#ff5d00 64.8%,#ff4b00 67.3%,#ff2e00 72.4%,#ff2100 76.8%,#ff1600 86.3%,#ff2100 99.8%)"></i><i style="top:348px;height:2px;background:linear-gradient(90deg,#220000 0.2%,#270000 2%,#390000 5.3%,#480000 7.5%,#610000 10%,#8e0000 14.1%,#ff0000 22.1%,#ff1000 23.2%,#ff3400 25%,#ff7e00 27.9%,#fffd00 32.7%,#ffff1d 33.4%,#ffff40 34.1%,#ffffa2 35.9%,#ffffc6 36.7%,#fffff3 37.8%,#fffffd 38.1%,#ffffff 38.5%,#fffffd 48.4%,#ffffeb 49.1%,#ffff3e 53.1%,#ffff13 54.2%,#ffff07 54.6%,#fff900 54.9%,#ffaa00 58.6%,#ff8c00 60.4%,#ff6500 63.3%,#ff4d00 65.9%,#ff2e00 71.4%,#ff2300 73.5%,#ff1e00 75.7%,#ff1300 83.8%,#ff1300 91.1%,#ff1b00 99.8%)"></i><i style="top:350px;height:2px;background:linear-gradient(90deg,#200000 0.2%,#3b0000 6%,#5f0000 10%,#8a0000 14.1%,#de0000 19.9%,#ff0200 22.4%,#ff2300 24.3%,#ff4400 25.7%,#fffe00 32.7%,#ffff44 34.1%,#ffffce 36.7%,#ffffed 37.4%,#fffff9 37.8%,#ffffff 38.1%,#fffffd 48%,#ffffdc 49.1%,#ffff5a 52%,#ffff1f 53.5%,#ffff03 54.2%,#fff900 54.6%,#ffa900 58.2%,#ff7f00 60.8%,#ff6200 63%,#ff4500 66.2%,#ff2800 71.4%,#ff1900 76.1%,#ff0e00 84.5%,#ff0e00 91.1%,#ff1600 99.8%)"></i><i style="top:352px;height:2px;background:linear-gradient(90deg,#200000 0.2%,#250000 2%,#370000 5.7%,#510000 8.9%,#9a0000 15.5%,#ff0000 22.4%,#ff1a00 23.9%,#ff4c00 26.1%,#ff7b00 27.9%,#fff600 32.3%,#ffff03 32.7%,#ffff48 34.1%,#ffffd6 36.7%,#ffffe5 37%,#fffffd 37.8%,#ffffff 38.1%,#fffffd 47.6%,#ffffe7 48.4%,#ffffcc 49.1%,#ffff77 50.9%,#ffff2a 52.7%,#ffff03 53.8%,#fff600 54.2%,#ffa800 57.8%,#ff7e00 60.4%,#ff6000 62.6%,#ff4300 65.9%,#ff2300 71.4%,#ff1600 75.4%,#ff0900 84.9%,#ff0e00 99.8%)"></i><i style="top:354px;height:2px;background:linear-gradient(90deg,#200000 0.2%,#220000 1.6%,#3c0000 6.8%,#650000 11.1%,#920000 15.1%,#fc0000 22.4%,#ff1900 23.9%,#ff4100 25.7%,#ff6600 27.2%,#fff600 32.3%,#ffff05 32.7%,#ffff3a 33.8%,#ffff8f 35.2%,#ffffde 36.7%,#fffff9 37.4%,#ffffff 37.8%,#fffffd 47.3%,#ffffd8 48.4%,#ffff26 52.4%,#ffff0b 53.1%,#fffd01 53.5%,#ffad00 57.1%,#ff8700 59.3%,#ff6200 61.9%,#ff4b00 64.1%,#ff2100 71%,#ff1100 75.7%,#ff0400 84.9%,#ff0900 99.8%)"></i><i style="top:356px;height:2px;background:linear-gradient(90deg,#1d0000 0.2%,#370000 6%,#540000 9.7%,#9c0000 16.2%,#db0000 20.6%,#ff0200 22.8%,#ff2f00 25%,#ff5c00 26.8%,#ff9800 29%,#fff900 32.3%,#ffff07 32.7%,#ffff19 33%,#ffff54 34.1%,#ffff97 35.2%,#ffffe3 36.7%,#fffffd 37.4%,#ffffff 37.8%,#ffffff 46.5%,#fffffb 46.9%,#ffffd8 48%,#ffff71 50.2%,#ffff32 51.6%,#fffc00 53.1%,#ffb400 56.4%,#ff9100 58.2%,#ff6500 61.1%,#ff5200 62.6%,#ff3b00 65.5%,#ff1b00 71%,#ff0e00 74.6%,#ff0100 82.3%,#ff0300 99.8%)"></i><i style="top:358px;height:2px;background:linear-gradient(90deg,#1d0000 0.2%,#320000 5.3%,#3c0000 7.1%,#4f0000 9.3%,#740000 13%,#9a0000 16.2%,#de0000 21%,#ff0000 22.8%,#ff5100 26.5%,#ffa200 29.4%,#fffc00 32.3%,#ffff0d 32.7%,#ffff30 33.4%,#ffff6f 34.5%,#ffff9f 35.2%,#ffffc6 35.9%,#ffffda 36.3%,#fffff9 37%,#ffffff 37.4%,#ffffff 46.2%,#fffff9 46.5%,#ffffe3 47.3%,#ffffa4 48.7%,#ffff4e 50.5%,#ffff07 52.4%,#fffc00 52.7%,#ffaa00 56.4%,#ff8a00 58.2%,#ff5900 61.5%,#ff4500 63.3%,#ff3600 65.5%,#ff1600 71%,#ff0900 75%,#fd0000 80.8%,#f60000 87%,#fb0000 99.8%)"></i><i style="top:360px;height:2px;background:linear-gradient(90deg,#1d0000 0.2%,#250000 2.7%,#3a0000 6.8%,#5c0000 10.8%,#9c0000 16.6%,#e20000 21.4%,#fd0000 22.8%,#ff1d00 24.3%,#ff6e00 27.6%,#fffe00 32.3%,#ffff11 32.7%,#ffff4c 33.8%,#ffffd2 35.9%,#fffff1 36.7%,#fffffd 37%,#ffffff 45.8%,#fffff9 46.2%,#ffffe3 46.9%,#ffffb4 48%,#ffff4c 50.2%,#ffff03 52%,#fff900 52.4%,#ffb700 55.3%,#ff9b00 56.8%,#ff7600 58.9%,#ff5600 61.1%,#ff4500 62.6%,#ff1600 69.9%,#ff0900 73.2%,#fd0000 77.9%,#f00000 86.3%,#f60000 99.8%)"></i><i style="top:362px;height:2px;background:linear-gradient(90deg,#1d0000 0.2%,#220000 2%,#3c0000 7.1%,#5f0000 11.1%,#960000 16.2%,#d50000 20.6%,#fc0000 22.8%,#ff1500 23.9%,#ff5c00 26.8%,#ffa500 29.4%,#fff500 31.9%,#ffff05 32.3%,#ffff40 33.4%,#ffffb2 35.2%,#ffffda 35.9%,#fffff7 36.7%,#ffffff 37%,#ffffff 45.4%,#fffff9 45.8%,#ffffe3 46.5%,#ffffc4 47.3%,#ffff5a 49.5%,#ffff2a 50.5%,#ffff03 51.6%,#fff600 52%,#ffa000 56%,#ff7300 58.6%,#ff5400 60.8%,#ff4300 62.2%,#ff1100 69.9%,#ff0600 72.4%,#fd0000 75.7%,#ee0000 83.8%,#f00000 99.8%)"></i><i style="top:364px;height:2px;background:linear-gradient(90deg,#1e0000 0.2%,#250000 2.4%,#370000 6%,#470000 8.6%,#570000 10.4%,#960000 16.2%,#cf0000 20.3%,#e70000 21.7%,#fd0000 22.8%,#ff2700 24.6%,#ff5d00 26.8%,#ffa800 29.4%,#fffa00 31.9%,#ffff0d 32.3%,#ffff61 33.8%,#ffffd2 35.6%,#fffff1 36.3%,#fffffd 36.7%,#ffffff 45.1%,#ffffef 45.8%,#ffffd4 46.5%,#ffff48 49.5%,#ffff1b 50.5%,#fffd01 51.3%,#ff9d00 55.7%,#ff7100 58.2%,#ff5100 60.4%,#ff4000 61.9%,#ff1100 68.8%,#ff0400 71.7%,#ff0000 73.5%,#e80000 83.8%,#eb0000 99.8%)"></i><i style="top:366px;height:2px;background:linear-gradient(90deg,#210000 0.2%,#2d0000 3.8%,#3c0000 6.8%,#570000 10.4%,#9b0000 16.6%,#ca0000 19.9%,#e20000 21.4%,#ff0000 22.8%,#ff3a00 25.4%,#ff6900 27.2%,#ffb600 29.7%,#fff300 31.6%,#ffff01 31.9%,#ffff15 32.3%,#ffffc8 35.2%,#fffff9 36.3%,#ffffff 36.7%,#ffffff 44.7%,#ffffef 45.4%,#ffffd4 46.2%,#ffff46 49.1%,#ffff17 50.2%,#fffc00 50.9%,#ff9b00 55.3%,#ff6e00 57.8%,#ff5200 59.7%,#ff3d00 61.5%,#ff2e00 63.3%,#ff0900 69.2%,#fd0000 72.1%,#e60000 82.3%,#e30000 99.8%)"></i><i style="top:368px;height:2px;background:linear-gradient(90deg,#240000 0.2%,#2d0000 3.5%,#3a0000 6%,#4c0000 8.9%,#5f0000 11.1%,#a50000 17.3%,#dd0000 21%,#ff0100 22.8%,#ff2a00 24.6%,#ff6100 26.8%,#ff9700 28.6%,#fff800 31.6%,#ffff09 31.9%,#ffffc0 34.9%,#ffffe5 35.6%,#fffffd 36.3%,#ffffff 44.3%,#ffffef 45.1%,#ffffd4 45.8%,#ffff34 49.1%,#ffff07 50.2%,#fffc00 50.5%,#ffd700 52%,#ff9800 54.9%,#ff7100 57.1%,#ff4b00 59.7%,#ff3000 62.2%,#ff0900 68.1%,#fd0000 70.6%,#e10000 82.7%,#de0000 99.8%)"></i><i style="top:370px;height:2px;background:linear-gradient(90deg,#260000 0.2%,#2f0000 3.8%,#4b0000 8.6%,#5f0000 11.1%,#980000 16.2%,#d20000 20.3%,#ff0200 22.8%,#ff3400 25%,#ff6400 26.8%,#ffa500 29%,#fffd00 31.6%,#ffff11 31.9%,#ffffb6 34.5%,#ffffde 35.2%,#fffff9 35.9%,#ffffff 36.3%,#ffffff 44%,#ffffef 44.7%,#ffffd4 45.4%,#ffff65 47.6%,#ffff32 48.7%,#ffff05 49.8%,#fff900 50.2%,#ffcc00 52%,#ff9500 54.6%,#ff5100 58.6%,#ff3000 61.5%,#ff2100 63.3%,#ff0900 67%,#fd0000 69.5%,#de0000 80.8%,#d90000 99.8%)"></i><i style="top:372px;height:2px;background:linear-gradient(90deg,#2a0000 0.2%,#2f0000 3.5%,#470000 7.8%,#5c0000 10.8%,#7e0000 14.1%,#9e0000 16.6%,#cd0000 19.9%,#ff0200 22.8%,#ff3f00 25.4%,#ff8600 27.9%,#ffcc00 30.1%,#fff500 31.2%,#ffff05 31.6%,#ffffc2 34.5%,#ffffd6 34.9%,#fffff5 35.6%,#ffffff 35.9%,#ffffff 43.6%,#ffffef 44.3%,#ffffd4 45.1%,#ffff30 48.4%,#ffff03 49.5%,#fff600 49.8%,#ffca00 51.6%,#ff8b00 54.6%,#ff5e00 57.1%,#ff4900 58.6%,#ff3000 60.8%,#ff1a00 63.3%,#ff0900 65.9%,#fd0000 68.1%,#e10000 77.2%,#d90000 81.2%,#d30000 99.8%)"></i><i style="top:374px;height:2px;background:linear-gradient(90deg,#2b0000 0.2%,#370000 4.9%,#510000 9.3%,#660000 11.9%,#a30000 17%,#da0000 20.6%,#fc0000 22.4%,#ff1d00 23.9%,#ff5400 26.1%,#ff8800 27.9%,#ffc300 29.7%,#fffa00 31.2%,#ffff0d 31.6%,#ffffa2 33.8%,#ffffce 34.5%,#ffffdf 34.9%,#fffffb 35.6%,#ffffff 35.9%,#ffffff 43.2%,#fffffb 43.6%,#ffffe3 44.3%,#ffffd4 44.7%,#ffff2e 48%,#fffd01 49.1%,#ffc700 51.3%,#ff8800 54.2%,#ff6100 56.4%,#ff4100 58.6%,#ff2200 61.5%,#ff0100 66.2%,#d60000 79.4%,#cd0000 99.8%)"></i><i style="top:376px;height:2px;background:linear-gradient(90deg,#2e0000 0.2%,#350000 3.8%,#3c0000 5.7%,#660000 11.9%,#7e0000 14.1%,#a80000 17.3%,#d50000 20.3%,#fc0000 22.4%,#ff1500 23.5%,#ff6000 26.5%,#ffae00 29%,#fff000 30.8%,#ffff01 31.2%,#ffff17 31.6%,#ffff97 33.4%,#ffffda 34.5%,#ffffe9 34.9%,#ffffff 35.6%,#ffffff 42.9%,#fffffb 43.2%,#ffffe3 44%,#ffffd4 44.3%,#ffff2c 47.6%,#ffff0d 48.4%,#fffc01 48.7%,#ffbd00 51.3%,#ff7e00 54.2%,#ff5200 56.8%,#ff3a00 58.6%,#ff1e00 61.1%,#ff0100 65.1%,#d30000 77.9%,#c90000 90.7%,#c60000 99.8%)"></i><i style="top:378px;height:2px;background:linear-gradient(90deg,#310000 0.2%,#350000 3.1%,#3c0000 5.3%,#640000 11.5%,#900000 15.5%,#cf0000 19.9%,#ff0000 22.4%,#ff1f00 23.9%,#ff7700 27.2%,#ffbe00 29.4%,#fff500 30.8%,#ffff09 31.2%,#ffffbc 33.8%,#ffffe1 34.5%,#fffffd 35.2%,#ffffff 42.5%,#fffffb 42.9%,#ffffe3 43.6%,#ffffd4 44%,#ffff2a 47.3%,#ffff0b 48%,#fffc00 48.4%,#ffba00 50.9%,#ff7b00 53.8%,#ff4f00 56.4%,#ff1d00 60.4%,#ff0100 64.1%,#ce0000 77.9%,#c10000 92.9%,#c10000 99.8%)"></i><i style="top:380px;height:2px;background:linear-gradient(90deg,#320000 0.2%,#3a0000 4.2%,#440000 6.8%,#6e0000 12.6%,#8b0000 15.1%,#ca0000 19.5%,#e20000 21%,#ff0000 22.4%,#ff1700 23.5%,#ff6e00 26.8%,#ffb500 29%,#fffa00 30.8%,#ffff11 31.2%,#ffff7d 32.7%,#ffffc8 33.8%,#ffffed 34.5%,#fffff9 34.9%,#ffffff 35.2%,#ffffff 42.2%,#fffffb 42.5%,#ffffe3 43.2%,#ffffd4 43.6%,#ffff4c 46.2%,#ffff17 47.3%,#ffff07 47.6%,#fff900 48%,#ffd200 49.5%,#ff9500 52%,#ff5600 55.3%,#ff1f00 59.3%,#ff0100 63%,#e30000 69.5%,#cc0000 76.5%,#bc0000 91.1%,#bc0000 99.8%)"></i><i style="top:382px;height:2px;background:linear-gradient(90deg,#350000 0.2%,#420000 6%,#6e0000 12.6%,#8b0000 15.1%,#ca0000 19.5%,#ff0000 22.4%,#ff4700 25.4%,#ff7b00 27.2%,#ff9f00 28.3%,#fff000 30.5%,#ffff01 30.8%,#ffff1b 31.2%,#ffffa4 33%,#ffffbc 33.4%,#ffffe5 34.1%,#fffff5 34.5%,#ffffff 34.9%,#ffffff 41.8%,#fffffb 42.2%,#ffffe3 42.9%,#ffffd4 43.2%,#ffff38 46.2%,#ffff15 46.9%,#ffff05 47.3%,#fff600 47.6%,#ff9b00 51.3%,#ff5900 54.6%,#ff4700 55.7%,#ff1f00 58.6%,#ff1000 60%,#ff0300 61.9%,#d90000 70.6%,#c60000 76.1%,#b70000 89.2%,#b70000 99.8%)"></i><i style="top:384px;height:2px;background:linear-gradient(90deg,#350000 0.2%,#420000 5.7%,#4f0000 8.2%,#6c0000 12.2%,#860000 14.8%,#c50000 19.2%,#ff0200 22.4%,#ff2200 23.9%,#ff6700 26.5%,#ffae00 28.6%,#fff500 30.5%,#ffff09 30.8%,#ffffb0 33%,#ffffde 33.8%,#fffffb 34.5%,#ffffff 34.9%,#ffffff 41.4%,#fffffd 41.8%,#ffffd4 42.9%,#ffff9b 44%,#ffff48 45.4%,#ffff13 46.5%,#fffd03 46.9%,#fff500 47.3%,#ffa000 50.5%,#ff6900 53.1%,#ff4f00 54.6%,#ff2700 57.1%,#ff1a00 58.2%,#ff0800 60%,#ff0100 61.1%,#e30000 66.6%,#c40000 74.6%,#b10000 87.4%,#af0000 99.8%)"></i><i style="top:386px;height:2px;background:linear-gradient(90deg,#350000 0.2%,#4a0000 7.1%,#590000 9.7%,#760000 13.3%,#860000 14.8%,#c00000 18.8%,#ff0200 22.4%,#ff1a00 23.5%,#ff5e00 26.1%,#ffb100 28.6%,#fffa00 30.5%,#ffff13 30.8%,#ffffa4 32.7%,#ffffbe 33%,#ffffe7 33.8%,#ffffff 34.5%,#ffffff 41.1%,#fffffd 41.4%,#ffffd4 42.5%,#ffff21 45.8%,#fffc01 46.5%,#ffa500 49.8%,#ff8300 51.3%,#ff5e00 53.1%,#ff1d00 57.1%,#ff0900 58.9%,#ff0100 60%,#d10000 69.2%,#be0000 74.3%,#a90000 88.9%,#a90000 99.8%)"></i><i style="top:388px;height:2px;background:linear-gradient(90deg,#370000 0.2%,#370000 1.3%,#4c0000 7.5%,#740000 13%,#860000 14.8%,#9f0000 16.6%,#c00000 18.8%,#ff0200 22.4%,#ff3700 24.6%,#ff6b00 26.5%,#ffc200 29%,#fff000 30.1%,#ffff01 30.5%,#ffff1d 30.8%,#ffff95 32.3%,#ffffca 33%,#fffff1 33.8%,#fffffd 34.1%,#ffffff 40.7%,#fffffd 41.1%,#ffffe3 41.8%,#ffffac 42.9%,#ffff58 44.3%,#ffff1d 45.4%,#fffc00 46.2%,#ffc700 48%,#ff9000 50.2%,#ff6100 52.4%,#ff2700 55.7%,#ff1700 56.8%,#ff0100 58.9%,#c80000 69.5%,#b70000 75%,#a40000 86.7%,#a40000 99.8%)"></i><i style="top:390px;height:2px;background:linear-gradient(90deg,#370000 0.2%,#3a0000 2%,#4c0000 7.1%,#710000 12.6%,#8e0000 15.5%,#a30000 17%,#ff0200 22.4%,#ff2500 23.9%,#ff7900 26.8%,#ffc600 29%,#ffe300 29.7%,#fff500 30.1%,#ffff0b 30.5%,#ffff85 31.9%,#ffffbe 32.7%,#ffffe9 33.4%,#fffff9 33.8%,#ffffff 34.1%,#ffffff 40.3%,#fffffd 40.7%,#ffffe3 41.4%,#ffffc0 42.2%,#ffff2c 44.7%,#ffff09 45.4%,#fff900 45.8%,#ffba00 48%,#ff8c00 49.8%,#ff6400 51.6%,#ff2700 54.9%,#ff0d00 56.8%,#ff0300 57.8%,#ca0000 67.3%,#b40000 73.2%,#9f0000 84.9%,#9f0000 99.8%)"></i><i style="top:392px;height:2px;background:linear-gradient(90deg,#370000 0.2%,#3a0000 2%,#540000 8.6%,#7e0000 14.1%,#8e0000 15.5%,#a80000 17.3%,#ff0200 22.4%,#ff2f00 24.3%,#ff6400 26.1%,#ffbb00 28.6%,#ffe800 29.7%,#fffa00 30.1%,#ffff15 30.5%,#ffffb0 32.3%,#ffffdf 33%,#ffffff 33.8%,#ffffff 40%,#fffffb 40.3%,#ffffe1 41.1%,#ffffaa 42.2%,#ffff28 44.3%,#ffff05 45.1%,#fff500 45.4%,#ffb600 47.6%,#ff7f00 49.8%,#ff5000 52%,#ff1b00 54.9%,#ff0100 57.1%,#eb0000 60%,#be0000 68.1%,#b10000 71.7%,#9a0000 83%,#980000 99.8%)"></i><i style="top:394px;height:2px;background:linear-gradient(90deg,#370000 0.2%,#370000 0.9%,#540000 8.2%,#610000 10.4%,#7e0000 14.1%,#8e0000 15.5%,#b30000 18.1%,#ff0200 22.4%,#ff3a00 24.6%,#ff7100 26.5%,#ffb100 28.3%,#ffce00 29%,#fff000 29.7%,#ffff03 30.1%,#ffff21 30.5%,#ffffa0 31.9%,#ffffbc 32.3%,#ffffd6 32.7%,#fffff9 33.4%,#ffffff 33.8%,#ffffff 39.6%,#fffffb 40%,#ffffef 40.3%,#ffffd0 41.1%,#ffff93 42.2%,#ffff11 44.3%,#fffd03 44.7%,#fff300 45.1%,#ffc600 46.5%,#ff7a00 49.5%,#ff3400 52.7%,#ff1a00 54.2%,#ff0300 56%,#c00000 66.2%,#ac0000 71%,#940000 81.9%,#920000 99.8%)"></i><i style="top:396px;height:2px;background:linear-gradient(90deg,#370000 0.2%,#440000 4.2%,#590000 8.9%,#7b0000 13.7%,#a00000 17%,#ff0200 22.4%,#ff1d00 23.5%,#ff7300 26.5%,#ffb600 28.3%,#fff600 29.7%,#ffff11 30.1%,#ffff4e 30.8%,#ffff71 31.2%,#ffffb0 31.9%,#ffffe1 32.7%,#ffffff 33.4%,#ffffff 39.2%,#fffff9 39.6%,#ffffed 40%,#ffffce 40.7%,#ffff21 43.6%,#ffff0d 44%,#fffa00 44.3%,#ff9900 47.6%,#ff5c00 50.2%,#ff1a00 53.5%,#ff0500 54.9%,#fd0000 55.7%,#f00000 57.1%,#c00000 64.8%,#b40000 67%,#a20000 72.4%,#8f0000 80.8%,#8d0000 99.8%)"></i><i style="top:398px;height:2px;background:linear-gradient(90deg,#3a0000 0.2%,#440000 3.8%,#590000 8.6%,#6c0000 11.5%,#860000 14.8%,#900000 15.9%,#ab0000 17.7%,#ff0200 22.4%,#ff1200 23.2%,#ff6900 26.1%,#ffac00 27.9%,#ffef00 29.4%,#ffff03 29.7%,#ffff21 30.1%,#ffffa0 31.6%,#ffffbc 31.9%,#ffffd6 32.3%,#fffff9 33%,#ffffff 33.4%,#ffffff 38.9%,#ffffeb 39.6%,#ffffca 40.3%,#ffffa0 41.1%,#ffff2e 42.9%,#ffff05 43.6%,#fff600 44%,#ffb200 46.2%,#ff8a00 47.6%,#ff5d00 49.5%,#ff1a00 52.7%,#ff0100 54.6%,#d90000 59.7%,#b40000 65.5%,#a70000 68.4%,#970000 73.9%,#8d0000 78.6%,#870000 84.5%,#870000 99.8%)"></i><i style="top:400px;height:2px;background:linear-gradient(90deg,#3e0000 0.2%,#4a0000 4.6%,#610000 9.7%,#860000 14.8%,#900000 15.9%,#a90000 17.7%,#e20000 21%,#ff0000 22.4%,#ff1200 23.2%,#ff5e00 25.7%,#ffb100 27.9%,#fff600 29.4%,#ffff13 29.7%,#ffff93 31.2%,#ffffcc 31.9%,#fffff3 32.7%,#ffffff 33%,#ffffff 38.5%,#fffff7 38.9%,#ffffe9 39.2%,#ffffda 39.6%,#ffffb2 40.3%,#ffff13 42.9%,#fffc03 43.2%,#fff100 43.6%,#ffb600 45.4%,#ff6700 48.4%,#ff2100 51.6%,#ff0e00 52.7%,#fe0100 53.8%,#c00000 62.2%,#ab0000 65.9%,#8d0000 75.4%,#820000 84.1%,#820000 99.8%)"></i><i style="top:402px;height:2px;background:linear-gradient(90deg,#420000 0.2%,#430000 2%,#4f0000 5.3%,#6c0000 11.1%,#810000 14.1%,#900000 15.9%,#ad0000 18.1%,#e70000 21.4%,#ff0000 22.4%,#ff2f00 24.3%,#ff6000 25.7%,#ff9700 27.2%,#ffb600 27.9%,#ffec00 29%,#ffff03 29.4%,#ffff22 29.7%,#ffff85 30.8%,#ffffc0 31.6%,#ffffeb 32.3%,#fffff9 32.7%,#ffffff 33%,#ffffff 37.8%,#fffffd 38.1%,#fffff3 38.5%,#ffffe7 38.9%,#ffffd6 39.2%,#ffffae 40%,#ffff4e 41.4%,#ffff0b 42.5%,#fff900 42.9%,#ffbb00 44.7%,#ff7c00 46.9%,#ff5800 48.4%,#ff2100 50.9%,#ff0800 52.4%,#fe0100 53.1%,#e40000 56%,#b30000 63%,#a70000 65.1%,#8a0000 73.9%,#7d0000 83.4%,#7b0000 99.8%)"></i><i style="top:404px;height:2px;background:linear-gradient(90deg,#460000 0.2%,#4f0000 4.9%,#6c0000 10.8%,#8e0000 15.5%,#980000 16.6%,#b80000 18.8%,#d70000 20.6%,#fc0000 22.4%,#ff1000 23.2%,#ff2f00 24.3%,#ff6e00 26.1%,#ffbd00 27.9%,#fff600 29%,#ffff13 29.4%,#ffff97 30.8%,#ffffb4 31.2%,#ffffce 31.6%,#fffff5 32.3%,#ffffff 32.7%,#ffffff 37.4%,#fffffd 37.8%,#fffff3 38.1%,#ffffd2 38.9%,#ffffa8 39.6%,#fffd05 42.2%,#fff400 42.5%,#ff9f00 45.1%,#ff6200 47.3%,#ff2100 50.2%,#ff0d00 51.3%,#fd0000 52.4%,#da0000 56.4%,#ab0000 63%,#9a0000 66.6%,#8d0000 70.6%,#7f0000 75.7%,#780000 81.9%,#750000 99.8%)"></i><i style="top:406px;height:2px;background:linear-gradient(90deg,#480000 0.2%,#4b0000 2.7%,#540000 5.7%,#740000 11.9%,#8e0000 15.5%,#b00000 18.4%,#e30000 21.4%,#fb0000 22.4%,#ff0500 22.8%,#ff1700 23.5%,#ff3a00 24.6%,#ff6100 25.7%,#ff9f00 27.2%,#fffd01 29%,#ffff22 29.4%,#ffff89 30.5%,#ffffc4 31.2%,#ffffdc 31.6%,#fffffd 32.3%,#ffffff 37%,#fffffd 37.4%,#ffffe1 38.1%,#ffffd0 38.5%,#ffffa4 39.2%,#ffff71 40%,#ffff13 41.4%,#fffb01 41.8%,#ffef00 42.2%,#ffd300 42.9%,#ff9800 44.7%,#ff4000 48%,#ff0d00 50.5%,#fc0000 51.6%,#d50000 56%,#ab0000 61.5%,#9a0000 64.8%,#820000 71.7%,#720000 80.8%,#700000 99.8%)"></i><i style="top:408px;height:2px;background:linear-gradient(90deg,#4b0000 0.2%,#500000 3.8%,#590000 6.4%,#740000 11.5%,#8d0000 15.1%,#a00000 17.3%,#ba0000 19.2%,#da0000 21%,#ff0200 22.8%,#ff2c00 24.3%,#ff7100 26.1%,#ffb500 27.6%,#fff300 28.6%,#ffff0f 29%,#ffff79 30.1%,#ffffb8 30.8%,#ffffd2 31.2%,#fffff5 31.9%,#ffffff 32.3%,#ffffff 36.7%,#fffffb 37%,#ffffef 37.4%,#ffffce 38.1%,#ffffa0 38.9%,#ffff52 40%,#ffff0b 41.1%,#fff600 41.4%,#ffda00 42.2%,#ffa800 43.6%,#ff5d00 46.2%,#ff2100 48.7%,#ff0d00 49.8%,#fc0000 50.9%,#e20000 53.5%,#a90000 60.4%,#970000 63.7%,#7f0000 70.3%,#6d0000 79.4%,#680000 99.8%)"></i><i style="top:410px;height:2px;background:linear-gradient(90deg,#4e0000 0.2%,#5c0000 6.8%,#7b0000 12.6%,#960000 16.2%,#ad0000 18.4%,#df0000 21.4%,#ff0000 22.8%,#ff1f00 23.9%,#ff5400 25.4%,#ff8300 26.5%,#ffb900 27.6%,#fffa00 28.6%,#ffff1f 29%,#ffff89 30.1%,#ffffc8 30.8%,#fffff1 31.6%,#fffffd 31.9%,#ffffff 36.3%,#fffffb 36.7%,#ffffde 37.4%,#ffffca 37.8%,#ffff81 38.9%,#ffff19 40.3%,#fffc05 40.7%,#fff100 41.1%,#ffad00 42.9%,#ff7300 44.7%,#ff5500 45.8%,#ff1900 48.4%,#fe0100 49.8%,#b80000 57.1%,#9b0000 61.1%,#760000 70.6%,#6a0000 75.7%,#650000 81.2%,#630000 99.8%)"></i><i style="top:412px;height:2px;background:linear-gradient(90deg,#4f0000 0.2%,#580000 4.9%,#610000 7.5%,#900000 15.5%,#a80000 18.1%,#bd0000 19.5%,#cf0000 20.6%,#fc0000 22.8%,#ff0800 23.2%,#ff2a00 24.3%,#ff4400 25%,#ff7300 26.1%,#ffa900 27.2%,#ffeb00 28.3%,#ffff07 28.6%,#ffff9d 30.1%,#ffffd4 30.8%,#ffffe9 31.2%,#fffff9 31.6%,#ffffff 31.9%,#ffffff 35.9%,#ffffeb 36.7%,#ffffc6 37.4%,#ffff95 38.1%,#ffff11 40%,#fff900 40.3%,#ffcc00 41.4%,#ffa500 42.5%,#ff5600 45.1%,#ff1900 47.6%,#fe0100 49.1%,#c80000 54.2%,#ad0000 57.1%,#980000 60%,#710000 69.5%,#640000 75%,#600000 79%,#5b0000 99.8%)"></i><i style="top:414px;height:2px;background:linear-gradient(90deg,#500000 0.2%,#640000 7.8%,#830000 13.3%,#a00000 17.3%,#b10000 18.8%,#c80000 20.3%,#e20000 21.7%,#fb0000 22.8%,#ff0500 23.2%,#ff2700 24.3%,#ff7300 26.1%,#ffc300 27.6%,#fff300 28.3%,#ffff15 28.6%,#ffffac 30.1%,#ffffe1 30.8%,#ffffff 31.6%,#ffffff 35.6%,#fffff7 35.9%,#ffffd6 36.7%,#ffff8f 37.8%,#ffff07 39.6%,#fff400 40%,#ffb700 41.4%,#ff7900 43.2%,#ff2800 46.2%,#ff0a00 47.6%,#fc0100 48.4%,#c80000 53.1%,#a50000 56.8%,#930000 59.3%,#690000 69.2%,#5b0000 76.8%,#550000 99.8%)"></i><i style="top:416px;height:2px;background:linear-gradient(90deg,#510000 0.2%,#510000 1.3%,#640000 7.5%,#6e0000 9.7%,#980000 16.2%,#a80000 18.1%,#c00000 19.9%,#e70000 22.1%,#ff0200 23.2%,#ff1900 23.9%,#ff5100 25.4%,#ff7500 26.1%,#ffb100 27.2%,#fffa00 28.3%,#ffff22 28.6%,#ffff75 29.4%,#ffffba 30.1%,#ffffd6 30.5%,#ffffeb 30.8%,#fffffb 31.2%,#ffffff 31.6%,#ffffff 34.9%,#fffffd 35.2%,#ffffe5 35.9%,#ffffa4 37%,#ffff19 38.9%,#fffb03 39.2%,#ffec00 39.6%,#ffb000 41.1%,#ff8800 42.2%,#ff5a00 43.6%,#ff2800 45.4%,#ff0900 46.9%,#fc0000 47.6%,#ec0000 48.7%,#c80000 52%,#a00000 56%,#960000 57.5%,#7b0000 62.2%,#5f0000 69.5%,#550000 75%,#4e0000 99.8%)"></i><i style="top:418px;height:2px;background:linear-gradient(90deg,#510000 0.2%,#5c0000 4.6%,#6c0000 8.9%,#860000 13.3%,#a50000 17.7%,#b00000 18.8%,#c50000 20.3%,#df0000 21.7%,#ff0100 23.2%,#ff3200 24.6%,#ff5100 25.4%,#ff9f00 26.8%,#ffe800 27.9%,#ffff07 28.3%,#ffff85 29.4%,#ffffa8 29.7%,#ffffc8 30.1%,#ffffe1 30.5%,#fffff5 30.8%,#ffffff 31.2%,#ffffff 34.5%,#fffffd 34.9%,#fffff1 35.2%,#ffffce 35.9%,#ffff9d 36.7%,#ffff0d 38.5%,#fff500 38.9%,#ffa800 40.7%,#ff5c00 42.9%,#ff3200 44.3%,#ff1700 45.4%,#ff0300 46.5%,#fb0000 46.9%,#dd0000 49.1%,#9b0000 55.3%,#7b0000 60.4%,#5b0000 68.1%,#500000 74.3%,#480000 99.8%)"></i><i style="top:420px;height:2px;background:linear-gradient(90deg,#530000 0.2%,#6c0000 8.6%,#790000 11.1%,#a40000 17.3%,#b50000 19.2%,#ca0000 20.6%,#ff0100 23.2%,#ff0a00 23.5%,#ff3200 24.6%,#ff5200 25.4%,#ff8c00 26.5%,#ffbb00 27.2%,#fff000 27.9%,#ffff13 28.3%,#ffff93 29.4%,#ffffb6 29.7%,#ffffd4 30.1%,#fffffd 30.8%,#ffffff 34.1%,#fffffb 34.5%,#ffffed 34.9%,#ffffc8 35.6%,#ffff77 36.7%,#ffff1d 37.8%,#fffc05 38.1%,#ffed00 38.5%,#ffbb00 39.6%,#ff9000 40.7%,#ff4700 42.9%,#ff0e00 45.1%,#f90000 46.2%,#c50000 50.2%,#9e0000 53.8%,#8f0000 55.7%,#6a0000 62.2%,#550000 67.3%,#4b0000 77.2%,#430000 99.8%)"></i><i style="top:422px;height:2px;background:linear-gradient(90deg,#580000 0.2%,#5f0000 4.2%,#710000 9.3%,#830000 12.6%,#a00000 16.6%,#b30000 18.8%,#c60000 20.3%,#e70000 22.1%,#ff0200 23.2%,#ff2500 24.3%,#ff6700 25.7%,#ff9100 26.5%,#ffc100 27.2%,#fff900 27.9%,#ffff22 28.3%,#ffff79 29%,#ffffa0 29.4%,#ffffc2 29.7%,#ffffde 30.1%,#fffff1 30.5%,#ffffff 30.8%,#ffffff 33.8%,#fffff5 34.1%,#ffffe5 34.5%,#ffffbe 35.2%,#ffff87 35.9%,#ffff0f 37.4%,#fff600 37.8%,#ffd300 38.5%,#ff9400 40%,#ff5400 41.8%,#ff0e00 44.3%,#f90000 45.4%,#c20000 49.5%,#a50000 52%,#920000 54.2%,#700000 59.7%,#550000 65.9%,#4a0000 75%,#3e0000 99.8%)"></i><i style="top:424px;height:2px;background:linear-gradient(90deg,#5d0000 0.2%,#5d0000 2.4%,#630000 4.6%,#7e0000 11.5%,#ab0000 17.7%,#bd0000 19.5%,#cd0000 20.6%,#fb0000 22.8%,#ff0500 23.2%,#ff1a00 23.9%,#ff4500 25%,#ff7f00 26.1%,#ffae00 26.8%,#ffe400 27.6%,#ffff03 27.9%,#ffff32 28.3%,#ffff89 29%,#ffffae 29.4%,#ffffce 29.7%,#fffff9 30.5%,#ffffff 30.8%,#ffffff 33%,#fffffd 33.4%,#ffffe1 34.1%,#ffffb4 34.9%,#ffff5e 35.9%,#ffff1f 36.7%,#fffb05 37%,#ffec00 37.4%,#ffb700 38.5%,#ff8a00 39.6%,#ff4900 41.4%,#ff0e00 43.6%,#fe0300 44.3%,#f80000 44.7%,#c50000 48.4%,#ab0000 50.5%,#960000 52.7%,#750000 57.5%,#580000 63.7%,#4f0000 67.7%,#470000 75.7%,#3b0000 99.8%)"></i><i style="top:426px;height:2px;background:linear-gradient(90deg,#630000 0.2%,#630000 2.4%,#6a0000 6%,#860000 12.6%,#ba0000 19.2%,#d50000 21%,#fc0000 22.8%,#ff1d00 23.9%,#ff4800 25%,#ff8400 26.1%,#ffb400 26.8%,#ffec00 27.6%,#ffff13 27.9%,#ffff6d 28.6%,#ffffba 29.4%,#ffffd8 29.7%,#ffffed 30.1%,#fffffd 30.5%,#ffffff 32.7%,#fffffb 33%,#ffffda 33.8%,#ffffc4 34.1%,#ffff8d 34.9%,#ffff0f 36.3%,#fff400 36.7%,#ff9c00 38.5%,#ff6400 40%,#ff3f00 41.1%,#ff0600 43.2%,#f80000 44%,#e10000 45.4%,#b50000 48.7%,#900000 52.4%,#720000 56.8%,#5b0000 61.9%,#4f0000 67%,#470000 73.5%,#3b0000 88.5%,#370000 99.8%)"></i><i style="top:428px;height:2px;background:linear-gradient(90deg,#680000 0.2%,#700000 6.8%,#7e0000 10.8%,#8d0000 13.3%,#a80000 17%,#c50000 19.9%,#dd0000 21.4%,#ff0000 22.8%,#ff1f00 23.9%,#ff4b00 25%,#ff8700 26.1%,#ffba00 26.8%,#fff500 27.6%,#ffff1f 27.9%,#ffff7b 28.6%,#ffffa2 29%,#ffffc6 29.4%,#ffffe1 29.7%,#fffff5 30.1%,#ffffff 30.5%,#ffffff 32.3%,#fffff5 32.7%,#ffffd2 33.4%,#ffff9f 34.1%,#ffff1f 35.6%,#fffb05 35.9%,#ffe900 36.3%,#ffc300 37%,#ff9100 38.1%,#ff4c00 40%,#ff1700 41.8%,#fc0100 42.9%,#ca0000 46.2%,#9b0000 50.2%,#700000 56%,#5b0000 60.8%,#4c0000 67.3%,#3e0000 80.1%,#360000 91.1%,#350000 99.8%)"></i><i style="top:430px;height:2px;background:linear-gradient(90deg,#6d0000 0.2%,#720000 6%,#890000 12.6%,#a50000 16.6%,#bd0000 19.2%,#ca0000 20.3%,#dd0000 21.4%,#ff0000 22.8%,#ff1500 23.5%,#ff3c00 24.6%,#ff6000 25.4%,#ffa400 26.5%,#fffd00 27.6%,#ffff2c 27.9%,#ffff5e 28.3%,#ffff89 28.6%,#ffffd0 29.4%,#ffffe9 29.7%,#fffff9 30.1%,#ffffff 30.5%,#ffffff 31.6%,#fffffd 31.9%,#fffff1 32.3%,#ffffe1 32.7%,#ffffcc 33%,#ffff93 33.8%,#ffff0d 35.2%,#fff100 35.6%,#ffa500 37%,#ff6700 38.5%,#ff2b00 40.3%,#ff0e00 41.4%,#fc0100 42.2%,#c80000 45.4%,#9b0000 49.1%,#6d0000 55.3%,#580000 60.4%,#4b0000 66.2%,#390000 81.2%,#310000 99.8%)"></i><i style="top:432px;height:2px;background:linear-gradient(90deg,#720000 0.2%,#7a0000 7.8%,#8e0000 13.3%,#a50000 16.6%,#c20000 19.5%,#dd0000 21.4%,#ff0000 22.8%,#ff2200 23.9%,#ff4f00 25%,#ff8f00 26.1%,#ffe400 27.2%,#ffff09 27.6%,#ffff69 28.3%,#ffff95 28.6%,#ffffba 29%,#ffffda 29.4%,#fffffd 30.1%,#ffffff 31.2%,#fffffb 31.6%,#ffffed 31.9%,#ffffc4 32.7%,#ffff87 33.4%,#ffff1f 34.5%,#fff903 34.9%,#ffe700 35.2%,#ffbd00 35.9%,#ff8800 37%,#ff4f00 38.5%,#ff1f00 40%,#ff0500 41.1%,#fb0100 41.4%,#e10000 42.9%,#c00000 45.1%,#900000 49.1%,#6e0000 53.8%,#580000 58.9%,#4b0000 64.1%,#390000 76.5%,#310000 85.2%,#2e0000 99.8%)"></i><i style="top:434px;height:2px;background:linear-gradient(90deg,#760000 0.2%,#7f0000 8.2%,#930000 14.1%,#a50000 16.6%,#ca0000 20.3%,#dd0000 21.4%,#ff0000 22.8%,#ff2f00 24.3%,#ff5000 25%,#ff7900 25.7%,#ff9100 26.1%,#ffac00 26.5%,#ffeb00 27.2%,#ffff13 27.6%,#ffff46 27.9%,#ffffa0 28.6%,#ffffc4 29%,#ffffdf 29.4%,#fffff3 29.7%,#ffffff 30.1%,#ffffff 30.8%,#fffff7 31.2%,#ffffe9 31.6%,#ffffd4 31.9%,#ffff9d 32.7%,#ffff58 33.4%,#ffff0d 34.1%,#fff000 34.5%,#ff9d00 35.9%,#ff5d00 37.4%,#ff3600 38.5%,#ff1500 39.6%,#fe0400 40.3%,#f90000 40.7%,#e30000 41.8%,#b70000 44.7%,#860000 49.1%,#650000 54.2%,#530000 58.9%,#3e0000 68.8%,#310000 79%,#2b0000 89.6%,#2b0000 99.8%)"></i><i style="top:436px;height:2px;background:linear-gradient(90deg,#7a0000 0.2%,#850000 8.9%,#980000 14.8%,#a80000 17%,#ca0000 20.3%,#e20000 21.7%,#fc0000 22.8%,#ff2100 23.9%,#ff5000 25%,#ff6400 25.4%,#ff9300 26.1%,#ffce00 26.8%,#fff000 27.2%,#ffff1d 27.6%,#ffff81 28.3%,#ffffaa 28.6%,#ffffce 29%,#ffffe5 29.4%,#fffff5 29.7%,#fffffd 30.1%,#fffffb 30.5%,#fffff3 30.8%,#ffffe5 31.2%,#ffffd0 31.6%,#ffff93 32.3%,#ffff21 33.4%,#fff905 33.8%,#ffe400 34.1%,#ffb700 34.9%,#ff9000 35.6%,#ff5000 37%,#ff1300 38.9%,#fc0300 39.6%,#f70000 40%,#e10000 41.1%,#bc0000 43.2%,#8b0000 47.3%,#790000 49.5%,#690000 52%,#500000 57.8%,#390000 68.4%,#2b0000 78.6%,#290000 99.8%)"></i><i style="top:438px;height:2px;background:linear-gradient(90deg,#7d0000 0.2%,#8a0000 9.7%,#9b0000 15.1%,#ad0000 17.7%,#c50000 19.9%,#d90000 21.4%,#f90000 22.8%,#ff0500 23.2%,#ff1100 23.5%,#ff2c00 24.3%,#ff4f00 25%,#ff7a00 25.7%,#ff9400 26.1%,#ffd200 26.8%,#fff500 27.2%,#ffff28 27.6%,#ffff8b 28.3%,#ffffb2 28.6%,#ffffd2 29%,#ffffe7 29.4%,#fffff3 29.7%,#fffff5 30.1%,#ffffef 30.5%,#ffffc8 31.2%,#ffff89 31.9%,#ffff11 33%,#fff000 33.4%,#ffa900 34.5%,#ff7100 35.6%,#ff3400 37%,#ff1b00 37.8%,#ff0800 38.5%,#fb0100 38.9%,#dd0000 40.3%,#b10000 42.9%,#860000 46.5%,#740000 48.7%,#640000 51.3%,#470000 58.6%,#3a0000 64.1%,#290000 75.4%,#260000 99.8%)"></i><i style="top:440px;height:2px;background:linear-gradient(90deg,#7f0000 0.2%,#8b0000 8.9%,#a00000 15.9%,#b30000 18.4%,#cc0000 20.6%,#e30000 22.1%,#ff0100 23.2%,#ff1900 23.9%,#ff3800 24.6%,#ff6000 25.4%,#ff7900 25.7%,#ffb200 26.5%,#fff900 27.2%,#ffff2e 27.6%,#ffff63 27.9%,#ffff93 28.3%,#ffffba 28.6%,#ffffd8 29%,#ffffe7 29.4%,#ffffed 29.7%,#ffffe7 30.1%,#ffffda 30.5%,#ffffc0 30.8%,#ffff7d 31.6%,#ffff28 32.3%,#fff907 32.7%,#ffe300 33%,#ffb100 33.8%,#ff6100 35.2%,#ff3300 36.3%,#ff1900 37%,#fe0500 37.8%,#f80000 38.1%,#cf0000 40%,#b70000 41.4%,#970000 43.6%,#830000 45.4%,#710000 47.6%,#5c0000 50.9%,#420000 57.5%,#320000 64.1%,#260000 72.1%,#240000 99.8%)"></i><i style="top:442px;height:2px;background:linear-gradient(90deg,#810000 0.2%,#8b0000 8.6%,#980000 13.7%,#a50000 17%,#be0000 19.9%,#de0000 22.1%,#f80000 23.2%,#ff0500 23.5%,#ff1200 23.9%,#ff3200 24.6%,#ff5c00 25.4%,#ff7500 25.7%,#ffb100 26.5%,#fffc00 27.2%,#ffff32 27.6%,#ffff69 27.9%,#ffff99 28.3%,#ffffbc 28.6%,#ffffd6 29%,#ffffe1 29.4%,#ffffdf 29.7%,#ffffd0 30.1%,#ffffb8 30.5%,#ffff99 30.8%,#ffff17 31.9%,#fff100 32.3%,#ffba00 33%,#ff8a00 33.8%,#ff5000 34.9%,#ff2200 35.9%,#ff0900 36.7%,#f30000 37.4%,#c90000 39.2%,#a80000 41.1%,#7f0000 44.3%,#570000 49.8%,#3c0000 56%,#2f0000 61.1%,#240000 68.8%,#210000 99.8%)"></i><i style="top:444px;height:2px;background:linear-gradient(90deg,#830000 0.2%,#830000 3.5%,#8b0000 8.6%,#960000 13%,#a80000 17.7%,#b90000 19.9%,#cc0000 21.4%,#e70000 22.8%,#fc0000 23.5%,#ff0800 23.9%,#ff1700 24.3%,#ff2800 24.6%,#ff5200 25.4%,#ff6b00 25.7%,#ffac00 26.5%,#fff900 27.2%,#ffff32 27.6%,#ffff69 27.9%,#ffff99 28.3%,#ffffba 28.6%,#ffffce 29%,#ffffd2 29.4%,#ffffc6 29.7%,#ffffae 30.1%,#ffff8d 30.5%,#ffff34 31.2%,#fffb0b 31.6%,#ffe300 31.9%,#ffc300 32.3%,#ff8f00 33%,#ff4f00 34.1%,#ff2b00 34.9%,#ff1000 35.6%,#fc0500 35.9%,#f70000 36.3%,#c60000 38.1%,#ab0000 39.6%,#930000 41.1%,#720000 44%,#650000 45.4%,#500000 48.7%,#350000 55.3%,#240000 63.3%,#210000 66.6%,#200000 99.8%)"></i><i style="top:446px;height:2px;background:linear-gradient(90deg,#830000 0.2%,#830000 3.5%,#8d0000 10.4%,#a40000 17.7%,#b00000 19.5%,#c80000 21.7%,#e40000 23.2%,#fb0000 23.9%,#ff0900 24.3%,#ff2e00 25%,#ff6000 25.7%,#ffa200 26.5%,#fff400 27.2%,#ffff2c 27.6%,#ffff63 27.9%,#ffff91 28.3%,#ffffb0 28.6%,#ffffba 29%,#ffffb6 29.4%,#ffffa0 29.7%,#ffff7f 30.1%,#ffff21 30.8%,#fff301 31.2%,#ff9400 32.3%,#ff4c00 33.4%,#ff1600 34.5%,#fe0800 34.9%,#f70100 35.2%,#cd0000 36.7%,#a40000 38.5%,#790000 41.4%,#4e0000 46.5%,#2f0000 53.5%,#240000 59.3%,#200000 63.7%,#1e0000 99.8%)"></i><i style="top:448px;height:2px;background:linear-gradient(90deg,#830000 0.2%,#830000 4.6%,#8a0000 10.8%,#940000 15.1%,#a40000 18.8%,#ad0000 20.3%,#c20000 22.1%,#d60000 23.2%,#f80000 24.3%,#ff0900 24.6%,#ff3300 25.4%,#ff4f00 25.7%,#ff9400 26.5%,#ffe900 27.2%,#ffff1f 27.6%,#ffff56 27.9%,#ffff7f 28.3%,#ffff99 28.6%,#ffff9b 29%,#ffff8b 29.4%,#ffff69 29.7%,#fffc0f 30.5%,#ffe100 30.8%,#ff7c00 31.9%,#ff4700 32.7%,#ff0c00 33.8%,#ec0000 34.5%,#be0000 35.9%,#a40000 37%,#890000 38.5%,#700000 40.3%,#5c0000 42.2%,#4a0000 44.7%,#3b0000 47.3%,#2d0000 50.9%,#210000 57.1%,#1d0000 64.8%,#1d0000 99.8%)"></i><i style="top:450px;height:2px;background:linear-gradient(90deg,#850000 0.2%,#830000 6%,#870000 11.1%,#8d0000 14.4%,#9e0000 19.2%,#ad0000 21.4%,#c60000 23.2%,#d90000 23.9%,#f40000 24.6%,#ff0600 25%,#ff1d00 25.4%,#ff3800 25.7%,#ff8000 26.5%,#ffda00 27.2%,#ffff07 27.6%,#ffff3c 27.9%,#ffff60 28.3%,#ffff6f 28.6%,#ffff69 29%,#ffff4c 29.4%,#ffff21 29.7%,#fff001 30.1%,#ff8000 31.2%,#ff4300 31.9%,#ff1200 32.7%,#f70500 33%,#ec0000 33.4%,#ce0000 34.1%,#b50000 34.9%,#a20000 35.6%,#830000 37%,#630000 39.2%,#430000 42.9%,#2a0000 48.4%,#210000 53.1%,#1d0000 59.7%,#1d0000 99.8%)"></i><i style="top:452px;height:2px;background:linear-gradient(90deg,#860000 0.2%,#860000 12.2%,#8a0000 15.5%,#980000 19.9%,#a50000 21.7%,#b70000 23.2%,#cf0000 24.3%,#ee0000 25%,#fe0500 25.4%,#ff1e00 25.7%,#ff3f00 26.1%,#ff6600 26.5%,#ffbf00 27.2%,#ffe800 27.6%,#ffff0f 27.9%,#ffff28 28.3%,#ffff2e 28.6%,#ffff1b 29%,#fff205 29.4%,#ffd300 29.7%,#ff5e00 30.8%,#ff3c00 31.2%,#ff1e00 31.6%,#f80a00 31.9%,#ec0000 32.3%,#c80000 33%,#a00000 34.1%,#830000 35.2%,#6e0000 36.3%,#550000 38.1%,#470000 39.6%,#360000 42.2%,#2a0000 45.1%,#210000 49.5%,#1d0000 55.7%,#1d0000 99.8%)"></i><i style="top:454px;height:2px;background:linear-gradient(90deg,#890000 0.2%,#860000 14.1%,#8f0000 19.5%,#960000 21%,#a30000 22.8%,#ac0000 23.5%,#c50000 24.6%,#e60000 25.4%,#fa0400 25.7%,#ff1e00 26.1%,#ff4100 26.5%,#ff9500 27.2%,#ffb900 27.6%,#ffd300 27.9%,#ffdf00 28.3%,#ffda00 28.6%,#ffc300 29%,#ffa500 29.4%,#ff3000 30.5%,#fc1100 30.8%,#ee0100 31.2%,#d60000 31.6%,#c10000 31.9%,#9f0000 32.7%,#740000 34.1%,#5f0000 35.2%,#4f0000 36.3%,#3c0000 38.1%,#270000 42.5%,#210000 45.8%,#1d0000 51.6%,#1d0000 99.8%)"></i><i style="top:456px;height:2px;background:linear-gradient(90deg,#8b0000 0.2%,#890000 18.1%,#8f0000 21.4%,#9e0000 23.5%,#a80000 24.3%,#b90000 25%,#c80000 25.4%,#db0000 25.7%,#f40000 26.1%,#ff1200 26.5%,#ff5600 27.2%,#ff7100 27.6%,#ff8300 27.9%,#ff8600 28.3%,#ff7900 28.6%,#ff6000 29%,#ff1b00 29.7%,#ef0800 30.1%,#d60000 30.5%,#bc0000 30.8%,#920000 31.6%,#820000 31.9%,#6a0000 32.7%,#590000 33.4%,#470000 34.5%,#330000 36.7%,#250000 40%,#1d0000 47.6%,#1d0000 99.8%)"></i><i style="top:458px;height:2px;background:linear-gradient(90deg,#8e0000 0.2%,#8a0000 18.1%,#8f0000 22.8%,#980000 24.3%,#a30000 25%,#b80000 25.7%,#ee0100 26.8%,#fc1600 27.6%,#fe1a00 27.9%,#fb1900 28.3%,#e90500 29%,#d20000 29.4%,#9c0000 30.1%,#860000 30.5%,#650000 31.2%,#4f0000 31.9%,#420000 32.7%,#350000 33.8%,#2b0000 34.9%,#220000 37%,#1d0000 42.5%,#1d0000 99.8%)"></i><i style="top:460px;height:2px;background:linear-gradient(90deg,#8e0000 0.2%,#8e0000 23.5%,#930000 25.4%,#9c0000 26.1%,#b10000 27.2%,#b40000 27.6%,#a80000 28.3%,#8b0000 29%,#660000 29.7%,#400000 30.8%,#330000 31.6%,#2b0000 32.3%,#200000 34.1%,#1c0000 35.9%,#190000 40%,#1d0000 50.2%,#1d0000 99.8%)"></i><i style="top:462px;height:2px;background:linear-gradient(90deg,#900000 0.2%,#8e0000 21%,#8a0000 23.5%,#7e0000 25.7%,#6a0000 27.6%,#370000 29.7%,#250000 31.2%,#190000 33.8%,#160000 35.6%,#160000 45.1%,#1d0000 59.3%,#1d0000 99.8%)"></i><i style="top:464px;height:2px;background:linear-gradient(90deg,#900000 0.2%,#900000 15.9%,#8a0000 22.1%,#830000 23.5%,#750000 25%,#690000 25.7%,#310000 28.3%,#220000 29.7%,#120000 37.8%,#140000 49.8%,#1d0000 68.8%,#1d0000 99.8%)"></i><i style="top:466px;height:2px;background:linear-gradient(90deg,#900000 0.2%,#900000 14.4%,#8d0000 19.2%,#850000 22.1%,#740000 24.3%,#580000 25.7%,#2a0000 27.6%,#200000 28.3%,#1c0000 29%,#1d0000 33%,#100000 41.8%,#100000 49.5%,#1d0000 78.3%,#1d0000 99.8%)"></i><i style="top:468px;height:2px;background:linear-gradient(90deg,#900000 0.2%,#900000 12.2%,#8e0000 16.2%,#850000 20.6%,#710000 23.5%,#540000 25.4%,#260000 27.2%,#1c0000 27.9%,#180000 28.6%,#200000 33%,#100000 43.6%,#0d0000 53.5%,#190000 74.6%,#1d0000 99.8%)"></i><i style="top:470px;height:2px;background:linear-gradient(90deg,#900000 0.2%,#8e0000 14.1%,#820000 19.9%,#720000 22.4%,#630000 23.9%,#4a0000 25.4%,#260000 26.8%,#150000 28.3%,#200000 31.9%,#200000 35.6%,#0d0000 49.5%,#0c0000 60%,#190000 83.8%,#1d0000 99.8%)"></i><i style="top:472px;height:2px;background:linear-gradient(90deg,#900000 0.2%,#8e0000 12.2%,#870000 16.6%,#7d0000 19.9%,#680000 22.8%,#5b0000 23.9%,#1d0000 27.2%,#150000 27.9%,#150000 29.4%,#200000 32.3%,#220000 35.2%,#0d0000 52.4%,#0b0000 64.1%,#1a0000 99.8%)"></i><i style="top:474px;height:2px;background:linear-gradient(90deg,#900000 0.2%,#8e0000 11.1%,#870000 15.1%,#7a0000 19.5%,#650000 22.4%,#550000 23.9%,#270000 26.5%,#1d0000 27.2%,#160000 28.3%,#220000 33.8%,#220000 37.4%,#0d0000 55.3%,#0b0000 66.6%,#180000 99.8%)"></i><i style="top:476px;height:2px;background:linear-gradient(90deg,#900000 0.2%,#8e0000 10%,#890000 13.7%,#7b0000 18.4%,#700000 20.6%,#5f0000 22.8%,#3c0000 25.4%,#290000 26.5%,#1c0000 27.9%,#220000 33%,#220000 38.5%,#180000 45.8%,#0d0000 58.6%,#0d0000 79.4%,#150000 99.8%)"></i><i style="top:478px;height:2px;background:linear-gradient(90deg,#930000 0.2%,#8e0000 9.7%,#7e0000 17.3%,#640000 22.1%,#570000 23.5%,#2a0000 26.8%,#220000 28.3%,#250000 37%,#180000 46.5%,#0f0000 60.8%,#120000 99.8%)"></i><i style="top:480px;height:2px;background:linear-gradient(90deg,#930000 0.2%,#8e0000 9.7%,#7e0000 17%,#5f0000 22.8%,#350000 26.5%,#2a0000 28.3%,#290000 34.1%,#180000 46.9%,#100000 57.8%,#150000 99.8%)"></i><i style="top:482px;height:2px;background:linear-gradient(90deg,#930000 0.2%,#8e0000 9.7%,#830000 15.1%,#790000 18.1%,#630000 22.4%,#3f0000 26.1%,#350000 27.9%,#310000 32.3%,#180000 47.3%,#100000 58.2%,#100000 71.4%,#160000 82.3%,#160000 99.8%)"></i><i style="top:484px;height:2px;background:linear-gradient(90deg,#960000 0.2%,#900000 7.8%,#860000 14.1%,#6d0000 21%,#5d0000 23.5%,#440000 26.5%,#3c0000 28.3%,#180000 47.6%,#100000 57.8%,#0f0000 68.1%,#180000 80.8%,#1a0000 99.8%)"></i><i style="top:486px;height:2px;background:linear-gradient(90deg,#960000 0.2%,#930000 6%,#860000 14.1%,#700000 21%,#4a0000 27.2%,#2e0000 37.4%,#120000 52%,#0d0000 71%,#1a0000 84.9%,#1d0000 99.8%)"></i><i style="top:488px;height:2px;background:linear-gradient(90deg,#970000 0.2%,#930000 6.8%,#830000 15.1%,#720000 21%,#590000 25.7%,#310000 38.1%,#1d0000 46.2%,#100000 54.6%,#0d0000 75.4%,#1d0000 88.9%,#210000 99.8%)"></i><i style="top:490px;height:2px;background:linear-gradient(90deg,#980000 0.2%,#900000 8.9%,#780000 20.6%,#330000 38.9%,#1d0000 46.9%,#100000 54.6%,#0c0000 76.5%,#110000 83.8%,#220000 94.7%,#240000 99.8%)"></i><i style="top:492px;height:2px;background:linear-gradient(90deg,#9a0000 0.2%,#930000 7.5%,#7b0000 20.3%,#630000 28.3%,#3b0000 37.8%,#250000 44.7%,#1a0000 48.7%,#0d0000 56.8%,#0b0000 79.4%,#0f0000 84.9%,#220000 94.7%,#260000 99.8%)"></i><i style="top:494px;height:1px;background:linear-gradient(90deg,#9b0000 0.2%,#8e0000 11.1%,#790000 22.1%,#5f0000 30.8%,#3f0000 37.4%,#250000 45.1%,#1a0000 49.1%,#0b0000 58.9%,#0b0000 83.4%,#100000 87.8%,#270000 98%,#270000 99.8%)"></i></div>

<svg width="1688" height="2105" viewBox="0 0 1688 2105">
<defs><linearGradient id="gm" x1="0" y1="0" x2="0" y2="1"><stop offset="0" stop-color="#a2a2a2"/><stop offset="1" stop-color="#6a6a6a"/></linearGradient><clipPath id="pc1"><rect x="654.9" y="58.95" width="275.4" height="240.8"/></clipPath><clipPath id="pc2"><rect x="1287.1" y="58.95" width="293.3" height="241.0"/></clipPath><clipPath id="pc3"><rect x="654.9" y="473.15" width="293.8" height="240.9"/></clipPath><clipPath id="pc4"><rect x="1268.7" y="473.15" width="311.7" height="240.9"/></clipPath><clipPath id="hc1"><rect x="265.9" y="949.75" width="292.5" height="495.04999999999995"/></clipPath><linearGradient id="cb1" x1="0" y1="0" x2="0" y2="1"><stop offset="0.0000" stop-color="#ffffff"/><stop offset="0.0417" stop-color="#f8fbfb"/><stop offset="0.0833" stop-color="#f1f7f7"/><stop offset="0.1250" stop-color="#e9f2f2"/><stop offset="0.1667" stop-color="#e1eded"/><stop offset="0.2083" stop-color="#dae8e8"/><stop offset="0.2500" stop-color="#d2e2e2"/><stop offset="0.2917" stop-color="#c9dada"/><stop offset="0.3333" stop-color="#c0d2d3"/><stop offset="0.3750" stop-color="#bbcacf"/><stop offset="0.4167" stop-color="#b5c1ca"/><stop offset="0.4583" stop-color="#b1b8c7"/><stop offset="0.5000" stop-color="#acb0c3"/><stop offset="0.5417" stop-color="#a4a5bd"/><stop offset="0.5833" stop-color="#9c9bb7"/><stop offset="0.6250" stop-color="#9593b0"/><stop offset="0.6667" stop-color="#8d8ba8"/><stop offset="0.7083" stop-color="#83819c"/><stop offset="0.7500" stop-color="#79778f"/><stop offset="0.7917" stop-color="#6f6d83"/><stop offset="0.8333" stop-color="#666477"/><stop offset="0.8750" stop-color="#595767"/><stop offset="0.9167" stop-color="#4c4a56"/><stop offset="0.9583" stop-color="#34323a"/><stop offset="1.0000" stop-color="#08080a"/></linearGradient><clipPath id="hc2"><rect x="779.5" y="949.8" width="286.70000000000005" height="495.0"/></clipPath><linearGradient id="cb2" x1="0" y1="0" x2="0" y2="1"><stop offset="0.0000" stop-color="#ffffff"/><stop offset="0.0417" stop-color="#f8fbfb"/><stop offset="0.0833" stop-color="#f1f7f7"/><stop offset="0.1250" stop-color="#e9f2f2"/><stop offset="0.1667" stop-color="#e1eded"/><stop offset="0.2083" stop-color="#dae8e8"/><stop offset="0.2500" stop-color="#d2e2e2"/><stop offset="0.2917" stop-color="#c9dada"/><stop offset="0.3333" stop-color="#c0d2d3"/><stop offset="0.3750" stop-color="#bbcacf"/><stop offset="0.4167" stop-color="#b5c1ca"/><stop offset="0.4583" stop-color="#b1b8c7"/><stop offset="0.5000" stop-color="#acb0c3"/><stop offset="0.5417" stop-color="#a4a5bd"/><stop offset="0.5833" stop-color="#9c9bb7"/><stop offset="0.6250" stop-color="#9593b0"/><stop offset="0.6667" stop-color="#8d8ba8"/><stop offset="0.7083" stop-color="#83819c"/><stop offset="0.7500" stop-color="#79778f"/><stop offset="0.7917" stop-color="#6f6d83"/><stop offset="0.8333" stop-color="#666477"/><stop offset="0.8750" stop-color="#595767"/><stop offset="0.9167" stop-color="#4c4a56"/><stop offset="0.9583" stop-color="#34323a"/><stop offset="1.0000" stop-color="#08080a"/></linearGradient><clipPath id="hc3"><rect x="1289" y="949.6" width="274.5" height="494.9999999999999"/></clipPath><linearGradient id="cb3" x1="0" y1="0" x2="0" y2="1"><stop offset="0.0000" stop-color="#ffffff"/><stop offset="0.0200" stop-color="#ffffb4"/><stop offset="0.0600" stop-color="#ffff00"/><stop offset="0.1300" stop-color="#ff9000"/><stop offset="0.1950" stop-color="#ff3c00"/><stop offset="0.2750" stop-color="#ff0000"/><stop offset="0.3550" stop-color="#d00000"/><stop offset="0.4300" stop-color="#a00000"/><stop offset="0.5300" stop-color="#7a0000"/><stop offset="0.6300" stop-color="#5a0000"/><stop offset="0.7300" stop-color="#3c0000"/><stop offset="0.8300" stop-color="#250000"/><stop offset="0.9300" stop-color="#100000"/><stop offset="1.0000" stop-color="#0a0000"/></linearGradient><clipPath id="pc5"><rect x="505.1" y="1630.8000000000002" width="390.9" height="356.8"/></clipPath><clipPath id="pc6"><rect x="1092.15" y="1631.4" width="390.9" height="357.1"/></clipPath><linearGradient id="sw1" x1="0" y1="0" x2="1" y2="1"><stop offset="0" stop-color="#357b49"/><stop offset="1" stop-color="#2f7344"/></linearGradient><linearGradient id="sw2" x1="0" y1="0" x2="1" y2="0.6"><stop offset="0" stop-color="#cbc497"/><stop offset="1" stop-color="#d5d0a8"/></linearGradient><linearGradient id="sw3" x1="0" y1="0" x2="1" y2="1"><stop offset="0" stop-color="#e6c1ec"/><stop offset="1" stop-color="#ebc7f1"/></linearGradient></defs>
<text x="1.0" y="51.0" font-size="38.5" >(a)</text>
<text x="473.0" y="30.5" font-size="38.5" >(b)</text>
<text x="1112.0" y="29.0" font-size="38" >(c)</text>
<text x="478.0" y="447.0" font-size="38" >(d)</text>
<text x="1116.0" y="447.0" font-size="38" >(e)</text>
<text x="162.0" y="853.0" font-size="39.5" >(a)</text>
<text x="733.0" y="853.0" font-size="39.5" >(b)</text>
<text x="1328.5" y="853.0" font-size="39.5" >(c)</text>
<rect x="45.5" y="182.5" width="390.3" height="534.0" fill="#00b0f0"/>
<rect x="45.5" y="182.5" width="390.3" height="61.30000000000001" fill="url(#gm)"/>
<rect x="45.5" y="658" width="390.3" height="58.5" fill="url(#gm)"/>
<path d="M45.5 243.8H435.8M45.5 658H435.8" stroke="#111" stroke-width="3" fill="none"/>
<rect x="45.5" y="182.5" width="390.3" height="534.0" fill="none" stroke="#111" stroke-width="3"/>
<text x="267.0" y="227.5" font-size="37.5" fill="#fff" font-weight="bold" >Mirror A</text>
<text x="268.0" y="700.5" font-size="37.5" fill="#fff" font-weight="bold" >Mirror B</text>
<text x="384.5" y="402.0" font-size="36" fill="#fff" font-weight="bold" transform="rotate(90 384.5 402.0)" >Cavity</text>
<g fill="none" stroke="#f40000" stroke-width="3.4">
<path d="M61.099999999999994 121V150A45.5 30 0 0 0 152.1 150V129"/>
<path d="M106.6 180V264"/>
<path d="M220.4 244V152"/>
<path d="M176.2 306V277.5A44.8 30 0 0 1 265.8 277.5V298"/>
<path d="M61.099999999999994 597V624A45.5 30 0 0 0 152.1 624V605"/>
<path d="M106.6 654V734"/>
</g>
<path d="M152.1 120L146.1 132L158.1 132Z" fill="#f40000"/>
<path d="M106.6 273L100.6 261L112.6 261Z" fill="#f40000"/>
<path d="M220.4 141L214.4 153L226.4 153Z" fill="#f40000"/>
<path d="M265.8 307L259.8 295L271.8 295Z" fill="#f40000"/>
<path d="M152.1 594.5L146.1 606.5L158.1 606.5Z" fill="#f40000"/>
<path d="M106.6 743.5L100.6 731.5L112.6 731.5Z" fill="#f40000"/>
<text x="147.0" y="92.5" font-size="45" font-weight="bold" style='font-family:"Liberation Serif", serif' ><tspan font-style="italic">r</tspan><tspan dy="7" font-size="31" dx="1">1</tspan><tspan font-size="31" font-style="italic">b</tspan></text>
<text x="226.0" y="116.5" font-size="45" font-weight="bold" style='font-family:"Liberation Serif", serif' ><tspan font-style="italic">t</tspan><tspan dy="7" font-size="31" dx="1">1</tspan></text>
<text x="100.0" y="308.0" font-size="45" font-weight="bold" style='font-family:"Liberation Serif", serif' ><tspan font-style="italic">t</tspan><tspan dy="7" font-size="31" dx="1">1</tspan><tspan font-size="31" font-style="italic">b</tspan></text>
<text x="259.0" y="348.0" font-size="45" font-weight="bold" style='font-family:"Liberation Serif", serif' ><tspan font-style="italic">r</tspan><tspan dy="7" font-size="31" dx="1">1</tspan></text>
<text x="151.0" y="573.5" font-size="45" font-weight="bold" style='font-family:"Liberation Serif", serif' ><tspan font-style="italic">r</tspan><tspan dy="7" font-size="31" dx="1">2</tspan></text>
<text x="101.0" y="778.5" font-size="45" font-weight="bold" style='font-family:"Liberation Serif", serif' ><tspan font-style="italic">t</tspan><tspan dy="7" font-size="31" dx="1">2</tspan></text>
<path d="M656.1 250.5h10.5M656.1 203.1h10.5M656.1 155.6h10.5M656.1 108.2h10.5M929.1 250.5h-10.5M929.1 203.1h-10.5M929.1 155.6h-10.5M929.1 108.2h-10.5M701.6 298.0v-10.5M747.1 298.0v-10.5M792.6 298.0v-10.5M838.1 298.0v-10.5M883.6 298.0v-10.5" stroke="#000" stroke-width="3" fill="none"/>
<rect x="656.1" y="60.7" width="273.0" height="237.3" fill="none" stroke="#000" stroke-width="3.5"/>
<g clip-path="url(#pc1)" fill="none" stroke-width="5" stroke-linejoin="round">
<path d="M656.1 220.6 L656.8 209.7 L657.5 199.5 L658.2 190.1 L658.8 181.5 L659.5 173.7 L660.2 166.7 L660.9 160.4 L661.6 154.7 L662.3 149.6 L662.9 145.1 L663.6 141.1 L664.3 137.5 L665 134.3 L665.7 131.5 L666.4 129 L667 126.7 L667.7 124.8 L668.4 123.1 L669.1 121.6 L669.8 120.3 L670.5 119.2 L671.2 118.3 L671.8 117.5 L672.5 116.9 L673.2 116.5 L673.9 116.2 L674.6 116.1 L675.3 116.1 L675.9 116.3 L676.6 116.6 L677.3 117 L678 117.6 L678.7 118.4 L679.4 119.3 L680 120.4 L680.7 121.7 L681.4 123.2 L682.1 124.9 L682.8 126.8 L683.5 129 L684.2 131.5 L684.8 134.3 L685.5 137.4 L686.2 140.9 L686.9 144.8 L687.6 149.2 L688.3 154.1 L688.9 159.6 L689.6 165.7 L690.3 172.5 L691 180 L691.7 188.3 L692.4 197.5 L693 207.4 L693.7 218.1 L694.4 229.4 L695.1 241.2 L695.8 253.1 L696.5 264.7 L697.2 275.5 L697.8 284.9 L698.5 292.1 L699.2 296.6 L699.9 298 L700.6 296 L701.3 290.9 L701.9 283 L702.6 272.8 L703.3 261.2 L704 248.6 L704.7 235.8 L705.4 223.2 L706 211 L706.7 199.5 L707.4 188.9 L708.1 179.1 L708.8 170.3 L709.5 162.2 L710.2 154.9 L710.8 148.4 L711.5 142.5 L712.2 137.2 L712.9 132.4 L713.6 128.1 L714.3 124.2 L714.9 120.7 L715.6 117.6 L716.3 114.7 L717 112.1 L717.7 109.8 L718.4 107.7 L719 105.8 L719.7 104 L720.4 102.5 L721.1 101 L721.8 99.7 L722.5 98.6 L723.2 97.5 L723.8 96.5 L724.5 95.7 L725.2 94.9 L725.9 94.2 L726.6 93.6 L727.3 93 L727.9 92.5 L728.6 92.1 L729.3 91.8 L730 91.5 L730.7 91.3 L731.4 91.1 L732 91 L732.7 91 L733.4 91 L734.1 91 L734.8 91.1 L735.5 91.3 L736.2 91.6 L736.8 91.9 L737.5 92.2 L738.2 92.6 L738.9 93.1 L739.6 93.7 L740.3 94.3 L740.9 95.1 L741.6 95.9 L742.3 96.8 L743 97.8 L743.7 98.9 L744.4 100.1 L745 101.4 L745.7 102.9 L746.4 104.5 L747.1 106.3 L747.8 108.3 L748.5 110.5 L749.2 113 L749.8 115.6 L750.5 118.6 L751.2 121.9 L751.9 125.5 L752.6 129.6 L753.3 134.1 L753.9 139.1 L754.6 144.7 L755.3 150.9 L756 157.9 L756.7 165.6 L757.4 174.2 L758 183.7 L758.7 194.2 L759.4 205.6 L760.1 217.8 L760.8 230.8 L761.5 244.1 L762.2 257.4 L762.8 270.1 L763.5 281.2 L764.2 290.1 L764.9 295.9 L765.6 298 L766.3 296.1 L766.9 290.4 L767.6 281.4 L768.3 269.8 L769 256.6 L769.7 242.5 L770.4 228.3 L771 214.5 L771.7 201.5 L772.4 189.3 L773.1 178.3 L773.8 168.3 L774.5 159.3 L775.2 151.2 L775.8 144 L776.5 137.6 L777.2 131.9 L777.9 126.8 L778.6 122.3 L779.3 118.2 L779.9 114.6 L780.6 111.3 L781.3 108.4 L782 105.8 L782.7 103.4 L783.4 101.2 L784 99.3 L784.7 97.5 L785.4 95.9 L786.1 94.4 L786.8 93.1 L787.5 91.9 L788.2 90.7 L788.8 89.7 L789.5 88.8 L790.2 87.9 L790.9 87.1 L791.6 86.4 L792.3 85.7 L792.9 85.1 L793.6 84.5 L794.3 83.9 L795 83.4 L795.7 83 L796.4 82.5 L797 82.2 L797.7 81.8 L798.4 81.4 L799.1 81.1 L799.8 80.8 L800.5 80.6 L801.2 80.3 L801.8 80.1 L802.5 79.9 L803.2 79.7 L803.9 79.5 L804.6 79.4 L805.3 79.3 L805.9 79.1 L806.6 79 L807.3 78.9 L808 78.8 L808.7 78.8 L809.4 78.7 L810 78.7 L810.7 78.6 L811.4 78.6 L812.1 78.6 L812.8 78.6 L813.5 78.6 L814.2 78.7 L814.8 78.7 L815.5 78.8 L816.2 78.9 L816.9 78.9 L817.6 79 L818.3 79.1 L818.9 79.3 L819.6 79.4 L820.3 79.6 L821 79.8 L821.7 79.9 L822.4 80.2 L823 80.4 L823.7 80.6 L824.4 80.9 L825.1 81.2 L825.8 81.5 L826.5 81.9 L827.2 82.2 L827.8 82.7 L828.5 83.1 L829.2 83.6 L829.9 84.1 L830.6 84.6 L831.3 85.2 L831.9 85.9 L832.6 86.6 L833.3 87.4 L834 88.2 L834.7 89.1 L835.4 90.1 L836 91.2 L836.7 92.4 L837.4 93.7 L838.1 95.2 L838.8 96.7 L839.5 98.5 L840.2 100.4 L840.8 102.5 L841.5 104.9 L842.2 107.6 L842.9 110.5 L843.6 113.9 L844.3 117.6 L844.9 121.8 L845.6 126.6 L846.3 132 L847 138.1 L847.7 145.1 L848.4 153 L849 162 L849.7 172.2 L850.4 183.8 L851.1 196.7 L851.8 210.9 L852.5 226.3 L853.2 242.4 L853.8 258.5 L854.5 273.4 L855.2 285.9 L855.9 294.5 L856.6 298 L857.3 295.7 L857.9 288 L858.6 275.8 L859.3 260.6 L860 243.7 L860.7 226.6 L861.4 210 L862 194.6 L862.7 180.7 L863.4 168.2 L864.1 157.2 L864.8 147.6 L865.5 139.2 L866.2 131.8 L866.8 125.4 L867.5 119.8 L868.2 114.9 L868.9 110.6 L869.6 106.9 L870.3 103.5 L870.9 100.5 L871.6 97.9 L872.3 95.6 L873 93.5 L873.7 91.6 L874.4 89.9 L875 88.4 L875.7 87 L876.4 85.7 L877.1 84.6 L877.8 83.6 L878.5 82.6 L879.2 81.7 L879.8 81 L880.5 80.2 L881.2 79.5 L881.9 78.9 L882.6 78.4 L883.3 77.8 L883.9 77.3 L884.6 76.9 L885.3 76.4 L886 76 L886.7 75.7 L887.4 75.3 L888 75 L888.7 74.7 L889.4 74.4 L890.1 74.2 L890.8 73.9 L891.5 73.7 L892.2 73.5 L892.8 73.2 L893.5 73.1 L894.2 72.9 L894.9 72.7 L895.6 72.5 L896.3 72.4 L896.9 72.2 L897.6 72.1 L898.3 72 L899 71.8 L899.7 71.7 L900.4 71.6 L901 71.5 L901.7 71.4 L902.4 71.3 L903.1 71.2 L903.8 71.1 L904.5 71 L905.2 71 L905.8 70.9 L906.5 70.8 L907.2 70.8 L907.9 70.7 L908.6 70.6 L909.3 70.6 L909.9 70.5 L910.6 70.5 L911.3 70.4 L912 70.4 L912.7 70.3 L913.4 70.3 L914 70.3 L914.7 70.2 L915.4 70.2 L916.1 70.2 L916.8 70.1 L917.5 70.1 L918.2 70.1 L918.8 70.1 L919.5 70 L920.2 70 L920.9 70 L921.6 70 L922.3 70 L922.9 70 L923.6 70 L924.3 69.9 L925 69.9 L925.7 69.9 L926.4 69.9 L927 69.9 L927.7 69.9 L928.4 69.9 L929.1 69.9" stroke="#ff0000"/>
<path d="M656.1 165.3 L656.8 174.7 L657.5 183.5 L658.2 191.7 L658.8 199.1 L659.5 205.8 L660.2 211.8 L660.9 217.2 L661.6 222.1 L662.3 226.5 L662.9 230.4 L663.6 233.8 L664.3 236.9 L665 239.7 L665.7 242.1 L666.4 244.3 L667 246.2 L667.7 247.9 L668.4 249.3 L669.1 250.6 L669.8 251.7 L670.5 252.7 L671.2 253.5 L671.8 254.1 L672.5 254.6 L673.2 255 L673.9 255.2 L674.6 255.3 L675.3 255.3 L675.9 255.2 L676.6 254.9 L677.3 254.5 L678 254 L678.7 253.3 L679.4 252.5 L680 251.5 L680.7 250.4 L681.4 249.1 L682.1 247.7 L682.8 246 L683.5 244.1 L684.2 241.9 L684.8 239.5 L685.5 236.8 L686.2 233.8 L686.9 230.4 L687.6 226.6 L688.3 222.3 L688.9 217.6 L689.6 212.4 L690.3 206.5 L691 200 L691.7 192.9 L692.4 185 L693 176.5 L693.7 167.3 L694.4 157.6 L695.1 147.5 L695.8 137.2 L696.5 127.2 L697.2 117.9 L697.8 109.9 L698.5 103.7 L699.2 99.8 L699.9 98.7 L700.6 100.3 L701.3 104.7 L701.9 111.5 L702.6 120.2 L703.3 130.2 L704 140.9 L704.7 151.8 L705.4 162.7 L706 173 L706.7 182.8 L707.4 191.8 L708.1 200.2 L708.8 207.7 L709.5 214.6 L710.2 220.7 L710.8 226.3 L711.5 231.3 L712.2 235.7 L712.9 239.8 L713.6 243.4 L714.3 246.6 L714.9 249.5 L715.6 252.2 L716.3 254.5 L717 256.7 L717.7 258.6 L718.4 260.4 L719 261.9 L719.7 263.4 L720.4 264.7 L721.1 265.8 L721.8 266.9 L722.5 267.8 L723.2 268.7 L723.8 269.5 L724.5 270.2 L725.2 270.8 L725.9 271.3 L726.6 271.8 L727.3 272.3 L727.9 272.6 L728.6 273 L729.3 273.2 L730 273.4 L730.7 273.6 L731.4 273.7 L732 273.8 L732.7 273.8 L733.4 273.8 L734.1 273.8 L734.8 273.7 L735.5 273.5 L736.2 273.3 L736.8 273.1 L737.5 272.8 L738.2 272.4 L738.9 272 L739.6 271.6 L740.3 271 L740.9 270.4 L741.6 269.8 L742.3 269 L743 268.2 L743.7 267.3 L744.4 266.3 L745 265.2 L745.7 264 L746.4 262.7 L747.1 261.2 L747.8 259.5 L748.5 257.7 L749.2 255.7 L749.8 253.5 L750.5 251 L751.2 248.2 L751.9 245.2 L752.6 241.8 L753.3 238 L753.9 233.8 L754.6 229.1 L755.3 223.8 L756 217.9 L756.7 211.4 L757.4 204.1 L758 196 L758.7 187.2 L759.4 177.5 L760.1 167.1 L760.8 156 L761.5 144.6 L762.2 133.3 L762.8 122.5 L763.5 113 L764.2 105.4 L764.9 100.5 L765.6 98.7 L766.3 100.3 L766.9 105.2 L767.6 112.9 L768.3 122.8 L769 134.2 L769.7 146.2 L770.4 158.4 L771 170.3 L771.7 181.5 L772.4 191.9 L773.1 201.4 L773.8 210 L774.5 217.8 L775.2 224.7 L775.8 230.9 L776.5 236.4 L777.2 241.4 L777.9 245.8 L778.6 249.7 L779.3 253.2 L779.9 256.4 L780.6 259.2 L781.3 261.7 L782 264 L782.7 266.1 L783.4 268 L784 269.7 L784.7 271.2 L785.4 272.6 L786.1 273.9 L786.8 275.1 L787.5 276.1 L788.2 277.1 L788.8 278 L789.5 278.8 L790.2 279.6 L790.9 280.3 L791.6 281 L792.3 281.6 L792.9 282.1 L793.6 282.6 L794.3 283.1 L795 283.5 L795.7 283.9 L796.4 284.3 L797 284.7 L797.7 285 L798.4 285.3 L799.1 285.6 L799.8 285.8 L800.5 286.1 L801.2 286.3 L801.8 286.5 L802.5 286.7 L803.2 286.8 L803.9 287 L804.6 287.1 L805.3 287.2 L805.9 287.4 L806.6 287.5 L807.3 287.5 L808 287.6 L808.7 287.7 L809.4 287.7 L810 287.8 L810.7 287.8 L811.4 287.8 L812.1 287.9 L812.8 287.9 L813.5 287.8 L814.2 287.8 L814.8 287.8 L815.5 287.8 L816.2 287.7 L816.9 287.6 L817.6 287.6 L818.3 287.5 L818.9 287.4 L819.6 287.3 L820.3 287.1 L821 287 L821.7 286.8 L822.4 286.7 L823 286.5 L823.7 286.3 L824.4 286.1 L825.1 285.8 L825.8 285.6 L826.5 285.3 L827.2 285 L827.8 284.7 L828.5 284.3 L829.2 283.9 L829.9 283.5 L830.6 283.1 L831.3 282.6 L831.9 282 L832.6 281.5 L833.3 280.8 L834 280.2 L834.7 279.4 L835.4 278.6 L836 277.7 L836.7 276.8 L837.4 275.7 L838.1 274.6 L838.8 273.3 L839.5 271.9 L840.2 270.3 L840.8 268.6 L841.5 266.7 L842.2 264.5 L842.9 262.1 L843.6 259.5 L844.3 256.5 L844.9 253.1 L845.6 249.2 L846.3 244.9 L847 240 L847.7 234.4 L848.4 228 L849 220.8 L849.7 212.6 L850.4 203.4 L851.1 193.1 L851.8 181.7 L852.5 169.5 L853.2 156.7 L853.8 143.9 L854.5 132.1 L855.2 122.2 L855.9 115.6 L856.6 113 L857.3 115 L857.9 121.4 L858.6 131.3 L859.3 143.6 L860 157.2 L860.7 171 L861.4 184.3 L862 196.6 L862.7 207.8 L863.4 217.8 L864.1 226.5 L864.8 234.2 L865.5 240.9 L866.2 246.8 L866.8 251.8 L867.5 256.3 L868.2 260.2 L868.9 263.6 L869.6 266.6 L870.3 269.2 L870.9 271.6 L871.6 273.7 L872.3 275.5 L873 277.2 L873.7 278.7 L874.4 280 L875 281.2 L875.7 282.3 L876.4 283.3 L877.1 284.2 L877.8 285 L878.5 285.8 L879.2 286.4 L879.8 287.1 L880.5 287.6 L881.2 288.2 L881.9 288.6 L882.6 289.1 L883.3 289.5 L883.9 289.9 L884.6 290.3 L885.3 290.6 L886 290.9 L886.7 291.2 L887.4 291.5 L888 291.7 L888.7 292 L889.4 292.2 L890.1 292.4 L890.8 292.6 L891.5 292.8 L892.2 292.9 L892.8 293.1 L893.5 293.3 L894.2 293.4 L894.9 293.5 L895.6 293.7 L896.3 293.8 L896.9 293.9 L897.6 294 L898.3 294.1 L899 294.2 L899.7 294.3 L900.4 294.4 L901 294.5 L901.7 294.6 L902.4 294.6 L903.1 294.7 L903.8 294.8 L904.5 294.8 L905.2 294.9 L905.8 295 L906.5 295 L907.2 295.1 L907.9 295.1 L908.6 295.2 L909.3 295.2 L909.9 295.3 L910.6 295.3 L911.3 295.3 L912 295.4 L912.7 295.4 L913.4 295.4 L914 295.5 L914.7 295.5 L915.4 295.5 L916.1 295.6 L916.8 295.6 L917.5 295.6 L918.2 295.6 L918.8 295.6 L919.5 295.7 L920.2 295.7 L920.9 295.7 L921.6 295.7 L922.3 295.7 L922.9 295.7 L923.6 295.8 L924.3 295.8 L925 295.8 L925.7 295.8 L926.4 295.8 L927 295.8 L927.7 295.8 L928.4 295.8 L929.1 295.8" stroke="#0070c0"/>
</g>
<path d="M699.8 60.7V298.0" stroke="#000" stroke-width="3" stroke-dasharray="9.3 3.2" fill="none"/>
<path d="M765.3 60.7V298.0" stroke="#000" stroke-width="3" stroke-dasharray="9.3 3.2" fill="none"/>
<path d="M856.6 60.7V298.0" stroke="#000" stroke-width="3" stroke-dasharray="9.3 3.2" fill="none"/>
<text x="627.6" y="309.0" font-size="33" text-anchor="end" fill="#ff0000" >0</text>
<text x="627.6" y="261.3" font-size="33" text-anchor="end" fill="#ff0000" >20</text>
<text x="627.6" y="213.7" font-size="33" text-anchor="end" fill="#ff0000" >40</text>
<text x="627.6" y="166.0" font-size="33" text-anchor="end" fill="#ff0000" >60</text>
<text x="627.6" y="118.4" font-size="33" text-anchor="end" fill="#ff0000" >80</text>
<text x="627.6" y="70.7" font-size="33" text-anchor="end" fill="#ff0000" >100</text>
<text x="958.6" y="309.0" font-size="33" fill="#0070c0" >0</text>
<text x="958.6" y="261.3" font-size="33" fill="#0070c0" >20</text>
<text x="958.6" y="213.7" font-size="33" fill="#0070c0" >40</text>
<text x="958.6" y="166.0" font-size="33" fill="#0070c0" >60</text>
<text x="958.6" y="118.4" font-size="33" fill="#0070c0" >80</text>
<text x="958.6" y="70.7" font-size="33" fill="#0070c0" >100</text>
<text x="656.1" y="347.2" font-size="33.5" text-anchor="middle" >400</text>
<text x="747.1" y="347.2" font-size="33.5" text-anchor="middle" >500</text>
<text x="838.1" y="347.2" font-size="33.5" text-anchor="middle" >600</text>
<text x="929.1" y="347.2" font-size="33.5" text-anchor="middle" >700</text>
<text x="793.6" y="391.7" font-size="33.4" text-anchor="middle" >Wavelength (nm)</text>
<text x="558.5" y="300.6" font-size="33" fill="#ff0000" transform="rotate(-90 558.5 300.6)" >Reflectance (%)</text>
<text x="1027.0" y="201.3" font-size="33" text-anchor="middle" fill="#0070c0" transform="rotate(90 1027.0 201.3)" textLength="266.5" lengthAdjust="spacingAndGlyphs">Transmittance (%)</text>
<path d="M1288.3 250.7h10.5M1288.3 203.2h10.5M1288.3 155.7h10.5M1288.3 108.2h10.5M1579.2 238.8h-10.5M1579.2 179.4h-10.5M1579.2 120.1h-10.5M1336.8 298.2v-10.5M1385.3 298.2v-10.5M1433.8 298.2v-10.5M1482.2 298.2v-10.5M1530.7 298.2v-10.5" stroke="#000" stroke-width="3" fill="none"/>
<rect x="1288.3" y="60.7" width="290.9" height="237.5" fill="none" stroke="#000" stroke-width="3.5"/>
<g clip-path="url(#pc2)" fill="none" stroke-width="5" stroke-linejoin="round">
<path d="M1288.8 182.2 L1289.5 178.2 L1290.2 174.1 L1290.8 170 L1291.5 165.8 L1292.2 161.6 L1292.9 157.5 L1293.5 153.4 L1294.2 149.5 L1294.9 145.7 L1295.5 142.1 L1296.2 138.8 L1296.9 135.7 L1297.6 133 L1298.2 130.5 L1298.9 128.5 L1299.6 126.9 L1300.2 125.8 L1300.9 125.1 L1301.6 124.8 L1302.2 124.9 L1302.8 125.1 L1303.5 125.4 L1304.1 125.9 L1304.7 126.5 L1305.4 127.2 L1306 128.1 L1306.6 129.1 L1307.2 130.3 L1307.9 131.7 L1308.5 133.3 L1309.1 135 L1309.7 137 L1310.4 139.2 L1311 141.7 L1311.6 144.4 L1312.3 147.4 L1312.9 150.7 L1313.5 154.3 L1314.1 158.4 L1314.8 162.8 L1315.4 167.6 L1316 172.9 L1316.7 178.7 L1317.3 185 L1317.9 191.8 L1318.5 199.2 L1319.2 207.1 L1319.8 215.5 L1320.4 224.3 L1321 233.4 L1321.7 242.7 L1322.3 252 L1322.9 261.1 L1323.6 269.6 L1324.2 277.2 L1324.8 283.6 L1325.4 288.4 L1326.1 291.5 L1326.7 292.5 L1327.6 291.3 L1328.4 287.9 L1329.3 282.5 L1330.1 275.3 L1331 266.7 L1331.8 257.2 L1332.7 247 L1333.5 236.5 L1334.4 226 L1335.2 215.8 L1336.1 205.9 L1336.9 196.4 L1337.8 187.6 L1338.6 179.3 L1339.5 171.6 L1340.4 164.5 L1341.2 158 L1342.1 152.1 L1342.9 146.6 L1343.8 141.6 L1344.6 137.1 L1345.5 133 L1346.3 129.3 L1347.2 125.9 L1348 122.9 L1348.9 120.1 L1349.7 117.6 L1350.6 115.4 L1351.4 113.4 L1352.3 111.7 L1353.2 110.1 L1354 108.8 L1354.9 107.6 L1355.7 106.6 L1356.6 105.8 L1357.4 105.1 L1358.3 104.6 L1359.1 104.2 L1360 104 L1360.8 103.9 L1361.7 104 L1362.5 104.2 L1363.3 104.5 L1364.2 105 L1365 105.6 L1365.8 106.4 L1366.7 107.3 L1367.5 108.4 L1368.4 109.6 L1369.2 111 L1370 112.6 L1370.9 114.4 L1371.7 116.4 L1372.5 118.7 L1373.4 121.2 L1374.2 124 L1375 127.1 L1375.9 130.5 L1376.7 134.2 L1377.6 138.4 L1378.4 142.9 L1379.2 147.9 L1380.1 153.3 L1380.9 159.3 L1381.7 165.7 L1382.6 172.7 L1383.4 180.3 L1384.2 188.4 L1385.1 197 L1385.9 206 L1386.8 215.4 L1387.6 225 L1388.4 234.6 L1389.3 243.9 L1390.1 252.6 L1390.9 260.4 L1391.8 267 L1392.6 271.9 L1393.4 275.1 L1394.3 276.1 L1395.5 275 L1396.6 271.7 L1397.8 266.3 L1399 259.3 L1400.2 251 L1401.4 241.6 L1402.5 231.7 L1403.7 221.5 L1404.9 211.2 L1406.1 201.2 L1407.3 191.5 L1408.5 182.3 L1409.6 173.7 L1410.8 165.6 L1412 158.1 L1413.2 151.2 L1414.4 144.9 L1415.5 139 L1416.7 133.7 L1417.9 128.9 L1419.1 124.4 L1420.3 120.4 L1421.4 116.8 L1422.6 113.5 L1423.8 110.5 L1425 107.8 L1426.2 105.4 L1427.3 103.3 L1428.5 101.3 L1429.7 99.6 L1430.9 98.1 L1432.1 96.8 L1433.2 95.6 L1434.4 94.7 L1435.6 93.9 L1436.8 93.2 L1438 92.7 L1439.1 92.3 L1440.3 92.1 L1441.5 92 L1442.7 92.1 L1443.9 92.3 L1445.1 92.6 L1446.3 93 L1447.5 93.6 L1448.7 94.3 L1449.9 95.1 L1451.1 96.1 L1452.3 97.3 L1453.5 98.5 L1454.7 100 L1455.9 101.6 L1457.1 103.5 L1458.3 105.5 L1459.5 107.8 L1460.7 110.3 L1461.9 113 L1463.1 116 L1464.3 119.3 L1465.5 122.9 L1466.7 126.9 L1467.9 131.2 L1469.1 135.8 L1470.2 140.8 L1471.4 146.3 L1472.6 152.1 L1473.8 158.3 L1475 164.8 L1476.2 171.7 L1477.4 178.9 L1478.6 186.2 L1479.8 193.5 L1481 200.7 L1482.2 207.7 L1483.4 214.1 L1484.6 219.8 L1485.8 224.5 L1487 228 L1488.2 230.2 L1489.4 231 L1491.1 230.2 L1492.8 227.9 L1494.5 224.1 L1496.3 219.1 L1498 213.1 L1499.7 206.3 L1501.4 198.9 L1503.1 191.3 L1504.8 183.5 L1506.5 175.7 L1508.2 168.2 L1509.9 160.9 L1511.7 153.9 L1513.4 147.4 L1515.1 141.2 L1516.8 135.4 L1518.5 130.1 L1520.2 125.2 L1521.9 120.6 L1523.6 116.5 L1525.3 112.6 L1527.1 109.1 L1528.8 105.9 L1530.5 103 L1532.2 100.4 L1533.9 98 L1535.6 95.8 L1537.3 93.9 L1539 92.2 L1540.8 90.6 L1542.5 89.2 L1544.2 88 L1545.9 87 L1547.6 86.1 L1549.3 85.4 L1551 84.8 L1552.7 84.3 L1554.4 84 L1556.2 83.8 L1557.9 83.7 L1559.4 83.8 L1561 83.8 L1562.5 84 L1564 84.1 L1565.6 84.3 L1567.1 84.6 L1568.7 84.9 L1570.2 85.2 L1571.7 85.6 L1573.3 86 L1574.8 86.5 L1576.4 87 L1577.9 87.5" stroke="#ff0000"/>
<path d="M1288.9 238.2 L1289.5 240 L1290.1 241.5 L1290.8 242.9 L1291.4 244.1 L1292 245.3 L1292.7 246.3 L1293.3 247.1 L1293.9 247.9 L1294.6 248.6 L1295.2 249.2 L1295.8 249.6 L1296.4 250 L1297.1 250.3 L1297.7 250.5 L1298.3 250.7 L1299 250.7 L1299.6 250.6 L1300.3 250.5 L1301 250.2 L1301.7 249.8 L1302.4 249.3 L1303 248.6 L1303.7 247.8 L1304.4 246.9 L1305.1 245.9 L1305.8 244.7 L1306.4 243.3 L1307.1 241.8 L1307.8 240.1 L1308.5 238.2 L1309.1 236.1 L1309.8 233.7 L1310.5 231.2 L1311.2 228.4 L1311.9 225.3 L1312.5 221.9 L1313.2 218.3 L1313.9 214.3 L1314.6 209.9 L1315.3 205.2 L1315.9 200.2 L1316.6 194.8 L1317.3 189 L1318 182.9 L1318.7 176.5 L1319.3 169.8 L1320 163 L1320.7 156.2 L1321.4 149.4 L1322 143 L1322.7 137 L1323.4 131.7 L1324.1 127.3 L1324.8 124 L1325.4 122 L1326.1 121.3 L1327 122.1 L1327.8 124.4 L1328.7 128.2 L1329.5 133.2 L1330.4 139.2 L1331.2 146.1 L1332.1 153.4 L1332.9 161.1 L1333.8 168.9 L1334.6 176.7 L1335.5 184.3 L1336.3 191.6 L1337.1 198.6 L1338 205.2 L1338.8 211.3 L1339.7 217.1 L1340.5 222.5 L1341.4 227.4 L1342.2 232 L1343.1 236.2 L1343.9 240 L1344.8 243.5 L1345.6 246.7 L1346.5 249.6 L1347.3 252.3 L1348.2 254.7 L1349 256.8 L1349.9 258.8 L1350.7 260.5 L1351.6 262.1 L1352.4 263.5 L1353.3 264.7 L1354.1 265.7 L1355 266.6 L1355.8 267.3 L1356.7 267.9 L1357.5 268.4 L1358.4 268.7 L1359.2 268.9 L1360.1 269 L1360.9 268.9 L1361.8 268.8 L1362.6 268.6 L1363.4 268.2 L1364.3 267.8 L1365.1 267.2 L1366 266.6 L1366.8 265.8 L1367.7 264.9 L1368.5 263.9 L1369.4 262.7 L1370.2 261.4 L1371.1 260 L1371.9 258.3 L1372.8 256.5 L1373.6 254.5 L1374.5 252.3 L1375.3 249.9 L1376.2 247.2 L1377 244.2 L1377.9 240.9 L1378.7 237.3 L1379.6 233.4 L1380.4 229.1 L1381.3 224.5 L1382.1 219.4 L1383 214 L1383.8 208.2 L1384.7 202 L1385.5 195.5 L1386.4 188.7 L1387.2 181.8 L1388.1 174.9 L1388.9 168.2 L1389.8 162 L1390.6 156.3 L1391.4 151.6 L1392.3 148 L1393.1 145.8 L1394 145 L1395.1 145.8 L1396.3 148.2 L1397.4 152.1 L1398.6 157.2 L1399.7 163.3 L1400.8 170.1 L1402 177.3 L1403.1 184.7 L1404.2 192.1 L1405.4 199.4 L1406.5 206.5 L1407.7 213.1 L1408.8 219.4 L1409.9 225.3 L1411.1 230.7 L1412.2 235.8 L1413.4 240.4 L1414.5 244.6 L1415.6 248.5 L1416.8 252 L1417.9 255.2 L1419.1 258.1 L1420.2 260.7 L1421.3 263.1 L1422.5 265.3 L1423.6 267.2 L1424.8 269 L1425.9 270.6 L1427 272 L1428.2 273.2 L1429.3 274.3 L1430.5 275.3 L1431.6 276.1 L1432.7 276.8 L1433.9 277.4 L1435 277.9 L1436.1 278.3 L1437.3 278.5 L1438.4 278.7 L1439.6 278.7 L1440.8 278.7 L1442 278.6 L1443.3 278.4 L1444.5 278.1 L1445.7 277.8 L1447 277.3 L1448.2 276.8 L1449.5 276.2 L1450.7 275.5 L1451.9 274.6 L1453.2 273.7 L1454.4 272.7 L1455.6 271.5 L1456.9 270.1 L1458.1 268.6 L1459.3 267 L1460.6 265.1 L1461.8 263.1 L1463.1 260.8 L1464.3 258.2 L1465.5 255.4 L1466.8 252.3 L1468 248.8 L1469.2 244.9 L1470.5 240.7 L1471.7 236 L1472.9 230.8 L1474.2 225.2 L1475.4 219.1 L1476.7 212.5 L1477.9 205.5 L1479.1 198.2 L1480.4 190.7 L1481.6 183.2 L1482.8 176 L1484.1 169.4 L1485.3 163.8 L1486.5 159.4 L1487.8 156.6 L1489 155.7 L1490.7 156.9 L1492.4 160.2 L1494 165.5 L1495.7 172.2 L1497.4 179.8 L1499.1 188 L1500.7 196.4 L1502.4 204.5 L1504.1 212.3 L1505.7 219.6 L1507.4 226.2 L1509.1 232.4 L1510.8 237.9 L1512.4 242.9 L1514.1 247.4 L1515.8 251.4 L1517.5 255 L1519.1 258.2 L1520.8 261 L1522.5 263.6 L1524.1 265.9 L1525.8 267.9 L1527.5 269.8 L1529.2 271.4 L1530.8 272.9 L1532.5 274.2 L1534.2 275.3 L1535.9 276.4 L1537.5 277.3 L1539.2 278.1 L1540.9 278.8 L1542.5 279.4 L1544.2 279.9 L1545.9 280.4 L1547.6 280.8 L1549.2 281.1 L1550.9 281.3 L1552.6 281.4 L1554.3 281.5 L1555.9 281.6 L1557.5 281.5 L1559.1 281.5 L1560.7 281.3 L1562.3 281.1 L1563.9 280.8 L1565.5 280.5 L1567.1 280.1 L1568.7 279.7 L1570.2 279.2 L1571.8 278.7 L1573.4 278.1 L1575 277.5 L1576.6 276.8 L1578.2 276.1" stroke="#0070c0"/>
</g>
<path d="M1325.4 60.7V298.2" stroke="#000" stroke-width="3" stroke-dasharray="9.3 3.2" fill="none"/>
<path d="M1394.2 60.7V298.2" stroke="#000" stroke-width="3" stroke-dasharray="9.3 3.2" fill="none"/>
<path d="M1488.6 60.7V298.2" stroke="#000" stroke-width="3" stroke-dasharray="9.3 3.2" fill="none"/>
<text x="1259.8" y="309.2" font-size="33" text-anchor="end" fill="#ff0000" >0</text>
<text x="1259.8" y="261.5" font-size="33" text-anchor="end" fill="#ff0000" >20</text>
<text x="1259.8" y="213.8" font-size="33" text-anchor="end" fill="#ff0000" >40</text>
<text x="1259.8" y="166.1" font-size="33" text-anchor="end" fill="#ff0000" >60</text>
<text x="1259.8" y="118.4" font-size="33" text-anchor="end" fill="#ff0000" >80</text>
<text x="1259.8" y="70.7" font-size="33" text-anchor="end" fill="#ff0000" >100</text>
<text x="1607.2" y="309.2" font-size="33" fill="#0070c0" >0</text>
<text x="1607.2" y="249.6" font-size="33" fill="#0070c0" >5</text>
<text x="1607.2" y="189.9" font-size="33" fill="#0070c0" >10</text>
<text x="1607.2" y="130.3" font-size="33" fill="#0070c0" >15</text>
<text x="1607.2" y="70.7" font-size="33" fill="#0070c0" >20</text>
<text x="1288.3" y="347.4" font-size="33.5" text-anchor="middle" >400</text>
<text x="1385.3" y="347.4" font-size="33.5" text-anchor="middle" >500</text>
<text x="1482.2" y="347.4" font-size="33.5" text-anchor="middle" >600</text>
<text x="1579.2" y="347.4" font-size="33.5" text-anchor="middle" >700</text>
<text x="1434.8" y="391.9" font-size="33.4" text-anchor="middle" >Wavelength (nm)</text>
<text x="1191.0" y="300.8" font-size="33" fill="#ff0000" transform="rotate(-90 1191.0 300.8)" >Reflectance (%)</text>
<text x="1657.8" y="202.4" font-size="33" text-anchor="middle" fill="#0070c0" transform="rotate(90 1657.8 202.4)" textLength="267" lengthAdjust="spacingAndGlyphs">Transmittance (%)</text>
<path d="M656.1 664.8h10.5M656.1 617.3h10.5M656.1 569.9h10.5M656.1 522.4h10.5M947.5 672.7h-10.5M947.5 633.2h-10.5M947.5 593.6h-10.5M947.5 554.0h-10.5M947.5 514.5h-10.5M704.7 712.3v-10.5M753.2 712.3v-10.5M801.8 712.3v-10.5M850.4 712.3v-10.5M898.9 712.3v-10.5" stroke="#000" stroke-width="3" fill="none"/>
<rect x="656.1" y="474.9" width="291.4" height="237.4" fill="none" stroke="#000" stroke-width="3.5"/>
<g clip-path="url(#pc3)" fill="none" stroke-width="5" stroke-linejoin="round">
<path d="M656.2 623.3 L657.6 622.6 L659 621.9 L660.4 621.1 L661.8 620.2 L663.2 619.2 L664.6 618.1 L665.9 616.8 L667.3 615.3 L668.7 613.7 L670.1 611.9 L671.5 609.8 L672.9 607.5 L674.3 604.8 L675.7 601.9 L677.1 598.6 L678.5 594.9 L679.9 590.8 L681.3 586.4 L682.7 581.7 L684.1 576.8 L685.5 571.8 L686.9 567.1 L688.2 562.8 L689.6 559.5 L691 557.3 L692.4 556.6 L693 557.1 L693.7 558.5 L694.3 560.8 L694.9 563.8 L695.5 567.1 L696.2 570.7 L696.8 574.4 L697.4 577.9 L698 581.3 L698.6 584.5 L699.3 587.4 L699.9 590.1 L700.5 592.5 L701.1 594.7 L701.8 596.7 L702.4 598.4 L703 600 L703.6 601.4 L704.2 602.7 L704.9 603.8 L705.5 604.8 L706.1 605.7 L706.7 606.5 L707.3 607.2 L708 607.8 L708.6 608.4 L709.2 608.9 L709.8 609.4 L710.5 609.8 L711.1 610.1 L711.7 610.4 L712.3 610.7 L712.9 610.9 L713.6 611.1 L714.2 611.3 L714.8 611.4 L715.4 611.5 L716.1 611.6 L716.7 611.6 L717.3 611.6 L718.4 611.6 L719.5 611.6 L720.6 611.5 L721.8 611.4 L722.9 611.3 L724 611.1 L725.1 611 L726.2 610.7 L727.3 610.5 L728.5 610.2 L729.6 609.8 L730.7 609.4 L731.8 609 L732.9 608.5 L734 608 L735.2 607.3 L736.3 606.6 L737.4 605.8 L738.5 604.9 L739.6 603.9 L740.8 602.7 L741.9 601.4 L743 600 L744.1 598.3 L745.2 596.4 L746.3 594.2 L747.5 591.8 L748.6 589 L749.7 585.8 L750.8 582.2 L751.9 578.2 L753 573.8 L754.2 569 L755.3 563.9 L756.4 558.6 L757.5 553.5 L758.6 548.9 L759.7 545.1 L760.9 542.7 L762 541.8 L763.4 542.8 L764.8 545.5 L766.2 549.5 L767.6 554.4 L769 559.8 L770.4 565.2 L771.8 570.4 L773.2 575.2 L774.6 579.5 L776 583.3 L777.4 586.7 L778.8 589.7 L780.2 592.3 L781.6 594.6 L783 596.6 L784.4 598.3 L785.8 599.8 L787.2 601.2 L788.6 602.4 L790 603.4 L791.5 604.3 L792.9 605.1 L794.3 605.8 L795.7 606.4 L797.1 607 L798.5 607.5 L799.9 607.9 L801.3 608.3 L802.7 608.6 L804.1 608.9 L805.5 609.2 L806.9 609.4 L808.3 609.6 L809.7 609.8 L811.1 609.9 L812.5 610 L813.9 610.1 L815.3 610.2 L816.7 610.2 L818.1 610.2 L819.1 610.2 L820.1 610.2 L821.1 610.1 L822.1 610 L823.2 609.8 L824.2 609.6 L825.2 609.4 L826.2 609.1 L827.2 608.8 L828.2 608.5 L829.2 608.1 L830.2 607.6 L831.2 607.1 L832.2 606.5 L833.2 605.9 L834.2 605.1 L835.3 604.3 L836.3 603.3 L837.3 602.3 L838.3 601.1 L839.3 599.7 L840.3 598.2 L841.3 596.4 L842.3 594.4 L843.3 592.2 L844.3 589.6 L845.3 586.7 L846.3 583.4 L847.3 579.7 L848.4 575.5 L849.4 570.8 L850.4 565.6 L851.4 559.9 L852.4 553.8 L853.4 547.6 L854.4 541.6 L855.4 536.1 L856.4 531.7 L857.4 528.8 L858.4 527.8 L860.1 529.4 L861.8 533.6 L863.5 540.1 L865.2 547.8 L866.9 556 L868.6 564.2 L870.3 571.9 L872 578.9 L873.7 585.2 L875.4 590.7 L877 595.5 L878.7 599.7 L880.4 603.3 L882.1 606.4 L883.8 609.1 L885.5 611.5 L887.2 613.5 L888.9 615.3 L890.6 616.9 L892.3 618.3 L894 619.5 L895.7 620.5 L897.4 621.5 L899 622.3 L900.7 623.1 L902.4 623.7 L904.1 624.3 L905.8 624.8 L907.5 625.2 L909.2 625.6 L910.9 626 L912.6 626.3 L914.3 626.5 L916 626.7 L917.7 626.9 L919.4 627.1 L921.1 627.2 L922.7 627.2 L924.4 627.3 L926.1 627.3 L927.7 627.3 L929.2 627.2 L930.8 627 L932.3 626.8 L933.9 626.5 L935.4 626.2 L936.9 625.8 L938.5 625.4 L940 624.9 L941.6 624.3 L943.1 623.7 L944.7 623.1 L946.2 622.4" stroke="#ff0000"/>
<path d="M656.5 670.1 L657.2 671.4 L657.8 672.7 L658.5 673.8 L659.2 674.9 L659.9 675.8 L660.6 676.6 L661.2 677.4 L661.9 678.1 L662.6 678.7 L663.3 679.2 L664 679.6 L664.6 680 L665.3 680.3 L666 680.6 L666.7 680.8 L667.4 680.9 L668 681 L668.7 681 L669.4 681 L670 680.9 L670.6 680.7 L671.3 680.4 L671.9 680.1 L672.5 679.7 L673.1 679.1 L673.8 678.5 L674.4 677.8 L675 677 L675.7 676.1 L676.3 675.1 L676.9 674 L677.6 672.7 L678.2 671.3 L678.8 669.8 L679.5 668.1 L680.1 666.2 L680.7 664.2 L681.4 662 L682 659.5 L682.6 656.9 L683.2 654 L683.9 650.9 L684.5 647.5 L685.1 643.9 L685.8 640.1 L686.4 636.1 L687 631.8 L687.7 627.4 L688.3 622.9 L688.9 618.3 L689.6 613.9 L690.2 609.6 L690.8 605.6 L691.5 602.1 L692.1 599.2 L692.7 597 L693.4 595.6 L694 595.2 L694.8 595.7 L695.7 597.3 L696.5 599.7 L697.4 603.1 L698.2 607.1 L699.1 611.6 L699.9 616.4 L700.8 621.5 L701.6 626.7 L702.5 631.8 L703.3 636.8 L704.2 641.6 L705 646.2 L705.9 650.6 L706.7 654.7 L707.6 658.5 L708.4 662 L709.3 665.3 L710.1 668.3 L711 671.1 L711.8 673.6 L712.7 675.9 L713.5 678 L714.4 680 L715.2 681.7 L716.1 683.3 L716.9 684.7 L717.8 686 L718.6 687.2 L719.5 688.2 L720.3 689.1 L721.2 689.9 L722 690.6 L722.9 691.2 L723.7 691.7 L724.6 692.1 L725.4 692.4 L726.3 692.6 L727.1 692.7 L728 692.8 L728.8 692.7 L729.7 692.6 L730.5 692.5 L731.4 692.2 L732.2 691.9 L733.1 691.6 L733.9 691.1 L734.8 690.6 L735.6 690 L736.5 689.4 L737.3 688.6 L738.2 687.7 L739 686.8 L739.9 685.7 L740.7 684.5 L741.6 683.1 L742.4 681.7 L743.3 680 L744.1 678.2 L745 676.2 L745.8 674.1 L746.7 671.7 L747.5 669.1 L748.4 666.2 L749.2 663.1 L750.1 659.8 L750.9 656.1 L751.8 652.3 L752.6 648.1 L753.5 643.8 L754.3 639.3 L755.2 634.7 L756 630.1 L756.9 625.7 L757.7 621.5 L758.6 617.7 L759.4 614.6 L760.3 612.2 L761.1 610.7 L762 610.2 L763.1 610.8 L764.2 612.4 L765.4 615 L766.5 618.4 L767.6 622.4 L768.8 626.9 L769.9 631.7 L771 636.7 L772.1 641.7 L773.3 646.5 L774.4 651.2 L775.5 655.7 L776.7 659.8 L777.8 663.8 L778.9 667.4 L780 670.7 L781.2 673.8 L782.3 676.6 L783.4 679.2 L784.6 681.6 L785.7 683.7 L786.8 685.6 L787.9 687.4 L789.1 689 L790.2 690.4 L791.3 691.7 L792.5 692.9 L793.6 694 L794.7 694.9 L795.9 695.7 L797 696.5 L798.1 697.1 L799.2 697.7 L800.4 698.1 L801.5 698.5 L802.6 698.8 L803.8 699.1 L804.9 699.3 L806 699.4 L807.1 699.4 L808.4 699.4 L809.7 699.3 L810.9 699.2 L812.2 699 L813.5 698.8 L814.7 698.5 L816 698.1 L817.2 697.7 L818.5 697.2 L819.8 696.7 L821 696.1 L822.3 695.4 L823.6 694.6 L824.8 693.7 L826.1 692.7 L827.3 691.6 L828.6 690.3 L829.9 689 L831.1 687.4 L832.4 685.7 L833.7 683.8 L834.9 681.7 L836.2 679.4 L837.4 676.9 L838.7 674 L840 670.9 L841.2 667.4 L842.5 663.7 L843.8 659.6 L845 655.2 L846.3 650.6 L847.5 645.7 L848.8 640.7 L850.1 635.7 L851.3 630.9 L852.6 626.5 L853.9 622.7 L855.1 619.8 L856.4 618 L857.7 617.3 L859.3 618.1 L860.9 620.3 L862.5 623.8 L864.1 628.3 L865.7 633.4 L867.3 638.9 L869 644.4 L870.6 649.9 L872.2 655 L873.8 659.9 L875.4 664.4 L877 668.4 L878.6 672.1 L880.3 675.4 L881.9 678.4 L883.5 681.1 L885.1 683.5 L886.7 685.6 L888.3 687.5 L889.9 689.2 L891.6 690.8 L893.2 692.1 L894.8 693.3 L896.4 694.4 L898 695.4 L899.6 696.3 L901.3 697.1 L902.9 697.7 L904.5 698.4 L906.1 698.9 L907.7 699.4 L909.3 699.8 L910.9 700.1 L912.6 700.4 L914.2 700.7 L915.8 700.9 L917.4 701 L919 701.1 L920.6 701.2 L922.2 701.2 L923.9 701.2 L925.5 701.1 L927.2 701 L928.8 700.9 L930.5 700.7 L932.1 700.5 L933.8 700.2 L935.4 700 L937 699.6 L938.7 699.3 L940.3 698.9 L942 698.5 L943.6 698.1 L945.3 697.6 L946.9 697.1" stroke="#0070c0"/>
</g>
<path d="M691.7 474.9V712.3" stroke="#000" stroke-width="3" stroke-dasharray="9.3 3.2" fill="none"/>
<path d="M762.0 474.9V712.3" stroke="#000" stroke-width="3" stroke-dasharray="9.3 3.2" fill="none"/>
<path d="M859.1 474.9V712.3" stroke="#000" stroke-width="3" stroke-dasharray="9.3 3.2" fill="none"/>
<text x="627.6" y="723.3" font-size="33" text-anchor="end" fill="#ff0000" >0</text>
<text x="627.6" y="675.6" font-size="33" text-anchor="end" fill="#ff0000" >20</text>
<text x="627.6" y="627.9" font-size="33" text-anchor="end" fill="#ff0000" >40</text>
<text x="627.6" y="580.3" font-size="33" text-anchor="end" fill="#ff0000" >60</text>
<text x="627.6" y="532.6" font-size="33" text-anchor="end" fill="#ff0000" >80</text>
<text x="627.6" y="484.9" font-size="33" text-anchor="end" fill="#ff0000" >100</text>
<text x="977.0" y="723.3" font-size="33" fill="#0070c0" >0</text>
<text x="977.0" y="683.6" font-size="33" fill="#0070c0" >5</text>
<text x="977.0" y="643.8" font-size="33" fill="#0070c0" >10</text>
<text x="977.0" y="604.1" font-size="33" fill="#0070c0" >15</text>
<text x="977.0" y="564.4" font-size="33" fill="#0070c0" >20</text>
<text x="977.0" y="524.6" font-size="33" fill="#0070c0" >25</text>
<text x="977.0" y="484.9" font-size="33" fill="#0070c0" >30</text>
<text x="656.1" y="761.5" font-size="33.5" text-anchor="middle" >400</text>
<text x="753.2" y="761.5" font-size="33.5" text-anchor="middle" >500</text>
<text x="850.4" y="761.5" font-size="33.5" text-anchor="middle" >600</text>
<text x="947.5" y="761.5" font-size="33.5" text-anchor="middle" >700</text>
<text x="802.8" y="806.0" font-size="33.4" text-anchor="middle" >Wavelength (nm)</text>
<text x="558.5" y="714.9" font-size="33" fill="#ff0000" transform="rotate(-90 558.5 714.9)" >Reflectance (%)</text>
<text x="1027.0" y="615.6" font-size="33" text-anchor="middle" fill="#0070c0" transform="rotate(90 1027.0 615.6)" textLength="266.5" lengthAdjust="spacingAndGlyphs">Transmittance (%)</text>
<path d="M1269.9 652.9h10.5M1269.9 593.6h10.5M1269.9 534.2h10.5M1579.2 664.8h-10.5M1579.2 617.3h-10.5M1579.2 569.9h-10.5M1579.2 522.4h-10.5M1321.5 712.3v-10.5M1373.0 712.3v-10.5M1424.6 712.3v-10.5M1476.1 712.3v-10.5M1527.7 712.3v-10.5" stroke="#000" stroke-width="3" fill="none"/>
<rect x="1269.9" y="474.9" width="309.3" height="237.4" fill="none" stroke="#000" stroke-width="3.5"/>
<g clip-path="url(#pc4)" fill="none" stroke-width="5" stroke-linejoin="round">
<path d="M1271.3 591.3 L1272.8 589.5 L1274.2 587.5 L1275.7 585.2 L1277.2 582.6 L1278.6 579.7 L1280.1 576.5 L1281.6 572.9 L1283 568.8 L1284.5 564.3 L1286 559.4 L1287.5 554.2 L1288.9 548.8 L1290.4 543.3 L1291.9 538.1 L1293.3 533.5 L1294.8 529.8 L1296.3 527.4 L1297.7 526.5 L1298.4 527.1 L1299.1 528.7 L1299.7 531.1 L1300.4 534.3 L1301 537.9 L1301.7 541.7 L1302.4 545.6 L1303 549.4 L1303.7 553.1 L1304.3 556.5 L1305 559.6 L1305.7 562.5 L1306.3 565.1 L1307 567.4 L1307.6 569.5 L1308.3 571.4 L1309 573.1 L1309.6 574.6 L1310.3 575.9 L1310.9 577.2 L1311.6 578.2 L1312.3 579.2 L1312.9 580 L1313.6 580.8 L1314.2 581.5 L1314.9 582.1 L1315.6 582.7 L1316.2 583.1 L1316.9 583.6 L1317.5 583.9 L1318.2 584.3 L1318.9 584.6 L1319.5 584.8 L1320.2 585 L1320.8 585.2 L1321.5 585.3 L1322.2 585.5 L1322.8 585.5 L1323.5 585.6 L1324.1 585.6 L1325.3 585.6 L1326.4 585.5 L1327.6 585.5 L1328.7 585.4 L1329.9 585.2 L1331 585.1 L1332.1 584.9 L1333.3 584.6 L1334.4 584.3 L1335.6 584 L1336.7 583.7 L1337.9 583.3 L1339 582.8 L1340.2 582.3 L1341.3 581.7 L1342.4 581 L1343.6 580.3 L1344.7 579.5 L1345.9 578.5 L1347 577.5 L1348.2 576.3 L1349.3 574.9 L1350.5 573.4 L1351.6 571.7 L1352.7 569.8 L1353.9 567.7 L1355 565.2 L1356.2 562.5 L1357.3 559.5 L1358.5 556.1 L1359.6 552.3 L1360.8 548.2 L1361.9 543.8 L1363 539.3 L1364.2 534.7 L1365.3 530.3 L1366.5 526.4 L1367.6 523.3 L1368.8 521.3 L1369.9 520.6 L1371.2 521.2 L1372.5 523 L1373.8 525.8 L1375.1 529.3 L1376.4 533.3 L1377.6 537.4 L1378.9 541.5 L1380.2 545.4 L1381.5 549.1 L1382.8 552.5 L1384.1 555.6 L1385.4 558.3 L1386.7 560.8 L1387.9 562.9 L1389.2 564.9 L1390.5 566.6 L1391.8 568.1 L1393.1 569.5 L1394.4 570.7 L1395.7 571.8 L1397 572.7 L1398.3 573.5 L1399.5 574.3 L1400.8 575 L1402.1 575.6 L1403.4 576.1 L1404.7 576.6 L1406 577 L1407.3 577.3 L1408.6 577.7 L1409.9 577.9 L1411.1 578.2 L1412.4 578.4 L1413.7 578.6 L1415 578.7 L1416.3 578.9 L1417.6 578.9 L1418.9 579 L1420.2 579 L1421.5 579.1 L1422.7 579 L1423.9 579 L1425.1 578.9 L1426.3 578.8 L1427.5 578.7 L1428.7 578.5 L1429.9 578.3 L1431.1 578.1 L1432.4 577.8 L1433.6 577.5 L1434.8 577.1 L1436 576.7 L1437.2 576.3 L1438.4 575.8 L1439.6 575.2 L1440.8 574.5 L1442.1 573.8 L1443.3 573 L1444.5 572.1 L1445.7 571 L1446.9 569.9 L1448.1 568.6 L1449.3 567.2 L1450.5 565.6 L1451.7 563.8 L1453 561.8 L1454.2 559.6 L1455.4 557.1 L1456.6 554.4 L1457.8 551.4 L1459 548.2 L1460.2 544.7 L1461.4 541.1 L1462.6 537.4 L1463.9 533.7 L1465.1 530.3 L1466.3 527.3 L1467.5 525 L1468.7 523.5 L1469.9 523 L1471.8 523.6 L1473.6 525.6 L1475.5 528.7 L1477.3 532.6 L1479.2 537.1 L1481 541.9 L1482.9 546.7 L1484.8 551.5 L1486.6 556.1 L1488.5 560.3 L1490.3 564.2 L1492.2 567.8 L1494 571 L1495.9 573.9 L1497.8 576.6 L1499.6 578.9 L1501.5 581 L1503.3 582.9 L1505.2 584.6 L1507 586.1 L1508.9 587.4 L1510.7 588.6 L1512.6 589.7 L1514.5 590.6 L1516.3 591.5 L1518.2 592.2 L1520 592.9 L1521.9 593.5 L1523.7 594 L1525.6 594.5 L1527.4 594.9 L1529.3 595.3 L1531.2 595.6 L1533 595.9 L1534.9 596.1 L1536.7 596.3 L1538.6 596.4 L1540.4 596.5 L1542.3 596.5 L1544.1 596.6 L1545.8 596.5 L1547.5 596.3 L1549.2 596 L1550.9 595.6 L1552.6 595.1 L1554.3 594.4 L1556 593.7 L1557.7 592.8 L1559.4 591.9 L1561.1 590.9 L1562.8 589.8 L1564.4 588.6 L1566.1 587.3 L1567.8 586 L1569.5 584.6 L1571.2 583.2 L1572.9 581.7 L1574.6 580.3 L1576.3 578.8 L1578 577.3" stroke="#ff0000"/>
<path d="M1270.3 693.5 L1270.8 693.4 L1271.4 693.3 L1272 693.3 L1272.7 693.3 L1273.4 693.3 L1274 693.2 L1274.7 693.1 L1275.4 693 L1276.1 692.9 L1276.8 692.8 L1277.5 692.6 L1278.2 692.4 L1278.9 692.1 L1279.6 691.9 L1280.3 691.6 L1281 691.2 L1281.7 690.8 L1282.4 690.4 L1283.1 689.9 L1283.8 689.4 L1284.5 688.7 L1285.2 688 L1285.9 687.3 L1286.6 686.4 L1287.3 685.4 L1288 684.3 L1288.7 683 L1289.4 681.6 L1290.1 680 L1290.8 678.2 L1291.4 676.1 L1292.1 673.8 L1292.8 671.3 L1293.5 668.5 L1294.2 665.5 L1294.9 662.2 L1295.6 658.8 L1296.3 655.4 L1297 652.1 L1297.7 649.2 L1298.4 646.9 L1299.1 645.4 L1299.8 644.9 L1300.7 645.4 L1301.6 646.8 L1302.5 649 L1303.5 651.8 L1304.4 655 L1305.3 658.5 L1306.2 662 L1307.1 665.4 L1308 668.7 L1308.9 671.7 L1309.9 674.5 L1310.8 677.1 L1311.7 679.4 L1312.6 681.5 L1313.5 683.4 L1314.4 685.1 L1315.4 686.6 L1316.3 688 L1317.2 689.2 L1318.1 690.3 L1319 691.2 L1319.9 692.1 L1320.8 692.8 L1321.8 693.5 L1322.7 694.2 L1323.6 694.7 L1324.5 695.2 L1325.4 695.6 L1326.3 696 L1327.2 696.3 L1328.2 696.6 L1329.1 696.9 L1330 697.1 L1330.9 697.3 L1331.8 697.5 L1332.7 697.6 L1333.7 697.7 L1334.6 697.8 L1335.5 697.8 L1336.4 697.8 L1337.2 697.8 L1338.1 697.8 L1338.9 697.7 L1339.8 697.6 L1340.6 697.5 L1341.4 697.4 L1342.3 697.3 L1343.1 697.1 L1343.9 696.9 L1344.8 696.7 L1345.6 696.4 L1346.5 696.1 L1347.3 695.8 L1348.1 695.4 L1349 694.9 L1349.8 694.5 L1350.6 693.9 L1351.5 693.3 L1352.3 692.6 L1353.2 691.9 L1354 691 L1354.8 690.1 L1355.7 689 L1356.5 687.8 L1357.3 686.5 L1358.2 685 L1359 683.4 L1359.9 681.6 L1360.7 679.6 L1361.5 677.3 L1362.4 674.9 L1363.2 672.4 L1364 669.7 L1364.9 666.9 L1365.7 664.2 L1366.6 661.7 L1367.4 659.5 L1368.2 657.8 L1369.1 656.7 L1369.9 656.3 L1371 656.7 L1372.1 657.8 L1373.2 659.6 L1374.3 662 L1375.4 664.6 L1376.6 667.4 L1377.7 670.3 L1378.8 673.1 L1379.9 675.8 L1381 678.3 L1382.1 680.6 L1383.2 682.7 L1384.3 684.6 L1385.4 686.4 L1386.5 687.9 L1387.6 689.3 L1388.7 690.5 L1389.9 691.6 L1391 692.6 L1392.1 693.5 L1393.2 694.3 L1394.3 695 L1395.4 695.6 L1396.5 696.2 L1397.6 696.7 L1398.7 697.2 L1399.8 697.6 L1400.9 697.9 L1402 698.2 L1403.2 698.5 L1404.3 698.8 L1405.4 699 L1406.5 699.1 L1407.6 699.3 L1408.7 699.4 L1409.8 699.5 L1410.9 699.6 L1412 699.7 L1413.1 699.7 L1414.2 699.7 L1415.6 699.7 L1417 699.7 L1418.4 699.6 L1419.8 699.5 L1421.3 699.3 L1422.7 699.2 L1424.1 699 L1425.5 698.7 L1426.9 698.5 L1428.3 698.2 L1429.7 697.8 L1431.1 697.4 L1432.5 696.9 L1433.9 696.4 L1435.3 695.8 L1436.7 695.2 L1438.1 694.4 L1439.5 693.6 L1440.9 692.7 L1442.3 691.7 L1443.7 690.5 L1445.1 689.3 L1446.5 687.8 L1447.9 686.2 L1449.3 684.4 L1450.7 682.4 L1452.1 680.2 L1453.5 677.7 L1454.9 675 L1456.3 672 L1457.7 668.7 L1459.1 665.3 L1460.5 661.6 L1461.9 657.9 L1463.3 654.2 L1464.7 650.8 L1466.1 647.8 L1467.5 645.5 L1468.9 644 L1470.3 643.5 L1471.9 643.9 L1473.6 645 L1475.2 646.8 L1476.8 649.1 L1478.4 651.8 L1480 654.6 L1481.6 657.5 L1483.2 660.3 L1484.8 663 L1486.5 665.5 L1488.1 667.8 L1489.7 669.9 L1491.3 671.8 L1492.9 673.5 L1494.5 675.1 L1496.1 676.5 L1497.8 677.7 L1499.4 678.8 L1501 679.8 L1502.6 680.7 L1504.2 681.5 L1505.8 682.2 L1507.4 682.8 L1509.1 683.4 L1510.7 683.9 L1512.3 684.3 L1513.9 684.7 L1515.5 685.1 L1517.1 685.4 L1518.7 685.7 L1520.3 685.9 L1522 686.1 L1523.6 686.3 L1525.2 686.5 L1526.8 686.6 L1528.4 686.7 L1530 686.8 L1531.6 686.9 L1533.3 686.9 L1534.9 686.9 L1536.7 686.8 L1538.5 686.7 L1540.3 686.4 L1542.1 686 L1543.9 685.5 L1545.7 685 L1547.5 684.3 L1549.2 683.5 L1551 682.6 L1552.8 681.7 L1554.6 680.7 L1556.4 679.6 L1558.2 678.4 L1560 677.2 L1561.8 675.9 L1563.6 674.6 L1565.4 673.3 L1567.2 672 L1569 670.6 L1570.8 669.2 L1572.6 667.9 L1574.4 666.5 L1576.2 665.2 L1578 663.9" stroke="#0070c0"/>
</g>
<path d="M1299.7 474.9V712.3" stroke="#000" stroke-width="3" stroke-dasharray="9.3 3.2" fill="none"/>
<path d="M1369.8 474.9V712.3" stroke="#000" stroke-width="3" stroke-dasharray="9.3 3.2" fill="none"/>
<path d="M1472.2 474.9V712.3" stroke="#000" stroke-width="3" stroke-dasharray="9.3 3.2" fill="none"/>
<text x="1241.4" y="723.3" font-size="33" text-anchor="end" fill="#ff0000" >0</text>
<text x="1241.4" y="663.7" font-size="33" text-anchor="end" fill="#ff0000" >20</text>
<text x="1241.4" y="604.1" font-size="33" text-anchor="end" fill="#ff0000" >40</text>
<text x="1241.4" y="544.5" font-size="33" text-anchor="end" fill="#ff0000" >60</text>
<text x="1241.4" y="484.9" font-size="33" text-anchor="end" fill="#ff0000" >80</text>
<text x="1607.2" y="723.3" font-size="33" fill="#0070c0" >0</text>
<text x="1607.2" y="675.6" font-size="33" fill="#0070c0" >2</text>
<text x="1607.2" y="627.9" font-size="33" fill="#0070c0" >4</text>
<text x="1607.2" y="580.3" font-size="33" fill="#0070c0" >6</text>
<text x="1607.2" y="532.6" font-size="33" fill="#0070c0" >8</text>
<text x="1607.2" y="484.9" font-size="33" fill="#0070c0" >10</text>
<text x="1269.9" y="761.5" font-size="33.5" text-anchor="middle" >400</text>
<text x="1373.0" y="761.5" font-size="33.5" text-anchor="middle" >500</text>
<text x="1476.1" y="761.5" font-size="33.5" text-anchor="middle" >600</text>
<text x="1579.2" y="761.5" font-size="33.5" text-anchor="middle" >700</text>
<text x="1425.6" y="806.0" font-size="33.4" text-anchor="middle" >Wavelength (nm)</text>
<text x="1191.0" y="714.9" font-size="33" fill="#ff0000" transform="rotate(-90 1191.0 714.9)" >Reflectance (%)</text>
<text x="1657.8" y="616.5" font-size="33" text-anchor="middle" fill="#0070c0" transform="rotate(90 1657.8 616.5)" textLength="267" lengthAdjust="spacingAndGlyphs">Transmittance (%)</text>
<rect x="8" y="1028.5" width="144" height="427.5" rx="6" ry="6" fill="#fff" stroke="#2a2a2a" stroke-width="2.1"/>
<path d="M153.3 1213.2v2.6M153.3 1225.4v2.6" stroke="#222" stroke-width="2.2"/>
<circle cx="53" cy="1054.2" r="9.8" fill="#1f77b4" stroke="#111" stroke-width="2.4"/>
<text x="94.5" y="1062.7" font-size="32" >Ag</text>
<circle cx="53" cy="1100.6" r="9.8" fill="#ff7f0e" stroke="#111" stroke-width="2.4"/>
<text x="94.5" y="1109.1" font-size="32" >Al</text>
<circle cx="53" cy="1147.0" r="9.8" fill="#2ca02c" stroke="#111" stroke-width="2.4"/>
<text x="94.5" y="1155.5" font-size="32" >Ni</text>
<circle cx="53" cy="1193.4" r="9.8" fill="#d62728" stroke="#111" stroke-width="2.4"/>
<text x="94.5" y="1201.9" font-size="32" >Ti</text>
<circle cx="53" cy="1239.8" r="9.8" fill="#9467bd" stroke="#111" stroke-width="2.4"/>
<text x="94.5" y="1248.3" font-size="32" >Cr</text>
<circle cx="53" cy="1286.2" r="9.8" fill="#8c564b" stroke="#111" stroke-width="2.4"/>
<text x="94.5" y="1294.7" font-size="32" >Mo</text>
<circle cx="53" cy="1332.6" r="9.8" fill="#e377c2" stroke="#111" stroke-width="2.4"/>
<text x="94.5" y="1341.1" font-size="32" >W</text>
<circle cx="53" cy="1379.0" r="9.8" fill="#7f7f7f" stroke="#111" stroke-width="2.4"/>
<text x="94.5" y="1387.5" font-size="32" >Si</text>
<circle cx="53" cy="1425.4" r="9.8" fill="#bcbd22" stroke="#111" stroke-width="2.4"/>
<text x="94.5" y="1433.9" font-size="32" >Ge</text>
<g clip-path="url(#hc1)" stroke="#111" stroke-width="2"><circle cx="268.8" cy="1279.9" r="9.6" fill="#1f77b4"/><circle cx="314.5" cy="1146.3" r="9.6" fill="#ff7f0e"/><circle cx="370.0" cy="1283.9" r="9.6" fill="#2ca02c"/><circle cx="375.9" cy="1315.1" r="9.6" fill="#d62728"/><circle cx="451.3" cy="1279.9" r="9.6" fill="#9467bd"/><circle cx="487.0" cy="1270.5" r="9.6" fill="#8c564b"/><circle cx="470.6" cy="1310.1" r="9.6" fill="#e377c2"/><circle cx="523.3" cy="1413.6" r="9.6" fill="#7f7f7f"/><circle cx="498.7" cy="1348.3" r="9.6" fill="#bcbd22"/></g>
<path d="M324.4 1444.8v-6M382.9 1444.8v-6M441.4 1444.8v-6M499.9 1444.8v-6M265.9 1345.8h6M265.9 1246.8h6M265.9 1147.8h6M265.9 1048.8h6" stroke="#444" stroke-width="1.6" fill="none"/>
<rect x="265.9" y="949.75" width="292.5" height="495.04999999999995" fill="none" stroke="#444" stroke-width="2.1"/>
<text x="265.9" y="1481.5" font-size="40.5" text-anchor="middle" textLength="24.1" lengthAdjust="spacingAndGlyphs">0</text>
<text x="324.4" y="1481.5" font-size="40.5" text-anchor="middle" textLength="24.1" lengthAdjust="spacingAndGlyphs">1</text>
<text x="382.9" y="1481.5" font-size="40.5" text-anchor="middle" textLength="24.1" lengthAdjust="spacingAndGlyphs">2</text>
<text x="441.4" y="1481.5" font-size="40.5" text-anchor="middle" textLength="24.1" lengthAdjust="spacingAndGlyphs">3</text>
<text x="499.9" y="1481.5" font-size="40.5" text-anchor="middle" textLength="24.1" lengthAdjust="spacingAndGlyphs">4</text>
<text x="558.4" y="1481.5" font-size="40.5" text-anchor="middle" textLength="24.1" lengthAdjust="spacingAndGlyphs">5</text>
<text x="258.9" y="1359.7" font-size="40.5" text-anchor="end" textLength="24.1" lengthAdjust="spacingAndGlyphs">2</text>
<text x="258.9" y="1260.7" font-size="40.5" text-anchor="end" textLength="24.1" lengthAdjust="spacingAndGlyphs">4</text>
<text x="258.9" y="1161.7" font-size="40.5" text-anchor="end" textLength="24.1" lengthAdjust="spacingAndGlyphs">6</text>
<text x="258.9" y="1062.7" font-size="40.5" text-anchor="end" textLength="24.1" lengthAdjust="spacingAndGlyphs">8</text>
<text x="258.9" y="963.6" font-size="40.5" text-anchor="end" textLength="48.2" lengthAdjust="spacingAndGlyphs">10</text>
<text x="411.1" y="936.8" font-size="41" text-anchor="middle" textLength="121.9" lengthAdjust="spacingAndGlyphs">20 nm</text>
<text x="413.1" y="1530.0" font-size="40.5" text-anchor="middle" textLength="24.1" lengthAdjust="spacingAndGlyphs">n</text>
<text x="196.5" y="1199.3" font-size="40.5" text-anchor="middle" transform="rotate(-90 196.5 1199.3)" >k</text>
<rect x="577" y="949.8" width="24" height="495.0" fill="url(#cb1)" stroke="#333" stroke-width="1.6"/>
<path d="M601 949.8h6M601 1114.8h6M601 1279.8h6M601 1444.8h6" stroke="#444" stroke-width="1.6"/>
<text x="615.0" y="964.0" font-size="43" font-style="italic" style='font-family:"DejaVu Sans", sans-serif' >&#960;</text>
<text x="616.0" y="1449.5" font-size="40.5" >0</text>
<text x="625.5" y="1118.0" font-size="31" text-anchor="middle" style='font-family:"DejaVu Sans", sans-serif' >2</text>
<path d="M615.5 1124h20" stroke="#000" stroke-width="2"/>
<text x="625.5" y="1152.0" font-size="31" text-anchor="middle" style='font-family:"DejaVu Sans", sans-serif' >3</text>
<text x="639.0" y="1134.0" font-size="43" font-style="italic" style='font-family:"DejaVu Sans", sans-serif' >&#960;</text>
<text x="625.5" y="1281.0" font-size="31" text-anchor="middle" style='font-family:"DejaVu Sans", sans-serif' >1</text>
<path d="M615.5 1287h20" stroke="#000" stroke-width="2"/>
<text x="625.5" y="1315.0" font-size="31" text-anchor="middle" style='font-family:"DejaVu Sans", sans-serif' >3</text>
<text x="639.0" y="1297.0" font-size="43" font-style="italic" style='font-family:"DejaVu Sans", sans-serif' >&#960;</text>
<g clip-path="url(#hc2)" stroke="#111" stroke-width="2"><circle cx="782.4" cy="1280.0" r="9.6" fill="#1f77b4"/><circle cx="827.1" cy="1146.3" r="9.6" fill="#ff7f0e"/><circle cx="881.6" cy="1283.9" r="9.6" fill="#2ca02c"/><circle cx="887.3" cy="1315.1" r="9.6" fill="#d62728"/><circle cx="961.3" cy="1280.0" r="9.6" fill="#9467bd"/><circle cx="996.2" cy="1270.6" r="9.6" fill="#8c564b"/><circle cx="980.2" cy="1310.2" r="9.6" fill="#e377c2"/><circle cx="1031.8" cy="1413.6" r="9.6" fill="#7f7f7f"/><circle cx="1007.7" cy="1348.3" r="9.6" fill="#bcbd22"/></g>
<path d="M836.8 1444.8v-6M894.2 1444.8v-6M951.5 1444.8v-6M1008.9 1444.8v-6M779.5 1345.8h6M779.5 1246.8h6M779.5 1147.8h6M779.5 1048.8h6" stroke="#444" stroke-width="1.6" fill="none"/>
<rect x="779.5" y="949.8" width="286.70000000000005" height="495.0" fill="none" stroke="#444" stroke-width="2.1"/>
<text x="779.5" y="1481.5" font-size="40.5" text-anchor="middle" textLength="24.1" lengthAdjust="spacingAndGlyphs">0</text>
<text x="836.8" y="1481.5" font-size="40.5" text-anchor="middle" textLength="24.1" lengthAdjust="spacingAndGlyphs">1</text>
<text x="894.2" y="1481.5" font-size="40.5" text-anchor="middle" textLength="24.1" lengthAdjust="spacingAndGlyphs">2</text>
<text x="951.5" y="1481.5" font-size="40.5" text-anchor="middle" textLength="24.1" lengthAdjust="spacingAndGlyphs">3</text>
<text x="1008.9" y="1481.5" font-size="40.5" text-anchor="middle" textLength="24.1" lengthAdjust="spacingAndGlyphs">4</text>
<text x="1066.2" y="1481.5" font-size="40.5" text-anchor="middle" textLength="24.1" lengthAdjust="spacingAndGlyphs">5</text>
<text x="772.5" y="1359.7" font-size="40.5" text-anchor="end" textLength="24.1" lengthAdjust="spacingAndGlyphs">2</text>
<text x="772.5" y="1260.7" font-size="40.5" text-anchor="end" textLength="24.1" lengthAdjust="spacingAndGlyphs">4</text>
<text x="772.5" y="1161.7" font-size="40.5" text-anchor="end" textLength="24.1" lengthAdjust="spacingAndGlyphs">6</text>
<text x="772.5" y="1062.7" font-size="40.5" text-anchor="end" textLength="24.1" lengthAdjust="spacingAndGlyphs">8</text>
<text x="772.5" y="963.7" font-size="40.5" text-anchor="end" textLength="48.2" lengthAdjust="spacingAndGlyphs">10</text>
<text x="921.9" y="936.8" font-size="41" text-anchor="middle" textLength="121.9" lengthAdjust="spacingAndGlyphs">20 nm</text>
<text x="923.9" y="1530.0" font-size="40.5" text-anchor="middle" textLength="24.1" lengthAdjust="spacingAndGlyphs">n</text>
<text x="709.0" y="1199.3" font-size="40.5" text-anchor="middle" transform="rotate(-90 709.0 1199.3)" >k</text>
<rect x="1083" y="949.8" width="26" height="495.0" fill="url(#cb2)" stroke="#333" stroke-width="1.6"/>
<path d="M1109 1444.8h6M1109 1345.4h6M1109 1246.0h6M1109 1146.6h6M1109 1047.2h6" stroke="#444" stroke-width="1.6"/>
<text x="1119.0" y="1458.7" font-size="40.5" textLength="59.5" lengthAdjust="spacingAndGlyphs">0.0</text>
<text x="1119.0" y="1359.3" font-size="40.5" textLength="59.5" lengthAdjust="spacingAndGlyphs">0.2</text>
<text x="1119.0" y="1259.9" font-size="40.5" textLength="59.5" lengthAdjust="spacingAndGlyphs">0.4</text>
<text x="1119.0" y="1160.5" font-size="40.5" textLength="59.5" lengthAdjust="spacingAndGlyphs">0.6</text>
<text x="1119.0" y="1061.1" font-size="40.5" textLength="59.5" lengthAdjust="spacingAndGlyphs">0.8</text>
<g clip-path="url(#hc3)" stroke="#111" stroke-width="2" opacity="0.85"><circle cx="1291.7" cy="1279.8" r="9.6" fill="#1f77b4"/><circle cx="1334.6" cy="1146.1" r="9.6" fill="#ff7f0e"/><circle cx="1386.7" cy="1283.7" r="9.6" fill="#2ca02c"/><circle cx="1392.2" cy="1314.9" r="9.6" fill="#d62728"/><circle cx="1463.0" cy="1279.8" r="9.6" fill="#9467bd"/><circle cx="1496.5" cy="1270.4" r="9.6" fill="#8c564b"/><circle cx="1481.2" cy="1310.0" r="9.6" fill="#e377c2"/><circle cx="1530.6" cy="1413.4" r="9.6" fill="#7f7f7f"/><circle cx="1507.5" cy="1348.1" r="9.6" fill="#bcbd22"/></g>
<path d="M1343.9 1444.6v-6M1398.8 1444.6v-6M1453.7 1444.6v-6M1508.6 1444.6v-6M1289 1345.6h6M1289 1246.6h6M1289 1147.6h6M1289 1048.6h6" stroke="#444" stroke-width="1.6" fill="none"/>
<rect x="1289" y="949.6" width="274.5" height="494.9999999999999" fill="none" stroke="#444" stroke-width="2.1"/>
<text x="1289.0" y="1481.3" font-size="40.5" text-anchor="middle" textLength="24.1" lengthAdjust="spacingAndGlyphs">0</text>
<text x="1343.9" y="1481.3" font-size="40.5" text-anchor="middle" textLength="24.1" lengthAdjust="spacingAndGlyphs">1</text>
<text x="1398.8" y="1481.3" font-size="40.5" text-anchor="middle" textLength="24.1" lengthAdjust="spacingAndGlyphs">2</text>
<text x="1453.7" y="1481.3" font-size="40.5" text-anchor="middle" textLength="24.1" lengthAdjust="spacingAndGlyphs">3</text>
<text x="1508.6" y="1481.3" font-size="40.5" text-anchor="middle" textLength="24.1" lengthAdjust="spacingAndGlyphs">4</text>
<text x="1563.5" y="1481.3" font-size="40.5" text-anchor="middle" textLength="24.1" lengthAdjust="spacingAndGlyphs">5</text>
<text x="1282.0" y="1464.6" font-size="40.5" text-anchor="end" textLength="24.1" lengthAdjust="spacingAndGlyphs">0</text>
<text x="1282.0" y="1359.5" font-size="40.5" text-anchor="end" textLength="24.1" lengthAdjust="spacingAndGlyphs">2</text>
<text x="1282.0" y="1260.5" font-size="40.5" text-anchor="end" textLength="24.1" lengthAdjust="spacingAndGlyphs">4</text>
<text x="1282.0" y="1161.5" font-size="40.5" text-anchor="end" textLength="24.1" lengthAdjust="spacingAndGlyphs">6</text>
<text x="1282.0" y="1062.5" font-size="40.5" text-anchor="end" textLength="24.1" lengthAdjust="spacingAndGlyphs">8</text>
<text x="1282.0" y="963.5" font-size="40.5" text-anchor="end" textLength="48.2" lengthAdjust="spacingAndGlyphs">10</text>
<text x="1425.2" y="936.6" font-size="41" text-anchor="middle" textLength="121.9" lengthAdjust="spacingAndGlyphs">20 nm</text>
<text x="1427.2" y="1529.8" font-size="40.5" text-anchor="middle" textLength="24.1" lengthAdjust="spacingAndGlyphs">n</text>
<text x="1218.0" y="1199.1" font-size="40.5" text-anchor="middle" transform="rotate(-90 1218.0 1199.1)" >k</text>
<rect x="1580.5" y="949.6" width="26" height="494.9999999999999" fill="url(#cb3)" stroke="#333" stroke-width="1.6"/>
<path d="M1606.5 1444.6h6M1606.5 1345.6h6M1606.5 1246.6h6M1606.5 1147.6h6M1606.5 1048.6h6M1606.5 949.6h6" stroke="#444" stroke-width="1.6"/>
<text x="1617.7" y="1458.5" font-size="40.5" textLength="59.5" lengthAdjust="spacingAndGlyphs">0.0</text>
<text x="1617.7" y="1359.5" font-size="40.5" textLength="59.5" lengthAdjust="spacingAndGlyphs">0.2</text>
<text x="1617.7" y="1260.5" font-size="40.5" textLength="59.5" lengthAdjust="spacingAndGlyphs">0.4</text>
<text x="1617.7" y="1161.5" font-size="40.5" textLength="59.5" lengthAdjust="spacingAndGlyphs">0.6</text>
<text x="1617.7" y="1062.5" font-size="40.5" textLength="59.5" lengthAdjust="spacingAndGlyphs">0.8</text>
<text x="1617.7" y="963.5" font-size="40.5" textLength="59.5" lengthAdjust="spacingAndGlyphs">1.0</text>
<text x="-1.5" y="1583.0" font-size="38.5" >(a)</text>
<text x="369.0" y="1583.0" font-size="38.5" >(b)</text>
<text x="932.0" y="1583.0" font-size="38.5" >(c)</text>
<text x="1525.0" y="1583.0" font-size="38.5" >(d)</text>
<path d="M84.7 1719.9L130.7 1674.3L317 1674.3L271 1719.9Z" fill="#3b3838" stroke="#000" stroke-width="2.6" stroke-linejoin="round"/>
<path d="M271 1719.9L317 1674.3L317 1731.7L271 1777.3Z" fill="#262424" stroke="#000" stroke-width="2.6" stroke-linejoin="round"/>
<path d="M271 1777.3L317 1731.7L317 1883.3L271 1928.9Z" fill="#005087" stroke="#000" stroke-width="2.6" stroke-linejoin="round"/>
<path d="M271 1928.9L317 1883.3L317 1942.1L271 1987.7Z" fill="#404040" stroke="#000" stroke-width="2.6" stroke-linejoin="round"/>
<path d="M84.7 1719.9L271 1719.9L271 1777.3L84.7 1777.3Z" fill="#3b3838" stroke="#000" stroke-width="2.6" stroke-linejoin="round"/>
<path d="M84.7 1777.3L271 1777.3L271 1928.9L84.7 1928.9Z" fill="#00a2ff" stroke="#000" stroke-width="2.6" stroke-linejoin="round"/>
<path d="M84.7 1928.9L271 1928.9L271 1987.7L84.7 1987.7Z" fill="#898989" stroke="#000" stroke-width="2.6" stroke-linejoin="round"/>
<text x="178.0" y="1762.0" font-size="38" text-anchor="middle" fill="#fff" font-weight="bold" >Cr</text>
<text x="178.0" y="1867.0" font-size="38.5" text-anchor="middle" fill="#fff" font-weight="bold" >SiO<tspan font-size="24" dy="10">2</tspan></text>
<text x="178.0" y="1972.5" font-size="39" text-anchor="middle" fill="#fff" font-weight="bold" >Ag</text>
<path d="M129.8 1636.5L159.8 1636.5L159.8 1584L174.8 1584L144.8 1548L114.8 1584L129.8 1584Z" fill="#ff0000" stroke="#000" stroke-width="2.6" stroke-linejoin="round"/>
<path d="M129.8 2012L159.8 2012L159.8 2063.5L174.8 2063.5L144.8 2099.5L114.8 2063.5L129.8 2063.5Z" fill="#ff0000" stroke="#000" stroke-width="2.6" stroke-linejoin="round"/>
<text x="79.5" y="1627.5" font-size="37" fill="#ff0000" font-weight="bold" stroke="#4a0000" stroke-width="4.4" paint-order="stroke" stroke-linejoin="round">T</text>
<text x="79.5" y="2090.5" font-size="37" fill="#ff0000" font-weight="bold" stroke="#4a0000" stroke-width="4.4" paint-order="stroke" stroke-linejoin="round">T</text>
<text x="284.5" y="1629.0" font-size="35.5" fill="#ffc000" font-weight="bold" stroke="#3e2c00" stroke-width="4.4" paint-order="stroke" stroke-linejoin="round">R</text>
<text x="287.5" y="2046.5" font-size="35.5" fill="#00b050" font-weight="bold" stroke="#00351a" stroke-width="4.4" paint-order="stroke" stroke-linejoin="round">bR</text>
<path d="M206 1551 L227 1551 C229 1590 236 1622 245 1634 C240 1636 233 1636 229 1633 C216 1612 208 1585 206 1551Z" fill="#bf9000" stroke="#000" stroke-width="2.6" stroke-linejoin="round"/>
<path d="M236 1633 C246 1620 251 1600 253 1581 L242 1581 L263.5 1549 L283 1581 L272 1581 C270 1605 263 1622 253 1634 C247 1636 240 1636 236 1633Z" fill="#ffc000" stroke="#000" stroke-width="2.6" stroke-linejoin="round"/>
<path d="M204 2097 C205 2065 212 2035 226 2017 C231 2014 238 2014 243 2017 C233 2032 227 2062 226 2097Z" fill="#1e9e48" stroke="#000" stroke-width="2.6" stroke-linejoin="round"/>
<path d="M232 2016 C238 2013 247 2013 252 2016 C262 2030 268 2048 270 2068 L281 2068 L262.5 2099.5 L240 2068 L251 2068 C249 2050 244 2033 236 2021Z" fill="#00b050" stroke="#000" stroke-width="2.6" stroke-linejoin="round"/>
<path d="M506.6 1915.0h12.5M506.6 1844.5h12.5M506.6 1773.9h12.5M506.6 1703.4h12.5M571.2 1985.5v-12.5M635.9 1985.5v-12.5M700.5 1985.5v-12.5M765.2 1985.5v-12.5M829.9 1985.5v-12.5" stroke="#000" stroke-width="3.4" fill="none"/>
<rect x="506.6" y="1632.9" width="387.9" height="352.6" fill="none" stroke="#000" stroke-width="4.3"/>
<g clip-path="url(#pc5)" fill="none" stroke-width="5.4" stroke-linejoin="round">
<path d="M506.6 1752.1 L509.2 1751 L511.8 1749.9 L514.4 1748.9 L517 1747.8 L519.6 1746.8 L522.2 1745.8 L524.8 1744.8 L527.4 1743.9 L530 1743 L532.6 1742.2 L535.2 1741.4 L537.8 1740.6 L540.4 1740 L543 1739.3 L545.7 1738.8 L548.3 1738.3 L550.9 1738 L553.5 1737.6 L556.1 1737.4 L558.7 1737.3 L561.3 1737.3 L563.9 1737.3 L566.5 1737.4 L569.1 1737.6 L571.7 1737.9 L574.3 1738.2 L576.9 1738.6 L579.5 1739 L582.1 1739.4 L584.7 1739.8 L587.3 1740.3 L589.9 1740.7 L592.5 1741.3 L595.1 1741.8 L597.7 1742.5 L600.3 1743.3 L602.9 1744.1 L605.5 1745.1 L608.1 1746.3 L610.7 1747.6 L613.3 1749.1 L615.9 1750.8 L618.5 1752.6 L621.1 1754.6 L623.8 1756.7 L626.4 1759 L629 1761.5 L631.6 1764.1 L634.2 1766.8 L636.8 1769.7 L639.4 1772.7 L642 1775.8 L644.6 1779.1 L647.2 1782.4 L649.8 1785.9 L652.4 1789.4 L655 1792.9 L657.6 1796.4 L660.2 1799.9 L662.8 1803.2 L665.4 1806.5 L668 1809.5 L670.6 1812.4 L673.2 1815.1 L675.8 1817.5 L678.4 1819.7 L681 1821.6 L683.6 1823.2 L686.2 1824.4 L688.8 1825.3 L691.4 1825.9 L694 1826 L696.6 1825.8 L699.2 1825.2 L701.9 1824.2 L704.5 1822.9 L707.1 1821.3 L709.7 1819.4 L712.3 1817.2 L714.9 1814.8 L717.5 1812.1 L720.1 1809.2 L722.7 1806.1 L725.3 1802.9 L727.9 1799.7 L730.5 1796.4 L733.1 1793.1 L735.7 1789.8 L738.3 1786.6 L740.9 1783.4 L743.5 1780.2 L746.1 1777.1 L748.7 1774 L751.3 1771 L753.9 1767.9 L756.5 1764.9 L759.1 1762 L761.7 1759.1 L764.3 1756.2 L766.9 1753.5 L769.5 1750.8 L772.1 1748.3 L774.7 1745.8 L777.3 1743.4 L780 1741.1 L782.6 1738.9 L785.2 1736.8 L787.8 1734.8 L790.4 1732.8 L793 1730.9 L795.6 1729.1 L798.2 1727.4 L800.8 1725.7 L803.4 1724.1 L806 1722.6 L808.6 1721.1 L811.2 1719.7 L813.8 1718.3 L816.4 1717 L819 1715.8 L821.6 1714.6 L824.2 1713.4 L826.8 1712.3 L829.4 1711.3 L832 1710.3 L834.6 1709.3 L837.2 1708.3 L839.8 1707.4 L842.4 1706.6 L845 1705.7 L847.6 1704.9 L850.2 1704.2 L852.8 1703.4 L855.4 1702.7 L858.1 1702 L860.7 1701.3 L863.3 1700.6 L865.9 1700 L868.5 1699.3 L871.1 1698.7 L873.7 1698.1 L876.3 1697.5 L878.9 1696.9 L881.5 1696.4 L884.1 1695.8 L886.7 1695.2 L889.3 1694.7 L891.9 1694.1 L894.5 1693.5" stroke="#00b050"/>
<path d="M506.6 1884.7 L509.2 1884.1 L511.8 1883.5 L514.4 1882.9 L517 1882.3 L519.6 1881.7 L522.2 1881.1 L524.8 1880.5 L527.4 1879.8 L530 1879.2 L532.6 1878.5 L535.2 1877.8 L537.8 1877.1 L540.4 1876.3 L543 1875.5 L545.7 1874.7 L548.3 1873.9 L550.9 1873 L553.5 1872.2 L556.1 1871.3 L558.7 1870.4 L561.3 1869.4 L563.9 1868.4 L566.5 1867.5 L569.1 1866.4 L571.7 1865.4 L574.3 1864.4 L576.9 1863.3 L579.5 1862.2 L582.1 1861.1 L584.7 1860 L587.3 1858.8 L589.9 1857.6 L592.5 1856.4 L595.1 1855.1 L597.7 1853.8 L600.3 1852.5 L602.9 1851.1 L605.5 1849.7 L608.1 1848.2 L610.7 1846.7 L613.3 1845.1 L615.9 1843.4 L618.5 1841.5 L621.1 1839.5 L623.8 1837.3 L626.4 1834.7 L629 1831.9 L631.6 1828.9 L634.2 1825.6 L636.8 1822.1 L639.4 1818.4 L642 1814.6 L644.6 1810.7 L647.2 1806.8 L649.8 1802.8 L652.4 1798.7 L655 1794.5 L657.6 1790.2 L660.2 1785.8 L662.8 1781.2 L665.4 1776.5 L668 1771.7 L670.6 1766.9 L673.2 1762.1 L675.8 1757.4 L678.4 1752.8 L681 1748.4 L683.6 1744.2 L686.2 1740.2 L688.8 1736.4 L691.4 1732.9 L694 1729.7 L696.6 1726.6 L699.2 1723.9 L701.9 1721.4 L704.5 1719.2 L707.1 1717.3 L709.7 1715.7 L712.3 1714.3 L714.9 1713.2 L717.5 1712.4 L720.1 1711.9 L722.7 1711.7 L725.3 1711.8 L727.9 1712.2 L730.5 1712.7 L733.1 1713.5 L735.7 1714.5 L738.3 1715.6 L740.9 1716.9 L743.5 1718.2 L746.1 1719.7 L748.7 1721.3 L751.3 1722.9 L753.9 1724.6 L756.5 1726.3 L759.1 1728.1 L761.7 1729.9 L764.3 1731.7 L766.9 1733.5 L769.5 1735.3 L772.1 1737.1 L774.7 1738.9 L777.3 1740.6 L780 1742.5 L782.6 1744.3 L785.2 1746.2 L787.8 1748.2 L790.4 1750.3 L793 1752.4 L795.6 1754.5 L798.2 1756.7 L800.8 1758.8 L803.4 1761 L806 1763.2 L808.6 1765.4 L811.2 1767.5 L813.8 1769.6 L816.4 1771.7 L819 1773.6 L821.6 1775.6 L824.2 1777.4 L826.8 1779.2 L829.4 1780.8 L832 1782.5 L834.6 1784 L837.2 1785.5 L839.8 1786.9 L842.4 1788.3 L845 1789.7 L847.6 1790.9 L850.2 1792.2 L852.8 1793.4 L855.4 1794.6 L858.1 1795.7 L860.7 1796.8 L863.3 1797.9 L865.9 1799 L868.5 1800.1 L871.1 1801.1 L873.7 1802.1 L876.3 1803.1 L878.9 1804.1 L881.5 1805.1 L884.1 1806.1 L886.7 1807 L889.3 1808 L891.9 1809 L894.5 1809.9" stroke="#ffc000"/>
<path d="M506.6 1974.2 L509.2 1974.3 L511.8 1974.4 L514.4 1974.4 L517 1974.5 L519.6 1974.6 L522.2 1974.7 L524.8 1974.7 L527.4 1974.8 L530 1974.8 L532.6 1974.9 L535.2 1974.9 L537.8 1975 L540.4 1975 L543 1975 L545.7 1975 L548.3 1975 L550.9 1975 L553.5 1975 L556.1 1975 L558.7 1974.9 L561.3 1974.9 L563.9 1974.8 L566.5 1974.7 L569.1 1974.7 L571.7 1974.6 L574.3 1974.4 L576.9 1974.3 L579.5 1974.1 L582.1 1973.9 L584.7 1973.7 L587.3 1973.5 L589.9 1973.3 L592.5 1973 L595.1 1972.7 L597.7 1972.4 L600.3 1972.1 L602.9 1971.7 L605.5 1971.3 L608.1 1970.9 L610.7 1970.4 L613.3 1969.9 L615.9 1969.4 L618.5 1968.9 L621.1 1968.3 L623.8 1967.7 L626.4 1967.1 L629 1966.4 L631.6 1965.8 L634.2 1965.1 L636.8 1964.4 L639.4 1963.7 L642 1962.9 L644.6 1962.2 L647.2 1961.4 L649.8 1960.6 L652.4 1959.9 L655 1959.1 L657.6 1958.3 L660.2 1957.6 L662.8 1956.9 L665.4 1956.2 L668 1955.5 L670.6 1954.9 L673.2 1954.3 L675.8 1953.7 L678.4 1953.2 L681 1952.8 L683.6 1952.4 L686.2 1952.1 L688.8 1951.9 L691.4 1951.7 L694 1951.6 L696.6 1951.6 L699.2 1951.6 L701.9 1951.8 L704.5 1952 L707.1 1952.2 L709.7 1952.5 L712.3 1952.9 L714.9 1953.4 L717.5 1953.8 L720.1 1954.4 L722.7 1955 L725.3 1955.6 L727.9 1956.2 L730.5 1956.9 L733.1 1957.5 L735.7 1958.2 L738.3 1958.9 L740.9 1959.7 L743.5 1960.4 L746.1 1961.1 L748.7 1961.7 L751.3 1962.4 L753.9 1963.1 L756.5 1963.7 L759.1 1964.3 L761.7 1964.9 L764.3 1965.4 L766.9 1966 L769.5 1966.5 L772.1 1967 L774.7 1967.6 L777.3 1968.1 L780 1968.5 L782.6 1969 L785.2 1969.5 L787.8 1970 L790.4 1970.4 L793 1970.9 L795.6 1971.3 L798.2 1971.8 L800.8 1972.2 L803.4 1972.6 L806 1973 L808.6 1973.4 L811.2 1973.7 L813.8 1974.1 L816.4 1974.4 L819 1974.7 L821.6 1975 L824.2 1975.2 L826.8 1975.4 L829.4 1975.6 L832 1975.8 L834.6 1976 L837.2 1976.2 L839.8 1976.3 L842.4 1976.4 L845 1976.6 L847.6 1976.7 L850.2 1976.8 L852.8 1976.9 L855.4 1977 L858.1 1977.1 L860.7 1977.2 L863.3 1977.3 L865.9 1977.4 L868.5 1977.5 L871.1 1977.6 L873.7 1977.7 L876.3 1977.8 L878.9 1977.9 L881.5 1978 L884.1 1978.1 L886.7 1978.2 L889.3 1978.3 L891.9 1978.4 L894.5 1978.4" stroke="#ff0000"/>
</g>
<text x="472.6" y="1997.3" font-size="38.2" text-anchor="end" >0</text>
<text x="472.6" y="1926.8" font-size="38.2" text-anchor="end" >0.2</text>
<text x="472.6" y="1856.3" font-size="38.2" text-anchor="end" >0.4</text>
<text x="472.6" y="1785.7" font-size="38.2" text-anchor="end" >0.6</text>
<text x="472.6" y="1715.2" font-size="38.2" text-anchor="end" >0.8</text>
<text x="472.6" y="1644.7" font-size="38.2" text-anchor="end" >1</text>
<text x="506.6" y="2043.6" font-size="38.2" text-anchor="middle" >400</text>
<text x="635.9" y="2043.6" font-size="38.2" text-anchor="middle" >500</text>
<text x="765.2" y="2043.6" font-size="38.2" text-anchor="middle" >600</text>
<text x="894.5" y="2043.6" font-size="38.2" text-anchor="middle" >700</text>
<text x="701.0" y="2094.0" font-size="38" text-anchor="middle" textLength="292" lengthAdjust="spacingAndGlyphs">Wavelength (nm)</text>
<text x="699.5" y="1609.9" font-size="37" text-anchor="middle" textLength="213" lengthAdjust="spacingAndGlyphs">Experiments</text>
<path d="M760.2 1837.7h40.6" stroke="#ff0000" stroke-width="5.4" stroke-linecap="round"/>
<text x="806.0" y="1850.0" font-size="38.2" >T</text>
<path d="M760.2 1882.6h40.6" stroke="#ffc000" stroke-width="5.4" stroke-linecap="round"/>
<text x="806.0" y="1894.9" font-size="38.2" >R</text>
<path d="M760.2 1927.6h40.6" stroke="#00b050" stroke-width="5.4" stroke-linecap="round"/>
<text x="806.0" y="1939.9" font-size="38.2" >bR</text>
<path d="M1093.65 1915.8h12.5M1093.65 1845.2h12.5M1093.65 1774.7h12.5M1093.65 1704.1h12.5M1158.3 1986.4v-12.5M1223.0 1986.4v-12.5M1287.6 1986.4v-12.5M1352.2 1986.4v-12.5M1416.9 1986.4v-12.5" stroke="#000" stroke-width="3.4" fill="none"/>
<rect x="1093.65" y="1633.5" width="387.9" height="352.9" fill="none" stroke="#000" stroke-width="4.3"/>
<g clip-path="url(#pc6)" fill="none" stroke-width="5.4" stroke-linejoin="round">
<path d="M1093.7 1712.9 L1096.3 1712.5 L1098.9 1712.2 L1101.5 1711.9 L1104.1 1711.6 L1106.7 1711.4 L1109.3 1711.2 L1111.9 1711.1 L1114.5 1711.2 L1117.1 1711.3 L1119.7 1711.5 L1122.3 1711.8 L1124.9 1712.1 L1127.5 1712.6 L1130.1 1713.2 L1132.7 1713.8 L1135.3 1714.6 L1137.9 1715.4 L1140.5 1716.3 L1143.1 1717.3 L1145.7 1718.4 L1148.3 1719.5 L1150.9 1720.7 L1153.5 1722.1 L1156.1 1723.5 L1158.7 1724.9 L1161.3 1726.5 L1163.9 1728.1 L1166.5 1729.9 L1169.1 1731.6 L1171.8 1733.5 L1174.4 1735.5 L1177 1737.5 L1179.6 1739.6 L1182.2 1741.8 L1184.8 1744.1 L1187.4 1746.5 L1190 1749 L1192.6 1751.6 L1195.2 1754.3 L1197.8 1757.2 L1200.4 1760.1 L1203 1763.2 L1205.6 1766.4 L1208.2 1769.7 L1210.8 1773.1 L1213.4 1776.6 L1216 1780.1 L1218.6 1783.7 L1221.2 1787.4 L1223.8 1791.1 L1226.4 1794.8 L1229 1798.5 L1231.6 1802.1 L1234.2 1805.8 L1236.8 1809.4 L1239.4 1813 L1242 1816.4 L1244.6 1819.8 L1247.2 1823.1 L1249.9 1826.2 L1252.5 1829.1 L1255.1 1831.9 L1257.7 1834.4 L1260.3 1836.7 L1262.9 1838.8 L1265.5 1840.5 L1268.1 1841.8 L1270.7 1842.8 L1273.3 1843.4 L1275.9 1843.6 L1278.5 1843.3 L1281.1 1842.5 L1283.7 1841.3 L1286.3 1839.5 L1288.9 1837.4 L1291.5 1834.7 L1294.1 1831.6 L1296.7 1828 L1299.3 1824 L1301.9 1819.7 L1304.5 1815.2 L1307.1 1810.5 L1309.7 1805.7 L1312.3 1800.9 L1314.9 1796.1 L1317.5 1791.4 L1320.1 1786.7 L1322.7 1782.1 L1325.3 1777.6 L1328 1773.2 L1330.6 1768.9 L1333.2 1764.8 L1335.8 1760.8 L1338.4 1756.9 L1341 1753.2 L1343.6 1749.6 L1346.2 1746.1 L1348.8 1742.8 L1351.4 1739.6 L1354 1736.6 L1356.6 1733.7 L1359.2 1730.9 L1361.8 1728.2 L1364.4 1725.6 L1367 1723.1 L1369.6 1720.8 L1372.2 1718.5 L1374.8 1716.3 L1377.4 1714.2 L1380 1712.2 L1382.6 1710.2 L1385.2 1708.4 L1387.8 1706.6 L1390.4 1704.8 L1393 1703.2 L1395.6 1701.6 L1398.2 1700 L1400.8 1698.5 L1403.4 1697.1 L1406.1 1695.7 L1408.7 1694.4 L1411.3 1693.1 L1413.9 1691.8 L1416.5 1690.6 L1419.1 1689.4 L1421.7 1688.3 L1424.3 1687.2 L1426.9 1686.1 L1429.5 1685 L1432.1 1684 L1434.7 1683 L1437.3 1682 L1439.9 1681.1 L1442.5 1680.1 L1445.1 1679.2 L1447.7 1678.4 L1450.3 1677.5 L1452.9 1676.7 L1455.5 1675.9 L1458.1 1675.1 L1460.7 1674.4 L1463.3 1673.6 L1465.9 1672.9 L1468.5 1672.2 L1471.1 1671.5 L1473.7 1670.8 L1476.3 1670.1 L1478.9 1669.5 L1481.5 1668.8" stroke="#00b050"/>
<path d="M1093.7 1868.5 L1096.3 1867.4 L1098.9 1866.3 L1101.5 1865.3 L1104.1 1864.2 L1106.7 1863.1 L1109.3 1862 L1111.9 1860.9 L1114.5 1859.8 L1117.1 1858.7 L1119.7 1857.5 L1122.3 1856.4 L1124.9 1855.3 L1127.5 1854.2 L1130.1 1853 L1132.7 1851.9 L1135.3 1850.7 L1137.9 1849.6 L1140.5 1848.4 L1143.1 1847.2 L1145.7 1846 L1148.3 1844.8 L1150.9 1843.6 L1153.5 1842.4 L1156.1 1841.1 L1158.7 1839.8 L1161.3 1838.5 L1163.9 1837.2 L1166.5 1835.8 L1169.1 1834.4 L1171.8 1833 L1174.4 1831.6 L1177 1830.1 L1179.6 1828.5 L1182.2 1826.9 L1184.8 1825.3 L1187.4 1823.6 L1190 1821.9 L1192.6 1820.1 L1195.2 1818.2 L1197.8 1816.3 L1200.4 1814.3 L1203 1812.2 L1205.6 1810 L1208.2 1807.7 L1210.8 1805.4 L1213.4 1802.9 L1216 1800.3 L1218.6 1797.6 L1221.2 1794.8 L1223.8 1791.9 L1226.4 1788.9 L1229 1785.7 L1231.6 1782.4 L1234.2 1779 L1236.8 1775.5 L1239.4 1771.9 L1242 1768.2 L1244.6 1764.4 L1247.2 1760.6 L1249.9 1756.7 L1252.5 1752.9 L1255.1 1749 L1257.7 1745.1 L1260.3 1741.3 L1262.9 1737.5 L1265.5 1733.8 L1268.1 1730.1 L1270.7 1726.6 L1273.3 1723.2 L1275.9 1719.8 L1278.5 1716.7 L1281.1 1713.8 L1283.7 1711.2 L1286.3 1708.9 L1288.9 1707.1 L1291.5 1705.6 L1294.1 1704.7 L1296.7 1704.4 L1299.3 1704.5 L1301.9 1705 L1304.5 1706 L1307.1 1707.3 L1309.7 1708.9 L1312.3 1710.8 L1314.9 1712.9 L1317.5 1715.2 L1320.1 1717.6 L1322.7 1720.1 L1325.3 1722.6 L1328 1725 L1330.6 1727.4 L1333.2 1729.6 L1335.8 1731.7 L1338.4 1733.8 L1341 1735.8 L1343.6 1737.8 L1346.2 1739.8 L1348.8 1741.8 L1351.4 1743.8 L1354 1745.8 L1356.6 1747.9 L1359.2 1750 L1361.8 1752.2 L1364.4 1754.3 L1367 1756.5 L1369.6 1758.6 L1372.2 1760.7 L1374.8 1762.8 L1377.4 1764.8 L1380 1766.8 L1382.6 1768.8 L1385.2 1770.7 L1387.8 1772.6 L1390.4 1774.5 L1393 1776.3 L1395.6 1778 L1398.2 1779.8 L1400.8 1781.5 L1403.4 1783.1 L1406.1 1784.7 L1408.7 1786.3 L1411.3 1787.8 L1413.9 1789.3 L1416.5 1790.7 L1419.1 1792.1 L1421.7 1793.4 L1424.3 1794.7 L1426.9 1796 L1429.5 1797.2 L1432.1 1798.4 L1434.7 1799.6 L1437.3 1800.7 L1439.9 1801.8 L1442.5 1802.9 L1445.1 1804 L1447.7 1805 L1450.3 1806.1 L1452.9 1807.1 L1455.5 1808.1 L1458.1 1809.1 L1460.7 1810.1 L1463.3 1811.1 L1465.9 1812.1 L1468.5 1813.1 L1471.1 1814.1 L1473.7 1815.1 L1476.3 1816.1 L1478.9 1817.1 L1481.5 1818.1" stroke="#ffc000"/>
<path d="M1093.7 1975.1 L1096.3 1975.2 L1098.9 1975.2 L1101.5 1975.2 L1104.1 1975.3 L1106.7 1975.3 L1109.3 1975.3 L1111.9 1975.4 L1114.5 1975.4 L1117.1 1975.4 L1119.7 1975.4 L1122.3 1975.4 L1124.9 1975.4 L1127.5 1975.4 L1130.1 1975.3 L1132.7 1975.3 L1135.3 1975.2 L1137.9 1975.1 L1140.5 1975.1 L1143.1 1974.9 L1145.7 1974.8 L1148.3 1974.7 L1150.9 1974.5 L1153.5 1974.3 L1156.1 1974.1 L1158.7 1973.9 L1161.3 1973.7 L1163.9 1973.4 L1166.5 1973.1 L1169.1 1972.8 L1171.8 1972.4 L1174.4 1972 L1177 1971.6 L1179.6 1971.2 L1182.2 1970.7 L1184.8 1970.2 L1187.4 1969.7 L1190 1969.2 L1192.6 1968.6 L1195.2 1968 L1197.8 1967.4 L1200.4 1966.8 L1203 1966.1 L1205.6 1965.5 L1208.2 1964.8 L1210.8 1964.1 L1213.4 1963.4 L1216 1962.7 L1218.6 1962 L1221.2 1961.3 L1223.8 1960.5 L1226.4 1959.8 L1229 1959.1 L1231.6 1958.4 L1234.2 1957.6 L1236.8 1956.9 L1239.4 1956.3 L1242 1955.6 L1244.6 1955 L1247.2 1954.3 L1249.9 1953.8 L1252.5 1953.2 L1255.1 1952.7 L1257.7 1952.2 L1260.3 1951.8 L1262.9 1951.5 L1265.5 1951.2 L1268.1 1951 L1270.7 1950.8 L1273.3 1950.7 L1275.9 1950.7 L1278.5 1950.8 L1281.1 1951 L1283.7 1951.2 L1286.3 1951.5 L1288.9 1951.9 L1291.5 1952.4 L1294.1 1952.9 L1296.7 1953.4 L1299.3 1954.1 L1301.9 1954.8 L1304.5 1955.5 L1307.1 1956.2 L1309.7 1957 L1312.3 1957.9 L1314.9 1958.7 L1317.5 1959.6 L1320.1 1960.5 L1322.7 1961.4 L1325.3 1962.2 L1328 1963.1 L1330.6 1964 L1333.2 1964.8 L1335.8 1965.6 L1338.4 1966.5 L1341 1967.2 L1343.6 1968 L1346.2 1968.7 L1348.8 1969.5 L1351.4 1970.2 L1354 1970.8 L1356.6 1971.5 L1359.2 1972.1 L1361.8 1972.7 L1364.4 1973.3 L1367 1973.8 L1369.6 1974.3 L1372.2 1974.8 L1374.8 1975.2 L1377.4 1975.6 L1380 1976 L1382.6 1976.3 L1385.2 1976.6 L1387.8 1976.9 L1390.4 1977.2 L1393 1977.4 L1395.6 1977.7 L1398.2 1977.9 L1400.8 1978.1 L1403.4 1978.2 L1406.1 1978.4 L1408.7 1978.5 L1411.3 1978.6 L1413.9 1978.8 L1416.5 1978.9 L1419.1 1979 L1421.7 1979.1 L1424.3 1979.2 L1426.9 1979.2 L1429.5 1979.3 L1432.1 1979.4 L1434.7 1979.5 L1437.3 1979.6 L1439.9 1979.6 L1442.5 1979.7 L1445.1 1979.8 L1447.7 1979.8 L1450.3 1979.9 L1452.9 1979.9 L1455.5 1980 L1458.1 1980 L1460.7 1980.1 L1463.3 1980.1 L1465.9 1980.2 L1468.5 1980.2 L1471.1 1980.2 L1473.7 1980.3 L1476.3 1980.3 L1478.9 1980.4 L1481.5 1980.4" stroke="#ff0000"/>
</g>
<text x="1059.7" y="1998.2" font-size="38.2" text-anchor="end" >0</text>
<text x="1059.7" y="1927.6" font-size="38.2" text-anchor="end" >0.2</text>
<text x="1059.7" y="1857.0" font-size="38.2" text-anchor="end" >0.4</text>
<text x="1059.7" y="1786.5" font-size="38.2" text-anchor="end" >0.6</text>
<text x="1059.7" y="1715.9" font-size="38.2" text-anchor="end" >0.8</text>
<text x="1059.7" y="1645.3" font-size="38.2" text-anchor="end" >1</text>
<text x="1093.7" y="2044.5" font-size="38.2" text-anchor="middle" >400</text>
<text x="1223.0" y="2044.5" font-size="38.2" text-anchor="middle" >500</text>
<text x="1352.2" y="2044.5" font-size="38.2" text-anchor="middle" >600</text>
<text x="1481.5" y="2044.5" font-size="38.2" text-anchor="middle" >700</text>
<text x="1288.1" y="2094.9" font-size="38" text-anchor="middle" textLength="292" lengthAdjust="spacingAndGlyphs">Wavelength (nm)</text>
<text x="1286.6" y="1610.5" font-size="37" text-anchor="middle" textLength="200" lengthAdjust="spacingAndGlyphs">Simulations</text>
<path d="M1349.0 1848.3h40.6" stroke="#ff0000" stroke-width="5.4" stroke-linecap="round"/>
<text x="1394.8" y="1860.6" font-size="38.2" >T</text>
<path d="M1349.0 1888h40.6" stroke="#ffc000" stroke-width="5.4" stroke-linecap="round"/>
<text x="1394.8" y="1900.3" font-size="38.2" >R</text>
<path d="M1349.0 1928h40.6" stroke="#00b050" stroke-width="5.4" stroke-linecap="round"/>
<text x="1394.8" y="1940.3" font-size="38.2" >bR</text>
<rect x="1568" y="1638.3" width="120" height="120.3" fill="url(#sw1)"/>
<path d="M1568 1638.3h34l-32 3.5l1.5 113l-3.5 3.8z" fill="#17233a" opacity=".8"/>
<path d="M1686.5 1640v117" stroke="#b9d3b4" stroke-width="1.2"/>
<rect x="1568" y="1779" width="120" height="119.7" fill="url(#sw2)"/>
<g fill="#c39a62" opacity=".55"><circle cx="1611" cy="1807" r="1.6"/><circle cx="1622" cy="1812" r="1.3"/><circle cx="1634" cy="1815" r="1.2"/><circle cx="1667" cy="1810" r="2.2"/><circle cx="1672" cy="1812" r="1.5"/><circle cx="1655" cy="1827" r="1"/></g>
<rect x="1568" y="1919" width="120" height="120" fill="#2a2440"/>
<path d="M1568 1922.5q2 -1 5 -.5h105q4.5 0 4.5 4v108q0 3.5 -3 3.5h-111.5z" fill="url(#sw3)"/>
<text x="1576.5" y="1674.5" font-size="31.5" font-weight="bold" stroke="#fff" stroke-width="3.6" paint-order="stroke" stroke-linejoin="round">T</text>
<text x="1576.0" y="1812.5" font-size="31.5" font-weight="bold" stroke="#fff" stroke-width="3.6" paint-order="stroke" stroke-linejoin="round">R</text>
<text x="1576.0" y="1954.5" font-size="31.5" font-weight="bold" stroke="#fff" stroke-width="3.6" paint-order="stroke" stroke-linejoin="round">bR</text>
</svg></div></body></html>
